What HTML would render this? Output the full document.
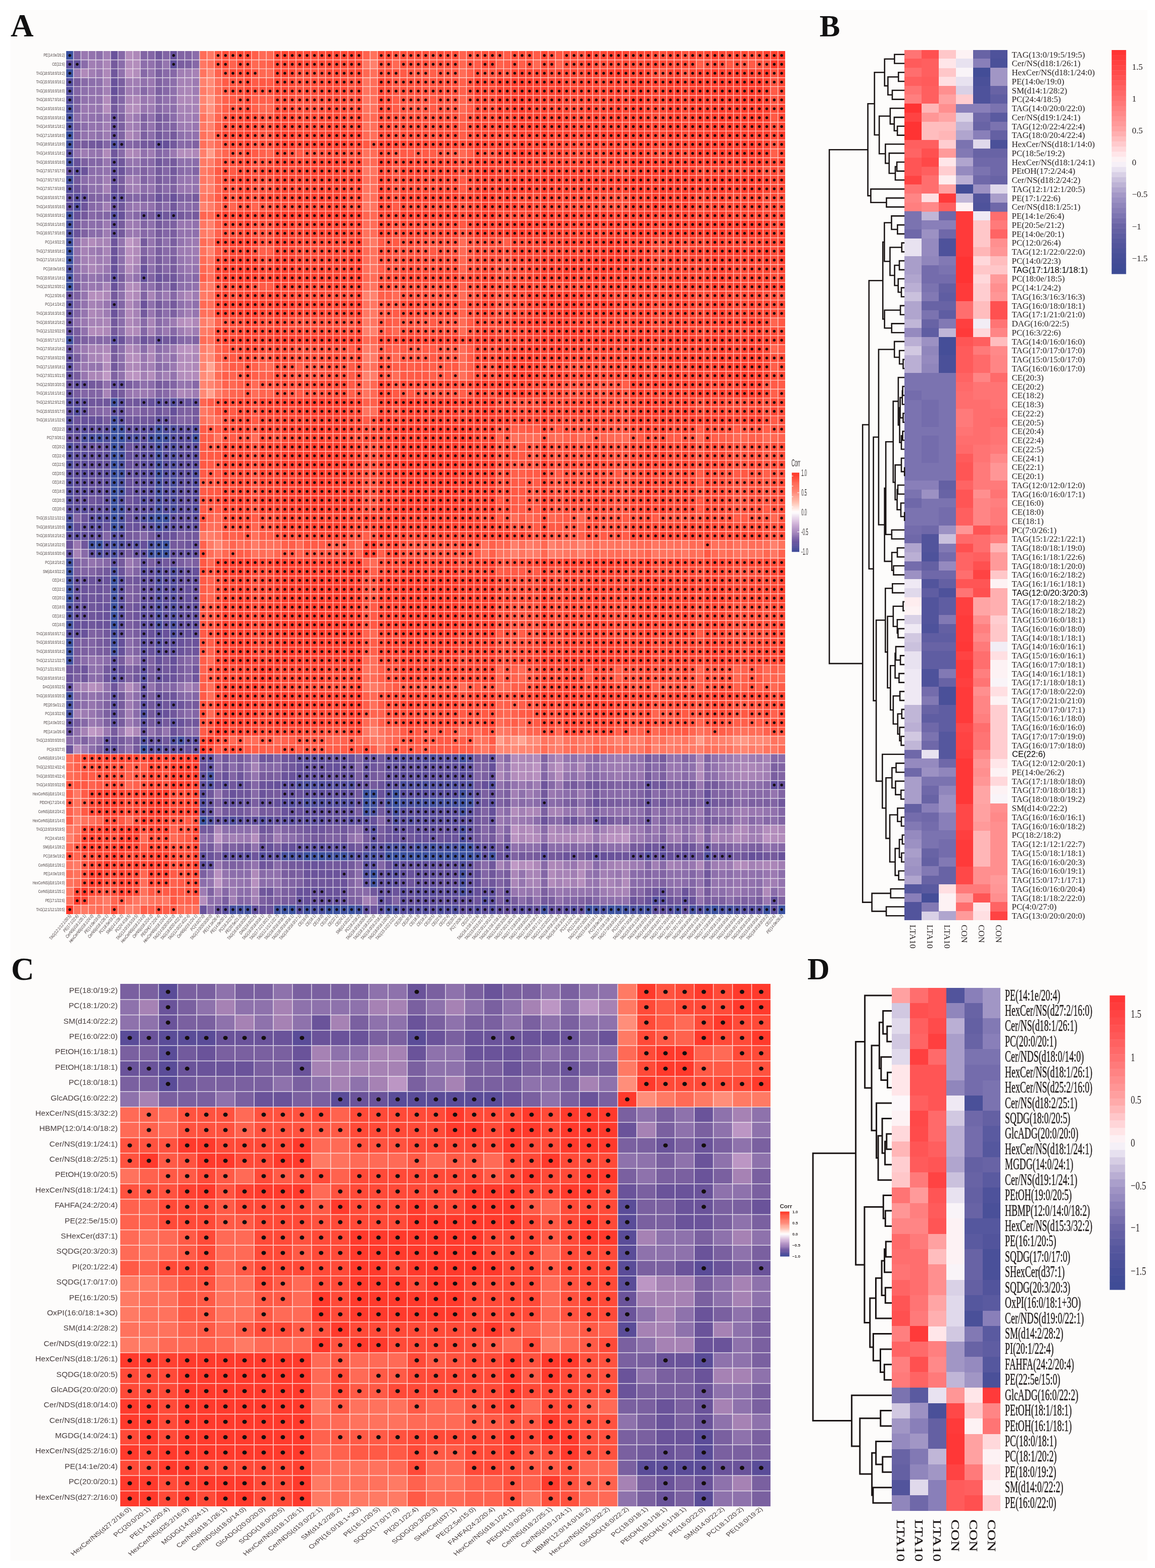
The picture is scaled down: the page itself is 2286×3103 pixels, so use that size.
<!DOCTYPE html><html><head><meta charset="utf-8"><title>Lipid correlation heatmaps</title><style>html,body{margin:0;padding:0;background:#fff}svg{display:block}</style></head><body><svg width="2286" height="3103" viewBox="0 0 2286 3103"><rect width="2286" height="3103" fill="#ffffff"/><rect x="20.7" y="19.7" width="2250.3" height="3068.8" fill="#fdfcfb"/><g font-family="Liberation Serif, serif" font-weight="bold" fill="#111"><text x="21" y="72" font-size="63">A</text><text x="1622" y="72" font-size="61">B</text><text x="22" y="1938.5" font-size="63">C</text><text x="1598" y="1937.5" font-size="61">D</text></g><g fill="none" shape-rendering="crispEdges"><path stroke="#3b52a1" stroke-width="17.91" d="M130.8 109.7h14.68M218.86 849.24h14.68M218.86 884.46h14.68M218.86 902.06h14.68M218.86 919.67h14.68M218.86 937.28h14.68M218.86 954.89h14.68M218.86 972.5h14.68M218.86 1007.71h14.68M306.91 1025.32h14.68M776.54 1588.78h14.68M791.22 1694.42h14.68M820.57 1694.42h88.06M923.3 1694.42h14.68M1539.7 1800.07h14.68"/><path stroke="#7f62a2" stroke-width="17.91" d="M145.48 109.7h14.68M306.91 162.53h14.68M233.53 232.96h14.68M277.56 232.96h14.68M321.59 232.96h14.68M145.48 268.18h14.68M380.29 285.78h14.68M277.56 338.61h14.68M336.26 373.82h14.68M174.83 391.43h14.68M365.62 391.43h14.68M160.15 461.86h14.68M145.48 585.12h14.68M380.29 673.16h14.68M218.86 743.59h14.68M174.83 814.02h14.68M365.62 814.02h14.68M145.48 1113.36h14.68M248.21 1166.18h14.68M248.21 1183.79h14.68M174.83 1254.22h14.68M262.88 1271.83h14.68M145.48 1307.05h14.68M292.24 1307.05h14.68M350.94 1307.05h14.68M248.21 1342.26h14.68M204.18 1395.09h14.68M233.53 1412.7h14.68M204.18 1430.3h14.68M306.91 1447.91h14.68M160.15 1465.52h14.68M1070.06 1500.74h14.68M1392.94 1500.74h14.68M952.66 1518.34h14.68M1304.88 1518.34h14.68M541.73 1535.95h14.68M1319.56 1553.56h14.68M1436.96 1571.17h14.68M424.32 1588.78h14.68M1495.67 1588.78h14.68M541.73 1606.38h14.68M1348.91 1623.99h14.68M1436.96 1623.99h14.68M571.08 1641.6h14.68M512.38 1659.21h14.68M644.46 1659.21h29.35M453.67 1676.82h14.68M1436.96 1676.82h14.68M1011.36 1694.42h14.68M439 1712.03h14.68M468.35 1712.03h14.68M585.76 1747.25h14.68M952.66 1747.25h14.68M1304.88 1747.25h14.68M409.64 1764.86h14.68M1246.18 1764.86h14.68M541.73 1782.46h14.68M703.16 1782.46h14.68M1143.44 1782.46h14.68M1407.61 1782.46h14.68M1539.7 1782.46h14.68"/><path stroke="#9a78b1" stroke-width="17.91" d="M160.15 109.7h14.68M145.48 144.92h14.68M292.24 162.53h14.68M160.15 215.35h14.68M336.26 303.39h14.68M365.62 373.82h14.68M262.88 409.04h14.68M248.21 461.86h29.35M380.29 514.69h14.68M204.18 532.3h14.68M365.62 532.3h14.68M174.83 567.51h14.68M160.15 637.94h14.68M321.59 655.55h14.68M160.15 725.98h14.68M277.56 725.98h14.68M336.26 725.98h14.68M292.24 778.81h14.68M145.48 1078.14h14.68M174.83 1430.3h14.68M204.18 1447.91h14.68M233.53 1447.91h14.68M1202.15 1500.74h14.68M1187.47 1518.34h14.68M1319.56 1518.34h14.68M1026.04 1553.56h14.68M1378.26 1553.56h14.68M1084.74 1571.17h14.68M982.01 1606.38h14.68M1495.67 1606.38h14.68M1026.04 1623.99h14.68M1246.18 1641.6h14.68M1290.2 1641.6h14.68M1246.18 1659.21h14.68M424.32 1676.82h14.68M424.32 1712.03h14.68M1187.47 1712.03h14.68M439 1747.25h14.68M1158.12 1747.25h14.68M1026.04 1764.86h14.68M1099.42 1764.86h14.68M1451.64 1764.86h14.68M1539.7 1764.86h14.68M732.52 1782.46h14.68M1510.34 1782.46h14.68"/><path stroke="#9373ae" stroke-width="17.91" d="M174.83 109.7h14.68M174.83 197.74h29.35M174.83 250.57h14.68M292.24 250.57h14.68M160.15 268.18h14.68M365.62 268.18h14.68M145.48 303.39h14.68M189.5 303.39h14.68M204.18 338.61h14.68M380.29 356.22h14.68M380.29 373.82h14.68M248.21 409.04h14.68M350.94 461.86h29.35M233.53 479.47h14.68M350.94 479.47h14.68M292.24 497.08h14.68M380.29 532.3h14.68M160.15 602.73h14.68M321.59 637.94h14.68M189.5 725.98h14.68M336.26 743.59h14.68M365.62 761.2h14.68M336.26 778.81h14.68M174.83 1113.36h14.68M262.88 1307.05h14.68M204.18 1359.87h14.68M292.24 1359.87h14.68M174.83 1377.48h14.68M189.5 1430.3h14.68M145.48 1447.91h14.68M292.24 1447.91h14.68M174.83 1465.52h14.68M248.21 1483.13h14.68M1187.47 1500.74h14.68M1319.56 1500.74h29.35M996.68 1518.34h14.68M1246.18 1518.34h14.68M1407.61 1518.34h14.68M1231.5 1535.95h29.35M982.01 1553.56h14.68M1011.36 1553.56h14.68M1099.42 1571.17h14.68M424.32 1606.38h14.68M497.7 1606.38h14.68M1216.82 1606.38h14.68M1422.29 1606.38h14.68M541.73 1641.6h14.68M394.97 1659.21h14.68M1290.2 1659.21h14.68M1231.5 1676.82h14.68M497.7 1712.03h14.68M1348.91 1712.03h14.68M439 1729.64h14.68M1026.04 1729.64h14.68M1378.26 1729.64h14.68M1466.32 1729.64h14.68M409.64 1747.25h14.68M483.02 1747.25h14.68M703.16 1747.25h14.68M1422.29 1747.25h14.68M1466.32 1747.25h14.68M1539.7 1747.25h14.68M1128.77 1764.86h14.68M1407.61 1764.86h14.68M424.32 1782.46h14.68M1378.26 1782.46h14.68"/><path stroke="#8c6eab" stroke-width="17.91" d="M189.5 109.7h14.68M277.56 127.31h14.68M174.83 162.53h14.68M336.26 162.53h14.68M336.26 215.35h14.68M145.48 232.96h14.68M189.5 232.96h14.68M160.15 250.57h14.68M292.24 268.18h14.68M189.5 338.61h14.68M262.88 338.61h14.68M292.24 338.61h14.68M365.62 338.61h14.68M277.56 373.82h14.68M350.94 409.04h14.68M174.83 444.26h14.68M233.53 497.08h14.68M233.53 514.69h14.68M160.15 549.9h14.68M350.94 567.51h14.68M306.91 585.12h14.68M321.59 620.34h14.68M233.53 655.55h14.68M233.53 690.77h14.68M233.53 708.38h14.68M189.5 1113.36h14.68M248.21 1271.83h14.68M248.21 1289.44h14.68M160.15 1377.48h14.68M189.5 1377.48h14.68M262.88 1377.48h14.68M160.15 1395.09h14.68M189.5 1395.09h14.68M262.88 1395.09h14.68M189.5 1412.7h14.68M262.88 1430.3h14.68M145.48 1465.52h14.68M189.5 1465.52h14.68M174.83 1483.13h14.68M1348.91 1518.34h14.68M1158.12 1535.95h14.68M1290.2 1535.95h14.68M1451.64 1553.56h14.68M1495.67 1553.56h14.68M1114.09 1571.17h14.68M1143.44 1588.78h14.68M1348.91 1606.38h14.68M1407.61 1606.38h14.68M1319.56 1623.99h14.68M1525.02 1623.99h14.68M439 1641.6h14.68M468.35 1641.6h29.35M1348.91 1641.6h14.68M556.4 1659.21h29.35M1040.71 1676.82h29.35M1084.74 1676.82h14.68M1202.15 1676.82h29.35M409.64 1729.64h14.68M453.67 1729.64h44.03M703.16 1729.64h14.68M1348.91 1729.64h14.68M1436.96 1729.64h14.68M1539.7 1729.64h14.68M394.97 1747.25h14.68M1260.85 1747.25h14.68M1495.67 1747.25h14.68M468.35 1764.86h29.35M1172.8 1764.86h14.68M1422.29 1764.86h14.68M409.64 1782.46h14.68M1436.96 1782.46h14.68"/><path stroke="#a17eb4" stroke-width="17.91" d="M204.18 109.7h14.68M174.83 127.31h14.68M174.83 144.92h14.68M350.94 144.92h14.68M248.21 162.53h29.35M248.21 180.14h14.68M292.24 197.74h14.68M350.94 232.96h14.68M204.18 250.57h14.68M204.18 356.22h14.68M262.88 373.82h14.68M204.18 409.04h14.68M350.94 585.12h14.68M189.5 602.73h14.68M365.62 620.34h14.68M248.21 1307.05h14.68M1114.09 1518.34h14.68M1143.44 1535.95h14.68M1436.96 1535.95h14.68M1510.34 1535.95h14.68M1466.32 1606.38h14.68M1319.56 1641.6h14.68M1495.67 1641.6h14.68M541.73 1659.21h14.68M1480.99 1659.21h29.35M1290.2 1712.03h14.68M1334.23 1712.03h14.68M1422.29 1712.03h14.68M1539.7 1712.03h14.68M1128.77 1729.64h14.68M1510.34 1747.25h29.35"/><path stroke="#69529b" stroke-width="17.91" d="M218.86 109.7h14.68M218.86 162.53h14.68M145.48 321h14.68M336.26 391.43h14.68M145.48 426.65h14.68M233.53 426.65h14.68M218.86 514.69h14.68M277.56 532.3h14.68M306.91 549.9h14.68M218.86 567.51h14.68M248.21 954.89h14.68M189.5 990.1h14.68M248.21 1025.32h14.68M204.18 1042.93h14.68M262.88 1042.93h14.68M321.59 1060.54h14.68M204.18 1201.4h14.68M204.18 1219.01h14.68M160.15 1236.62h14.68M160.15 1254.22h14.68M292.24 1254.22h14.68M321.59 1254.22h14.68M350.94 1271.83h14.68M292.24 1289.44h14.68M336.26 1324.66h14.68M130.8 1342.26h14.68M321.59 1412.7h14.68M350.94 1430.3h14.68M218.86 1465.52h14.68M130.8 1483.13h14.68M365.62 1483.13h14.68M394.97 1518.34h14.68M439 1535.95h14.68M571.08 1535.95h14.68M527.05 1553.56h14.68M1304.88 1553.56h14.68M453.67 1571.17h14.68M585.76 1571.17h14.68M747.19 1571.17h14.68M1172.8 1588.78h14.68M556.4 1606.38h14.68M585.76 1606.38h14.68M1187.47 1623.99h14.68M761.87 1641.6h14.68M776.54 1659.21h14.68M835.25 1659.21h14.68M1275.53 1676.82h14.68M409.64 1694.42h14.68M1158.12 1694.42h14.68M1202.15 1694.42h14.68M1495.67 1694.42h14.68M1539.7 1694.42h14.68M615.11 1712.03h29.35M761.87 1712.03h14.68M805.9 1729.64h14.68M585.76 1764.86h29.35M1275.53 1782.46h14.68M1363.58 1782.46h14.68M394.97 1800.07h14.68M512.38 1800.07h14.68"/><path stroke="#8668a7" stroke-width="17.91" d="M233.53 109.7h14.68M380.29 127.31h14.68M277.56 144.92h14.68M336.26 144.92h14.68M277.56 180.14h14.68M321.59 180.14h14.68M306.91 197.74h14.68M306.91 215.35h14.68M248.21 285.78h14.68M365.62 285.78h14.68M174.83 409.04h14.68M380.29 409.04h14.68M174.83 426.65h14.68M262.88 426.65h14.68M277.56 461.86h14.68M321.59 532.3h14.68M350.94 549.9h14.68M380.29 549.9h14.68M233.53 567.51h14.68M336.26 585.12h14.68M321.59 602.73h14.68M336.26 655.55h14.68M174.83 673.16h14.68M380.29 761.2h14.68M262.88 814.02h14.68M277.56 1060.54h14.68M204.18 1113.36h14.68M204.18 1377.48h14.68M160.15 1430.3h14.68M996.68 1500.74h14.68M1172.8 1500.74h14.68M1290.2 1500.74h14.68M1525.02 1500.74h14.68M1392.94 1518.34h14.68M1172.8 1535.95h14.68M1084.74 1553.56h14.68M1143.44 1553.56h14.68M1510.34 1553.56h14.68M1128.77 1571.17h14.68M1187.47 1571.17h14.68M1480.99 1571.17h14.68M1451.64 1588.78h29.35M747.19 1623.99h14.68M1246.18 1623.99h14.68M1480.99 1623.99h14.68M1510.34 1623.99h14.68M952.66 1641.6h14.68M1275.53 1641.6h14.68M1392.94 1659.21h14.68M1158.12 1676.82h14.68M1539.7 1676.82h14.68M483.02 1712.03h14.68M703.16 1712.03h14.68M1070.06 1747.25h14.68M1275.53 1747.25h29.35M439 1764.86h14.68"/><path stroke="#b38dbc" stroke-width="17.91" d="M248.21 109.7h14.68M248.21 127.31h29.35M262.88 144.92h14.68M248.21 215.35h29.35M350.94 303.39h29.35M262.88 479.47h14.68M248.21 532.3h14.68M248.21 567.51h14.68M248.21 655.55h14.68M365.62 708.38h14.68M204.18 725.98h14.68M365.62 725.98h14.68M292.24 743.59h14.68M350.94 743.59h14.68M1026.04 1518.34h29.35M1378.26 1518.34h14.68M1011.36 1535.95h14.68M1378.26 1535.95h14.68M1011.36 1606.38h14.68M1231.5 1641.6h14.68M1451.64 1641.6h14.68M1510.34 1641.6h29.35M1084.74 1659.21h14.68M1158.12 1659.21h14.68M1187.47 1659.21h14.68M1451.64 1659.21h14.68M1525.02 1659.21h29.35M1026.04 1712.03h14.68"/><path stroke="#ae88b9" stroke-width="17.91" d="M262.88 109.7h14.68M204.18 144.92h14.68M262.88 197.74h14.68M350.94 197.74h29.35M248.21 268.18h14.68M380.29 303.39h14.68M262.88 514.69h14.68M204.18 585.12h14.68M365.62 585.12h14.68M248.21 602.73h14.68M174.83 620.34h14.68M380.29 637.94h14.68M204.18 655.55h14.68M204.18 690.77h14.68M292.24 708.38h14.68M248.21 725.98h29.35M380.29 725.98h14.68M350.94 778.81h14.68M262.88 1447.91h14.68M1026.04 1500.74h14.68M1099.42 1500.74h14.68M1378.26 1500.74h14.68M1143.44 1518.34h14.68M1466.32 1518.34h14.68M982.01 1535.95h14.68M1466.32 1535.95h14.68M1040.71 1606.38h14.68M424.32 1641.6h14.68M1026.04 1641.6h14.68M1202.15 1641.6h14.68M1466.32 1641.6h14.68M1539.7 1641.6h14.68M1026.04 1659.21h14.68M1128.77 1659.21h14.68M1407.61 1659.21h14.68M1055.39 1712.03h14.68M1084.74 1712.03h14.68M1143.44 1712.03h14.68M1510.34 1712.03h14.68M1114.09 1747.25h14.68"/><path stroke="#8164a4" stroke-width="17.91" d="M277.56 109.7h14.68M321.59 109.7h14.68M350.94 109.7h29.35M306.91 127.31h14.68M145.48 215.35h14.68M277.56 250.57h14.68M336.26 250.57h14.68M233.53 268.18h14.68M321.59 268.18h14.68M262.88 285.78h14.68M380.29 338.61h14.68M277.56 356.22h14.68M160.15 373.82h14.68M189.5 391.43h14.68M248.21 391.43h14.68M292.24 391.43h14.68M189.5 426.65h14.68M277.56 444.26h14.68M321.59 444.26h14.68M277.56 497.08h14.68M336.26 497.08h14.68M292.24 549.9h14.68M277.56 585.12h14.68M336.26 761.2h14.68M174.83 778.81h14.68M306.91 778.81h14.68M292.24 814.02h14.68M365.62 831.63h14.68M145.48 1025.32h14.68M160.15 1130.97h29.35M262.88 1130.97h14.68M174.83 1271.83h14.68M174.83 1289.44h14.68M262.88 1289.44h14.68M380.29 1307.05h14.68M248.21 1324.66h14.68M350.94 1412.7h14.68M541.73 1500.74h14.68M1348.91 1500.74h14.68M937.98 1518.34h14.68M1539.7 1518.34h14.68M453.67 1535.95h14.68M1539.7 1535.95h14.68M996.68 1553.56h14.68M1216.82 1553.56h14.68M1422.29 1553.56h14.68M1260.85 1571.17h14.68M1407.61 1571.17h14.68M1539.7 1571.17h14.68M982.01 1588.78h14.68M1525.02 1588.78h14.68M952.66 1606.38h14.68M1172.8 1606.38h14.68M1304.88 1606.38h14.68M1143.44 1623.99h14.68M1216.82 1623.99h14.68M1260.85 1623.99h14.68M1334.23 1623.99h14.68M1422.29 1623.99h14.68M1539.7 1623.99h14.68M556.4 1641.6h14.68M688.49 1641.6h14.68M1392.94 1641.6h14.68M527.05 1659.21h14.68M1304.88 1659.21h14.68M1407.61 1676.82h14.68M1275.53 1729.64h14.68M1304.88 1729.64h14.68M556.4 1747.25h29.35M688.49 1747.25h14.68M982.01 1747.25h14.68M688.49 1764.86h14.68M1319.56 1764.86h14.68M776.54 1782.46h14.68M1451.64 1782.46h14.68"/><path stroke="#8366a6" stroke-width="17.91" d="M292.24 109.7h14.68M145.48 180.14h14.68M233.53 197.74h14.68M321.59 250.57h14.68M204.18 285.78h14.68M306.91 303.39h14.68M174.83 321h29.35M277.56 321h14.68M321.59 338.61h14.68M321.59 356.22h14.68M262.88 391.43h14.68M204.18 426.65h14.68M321.59 461.86h14.68M145.48 549.9h14.68M277.56 567.51h14.68M145.48 602.73h14.68M233.53 602.73h14.68M145.48 620.34h14.68M277.56 655.55h14.68M189.5 673.16h14.68M350.94 673.16h14.68M262.88 761.2h14.68M160.15 778.81h14.68M189.5 778.81h14.68M189.5 814.02h14.68M248.21 814.02h14.68M350.94 831.63h14.68M204.18 1060.54h14.68M365.62 1113.36h14.68M248.21 1254.22h14.68M365.62 1324.66h14.68M365.62 1342.26h14.68M336.26 1359.87h14.68M350.94 1377.48h14.68M380.29 1377.48h14.68M145.48 1395.09h14.68M380.29 1412.7h14.68M453.67 1500.74h14.68M483.02 1500.74h14.68M512.38 1518.34h29.35M703.16 1518.34h14.68M483.02 1535.95h14.68M937.98 1535.95h14.68M1070.06 1535.95h14.68M497.7 1553.56h14.68M1246.18 1571.17h14.68M1334.23 1571.17h29.35M1422.29 1571.17h14.68M1378.26 1588.78h14.68M1539.7 1606.38h14.68M1084.74 1623.99h14.68M1158.12 1623.99h14.68M1363.58 1623.99h14.68M996.68 1641.6h14.68M1304.88 1641.6h14.68M585.76 1659.21h14.68M952.66 1659.21h14.68M1128.77 1676.82h14.68M1466.32 1676.82h14.68M747.19 1712.03h14.68M1275.53 1712.03h14.68M1392.94 1712.03h14.68M952.66 1729.64h14.68M982.01 1729.64h14.68M1070.06 1729.64h14.68M1363.58 1729.64h14.68M1363.58 1747.25h14.68M982.01 1764.86h14.68M468.35 1782.46h14.68M1114.09 1782.46h29.35M1172.8 1782.46h14.68M1480.99 1782.46h14.68"/><path stroke="#70579c" stroke-width="17.91" d="M306.91 109.7h14.68M218.86 144.92h14.68M218.86 197.74h14.68M189.5 285.78h14.68M218.86 303.39h14.68M233.53 321h14.68M306.91 321h14.68M233.53 409.04h14.68M321.59 426.65h14.68M336.26 549.9h14.68M336.26 567.51h14.68M174.83 796.42h44.03M262.88 796.42h14.68M262.88 831.63h44.03M248.21 990.1h14.68M160.15 1078.14h14.68M262.88 1148.58h14.68M174.83 1166.18h14.68M174.83 1183.79h14.68M174.83 1201.4h14.68M174.83 1219.01h14.68M174.83 1236.62h14.68M365.62 1271.83h14.68M380.29 1324.66h14.68M160.15 1342.26h14.68M262.88 1342.26h14.68M321.59 1377.48h14.68M321.59 1395.09h14.68M336.26 1412.7h14.68M380.29 1430.3h14.68M321.59 1465.52h14.68M439 1500.74h14.68M527.05 1500.74h14.68M571.08 1518.34h14.68M453.67 1553.56h14.68M1158.12 1553.56h29.35M409.64 1571.17h14.68M468.35 1571.17h29.35M1275.53 1571.17h14.68M1363.58 1588.78h14.68M1539.7 1588.78h14.68M937.98 1606.38h14.68M937.98 1623.99h14.68M512.38 1641.6h14.68M673.81 1641.6h14.68M937.98 1641.6h14.68M967.33 1641.6h14.68M805.9 1659.21h14.68M1290.2 1676.82h14.68M1363.58 1676.82h14.68M1378.26 1694.42h14.68M1466.32 1694.42h14.68M1510.34 1694.42h14.68M967.33 1712.03h14.68M967.33 1729.64h14.68M1392.94 1729.64h14.68M600.43 1747.25h73.38M967.33 1747.25h14.68M512.38 1764.86h14.68M732.52 1764.86h14.68"/><path stroke="#66509a" stroke-width="17.91" d="M336.26 109.7h14.68M218.86 180.14h14.68M321.59 285.78h14.68M218.86 373.82h14.68M218.86 409.04h14.68M277.56 426.65h14.68M218.86 532.3h14.68M292.24 796.42h14.68M365.62 796.42h14.68M336.26 814.02h14.68M160.15 831.63h44.03M174.83 884.46h14.68M248.21 902.06h14.68M262.88 919.67h14.68M248.21 972.5h14.68M145.48 990.1h14.68M262.88 990.1h14.68M248.21 1007.71h14.68M145.48 1042.93h14.68M277.56 1042.93h14.68M277.56 1078.14h14.68M365.62 1130.97h29.35M189.5 1148.58h14.68M350.94 1166.18h29.35M350.94 1183.79h29.35M145.48 1236.62h14.68M365.62 1254.22h14.68M233.53 1271.83h14.68M292.24 1271.83h14.68M233.53 1289.44h14.68M306.91 1307.05h14.68M336.26 1307.05h14.68M233.53 1324.66h14.68M306.91 1324.66h14.68M130.8 1447.91h14.68M688.49 1500.74h14.68M585.76 1518.34h14.68M644.46 1518.34h29.35M688.49 1518.34h14.68M967.33 1518.34h14.68M644.46 1535.95h29.35M541.73 1553.56h14.68M952.66 1553.56h14.68M1539.7 1553.56h14.68M1392.94 1571.17h14.68M527.05 1588.78h29.35M571.08 1606.38h14.68M967.33 1606.38h14.68M732.52 1623.99h14.68M761.87 1623.99h14.68M1275.53 1623.99h14.68M805.9 1641.6h14.68M864.6 1641.6h14.68M791.22 1659.21h14.68M820.57 1659.21h14.68M879.28 1659.21h14.68M527.05 1676.82h14.68M556.4 1676.82h29.35M1187.47 1694.42h14.68M1290.2 1694.42h14.68M1319.56 1694.42h14.68M1480.99 1694.42h14.68M673.81 1729.64h14.68M937.98 1729.64h14.68M893.95 1747.25h14.68M937.98 1747.25h14.68M937.98 1764.86h14.68M600.43 1782.46h14.68M761.87 1782.46h14.68M805.9 1782.46h14.68M424.32 1800.07h14.68"/><path stroke="#8a6caa" stroke-width="17.91" d="M380.29 109.7h14.68M160.15 127.31h14.68M233.53 127.31h14.68M233.53 215.35h14.68M336.26 232.96h14.68M321.59 303.39h14.68M380.29 321h14.68M174.83 338.61h14.68M248.21 338.61h14.68M160.15 356.22h14.68M321.59 373.82h14.68M189.5 409.04h14.68M321.59 409.04h14.68M365.62 409.04h14.68M189.5 444.26h14.68M174.83 461.86h29.35M233.53 532.3h14.68M204.18 549.9h14.68M321.59 567.51h14.68M233.53 637.94h14.68M306.91 655.55h14.68M277.56 690.77h14.68M306.91 690.77h14.68M145.48 725.98h14.68M292.24 761.2h14.68M204.18 814.02h14.68M160.15 1307.05h14.68M204.18 1307.05h14.68M174.83 1342.26h14.68M365.62 1377.48h14.68M262.88 1412.7h14.68M365.62 1412.7h14.68M380.29 1447.91h14.68M130.8 1465.52h14.68M424.32 1500.74h14.68M1363.58 1500.74h14.68M1539.7 1500.74h14.68M453.67 1518.34h14.68M483.02 1518.34h14.68M1290.2 1518.34h14.68M1436.96 1553.56h14.68M1158.12 1571.17h14.68M1290.2 1571.17h14.68M1319.56 1571.17h14.68M1378.26 1571.17h14.68M1055.39 1588.78h14.68M1084.74 1588.78h14.68M996.68 1606.38h14.68M1055.39 1623.99h14.68M453.67 1641.6h14.68M1348.91 1659.21h14.68M1099.42 1676.82h14.68M1187.47 1676.82h14.68M1451.64 1676.82h14.68M1525.02 1676.82h14.68M541.73 1712.03h14.68M952.66 1712.03h14.68M1172.8 1712.03h14.68M1246.18 1729.64h29.35M1290.2 1729.64h14.68M512.38 1747.25h14.68M1246.18 1747.25h14.68M1348.91 1747.25h14.68M541.73 1764.86h14.68M1334.23 1764.86h14.68M1525.02 1764.86h14.68M1026.04 1782.46h14.68M409.64 1800.07h14.68"/><path stroke="#ff6d58" stroke-width="17.91" d="M394.97 109.7h14.68M908.63 144.92h14.68M732.52 180.14h14.68M732.52 303.39h14.68M717.84 321h14.68M732.52 444.26h14.68M908.63 479.47h14.68M717.84 514.69h14.68M732.52 549.9h14.68M908.63 585.12h14.68M908.63 690.77h14.68M908.63 708.38h14.68M439 778.81h14.68M497.7 778.81h14.68M497.7 866.85h14.68M1040.71 866.85h29.35M1143.44 866.85h14.68M1231.5 866.85h14.68M1510.34 866.85h14.68M424.32 1042.93h14.68M512.38 1078.14h14.68M703.16 1078.14h14.68M1172.8 1078.14h14.68M1260.85 1078.14h14.68M1378.26 1078.14h14.68M1480.99 1078.14h14.68M409.64 1095.75h14.68M512.38 1095.75h14.68M1202.15 1095.75h14.68M1363.58 1095.75h14.68M732.52 1113.36h14.68M717.84 1342.26h29.35M409.64 1359.87h14.68M908.63 1359.87h14.68M982.01 1359.87h14.68M409.64 1377.48h14.68M982.01 1430.3h14.68M761.87 1447.91h14.68M483.02 1465.52h29.35M717.84 1465.52h14.68M1539.7 1483.13h14.68M130.8 1518.34h14.68M248.21 1623.99h14.68M277.56 1659.21h14.68M365.62 1800.07h14.68"/><path stroke="#ff7864" stroke-width="17.91" d="M409.64 109.7h14.68M394.97 250.57h14.68M717.84 338.61h14.68M717.84 409.04h14.68M409.64 514.69h14.68M409.64 585.12h14.68M394.97 814.02h14.68M424.32 1095.75h14.68M1290.2 1095.75h14.68M1348.91 1095.75h14.68M717.84 1447.91h14.68M1143.44 1465.52h14.68M1202.15 1465.52h14.68M1539.7 1465.52h14.68M952.66 1483.13h14.68M1422.29 1483.13h14.68M145.48 1571.17h14.68M321.59 1782.46h14.68"/><path stroke="#ff5944" stroke-width="17.91" d="M424.32 109.7h14.68M1099.42 109.7h14.68M1436.96 127.31h14.68M820.57 144.92h29.35M879.28 144.92h14.68M512.38 162.53h14.68M439 180.14h14.68M453.67 197.74h29.35M849.92 197.74h14.68M923.3 197.74h14.68M805.9 215.35h14.68M1525.02 232.96h14.68M717.84 285.78h14.68M468.35 303.39h14.68M776.54 303.39h14.68M820.57 303.39h14.68M879.28 303.39h29.35M424.32 338.61h14.68M453.67 338.61h14.68M776.54 338.61h14.68M453.67 391.43h14.68M908.63 444.26h14.68M776.54 479.47h14.68M849.92 479.47h14.68M849.92 497.08h14.68M923.3 497.08h14.68M747.19 620.34h14.68M688.49 637.94h14.68M761.87 637.94h14.68M791.22 637.94h14.68M835.25 637.94h14.68M923.3 637.94h14.68M1539.7 637.94h14.68M439 690.77h14.68M820.57 690.77h14.68M879.28 690.77h14.68M453.67 708.38h14.68M512.38 708.38h14.68M923.3 708.38h14.68M820.57 725.98h14.68M879.28 725.98h29.35M468.35 743.59h14.68M820.57 743.59h14.68M879.28 743.59h29.35M776.54 778.81h14.68M805.9 778.81h14.68M849.92 778.81h14.68M424.32 814.02h14.68M453.67 814.02h14.68M497.7 831.63h14.68M409.64 849.24h14.68M497.7 849.24h14.68M1040.71 849.24h14.68M1099.42 849.24h14.68M1216.82 849.24h14.68M1466.32 849.24h14.68M1260.85 866.85h14.68M394.97 884.46h29.35M1011.36 884.46h29.35M1378.26 884.46h14.68M409.64 902.06h29.35M1011.36 902.06h29.35M1055.39 902.06h14.68M1378.26 902.06h14.68M1510.34 902.06h14.68M394.97 919.67h14.68M497.7 937.28h14.68M982.01 937.28h14.68M1216.82 937.28h29.35M1466.32 937.28h14.68M394.97 954.89h14.68M1099.42 954.89h14.68M1510.34 954.89h14.68M409.64 972.5h29.35M1011.36 972.5h29.35M1055.39 972.5h14.68M1378.26 972.5h14.68M1510.34 972.5h14.68M732.52 990.1h14.68M982.01 990.1h14.68M1451.64 990.1h14.68M409.64 1007.71h14.68M497.7 1007.71h14.68M1099.42 1007.71h14.68M982.01 1025.32h14.68M1231.5 1025.32h14.68M1348.91 1025.32h14.68M1378.26 1025.32h14.68M1099.42 1042.93h14.68M1114.09 1060.54h14.68M600.43 1078.14h14.68M644.46 1078.14h29.35M805.9 1078.14h14.68M1392.94 1095.75h14.68M394.97 1113.36h14.68M1099.42 1130.97h14.68M732.52 1166.18h14.68M732.52 1183.79h14.68M732.52 1236.62h14.68M409.64 1342.26h14.68M1040.71 1342.26h14.68M1495.67 1342.26h14.68M791.22 1359.87h14.68M849.92 1359.87h14.68M923.3 1359.87h29.35M1011.36 1395.09h14.68M1378.26 1395.09h14.68M1466.32 1395.09h14.68M952.66 1412.7h14.68M1040.71 1412.7h14.68M1304.88 1412.7h14.68M1348.91 1412.7h14.68M1466.32 1412.7h14.68M1055.39 1430.3h14.68M1480.99 1430.3h14.68M820.57 1447.91h14.68M879.28 1447.91h14.68M952.66 1447.91h14.68M1348.91 1447.91h14.68M1539.7 1447.91h14.68M512.38 1465.52h14.68M791.22 1465.52h14.68M820.57 1465.52h14.68M879.28 1465.52h29.35M923.3 1465.52h14.68M703.16 1483.13h14.68M835.25 1483.13h14.68M864.6 1483.13h14.68M893.95 1483.13h14.68M248.21 1518.34h14.68M160.15 1535.95h14.68M145.48 1553.56h29.35M160.15 1588.78h14.68M160.15 1606.38h14.68M233.53 1623.99h14.68M365.62 1659.21h14.68M145.48 1676.82h14.68M277.56 1676.82h14.68M292.24 1764.86h29.35M336.26 1764.86h29.35M233.53 1782.46h14.68M336.26 1782.46h14.68"/><path stroke="#ff4c38" stroke-width="17.91" d="M439 109.7h14.68M747.19 109.7h14.68M864.6 109.7h14.68M967.33 109.7h14.68M1011.36 109.7h14.68M1040.71 109.7h14.68M1114.09 109.7h29.35M1378.26 109.7h14.68M468.35 127.31h14.68M1011.36 127.31h14.68M1084.74 127.31h14.68M1128.77 127.31h14.68M1216.82 127.31h14.68M1260.85 127.31h14.68M468.35 144.92h14.68M673.81 144.92h14.68M937.98 144.92h14.68M571.08 162.53h14.68M600.43 162.53h44.03M864.6 162.53h14.68M600.43 180.14h44.03M761.87 180.14h14.68M864.6 180.14h14.68M556.4 197.74h14.68M673.81 197.74h14.68M761.87 197.74h14.68M571.08 215.35h14.68M673.81 215.35h14.68M761.87 215.35h14.68M1143.44 215.35h14.68M468.35 232.96h14.68M497.7 232.96h14.68M688.49 232.96h14.68M864.6 232.96h14.68M967.33 232.96h14.68M497.7 250.57h14.68M791.22 250.57h14.68M835.25 250.57h14.68M497.7 268.18h14.68M791.22 268.18h14.68M1143.44 285.78h14.68M556.4 303.39h14.68M644.46 303.39h29.35M703.16 303.39h14.68M1084.74 303.39h14.68M1539.7 303.39h14.68M468.35 321h14.68M468.35 338.61h14.68M1231.5 338.61h14.68M453.67 356.22h14.68M923.3 356.22h14.68M805.9 373.82h14.68M923.3 373.82h14.68M1026.04 391.43h14.68M483.02 409.04h14.68M571.08 409.04h14.68M1055.39 409.04h14.68M1202.15 409.04h29.35M908.63 426.65h14.68M453.67 444.26h14.68M849.92 444.26h14.68M923.3 444.26h14.68M1525.02 444.26h14.68M468.35 461.86h14.68M849.92 461.86h14.68M805.9 479.47h14.68M967.33 479.47h14.68M1026.04 479.47h14.68M1348.91 479.47h14.68M615.11 497.08h29.35M761.87 497.08h14.68M1290.2 497.08h14.68M1525.02 497.08h14.68M805.9 514.69h14.68M864.6 514.69h14.68M893.95 514.69h14.68M937.98 514.69h14.68M1290.2 514.69h14.68M820.57 532.3h29.35M879.28 532.3h14.68M937.98 532.3h14.68M1026.04 532.3h14.68M453.67 567.51h14.68M805.9 567.51h44.03M879.28 567.51h14.68M1055.39 567.51h14.68M600.43 585.12h14.68M644.46 585.12h29.35M1392.94 585.12h14.68M1451.64 585.12h14.68M791.22 602.73h14.68M849.92 602.73h14.68M923.3 602.73h14.68M1525.02 602.73h29.35M820.57 620.34h29.35M879.28 620.34h14.68M937.98 620.34h14.68M1026.04 620.34h14.68M1539.7 620.34h14.68M424.32 655.55h14.68M673.81 655.55h14.68M805.9 655.55h14.68M996.68 655.55h14.68M1026.04 655.55h14.68M1378.26 655.55h14.68M1525.02 655.55h14.68M556.4 690.77h14.68M1158.12 690.77h14.68M1290.2 690.77h14.68M747.19 708.38h14.68M967.33 708.38h14.68M1539.7 708.38h14.68M1084.74 725.98h14.68M1114.09 725.98h14.68M1187.47 725.98h14.68M1231.5 725.98h14.68M1304.88 725.98h14.68M703.16 743.59h14.68M1525.02 743.59h29.35M600.43 761.2h14.68M805.9 761.2h14.68M1084.74 761.2h14.68M644.46 778.81h44.03M1040.71 796.42h14.68M1231.5 796.42h14.68M1436.96 796.42h14.68M1539.7 796.42h14.68M908.63 814.02h14.68M527.05 831.63h14.68M1114.09 831.63h14.68M1187.47 831.63h29.35M1510.34 831.63h14.68M1128.77 849.24h14.68M1260.85 849.24h14.68M1319.56 849.24h29.35M512.38 866.85h14.68M688.49 866.85h14.68M717.84 866.85h14.68M952.66 866.85h14.68M1275.53 866.85h14.68M1202.15 884.46h14.68M453.67 902.06h14.68M1114.09 902.06h14.68M1158.12 902.06h14.68M1187.47 902.06h14.68M1202.15 919.67h14.68M1436.96 919.67h14.68M1480.99 919.67h29.35M1539.7 919.67h14.68M1128.77 937.28h14.68M1246.18 937.28h29.35M453.67 954.89h14.68M1114.09 954.89h14.68M1158.12 954.89h14.68M1187.47 954.89h14.68M1422.29 954.89h14.68M453.67 972.5h14.68M1114.09 972.5h14.68M1158.12 972.5h14.68M1187.47 972.5h14.68M996.68 990.1h14.68M1084.74 990.1h14.68M1158.12 990.1h14.68M1202.15 990.1h14.68M1231.5 990.1h14.68M1319.56 990.1h14.68M1128.77 1007.71h14.68M1407.61 1007.71h29.35M541.73 1025.32h14.68M468.35 1042.93h14.68M1216.82 1042.93h14.68M1451.64 1042.93h44.03M571.08 1060.54h14.68M1040.71 1060.54h14.68M1539.7 1060.54h14.68M908.63 1095.75h14.68M1011.36 1113.36h14.68M1378.26 1113.36h14.68M394.97 1130.97h14.68M908.63 1130.97h14.68M1436.96 1130.97h14.68M982.01 1148.58h14.68M1084.74 1148.58h14.68M1451.64 1148.58h29.35M1510.34 1148.58h14.68M982.01 1166.18h14.68M1143.44 1166.18h14.68M1378.26 1166.18h14.68M982.01 1183.79h14.68M1143.44 1183.79h14.68M1378.26 1183.79h14.68M497.7 1201.4h14.68M1216.82 1201.4h14.68M1480.99 1201.4h29.35M497.7 1219.01h14.68M1216.82 1219.01h14.68M1480.99 1219.01h29.35M424.32 1236.62h14.68M497.7 1236.62h14.68M996.68 1236.62h14.68M1143.44 1236.62h14.68M1480.99 1236.62h29.35M497.7 1254.22h14.68M747.19 1271.83h14.68M1290.2 1271.83h14.68M1451.64 1271.83h14.68M1495.67 1271.83h14.68M1055.39 1289.44h14.68M1378.26 1289.44h14.68M1466.32 1289.44h14.68M776.54 1307.05h14.68M453.67 1324.66h14.68M937.98 1324.66h14.68M424.32 1342.26h14.68M908.63 1342.26h14.68M585.76 1359.87h58.7M1407.61 1359.87h44.03M1290.2 1377.48h14.68M761.87 1395.09h14.68M1246.18 1395.09h14.68M1348.91 1395.09h29.35M1436.96 1395.09h14.68M1510.34 1395.09h29.35M527.05 1412.7h14.68M820.57 1412.7h29.35M879.28 1412.7h14.68M1158.12 1412.7h14.68M1260.85 1412.7h14.68M1334.23 1412.7h14.68M1539.7 1430.3h14.68M512.38 1447.91h14.68M600.43 1447.91h14.68M1084.74 1447.91h14.68M688.49 1483.13h14.68M189.5 1518.34h29.35M321.59 1518.34h14.68M218.86 1535.95h14.68M365.62 1571.17h14.68M248.21 1606.38h14.68M292.24 1659.21h14.68M130.8 1694.42h14.68M350.94 1694.42h14.68M174.83 1712.03h14.68M365.62 1712.03h14.68M365.62 1729.64h14.68M204.18 1747.25h14.68M218.86 1800.07h14.68"/><path stroke="#ff4e3a" stroke-width="17.91" d="M453.67 109.7h14.68M805.9 109.7h14.68M835.25 109.7h14.68M893.95 109.7h14.68M1026.04 109.7h14.68M1480.99 109.7h14.68M835.25 127.31h14.68M864.6 127.31h14.68M893.95 127.31h14.68M1040.71 127.31h14.68M1114.09 127.31h14.68M1143.44 127.31h14.68M1172.8 127.31h29.35M1422.29 127.31h14.68M1451.64 127.31h14.68M600.43 144.92h14.68M761.87 144.92h14.68M1084.74 144.92h14.68M820.57 162.53h14.68M879.28 162.53h29.35M453.67 180.14h14.68M820.57 180.14h14.68M879.28 180.14h29.35M1539.7 180.14h14.68M571.08 197.74h14.68M967.33 197.74h14.68M1525.02 215.35h14.68M585.76 232.96h14.68M776.54 232.96h14.68M805.9 232.96h29.35M879.28 232.96h29.35M439 250.57h14.68M512.38 250.57h14.68M849.92 250.57h14.68M923.3 250.57h14.68M1525.02 250.57h14.68M923.3 268.18h14.68M512.38 285.78h14.68M673.81 303.39h14.68M761.87 303.39h14.68M1143.44 303.39h14.68M1304.88 303.39h14.68M1348.91 303.39h14.68M776.54 321h14.68M688.49 338.61h14.68M1378.26 338.61h14.68M439 356.22h14.68M497.7 356.22h14.68M849.92 356.22h14.68M468.35 373.82h14.68M688.49 373.82h14.68M849.92 373.82h14.68M1231.5 391.43h14.68M1378.26 391.43h14.68M1187.47 409.04h14.68M1231.5 409.04h14.68M439 444.26h14.68M864.6 479.47h14.68M952.66 479.47h14.68M1290.2 479.47h29.35M585.76 497.08h14.68M747.19 497.08h14.68M820.57 514.69h29.35M879.28 514.69h14.68M982.01 514.69h14.68M791.22 532.3h14.68M1290.2 532.3h14.68M1525.02 532.3h14.68M996.68 549.9h14.68M1525.02 549.9h14.68M791.22 567.51h14.68M673.81 585.12h14.68M805.9 585.12h14.68M1026.04 585.12h14.68M1378.26 585.12h14.68M1525.02 585.12h14.68M1026.04 602.73h14.68M791.22 620.34h14.68M1525.02 620.34h14.68M453.67 637.94h14.68M512.38 637.94h14.68M571.08 637.94h14.68M644.46 637.94h29.35M864.6 655.55h14.68M893.95 655.55h14.68M937.98 655.55h14.68M1510.34 655.55h14.68M908.63 673.16h14.68M512.38 690.77h14.68M571.08 690.77h14.68M571.08 708.38h14.68M673.81 708.38h14.68M1525.02 708.38h14.68M541.73 725.98h29.35M644.46 725.98h29.35M703.16 725.98h14.68M952.66 725.98h14.68M1128.77 725.98h29.35M1539.7 725.98h14.68M556.4 743.59h14.68M644.46 743.59h29.35M556.4 761.2h14.68M585.76 761.2h14.68M908.63 761.2h14.68M1172.8 761.2h14.68M1202.15 778.81h14.68M453.67 796.42h14.68M1466.32 796.42h14.68M1026.04 814.02h14.68M1231.5 814.02h14.68M468.35 831.63h14.68M1084.74 831.63h14.68M453.67 849.24h14.68M1407.61 849.24h29.35M527.05 866.85h14.68M996.68 866.85h14.68M1070.06 866.85h14.68M1084.74 884.46h14.68M1436.96 884.46h14.68M1480.99 884.46h29.35M1525.02 884.46h29.35M1202.15 902.06h14.68M1436.96 902.06h14.68M1480.99 902.06h29.35M1084.74 919.67h14.68M1231.5 919.67h14.68M1525.02 919.67h14.68M1319.56 937.28h29.35M1422.29 937.28h14.68M1202.15 954.89h14.68M1525.02 954.89h29.35M1202.15 972.5h14.68M1436.96 972.5h14.68M1480.99 972.5h29.35M424.32 990.1h14.68M497.7 990.1h14.68M1143.44 990.1h14.68M1436.96 990.1h14.68M1539.7 990.1h14.68M453.67 1007.71h14.68M1114.09 1007.71h14.68M1158.12 1007.71h14.68M1187.47 1007.71h14.68M394.97 1025.32h14.68M512.38 1025.32h14.68M1363.58 1025.32h14.68M1436.96 1025.32h14.68M1378.26 1042.93h14.68M1510.34 1042.93h14.68M1216.82 1060.54h14.68M688.49 1095.75h14.68M1026.04 1113.36h14.68M717.84 1130.97h14.68M1319.56 1130.97h14.68M1348.91 1130.97h14.68M1040.71 1148.58h14.68M1143.44 1148.58h14.68M1378.26 1148.58h14.68M1011.36 1166.18h29.35M1099.42 1166.18h14.68M1011.36 1183.79h29.35M1099.42 1183.79h14.68M424.32 1201.4h14.68M424.32 1219.01h14.68M1510.34 1236.62h14.68M996.68 1254.22h14.68M1216.82 1254.22h14.68M1436.96 1254.22h14.68M1040.71 1271.83h29.35M1099.42 1271.83h14.68M1466.32 1271.83h14.68M996.68 1289.44h44.03M1026.04 1307.05h14.68M908.63 1324.66h14.68M776.54 1342.26h14.68M1055.39 1342.26h14.68M1099.42 1342.26h14.68M1392.94 1342.26h14.68M1422.29 1342.26h14.68M805.9 1359.87h14.68M1334.23 1359.87h14.68M394.97 1395.09h14.68M937.98 1395.09h14.68M1319.56 1395.09h14.68M791.22 1412.7h14.68M923.3 1412.7h14.68M967.33 1412.7h14.68M1099.42 1412.7h14.68M1480.99 1412.7h14.68M1539.7 1412.7h14.68M409.64 1430.3h14.68M1260.85 1430.3h14.68M1334.23 1430.3h14.68M1422.29 1430.3h14.68M615.11 1447.91h29.35M805.9 1447.91h14.68M439 1465.52h14.68M468.35 1483.13h14.68M776.54 1483.13h14.68M218.86 1518.34h29.35M321.59 1535.95h14.68M350.94 1571.17h14.68M218.86 1659.21h14.68M365.62 1676.82h14.68M248.21 1694.42h14.68M365.62 1694.42h14.68"/><path stroke="#ff4835" stroke-width="17.91" d="M468.35 109.7h14.68M761.87 109.7h14.68M1172.8 109.7h29.35M1392.94 109.7h14.68M1436.96 109.7h14.68M541.73 127.31h29.35M600.43 127.31h14.68M688.49 127.31h14.68M952.66 127.31h29.35M1231.5 127.31h29.35M1304.88 127.31h29.35M1363.58 127.31h14.68M453.67 144.92h14.68M644.46 144.92h29.35M982.01 144.92h14.68M1055.39 144.92h14.68M1099.42 144.92h29.35M556.4 162.53h14.68M673.81 162.53h14.68M703.16 162.53h14.68M1187.47 162.53h14.68M1231.5 162.53h14.68M673.81 180.14h14.68M483.02 197.74h14.68M1114.09 197.74h14.68M1231.5 197.74h14.68M483.02 215.35h14.68M541.73 215.35h14.68M644.46 215.35h29.35M1084.74 215.35h14.68M1114.09 215.35h14.68M1187.47 215.35h14.68M747.19 232.96h14.68M1290.2 232.96h29.35M1348.91 232.96h14.68M1539.7 232.96h14.68M468.35 250.57h14.68M585.76 250.57h14.68M761.87 250.57h14.68M864.6 250.57h14.68M439 268.18h14.68M747.19 268.18h29.35M864.6 268.18h14.68M893.95 268.18h14.68M1114.09 285.78h14.68M1231.5 285.78h14.68M1539.7 285.78h14.68M1187.47 303.39h14.68M1275.53 303.39h14.68M688.49 321h14.68M805.9 321h14.68M923.3 321h14.68M1525.02 321h14.68M571.08 338.61h14.68M982.01 338.61h14.68M1187.47 338.61h14.68M1436.96 338.61h14.68M468.35 356.22h14.68M688.49 356.22h14.68M820.57 356.22h14.68M879.28 356.22h29.35M571.08 373.82h29.35M761.87 373.82h14.68M864.6 373.82h14.68M893.95 373.82h14.68M1525.02 373.82h14.68M439 391.43h14.68M982.01 391.43h14.68M1099.42 391.43h14.68M1436.96 391.43h14.68M1525.02 391.43h14.68M541.73 409.04h29.35M761.87 409.04h14.68M791.22 409.04h14.68M835.25 409.04h14.68M923.3 409.04h14.68M1114.09 409.04h14.68M1436.96 409.04h14.68M776.54 426.65h14.68M1378.26 426.65h14.68M585.76 444.26h14.68M688.49 444.26h14.68M820.57 444.26h14.68M879.28 444.26h29.35M791.22 461.86h58.7M879.28 461.86h14.68M1525.02 461.86h14.68M1392.94 479.47h14.68M1466.32 479.47h14.68M1495.67 479.47h14.68M1525.02 479.47h14.68M468.35 497.08h14.68M673.81 497.08h14.68M982.01 497.08h14.68M1084.74 497.08h14.68M615.11 514.69h29.35M527.05 532.3h14.68M805.9 532.3h14.68M967.33 532.3h14.68M1011.36 532.3h14.68M1348.91 532.3h14.68M1378.26 532.3h14.68M1451.64 532.3h14.68M1495.67 532.3h14.68M1539.7 532.3h14.68M849.92 549.9h14.68M923.3 549.9h14.68M1011.36 549.9h14.68M1539.7 549.9h14.68M439 567.51h14.68M424.32 585.12h14.68M571.08 585.12h14.68M967.33 585.12h14.68M864.6 602.73h14.68M893.95 602.73h14.68M673.81 620.34h14.68M805.9 620.34h14.68M1290.2 620.34h14.68M1392.94 620.34h14.68M1451.64 620.34h29.35M1510.34 620.34h14.68M497.7 637.94h14.68M996.68 637.94h14.68M1304.88 637.94h14.68M1510.34 637.94h14.68M512.38 655.55h14.68M571.08 655.55h14.68M967.33 655.55h14.68M1216.82 655.55h14.68M1451.64 655.55h14.68M776.54 673.16h14.68M497.7 690.77h14.68M996.68 690.77h14.68M1510.34 690.77h14.68M937.98 708.38h14.68M1172.8 743.59h29.35M791.22 761.2h14.68M849.92 761.2h14.68M893.95 761.2h14.68M923.3 761.2h14.68M1055.39 761.2h14.68M1099.42 761.2h14.68M952.66 778.81h14.68M1216.82 778.81h14.68M1304.88 778.81h14.68M1348.91 778.81h14.68M1510.34 778.81h14.68M1084.74 796.42h14.68M1143.44 796.42h14.68M1187.47 796.42h14.68M1525.02 796.42h14.68M439 814.02h14.68M982.01 814.02h14.68M1525.02 814.02h14.68M1040.71 831.63h14.68M996.68 849.24h14.68M1172.8 849.24h14.68M1290.2 849.24h14.68M1363.58 849.24h14.68M996.68 884.46h14.68M1128.77 884.46h14.68M1260.85 884.46h14.68M1319.56 884.46h29.35M1407.61 884.46h14.68M1246.18 902.06h29.35M1334.23 902.06h14.68M1128.77 919.67h14.68M1319.56 919.67h14.68M1407.61 919.67h29.35M483.02 937.28h14.68M996.68 937.28h14.68M1172.8 937.28h14.68M1246.18 954.89h14.68M1290.2 954.89h14.68M1246.18 972.5h29.35M1334.23 972.5h14.68M747.19 990.1h14.68M1114.09 990.1h14.68M1187.47 990.1h14.68M1246.18 990.1h14.68M1363.58 990.1h14.68M996.68 1007.71h14.68M1246.18 1007.71h14.68M1290.2 1007.71h14.68M483.02 1025.32h14.68M585.76 1025.32h14.68M747.19 1025.32h14.68M1070.06 1025.32h14.68M1275.53 1025.32h14.68M483.02 1042.93h14.68M703.16 1042.93h14.68M732.52 1042.93h14.68M1290.2 1042.93h14.68M1319.56 1042.93h14.68M1407.61 1042.93h29.35M1539.7 1042.93h14.68M556.4 1060.54h14.68M776.54 1060.54h14.68M805.9 1060.54h14.68M1407.61 1060.54h14.68M1436.96 1060.54h14.68M761.87 1078.14h14.68M394.97 1095.75h14.68M761.87 1113.36h14.68M1495.67 1113.36h14.68M424.32 1130.97h14.68M1260.85 1130.97h14.68M1334.23 1130.97h14.68M1363.58 1130.97h14.68M1525.02 1130.97h14.68M453.67 1148.58h14.68M1114.09 1148.58h14.68M1216.82 1148.58h14.68M1480.99 1148.58h29.35M512.38 1166.18h29.35M1451.64 1166.18h14.68M1510.34 1166.18h14.68M512.38 1183.79h29.35M1451.64 1183.79h14.68M1510.34 1183.79h14.68M1202.15 1201.4h14.68M1202.15 1219.01h14.68M1525.02 1236.62h14.68M453.67 1254.22h14.68M776.54 1254.22h14.68M1260.85 1254.22h14.68M1319.56 1254.22h14.68M1422.29 1254.22h14.68M424.32 1271.83h14.68M1084.74 1271.83h14.68M1143.44 1271.83h14.68M1319.56 1271.83h14.68M1348.91 1271.83h14.68M747.19 1289.44h14.68M1290.2 1289.44h14.68M1495.67 1289.44h14.68M1525.02 1289.44h14.68M1290.2 1307.05h14.68M1451.64 1307.05h14.68M1525.02 1307.05h14.68M644.46 1324.66h29.35M1187.47 1324.66h14.68M453.67 1342.26h14.68M644.46 1342.26h29.35M1084.74 1342.26h14.68M1055.39 1359.87h14.68M1099.42 1359.87h14.68M424.32 1377.48h14.68M761.87 1377.48h29.35M849.92 1377.48h14.68M1451.64 1377.48h29.35M1216.82 1395.09h14.68M1334.23 1395.09h14.68M1422.29 1395.09h14.68M1539.7 1395.09h14.68M512.38 1412.7h14.68M585.76 1412.7h14.68M673.81 1412.7h14.68M1510.34 1412.7h14.68M952.66 1430.3h14.68M1158.12 1430.3h14.68M1304.88 1430.3h14.68M1407.61 1430.3h14.68M483.02 1447.91h14.68M571.08 1447.91h14.68M688.49 1447.91h14.68M1143.44 1447.91h14.68M717.84 1483.13h14.68M160.15 1500.74h14.68M189.5 1500.74h14.68M248.21 1500.74h14.68M218.86 1553.56h14.68M174.83 1588.78h14.68M277.56 1606.38h14.68M292.24 1623.99h14.68M380.29 1659.21h14.68M336.26 1694.42h14.68M189.5 1712.03h14.68M204.18 1729.64h14.68M380.29 1729.64h14.68M306.91 1747.25h14.68M380.29 1764.86h14.68"/><path stroke="#ff4734" stroke-width="17.91" d="M483.02 109.7h14.68M600.43 109.7h14.68M673.81 109.7h14.68M1070.06 109.7h14.68M1319.56 109.7h14.68M1422.29 109.7h14.68M644.46 127.31h29.35M1407.61 127.31h14.68M571.08 144.92h14.68M1128.77 144.92h14.68M1275.53 144.92h14.68M483.02 162.53h14.68M541.73 162.53h14.68M644.46 162.53h29.35M1114.09 162.53h44.03M556.4 180.14h14.68M644.46 180.14h29.35M747.19 180.14h14.68M952.66 180.14h14.68M1231.5 180.14h14.68M952.66 197.74h14.68M1084.74 197.74h14.68M1172.8 197.74h14.68M1304.88 197.74h14.68M747.19 215.35h14.68M937.98 215.35h14.68M996.68 215.35h14.68M1172.8 215.35h14.68M1231.5 215.35h14.68M1275.53 215.35h14.68M453.67 232.96h14.68M673.81 232.96h14.68M996.68 232.96h14.68M1143.44 232.96h14.68M600.43 250.57h44.03M747.19 250.57h14.68M967.33 250.57h14.68M1539.7 250.57h14.68M453.67 268.18h14.68M585.76 268.18h14.68M952.66 268.18h29.35M1304.88 268.18h14.68M1348.91 268.18h14.68M1525.02 268.18h14.68M585.76 285.78h14.68M688.49 285.78h14.68M1011.36 285.78h14.68M1128.77 285.78h14.68M1187.47 285.78h14.68M483.02 303.39h14.68M996.68 303.39h14.68M1172.8 303.39h14.68M585.76 321h14.68M791.22 321h14.68M820.57 321h29.35M879.28 321h14.68M1143.44 321h14.68M483.02 338.61h14.68M512.38 338.61h14.68M747.19 338.61h14.68M1055.39 338.61h14.68M1158.12 338.61h14.68M1407.61 338.61h14.68M585.76 356.22h14.68M761.87 356.22h14.68M864.6 356.22h14.68M600.43 373.82h44.03M1539.7 373.82h14.68M483.02 391.43h14.68M512.38 391.43h14.68M761.87 391.43h14.68M1158.12 391.43h14.68M1407.61 391.43h14.68M1466.32 391.43h14.68M585.76 409.04h58.7M820.57 409.04h14.68M864.6 409.04h44.03M1026.04 409.04h14.68M1143.44 409.04h14.68M497.7 426.65h14.68M747.19 426.65h14.68M996.68 426.65h29.35M1055.39 426.65h14.68M1451.64 426.65h14.68M1510.34 426.65h14.68M761.87 444.26h14.68M864.6 444.26h14.68M585.76 461.86h14.68M761.87 461.86h14.68M864.6 461.86h14.68M893.95 461.86h14.68M424.32 479.47h14.68M585.76 479.47h29.35M644.46 479.47h29.35M1011.36 479.47h14.68M1055.39 479.47h14.68M1099.42 479.47h14.68M1451.64 479.47h14.68M1480.99 479.47h14.68M453.67 497.08h14.68M644.46 497.08h29.35M688.49 497.08h14.68M1055.39 497.08h14.68M585.76 514.69h29.35M673.81 514.69h14.68M1026.04 514.69h14.68M512.38 532.3h14.68M673.81 532.3h14.68M1392.94 532.3h14.68M424.32 549.9h14.68M791.22 549.9h14.68M1378.26 549.9h14.68M1451.64 549.9h29.35M585.76 567.51h14.68M615.11 567.51h29.35M952.66 567.51h29.35M1143.44 567.51h14.68M1304.88 567.51h14.68M1348.91 567.51h14.68M439 585.12h14.68M468.35 585.12h14.68M512.38 585.12h14.68M556.4 585.12h14.68M585.76 585.12h14.68M1158.12 585.12h14.68M1290.2 585.12h14.68M1363.58 585.12h14.68M1436.96 585.12h14.68M1495.67 585.12h14.68M1011.36 602.73h14.68M1392.94 602.73h14.68M1495.67 602.73h29.35M600.43 620.34h73.38M688.49 620.34h14.68M967.33 620.34h14.68M1495.67 620.34h14.68M703.16 637.94h14.68M937.98 637.94h14.68M1231.5 637.94h14.68M439 655.55h14.68M468.35 655.55h14.68M527.05 655.55h14.68M556.4 655.55h14.68M585.76 655.55h14.68M1466.32 655.55h14.68M497.7 673.16h14.68M1539.7 673.16h14.68M541.73 690.77h14.68M703.16 690.77h14.68M937.98 690.77h14.68M1216.82 690.77h29.35M1275.53 690.77h14.68M1348.91 690.77h14.68M483.02 708.38h14.68M703.16 708.38h14.68M747.19 725.98h14.68M1202.15 725.98h14.68M1290.2 725.98h14.68M1128.77 743.59h14.68M1231.5 743.59h14.68M1275.53 743.59h14.68M1392.94 743.59h14.68M644.46 761.2h44.03M761.87 761.2h14.68M820.57 761.2h14.68M864.6 761.2h29.35M1275.53 761.2h14.68M1378.26 761.2h14.68M1436.96 761.2h29.35M1114.09 796.42h14.68M1158.12 796.42h14.68M1407.61 796.42h29.35M483.02 814.02h14.68M512.38 814.02h14.68M571.08 814.02h14.68M761.87 814.02h14.68M1158.12 814.02h14.68M1407.61 814.02h14.68M1466.32 814.02h29.35M541.73 831.63h14.68M585.76 831.63h14.68M703.16 831.63h14.68M1055.39 831.63h14.68M1099.42 831.63h14.68M1451.64 831.63h14.68M439 849.24h14.68M468.35 849.24h29.35M541.73 849.24h14.68M585.76 866.85h14.68M732.52 866.85h29.35M1246.18 884.46h14.68M1290.2 884.46h14.68M996.68 902.06h14.68M1290.2 902.06h14.68M1363.58 902.06h14.68M996.68 919.67h14.68M1246.18 919.67h29.35M1290.2 919.67h14.68M1334.23 919.67h14.68M439 937.28h14.68M468.35 937.28h14.68M541.73 937.28h14.68M703.16 937.28h14.68M1363.58 954.89h14.68M996.68 972.5h14.68M1290.2 972.5h14.68M1363.58 972.5h14.68M453.67 990.1h14.68M483.02 1007.71h14.68M1172.8 1007.71h14.68M1363.58 1007.71h14.68M453.67 1025.32h14.68M952.66 1042.93h14.68M996.68 1042.93h14.68M1246.18 1042.93h29.35M1304.88 1042.93h14.68M1334.23 1042.93h14.68M600.43 1060.54h14.68M908.63 1060.54h14.68M1026.04 1060.54h14.68M1275.53 1060.54h14.68M1348.91 1060.54h14.68M1422.29 1060.54h14.68M1451.64 1060.54h14.68M1480.99 1060.54h14.68M908.63 1078.14h14.68M849.92 1113.36h14.68M937.98 1113.36h14.68M1040.71 1113.36h29.35M1099.42 1113.36h14.68M1114.09 1130.97h14.68M1216.82 1130.97h14.68M1392.94 1130.97h14.68M512.38 1148.58h29.35M996.68 1148.58h14.68M1187.47 1148.58h29.35M1436.96 1148.58h14.68M1539.7 1148.58h14.68M453.67 1166.18h14.68M996.68 1166.18h14.68M1114.09 1166.18h14.68M1216.82 1166.18h29.35M1480.99 1166.18h29.35M1525.02 1166.18h14.68M453.67 1183.79h14.68M996.68 1183.79h14.68M1114.09 1183.79h14.68M1216.82 1183.79h29.35M1480.99 1183.79h29.35M1525.02 1183.79h14.68M453.67 1201.4h14.68M1114.09 1201.4h14.68M1158.12 1201.4h14.68M1290.2 1201.4h14.68M1319.56 1201.4h14.68M1422.29 1201.4h14.68M453.67 1219.01h14.68M1114.09 1219.01h14.68M1158.12 1219.01h14.68M1290.2 1219.01h14.68M1319.56 1219.01h14.68M1422.29 1219.01h14.68M747.19 1236.62h14.68M1114.09 1236.62h14.68M1202.15 1236.62h14.68M1231.5 1236.62h14.68M1290.2 1236.62h14.68M1319.56 1236.62h14.68M1422.29 1236.62h14.68M1539.7 1236.62h14.68M424.32 1254.22h14.68M908.63 1254.22h14.68M937.98 1254.22h14.68M1084.74 1254.22h14.68M1143.44 1254.22h29.35M1202.15 1254.22h14.68M1231.5 1254.22h29.35M1290.2 1254.22h14.68M1334.23 1254.22h14.68M1363.58 1254.22h14.68M1392.94 1254.22h29.35M952.66 1271.83h14.68M1510.34 1271.83h14.68M497.7 1289.44h14.68M1084.74 1289.44h14.68M1143.44 1289.44h14.68M1480.99 1289.44h14.68M849.92 1307.05h14.68M923.3 1307.05h29.35M1055.39 1307.05h14.68M1495.67 1307.05h14.68M673.81 1324.66h14.68M1084.74 1324.66h14.68M673.81 1342.26h14.68M952.66 1342.26h14.68M1143.44 1342.26h14.68M1187.47 1342.26h14.68M1304.88 1342.26h14.68M1348.91 1342.26h14.68M556.4 1359.87h14.68M1070.06 1359.87h14.68M1275.53 1359.87h14.68M791.22 1377.48h14.68M923.3 1377.48h14.68M952.66 1377.48h14.68M1040.71 1377.48h14.68M1304.88 1377.48h14.68M1348.91 1377.48h14.68M1378.26 1377.48h14.68M1495.67 1377.48h14.68M1539.7 1377.48h14.68M849.92 1395.09h14.68M923.3 1395.09h14.68M1084.74 1395.09h14.68M1143.44 1395.09h14.68M615.11 1412.7h58.7M776.54 1412.7h14.68M805.9 1412.7h14.68M1216.82 1412.7h14.68M1407.61 1412.7h14.68M1436.96 1412.7h14.68M849.92 1430.3h14.68M923.3 1430.3h14.68M1084.74 1430.3h14.68M1143.44 1430.3h14.68M585.76 1447.91h14.68M1172.8 1447.91h14.68M1231.5 1447.91h14.68M306.91 1518.34h14.68M306.91 1535.95h14.68M292.24 1553.56h29.35M277.56 1571.17h14.68M336.26 1588.78h44.03M174.83 1606.38h14.68M336.26 1606.38h14.68M204.18 1623.99h29.35M321.59 1623.99h14.68M218.86 1641.6h14.68M204.18 1659.21h14.68M189.5 1694.42h14.68M262.88 1694.42h29.35M248.21 1712.03h14.68M277.56 1712.03h14.68M218.86 1729.64h14.68M292.24 1747.25h14.68M145.48 1764.86h14.68M160.15 1782.46h14.68"/><path stroke="#ff5e49" stroke-width="17.91" d="M497.7 109.7h14.68M1026.04 127.31h14.68M923.3 144.92h14.68M497.7 197.74h14.68M439 215.35h14.68M424.32 250.57h14.68M908.63 250.57h14.68M908.63 268.18h14.68M849.92 303.39h14.68M923.3 303.39h14.68M424.32 356.22h14.68M996.68 479.47h14.68M747.19 585.12h14.68M468.35 725.98h14.68M585.76 725.98h14.68M776.54 725.98h14.68M805.9 725.98h14.68M923.3 725.98h14.68M1525.02 725.98h14.68M439 743.59h14.68M497.7 743.59h14.68M923.3 743.59h14.68M1231.5 761.2h14.68M1011.36 849.24h29.35M1378.26 849.24h14.68M1510.34 849.24h14.68M394.97 866.85h29.35M1407.61 866.85h29.35M1378.26 937.28h14.68M1026.04 990.1h14.68M1026.04 1025.32h14.68M439 1060.54h14.68M512.38 1060.54h29.35M1143.44 1060.54h14.68M571.08 1078.14h14.68M468.35 1095.75h14.68M394.97 1166.18h14.68M394.97 1183.79h14.68M1026.04 1254.22h14.68M409.64 1271.83h14.68M732.52 1271.83h14.68M394.97 1307.05h14.68M747.19 1324.66h14.68M394.97 1342.26h14.68M747.19 1342.26h14.68M394.97 1359.87h14.68M1011.36 1359.87h14.68M1466.32 1359.87h14.68M1539.7 1359.87h14.68M717.84 1395.09h14.68M1026.04 1395.09h14.68M747.19 1430.3h14.68M1011.36 1430.3h14.68M1451.64 1430.3h14.68M1334.23 1447.91h14.68M1422.29 1447.91h14.68M571.08 1465.52h14.68M908.63 1465.52h14.68M497.7 1483.13h29.35M541.73 1483.13h14.68M644.46 1483.13h29.35M908.63 1483.13h14.68M130.8 1571.17h14.68M130.8 1623.99h14.68M277.56 1800.07h14.68M321.59 1800.07h14.68"/><path stroke="#ff6a55" stroke-width="17.91" d="M512.38 109.7h14.68M527.05 144.92h14.68M908.63 215.35h14.68M732.52 232.96h14.68M717.84 268.18h14.68M424.32 285.78h14.68M908.63 303.39h14.68M732.52 321h14.68M409.64 426.65h14.68M732.52 426.65h14.68M717.84 497.08h14.68M908.63 497.08h14.68M776.54 585.12h14.68M394.97 602.73h14.68M439 725.98h14.68M527.05 725.98h14.68M497.7 761.2h14.68M732.52 778.81h14.68M1216.82 866.85h14.68M1378.26 866.85h14.68M1451.64 866.85h14.68M424.32 1025.32h14.68M1143.44 1025.32h14.68M483.02 1078.14h14.68M982.01 1078.14h14.68M1275.53 1078.14h14.68M1363.58 1078.14h14.68M1436.96 1078.14h14.68M1216.82 1095.75h14.68M1407.61 1095.75h14.68M409.64 1307.05h14.68M1026.04 1324.66h14.68M1510.34 1324.66h14.68M1539.7 1342.26h14.68M996.68 1359.87h14.68M732.52 1377.48h14.68M409.64 1412.7h14.68M1026.04 1430.3h14.68M776.54 1447.91h14.68M1392.94 1447.91h14.68M453.67 1465.52h14.68M541.73 1465.52h14.68M1275.53 1465.52h14.68M1128.77 1483.13h14.68M248.21 1553.56h14.68M336.26 1659.21h14.68M130.8 1676.82h14.68M233.53 1800.07h14.68"/><path stroke="#ff6852" stroke-width="17.91" d="M527.05 109.7h14.68M497.7 127.31h14.68M776.54 127.31h14.68M908.63 127.31h14.68M1055.39 127.31h14.68M512.38 144.92h14.68M717.84 144.92h14.68M908.63 197.74h14.68M512.38 215.35h29.35M527.05 303.39h14.68M424.32 409.04h14.68M908.63 514.69h14.68M394.97 532.3h14.68M717.84 549.9h14.68M776.54 655.55h14.68M717.84 673.16h29.35M1525.02 690.77h14.68M776.54 708.38h14.68M512.38 725.98h14.68M453.67 761.2h14.68M732.52 761.2h14.68M527.05 778.81h14.68M1202.15 866.85h14.68M1466.32 866.85h14.68M1525.02 866.85h14.68M1040.71 1025.32h14.68M1084.74 1025.32h14.68M1525.02 1025.32h14.68M996.68 1078.14h14.68M1070.06 1078.14h14.68M439 1095.75h14.68M541.73 1095.75h14.68M1070.06 1095.75h14.68M1172.8 1095.75h14.68M1510.34 1095.75h14.68M409.64 1113.36h14.68M717.84 1307.05h14.68M982.01 1324.66h14.68M1378.26 1324.66h14.68M1451.64 1324.66h14.68M1539.7 1324.66h14.68M1026.04 1342.26h14.68M1451.64 1342.26h14.68M1510.34 1342.26h14.68M1525.02 1359.87h14.68M996.68 1412.7h14.68M717.84 1430.3h14.68M1290.2 1447.91h14.68M703.16 1465.52h14.68M1187.47 1483.13h14.68M145.48 1535.95h14.68M189.5 1623.99h14.68M277.56 1729.64h14.68M350.94 1782.46h14.68"/><path stroke="#ff4532" stroke-width="17.91" d="M541.73 109.7h14.68M571.08 109.7h14.68M703.16 109.7h14.68M1246.18 109.7h44.03M1363.58 109.7h14.68M585.76 127.31h14.68M1275.53 127.31h29.35M541.73 144.92h29.35M703.16 144.92h14.68M1011.36 144.92h14.68M1040.71 144.92h14.68M1084.74 162.53h14.68M1172.8 162.53h14.68M1202.15 162.53h14.68M541.73 180.14h14.68M703.16 180.14h14.68M1143.44 180.14h29.35M1187.47 180.14h14.68M1290.2 180.14h29.35M747.19 197.74h14.68M1202.15 197.74h14.68M1275.53 197.74h14.68M1348.91 197.74h14.68M1055.39 215.35h14.68M571.08 232.96h14.68M644.46 232.96h29.35M1084.74 232.96h14.68M571.08 250.57h14.68M673.81 250.57h14.68M468.35 268.18h14.68M615.11 268.18h29.35M937.98 268.18h14.68M982.01 268.18h14.68M1055.39 268.18h14.68M1143.44 268.18h14.68M805.9 285.78h14.68M849.92 285.78h14.68M923.3 285.78h14.68M1055.39 285.78h14.68M1290.2 285.78h14.68M1348.91 285.78h14.68M1158.12 303.39h14.68M571.08 321h14.68M600.43 321h14.68M864.6 321h14.68M893.95 321h14.68M1114.09 321h29.35M1187.47 321h14.68M1231.5 321h14.68M1539.7 321h14.68M527.05 338.61h14.68M556.4 338.61h14.68M600.43 338.61h14.68M703.16 338.61h14.68M791.22 338.61h73.38M879.28 338.61h14.68M923.3 338.61h14.68M1099.42 338.61h14.68M1392.94 338.61h14.68M1466.32 338.61h14.68M600.43 356.22h44.03M747.19 356.22h14.68M967.33 356.22h14.68M483.02 373.82h14.68M556.4 373.82h14.68M673.81 373.82h14.68M703.16 373.82h14.68M967.33 373.82h14.68M1187.47 373.82h14.68M1231.5 373.82h14.68M527.05 391.43h14.68M571.08 391.43h14.68M703.16 391.43h14.68M1011.36 391.43h14.68M1114.09 391.43h29.35M1172.8 391.43h14.68M1480.99 391.43h14.68M1084.74 409.04h14.68M1392.94 409.04h14.68M1480.99 409.04h14.68M1525.02 409.04h14.68M453.67 426.65h14.68M1099.42 426.65h14.68M1466.32 426.65h14.68M1525.02 426.65h29.35M600.43 444.26h44.03M967.33 444.26h14.68M1539.7 444.26h14.68M571.08 461.86h14.68M600.43 461.86h44.03M1187.47 461.86h14.68M1231.5 461.86h14.68M1539.7 461.86h14.68M1040.71 479.47h14.68M1246.18 479.47h14.68M1319.56 479.47h14.68M1363.58 479.47h14.68M571.08 497.08h14.68M1099.42 497.08h14.68M439 514.69h14.68M644.46 514.69h29.35M1011.36 514.69h14.68M1466.32 514.69h14.68M1495.67 514.69h14.68M424.32 532.3h14.68M585.76 532.3h88.06M1040.71 532.3h14.68M1246.18 532.3h14.68M1319.56 532.3h14.68M1363.58 532.3h14.68M1480.99 532.3h14.68M820.57 549.9h29.35M879.28 549.9h14.68M937.98 549.9h29.35M1040.71 549.9h14.68M1304.88 549.9h14.68M1495.67 549.9h14.68M468.35 567.51h14.68M600.43 567.51h14.68M673.81 567.51h14.68M1026.04 567.51h14.68M1084.74 567.51h14.68M1378.26 567.51h14.68M1480.99 567.51h14.68M527.05 585.12h14.68M1407.61 585.12h14.68M1480.99 585.12h14.68M424.32 602.73h14.68M644.46 602.73h58.7M805.9 602.73h14.68M952.66 602.73h29.35M1304.88 602.73h14.68M1363.58 602.73h14.68M424.32 620.34h14.68M453.67 620.34h14.68M512.38 620.34h29.35M952.66 620.34h14.68M1011.36 620.34h14.68M1304.88 620.34h14.68M1363.58 620.34h14.68M541.73 637.94h14.68M982.01 637.94h14.68M1216.82 637.94h14.68M1275.53 637.94h14.68M1348.91 637.94h14.68M497.7 655.55h14.68M1158.12 655.55h14.68M1290.2 655.55h14.68M1436.96 655.55h14.68M1495.67 655.55h14.68M453.67 673.16h14.68M512.38 673.16h29.35M747.19 673.16h14.68M982.01 673.16h14.68M982.01 690.77h14.68M1392.94 690.77h29.35M1451.64 690.77h14.68M541.73 708.38h14.68M996.68 708.38h14.68M1172.8 708.38h29.35M1231.5 708.38h14.68M1510.34 708.38h14.68M996.68 725.98h14.68M1158.12 725.98h14.68M952.66 743.59h14.68M996.68 743.59h14.68M1114.09 743.59h14.68M1202.15 743.59h14.68M1304.88 743.59h14.68M1510.34 743.59h14.68M967.33 761.2h14.68M1011.36 761.2h44.03M1055.39 778.81h29.35M1099.42 778.81h14.68M1407.61 778.81h14.68M776.54 796.42h14.68M996.68 796.42h14.68M1128.77 796.42h14.68M1260.85 796.42h14.68M1319.56 796.42h29.35M527.05 814.02h44.03M703.16 814.02h14.68M1011.36 814.02h14.68M1114.09 814.02h29.35M1172.8 814.02h14.68M483.02 831.63h14.68M571.08 831.63h14.68M908.63 831.63h14.68M1172.8 831.63h14.68M1407.61 831.63h14.68M703.16 849.24h14.68M1348.91 849.24h14.68M1392.94 849.24h14.68M937.98 866.85h14.68M1363.58 884.46h14.68M439 902.06h14.68M468.35 902.06h29.35M527.05 902.06h29.35M1172.8 902.06h14.68M1348.91 902.06h14.68M1363.58 919.67h14.68M747.19 937.28h14.68M1348.91 937.28h14.68M1392.94 937.28h14.68M483.02 954.89h14.68M541.73 954.89h14.68M1172.8 954.89h14.68M1348.91 954.89h14.68M439 972.5h14.68M468.35 972.5h29.35M527.05 972.5h29.35M1172.8 972.5h14.68M1348.91 972.5h14.68M1128.77 990.1h14.68M1348.91 990.1h14.68M1392.94 990.1h14.68M439 1007.71h14.68M468.35 1007.71h14.68M527.05 1007.71h29.35M703.16 1007.71h14.68M1348.91 1007.71h14.68M967.33 1025.32h14.68M585.76 1042.93h14.68M615.11 1060.54h29.35M849.92 1060.54h14.68M1070.06 1060.54h14.68M1334.23 1060.54h14.68M1466.32 1060.54h14.68M424.32 1113.36h14.68M791.22 1113.36h14.68M923.3 1113.36h14.68M952.66 1113.36h14.68M1304.88 1113.36h29.35M1348.91 1113.36h14.68M1480.99 1113.36h14.68M1510.34 1113.36h14.68M1539.7 1113.36h14.68M1128.77 1130.97h14.68M1128.77 1148.58h14.68M1158.12 1148.58h14.68M1319.56 1148.58h14.68M1422.29 1148.58h14.68M1128.77 1166.18h14.68M1187.47 1166.18h29.35M1436.96 1166.18h14.68M1128.77 1183.79h14.68M1187.47 1183.79h29.35M1436.96 1183.79h14.68M747.19 1201.4h14.68M1187.47 1201.4h14.68M1246.18 1201.4h29.35M1334.23 1201.4h14.68M1407.61 1201.4h14.68M747.19 1219.01h14.68M1187.47 1219.01h14.68M1246.18 1219.01h29.35M1334.23 1219.01h14.68M1407.61 1219.01h14.68M453.67 1236.62h14.68M527.05 1236.62h14.68M1158.12 1236.62h14.68M1187.47 1236.62h14.68M1246.18 1236.62h29.35M1334.23 1236.62h44.03M761.87 1254.22h14.68M1187.47 1254.22h14.68M1525.02 1254.22h14.68M497.7 1271.83h44.03M937.98 1271.83h14.68M1216.82 1271.83h14.68M1246.18 1271.83h14.68M1304.88 1271.83h14.68M1363.58 1271.83h14.68M1422.29 1271.83h29.35M1539.7 1271.83h14.68M512.38 1289.44h29.35M952.66 1289.44h14.68M1319.56 1289.44h14.68M1348.91 1289.44h14.68M1510.34 1289.44h14.68M424.32 1307.05h14.68M791.22 1307.05h14.68M820.57 1307.05h29.35M879.28 1307.05h14.68M952.66 1307.05h14.68M1040.71 1307.05h14.68M1099.42 1307.05h14.68M1480.99 1307.05h14.68M1510.34 1307.05h14.68M1539.7 1307.05h14.68M483.02 1324.66h29.35M556.4 1324.66h29.35M600.43 1324.66h14.68M791.22 1324.66h14.68M820.57 1324.66h14.68M879.28 1324.66h14.68M952.66 1324.66h14.68M1070.06 1324.66h14.68M1114.09 1324.66h14.68M1143.44 1324.66h14.68M1304.88 1324.66h14.68M1348.91 1324.66h14.68M556.4 1342.26h29.35M1070.06 1342.26h14.68M1114.09 1342.26h14.68M527.05 1359.87h14.68M571.08 1359.87h14.68M1084.74 1359.87h14.68M527.05 1377.48h14.68M820.57 1377.48h29.35M879.28 1377.48h14.68M937.98 1377.48h14.68M1319.56 1377.48h14.68M791.22 1395.09h14.68M820.57 1395.09h14.68M879.28 1395.09h14.68M1158.12 1395.09h14.68M1407.61 1395.09h14.68M600.43 1412.7h14.68M1070.06 1412.7h14.68M1114.09 1412.7h14.68M1275.53 1412.7h14.68M791.22 1430.3h14.68M820.57 1430.3h14.68M879.28 1430.3h14.68M1202.15 1430.3h14.68M541.73 1447.91h14.68M703.16 1447.91h14.68M1114.09 1447.91h29.35M1187.47 1447.91h14.68M218.86 1500.74h14.68M262.88 1500.74h14.68M321.59 1500.74h14.68M174.83 1571.17h14.68M380.29 1571.17h14.68M262.88 1588.78h14.68M233.53 1606.38h14.68M262.88 1606.38h14.68M174.83 1641.6h29.35M292.24 1641.6h29.35M380.29 1641.6h14.68M189.5 1659.21h14.68M204.18 1676.82h14.68M292.24 1676.82h14.68M204.18 1694.42h14.68M380.29 1694.42h14.68M218.86 1712.03h29.35M248.21 1729.64h29.35M262.88 1747.25h14.68M321.59 1747.25h14.68"/><path stroke="#ff4431" stroke-width="17.91" d="M556.4 109.7h14.68M644.46 109.7h29.35M1231.5 109.7h14.68M1334.23 109.7h14.68M1451.64 109.7h14.68M483.02 144.92h14.68M1070.06 144.92h14.68M1172.8 144.92h29.35M1246.18 144.92h14.68M1319.56 144.92h14.68M1363.58 144.92h14.68M1392.94 144.92h14.68M1495.67 144.92h14.68M747.19 162.53h14.68M952.66 162.53h14.68M1275.53 162.53h14.68M1304.88 162.53h14.68M1348.91 162.53h14.68M1510.34 162.53h14.68M483.02 180.14h14.68M1084.74 180.14h14.68M1114.09 180.14h29.35M1275.53 180.14h14.68M1348.91 180.14h14.68M937.98 197.74h14.68M1099.42 215.35h14.68M1290.2 215.35h14.68M1539.7 215.35h14.68M556.4 232.96h14.68M703.16 232.96h14.68M1114.09 232.96h29.35M1231.5 232.96h14.68M644.46 250.57h29.35M952.66 250.57h14.68M996.68 250.57h14.68M600.43 268.18h14.68M673.81 268.18h29.35M1084.74 268.18h29.35M1290.2 268.18h14.68M541.73 285.78h14.68M703.16 285.78h14.68M776.54 285.78h29.35M820.57 285.78h29.35M879.28 285.78h29.35M952.66 285.78h29.35M1040.71 285.78h14.68M1099.42 285.78h14.68M1158.12 285.78h14.68M1202.15 285.78h14.68M1304.88 285.78h14.68M1510.34 285.78h14.68M937.98 303.39h14.68M1070.06 303.39h14.68M1202.15 303.39h14.68M483.02 321h14.68M541.73 321h14.68M615.11 321h29.35M703.16 321h14.68M761.87 321h14.68M967.33 321h14.68M1055.39 321h14.68M1084.74 321h29.35M1510.34 321h14.68M541.73 338.61h14.68M644.46 338.61h44.03M864.6 338.61h14.68M893.95 338.61h14.68M937.98 338.61h14.68M1011.36 338.61h14.68M1128.77 338.61h14.68M1172.8 338.61h14.68M1480.99 338.61h29.35M571.08 356.22h14.68M673.81 356.22h14.68M996.68 356.22h14.68M1539.7 356.22h14.68M541.73 373.82h14.68M644.46 373.82h29.35M1114.09 373.82h44.03M1172.8 373.82h14.68M1510.34 373.82h14.68M541.73 391.43h29.35M1040.71 391.43h14.68M1143.44 391.43h14.68M1392.94 391.43h14.68M1495.67 391.43h14.68M644.46 409.04h44.03M937.98 409.04h14.68M982.01 409.04h14.68M1158.12 409.04h14.68M1407.61 409.04h14.68M1451.64 409.04h14.68M512.38 426.65h29.35M761.87 426.65h14.68M1040.71 426.65h14.68M1216.82 426.65h14.68M1480.99 426.65h29.35M571.08 444.26h14.68M673.81 444.26h14.68M747.19 444.26h14.68M1143.44 444.26h14.68M483.02 461.86h14.68M556.4 461.86h14.68M673.81 461.86h14.68M703.16 461.86h14.68M967.33 461.86h14.68M1114.09 461.86h44.03M1510.34 461.86h14.68M439 479.47h14.68M497.7 479.47h14.68M688.49 479.47h14.68M1436.96 479.47h14.68M1539.7 479.47h14.68M556.4 497.08h14.68M1011.36 497.08h14.68M1040.71 497.08h14.68M1114.09 497.08h29.35M1275.53 497.08h14.68M497.7 514.69h14.68M688.49 514.69h14.68M1055.39 514.69h14.68M1099.42 514.69h14.68M1378.26 514.69h29.35M688.49 532.3h14.68M1055.39 532.3h14.68M1510.34 532.3h14.68M512.38 549.9h29.35M864.6 549.9h14.68M893.95 549.9h14.68M1319.56 549.9h14.68M1348.91 549.9h14.68M1510.34 549.9h14.68M571.08 567.51h14.68M688.49 567.51h14.68M1114.09 567.51h29.35M1290.2 567.51h14.68M1392.94 567.51h14.68M497.7 585.12h14.68M952.66 585.12h14.68M1011.36 585.12h14.68M1246.18 585.12h29.35M1304.88 585.12h29.35M512.38 602.73h29.35M600.43 602.73h44.03M1040.71 602.73h14.68M1158.12 602.73h14.68M1216.82 602.73h14.68M1246.18 602.73h14.68M1319.56 602.73h14.68M1348.91 602.73h14.68M1436.96 602.73h14.68M1480.99 602.73h14.68M585.76 620.34h14.68M1158.12 620.34h14.68M1216.82 620.34h14.68M1246.18 620.34h14.68M1319.56 620.34h14.68M1436.96 620.34h14.68M1480.99 620.34h14.68M483.02 637.94h14.68M1202.15 637.94h14.68M1363.58 637.94h14.68M1392.94 637.94h29.35M1451.64 637.94h14.68M1363.58 655.55h14.68M1407.61 655.55h14.68M1480.99 655.55h14.68M439 673.16h14.68M761.87 673.16h14.68M849.92 673.16h14.68M923.3 673.16h14.68M996.68 673.16h44.03M1378.26 673.16h14.68M1510.34 673.16h14.68M483.02 690.77h14.68M1187.47 690.77h29.35M1363.58 690.77h14.68M952.66 708.38h14.68M1128.77 708.38h14.68M1216.82 708.38h14.68M1275.53 708.38h14.68M1304.88 708.38h14.68M1392.94 708.38h14.68M937.98 725.98h14.68M1070.06 725.98h14.68M1070.06 743.59h14.68M1143.44 743.59h14.68M1216.82 743.59h14.68M1348.91 743.59h14.68M1070.06 761.2h14.68M1334.23 761.2h14.68M1422.29 761.2h14.68M1290.2 778.81h14.68M468.35 796.42h29.35M747.19 796.42h14.68M1246.18 796.42h14.68M1363.58 796.42h14.68M1392.94 796.42h14.68M747.19 814.02h14.68M1040.71 814.02h14.68M1143.44 814.02h14.68M1392.94 814.02h14.68M1422.29 814.02h14.68M1495.67 814.02h14.68M556.4 831.63h14.68M600.43 831.63h14.68M776.54 831.63h14.68M805.9 831.63h14.68M1026.04 831.63h14.68M1290.2 831.63h14.68M1348.91 831.63h14.68M1378.26 831.63h14.68M1466.32 831.63h14.68M512.38 849.24h29.35M688.49 849.24h14.68M747.19 849.24h14.68M1070.06 849.24h14.68M600.43 866.85h14.68M644.46 866.85h29.35M439 884.46h14.68M468.35 884.46h29.35M512.38 884.46h44.03M747.19 884.46h14.68M1172.8 884.46h14.68M1348.91 884.46h14.68M1392.94 884.46h14.68M512.38 902.06h14.68M703.16 902.06h14.68M747.19 902.06h14.68M1392.94 902.06h14.68M439 919.67h14.68M468.35 919.67h29.35M512.38 919.67h44.03M747.19 919.67h14.68M1172.8 919.67h14.68M1348.91 919.67h14.68M512.38 937.28h29.35M688.49 937.28h14.68M1070.06 937.28h14.68M439 954.89h14.68M468.35 954.89h14.68M512.38 954.89h29.35M703.16 954.89h14.68M747.19 954.89h14.68M1392.94 954.89h14.68M512.38 972.5h14.68M703.16 972.5h14.68M747.19 972.5h14.68M1392.94 972.5h14.68M937.98 990.1h14.68M512.38 1007.71h14.68M747.19 1007.71h14.68M1392.94 1007.71h14.68M688.49 1025.32h14.68M937.98 1025.32h14.68M1392.94 1025.32h14.68M688.49 1042.93h14.68M1070.06 1042.93h14.68M1275.53 1042.93h14.68M1363.58 1042.93h14.68M791.22 1060.54h14.68M820.57 1060.54h29.35M864.6 1060.54h44.03M923.3 1060.54h14.68M952.66 1060.54h29.35M1260.85 1060.54h14.68M1495.67 1060.54h14.68M512.38 1113.36h29.35M820.57 1113.36h29.35M879.28 1113.36h14.68M1246.18 1113.36h14.68M1363.58 1113.36h14.68M1392.94 1113.36h14.68M1436.96 1113.36h14.68M761.87 1130.97h29.35M849.92 1130.97h14.68M923.3 1130.97h14.68M1158.12 1130.97h14.68M1187.47 1130.97h29.35M1231.5 1130.97h14.68M1407.61 1130.97h14.68M439 1148.58h14.68M1246.18 1148.58h29.35M1290.2 1148.58h14.68M1334.23 1148.58h29.35M1407.61 1148.58h14.68M439 1166.18h14.68M908.63 1166.18h14.68M1290.2 1166.18h14.68M1319.56 1166.18h14.68M1348.91 1166.18h14.68M1422.29 1166.18h14.68M1539.7 1166.18h14.68M439 1183.79h14.68M908.63 1183.79h14.68M1290.2 1183.79h14.68M1319.56 1183.79h14.68M1348.91 1183.79h14.68M1422.29 1183.79h14.68M1539.7 1183.79h14.68M1128.77 1201.4h14.68M1363.58 1201.4h14.68M1128.77 1219.01h14.68M1363.58 1219.01h14.68M512.38 1236.62h14.68M908.63 1236.62h14.68M937.98 1236.62h14.68M1128.77 1236.62h14.68M1407.61 1236.62h14.68M1114.09 1254.22h14.68M1158.12 1271.83h14.68M1260.85 1271.83h14.68M1334.23 1271.83h14.68M937.98 1289.44h14.68M1216.82 1289.44h14.68M1246.18 1289.44h14.68M1304.88 1289.44h14.68M1436.96 1289.44h14.68M1539.7 1289.44h14.68M512.38 1307.05h29.35M864.6 1307.05h14.68M893.95 1307.05h14.68M1304.88 1307.05h29.35M1348.91 1307.05h29.35M1392.94 1307.05h14.68M468.35 1324.66h14.68M541.73 1324.66h14.68M703.16 1324.66h14.68M835.25 1324.66h44.03M893.95 1324.66h14.68M923.3 1324.66h14.68M1128.77 1324.66h14.68M1172.8 1324.66h14.68M1275.53 1324.66h14.68M439 1342.26h14.68M468.35 1342.26h44.03M541.73 1342.26h14.68M600.43 1342.26h14.68M703.16 1342.26h14.68M791.22 1342.26h14.68M820.57 1342.26h88.06M923.3 1342.26h14.68M1128.77 1342.26h14.68M1172.8 1342.26h14.68M1275.53 1342.26h14.68M424.32 1359.87h29.35M512.38 1359.87h14.68M1143.44 1359.87h14.68M1202.15 1359.87h14.68M1231.5 1359.87h14.68M512.38 1377.48h14.68M864.6 1377.48h14.68M893.95 1377.48h14.68M967.33 1377.48h14.68M1055.39 1377.48h14.68M1099.42 1377.48h14.68M1246.18 1377.48h14.68M1363.58 1377.48h14.68M1480.99 1377.48h14.68M1510.34 1377.48h14.68M512.38 1395.09h29.35M835.25 1395.09h14.68M864.6 1395.09h14.68M893.95 1395.09h14.68M967.33 1395.09h14.68M439 1412.7h14.68M453.67 1430.3h14.68M497.7 1430.3h29.35M644.46 1430.3h44.03M835.25 1430.3h14.68M864.6 1430.3h14.68M893.95 1430.3h14.68M1070.06 1430.3h14.68M1231.5 1430.3h14.68M497.7 1447.91h14.68M233.53 1500.74h14.68M233.53 1571.17h14.68M189.5 1588.78h14.68M233.53 1588.78h14.68M277.56 1588.78h14.68M306.91 1623.99h14.68M306.91 1676.82h29.35M380.29 1676.82h14.68M306.91 1729.64h14.68"/><path stroke="#ff4a36" stroke-width="17.91" d="M585.76 109.7h14.68M615.11 109.7h29.35M1290.2 109.7h14.68M1466.32 109.7h14.68M1495.67 109.7h14.68M439 127.31h14.68M571.08 127.31h14.68M615.11 127.31h29.35M673.81 127.31h14.68M703.16 127.31h14.68M1070.06 127.31h14.68M1202.15 127.31h14.68M1334.23 127.31h29.35M688.49 144.92h14.68M761.87 162.53h14.68M967.33 162.53h14.68M1539.7 162.53h14.68M571.08 180.14h14.68M967.33 180.14h14.68M541.73 197.74h14.68M644.46 197.74h29.35M703.16 197.74h14.68M1128.77 197.74h29.35M1187.47 197.74h14.68M1539.7 197.74h14.68M556.4 215.35h14.68M703.16 215.35h14.68M952.66 215.35h14.68M1128.77 215.35h14.68M1304.88 215.35h14.68M1348.91 215.35h14.68M600.43 232.96h44.03M761.87 232.96h14.68M952.66 232.96h14.68M453.67 250.57h14.68M688.49 250.57h14.68M805.9 250.57h29.35M879.28 250.57h29.35M805.9 268.18h44.03M879.28 268.18h14.68M996.68 268.18h14.68M453.67 285.78h29.35M908.63 285.78h14.68M1084.74 285.78h14.68M541.73 303.39h14.68M747.19 303.39h14.68M1114.09 303.39h29.35M1231.5 303.39h14.68M1290.2 303.39h14.68M849.92 321h14.68M439 338.61h14.68M761.87 338.61h14.68M1026.04 338.61h14.68M1202.15 338.61h14.68M1451.64 338.61h14.68M1525.02 338.61h14.68M791.22 356.22h29.35M835.25 356.22h14.68M1525.02 356.22h14.68M791.22 373.82h14.68M820.57 373.82h29.35M879.28 373.82h14.68M468.35 391.43h14.68M688.49 391.43h14.68M908.63 391.43h14.68M1055.39 391.43h14.68M1187.47 391.43h29.35M1451.64 391.43h14.68M703.16 409.04h14.68M805.9 409.04h14.68M849.92 409.04h14.68M1099.42 409.04h14.68M1128.77 409.04h14.68M1172.8 409.04h14.68M1378.26 409.04h14.68M1539.7 409.04h14.68M424.32 426.65h14.68M982.01 426.65h14.68M1026.04 426.65h14.68M468.35 444.26h14.68M791.22 444.26h29.35M835.25 444.26h14.68M688.49 461.86h14.68M923.3 461.86h14.68M615.11 479.47h29.35M673.81 479.47h14.68M1378.26 479.47h14.68M600.43 497.08h14.68M937.98 497.08h14.68M1143.44 497.08h14.68M424.32 514.69h14.68M952.66 514.69h29.35M1304.88 514.69h14.68M1348.91 514.69h14.68M1525.02 514.69h14.68M864.6 532.3h14.68M893.95 532.3h14.68M952.66 532.3h14.68M1304.88 532.3h14.68M1466.32 532.3h14.68M761.87 549.9h29.35M1026.04 549.9h14.68M1290.2 549.9h14.68M747.19 567.51h29.35M864.6 567.51h14.68M893.95 567.51h14.68M937.98 567.51h14.68M982.01 567.51h14.68M1099.42 567.51h14.68M615.11 585.12h29.35M1216.82 585.12h14.68M1466.32 585.12h14.68M820.57 602.73h29.35M879.28 602.73h14.68M937.98 602.73h14.68M1290.2 602.73h14.68M1378.26 602.73h14.68M1451.64 602.73h29.35M864.6 620.34h14.68M893.95 620.34h14.68M1378.26 620.34h14.68M556.4 637.94h14.68M952.66 637.94h14.68M1158.12 637.94h14.68M1290.2 637.94h14.68M600.43 655.55h73.38M1392.94 655.55h14.68M1525.02 673.16h14.68M952.66 690.77h14.68M1304.88 690.77h14.68M556.4 708.38h14.68M644.46 708.38h29.35M483.02 725.98h14.68M1172.8 725.98h14.68M1275.53 725.98h14.68M1348.91 725.98h14.68M483.02 743.59h14.68M541.73 743.59h14.68M747.19 743.59h14.68M937.98 743.59h14.68M615.11 761.2h29.35M835.25 761.2h14.68M1407.61 761.2h14.68M761.87 778.81h14.68M1158.12 778.81h14.68M1275.53 778.81h14.68M1202.15 796.42h14.68M1480.99 796.42h29.35M468.35 814.02h14.68M688.49 814.02h14.68M1055.39 814.02h14.68M1099.42 814.02h14.68M1187.47 814.02h29.35M1436.96 814.02h29.35M512.38 831.63h14.68M688.49 831.63h14.68M1011.36 831.63h14.68M1128.77 831.63h14.68M1158.12 831.63h14.68M1216.82 831.63h14.68M1246.18 849.24h14.68M556.4 866.85h29.35M1304.88 866.85h14.68M1392.94 866.85h14.68M453.67 884.46h14.68M1114.09 884.46h14.68M1158.12 884.46h14.68M1187.47 884.46h14.68M1422.29 884.46h14.68M1128.77 902.06h14.68M1319.56 902.06h14.68M1407.61 902.06h29.35M453.67 919.67h14.68M1114.09 919.67h14.68M1158.12 919.67h14.68M1187.47 919.67h14.68M1290.2 937.28h14.68M1363.58 937.28h14.68M996.68 954.89h14.68M1128.77 954.89h14.68M1260.85 954.89h14.68M1319.56 954.89h29.35M1407.61 954.89h14.68M1128.77 972.5h14.68M1319.56 972.5h14.68M1407.61 972.5h29.35M1260.85 990.1h14.68M1290.2 990.1h14.68M1334.23 990.1h14.68M1407.61 990.1h29.35M1260.85 1007.71h14.68M1319.56 1007.71h29.35M468.35 1025.32h14.68M703.16 1025.32h14.68M1172.8 1025.32h14.68M541.73 1042.93h14.68M717.84 1042.93h14.68M982.01 1042.93h14.68M1158.12 1042.93h29.35M1348.91 1042.93h14.68M1436.96 1042.93h14.68M1495.67 1042.93h14.68M585.76 1060.54h14.68M1011.36 1060.54h14.68M1158.12 1060.54h14.68M1378.26 1060.54h14.68M761.87 1095.75h14.68M776.54 1113.36h14.68M1290.2 1113.36h14.68M1451.64 1113.36h29.35M1525.02 1113.36h14.68M497.7 1130.97h44.03M937.98 1130.97h29.35M1246.18 1130.97h14.68M1304.88 1130.97h14.68M1422.29 1130.97h14.68M1510.34 1130.97h14.68M1231.5 1148.58h14.68M1525.02 1148.58h14.68M1040.71 1166.18h14.68M1084.74 1166.18h14.68M1466.32 1166.18h14.68M1040.71 1183.79h14.68M1084.74 1183.79h14.68M1466.32 1183.79h14.68M996.68 1201.4h14.68M1084.74 1201.4h14.68M1143.44 1201.4h14.68M1231.5 1201.4h14.68M1436.96 1201.4h14.68M1525.02 1201.4h29.35M996.68 1219.01h14.68M1084.74 1219.01h14.68M1143.44 1219.01h14.68M1231.5 1219.01h14.68M1436.96 1219.01h14.68M1525.02 1219.01h29.35M1084.74 1236.62h14.68M1216.82 1236.62h14.68M1436.96 1236.62h14.68M747.19 1254.22h14.68M1539.7 1254.22h14.68M908.63 1271.83h14.68M1480.99 1271.83h14.68M1525.02 1271.83h14.68M424.32 1289.44h14.68M908.63 1289.44h14.68M1040.71 1289.44h14.68M1099.42 1289.44h14.68M1451.64 1289.44h14.68M761.87 1307.05h14.68M1011.36 1307.05h14.68M1378.26 1307.05h14.68M1466.32 1307.05h14.68M424.32 1324.66h14.68M688.49 1324.66h14.68M688.49 1342.26h14.68M937.98 1342.26h14.68M688.49 1359.87h14.68M1011.36 1377.48h29.35M776.54 1395.09h14.68M952.66 1395.09h14.68M1260.85 1395.09h14.68M1304.88 1395.09h14.68M1392.94 1395.09h14.68M394.97 1412.7h14.68M424.32 1412.7h14.68M864.6 1412.7h14.68M893.95 1412.7h14.68M1392.94 1412.7h14.68M1422.29 1412.7h14.68M1348.91 1430.3h14.68M1525.02 1430.3h14.68M453.67 1447.91h14.68M527.05 1447.91h14.68M556.4 1447.91h14.68M1202.15 1447.91h14.68M1275.53 1447.91h14.68M394.97 1465.52h14.68M409.64 1483.13h14.68M453.67 1483.13h14.68M174.83 1500.74h14.68M204.18 1535.95h14.68M248.21 1571.17h14.68M160.15 1641.6h14.68M321.59 1659.21h14.68M174.83 1694.42h14.68M350.94 1712.03h14.68M160.15 1747.25h14.68M218.86 1747.25h14.68M380.29 1747.25h14.68M174.83 1764.86h14.68M262.88 1764.86h14.68"/><path stroke="#ff4230" stroke-width="17.91" d="M688.49 109.7h14.68M1202.15 109.7h14.68M1525.02 109.7h14.68M1539.7 127.31h14.68M1026.04 144.92h14.68M1466.32 144.92h29.35M1158.12 162.53h14.68M1216.82 162.53h14.68M996.68 180.14h14.68M1172.8 180.14h14.68M1202.15 180.14h14.68M1510.34 180.14h14.68M996.68 197.74h14.68M1070.06 197.74h14.68M1158.12 197.74h14.68M1290.2 197.74h14.68M1510.34 197.74h14.68M1070.06 215.35h14.68M1202.15 215.35h14.68M541.73 232.96h14.68M937.98 232.96h14.68M1011.36 232.96h14.68M1158.12 232.96h14.68M1187.47 232.96h14.68M1275.53 232.96h14.68M556.4 250.57h14.68M703.16 250.57h14.68M1143.44 250.57h14.68M1231.5 250.57h14.68M1290.2 250.57h29.35M1348.91 250.57h14.68M571.08 268.18h14.68M1026.04 268.18h14.68M483.02 285.78h14.68M571.08 285.78h14.68M600.43 285.78h44.03M864.6 285.78h14.68M996.68 285.78h14.68M1172.8 285.78h14.68M1216.82 285.78h14.68M556.4 321h14.68M673.81 321h14.68M1172.8 321h14.68M1202.15 321h14.68M585.76 338.61h14.68M615.11 338.61h29.35M1040.71 338.61h14.68M1114.09 338.61h14.68M1260.85 338.61h14.68M1422.29 338.61h14.68M556.4 356.22h14.68M644.46 356.22h29.35M937.98 356.22h29.35M1143.44 356.22h14.68M1187.47 356.22h14.68M1231.5 356.22h14.68M1304.88 356.22h14.68M747.19 373.82h14.68M937.98 373.82h14.68M1055.39 373.82h14.68M1084.74 373.82h29.35M1202.15 373.82h29.35M600.43 391.43h14.68M747.19 391.43h14.68M805.9 391.43h14.68M835.25 391.43h29.35M923.3 391.43h29.35M1084.74 391.43h14.68M1260.85 391.43h14.68M1334.23 391.43h14.68M1422.29 391.43h14.68M967.33 409.04h14.68M1070.06 409.04h14.68M1275.53 409.04h14.68M1422.29 409.04h14.68M1466.32 409.04h14.68M849.92 426.65h14.68M937.98 426.65h14.68M1143.44 426.65h14.68M1290.2 426.65h14.68M1436.96 426.65h14.68M556.4 444.26h14.68M644.46 444.26h29.35M703.16 444.26h14.68M952.66 444.26h14.68M996.68 444.26h14.68M1084.74 444.26h14.68M1114.09 444.26h29.35M1187.47 444.26h14.68M1231.5 444.26h14.68M1304.88 444.26h14.68M1348.91 444.26h14.68M541.73 461.86h14.68M644.46 461.86h29.35M747.19 461.86h14.68M1055.39 461.86h14.68M1084.74 461.86h29.35M1172.8 461.86h14.68M1202.15 461.86h14.68M453.67 479.47h14.68M571.08 479.47h14.68M1084.74 479.47h14.68M1143.44 479.47h14.68M1260.85 479.47h14.68M1334.23 479.47h14.68M1422.29 479.47h14.68M541.73 497.08h14.68M703.16 497.08h14.68M1026.04 497.08h14.68M1070.06 497.08h14.68M1172.8 497.08h14.68M1319.56 497.08h14.68M1392.94 497.08h14.68M1495.67 497.08h14.68M453.67 514.69h14.68M1040.71 514.69h14.68M1084.74 514.69h14.68M1143.44 514.69h14.68M1246.18 514.69h14.68M1319.56 514.69h14.68M1363.58 514.69h14.68M1451.64 514.69h14.68M1480.99 514.69h14.68M1539.7 514.69h14.68M439 532.3h14.68M1099.42 532.3h14.68M1158.12 532.3h14.68M1260.85 532.3h14.68M1334.23 532.3h14.68M1436.96 532.3h14.68M585.76 549.9h14.68M673.81 549.9h14.68M805.9 549.9h14.68M967.33 549.9h14.68M1055.39 549.9h14.68M1099.42 549.9h14.68M1158.12 549.9h14.68M1216.82 549.9h14.68M1246.18 549.9h14.68M1363.58 549.9h14.68M1392.94 549.9h14.68M1480.99 549.9h14.68M483.02 567.51h14.68M556.4 567.51h14.68M644.46 567.51h29.35M1011.36 567.51h14.68M1040.71 567.51h14.68M1172.8 567.51h29.35M1436.96 567.51h14.68M1466.32 567.51h14.68M1495.67 567.51h14.68M483.02 585.12h14.68M703.16 585.12h14.68M1055.39 585.12h14.68M1099.42 585.12h14.68M1202.15 585.12h14.68M1231.5 585.12h14.68M1275.53 585.12h14.68M1334.23 585.12h14.68M1422.29 585.12h14.68M453.67 602.73h14.68M585.76 602.73h14.68M1055.39 602.73h14.68M1099.42 602.73h14.68M1260.85 602.73h14.68M439 620.34h14.68M556.4 620.34h29.35M1040.71 620.34h29.35M1260.85 620.34h14.68M1348.91 620.34h14.68M1011.36 637.94h14.68M1128.77 637.94h29.35M1172.8 637.94h29.35M1246.18 637.94h14.68M1319.56 637.94h14.68M483.02 655.55h14.68M703.16 655.55h14.68M952.66 655.55h14.68M1011.36 655.55h14.68M1202.15 655.55h14.68M1231.5 655.55h44.03M1304.88 655.55h29.35M468.35 673.16h14.68M688.49 673.16h14.68M791.22 673.16h14.68M820.57 673.16h29.35M879.28 673.16h14.68M1055.39 673.16h14.68M1216.82 673.16h14.68M1290.2 673.16h14.68M1451.64 673.16h29.35M1011.36 690.77h14.68M1070.06 690.77h14.68M1114.09 690.77h44.03M1172.8 690.77h14.68M1246.18 690.77h14.68M1319.56 690.77h14.68M982.01 708.38h14.68M1114.09 708.38h14.68M1158.12 708.38h14.68M1202.15 708.38h14.68M1348.91 708.38h14.68M1216.82 725.98h14.68M1407.61 725.98h14.68M1510.34 725.98h14.68M982.01 743.59h14.68M1055.39 743.59h14.68M1084.74 743.59h29.35M1158.12 743.59h14.68M1436.96 743.59h14.68M1260.85 761.2h14.68M1392.94 761.2h14.68M1466.32 761.2h29.35M747.19 778.81h14.68M1011.36 778.81h14.68M1040.71 778.81h14.68M439 796.42h14.68M512.38 796.42h44.03M688.49 796.42h14.68M908.63 796.42h14.68M937.98 796.42h14.68M1172.8 796.42h14.68M1290.2 796.42h14.68M600.43 814.02h14.68M791.22 814.02h73.38M879.28 814.02h14.68M923.3 814.02h29.35M1084.74 814.02h14.68M1260.85 814.02h14.68M1334.23 814.02h14.68M615.11 831.63h29.35M791.22 831.63h14.68M835.25 831.63h29.35M893.95 831.63h14.68M923.3 831.63h14.68M952.66 831.63h29.35M1275.53 831.63h14.68M1304.88 831.63h44.03M1436.96 831.63h14.68M937.98 849.24h29.35M1304.88 849.24h14.68M615.11 866.85h29.35M673.81 866.85h14.68M967.33 866.85h14.68M703.16 884.46h14.68M937.98 884.46h14.68M688.49 902.06h14.68M952.66 902.06h14.68M1070.06 902.06h14.68M703.16 919.67h14.68M1392.94 919.67h14.68M556.4 937.28h29.35M937.98 937.28h29.35M1275.53 937.28h14.68M1304.88 937.28h14.68M937.98 954.89h29.35M1070.06 954.89h14.68M1304.88 954.89h14.68M688.49 972.5h14.68M952.66 972.5h14.68M1070.06 972.5h14.68M483.02 990.1h14.68M541.73 990.1h14.68M776.54 990.1h14.68M952.66 990.1h14.68M1172.8 990.1h14.68M1304.88 990.1h14.68M688.49 1007.71h14.68M937.98 1007.71h29.35M1070.06 1007.71h14.68M556.4 1025.32h29.35M615.11 1025.32h58.7M732.52 1025.32h14.68M805.9 1025.32h14.68M556.4 1042.93h29.35M644.46 1060.54h44.03M982.01 1060.54h14.68M1246.18 1060.54h14.68M1304.88 1060.54h29.35M717.84 1078.14h14.68M776.54 1078.14h14.68M732.52 1095.75h14.68M864.6 1113.36h14.68M893.95 1113.36h14.68M1084.74 1113.36h14.68M1143.44 1113.36h14.68M1216.82 1113.36h14.68M1260.85 1113.36h14.68M1422.29 1113.36h14.68M791.22 1130.97h14.68M820.57 1130.97h14.68M879.28 1130.97h14.68M967.33 1130.97h14.68M1070.06 1130.97h14.68M1539.7 1130.97h14.68M468.35 1148.58h29.35M747.19 1148.58h14.68M908.63 1148.58h14.68M1172.8 1148.58h14.68M1363.58 1148.58h14.68M468.35 1166.18h14.68M747.19 1166.18h14.68M776.54 1166.18h14.68M1158.12 1166.18h14.68M1246.18 1166.18h29.35M1334.23 1166.18h14.68M468.35 1183.79h14.68M747.19 1183.79h14.68M776.54 1183.79h14.68M1158.12 1183.79h14.68M1246.18 1183.79h29.35M1334.23 1183.79h14.68M512.38 1201.4h29.35M776.54 1201.4h14.68M908.63 1201.4h14.68M937.98 1201.4h14.68M1348.91 1201.4h14.68M1392.94 1201.4h14.68M512.38 1219.01h29.35M776.54 1219.01h14.68M908.63 1219.01h14.68M937.98 1219.01h14.68M1348.91 1219.01h14.68M1392.94 1219.01h14.68M952.66 1236.62h14.68M1304.88 1236.62h14.68M1392.94 1236.62h14.68M483.02 1254.22h14.68M512.38 1254.22h29.35M1128.77 1254.22h14.68M1172.8 1254.22h14.68M1348.91 1254.22h14.68M761.87 1271.83h29.35M849.92 1271.83h14.68M1114.09 1271.83h14.68M1231.5 1271.83h14.68M1392.94 1271.83h29.35M761.87 1289.44h29.35M849.92 1289.44h14.68M1114.09 1289.44h14.68M1158.12 1289.44h14.68M1260.85 1289.44h14.68M1334.23 1289.44h14.68M1363.58 1289.44h14.68M1422.29 1289.44h14.68M805.9 1307.05h14.68M967.33 1307.05h14.68M1216.82 1307.05h14.68M1246.18 1307.05h14.68M1436.96 1307.05h14.68M439 1324.66h14.68M585.76 1324.66h14.68M615.11 1324.66h29.35M967.33 1324.66h14.68M585.76 1342.26h14.68M615.11 1342.26h29.35M967.33 1342.26h14.68M585.76 1377.48h14.68M673.81 1377.48h14.68M805.9 1377.48h14.68M1084.74 1377.48h14.68M1143.44 1377.48h29.35M1392.94 1377.48h14.68M644.46 1395.09h44.03M1070.06 1395.09h14.68M1128.77 1412.7h14.68M1202.15 1412.7h14.68M1231.5 1412.7h14.68M527.05 1430.3h14.68M967.33 1430.3h14.68M1114.09 1430.3h14.68M1187.47 1430.3h14.68M204.18 1500.74h14.68M306.91 1500.74h14.68M336.26 1500.74h14.68M292.24 1518.34h14.68M292.24 1535.95h14.68M380.29 1553.56h14.68M262.88 1571.17h14.68M380.29 1588.78h14.68M189.5 1606.38h14.68M218.86 1606.38h14.68M350.94 1606.38h29.35M321.59 1641.6h14.68M160.15 1659.21h14.68M189.5 1676.82h14.68M292.24 1694.42h14.68M380.29 1712.03h14.68M233.53 1729.64h14.68M292.24 1729.64h14.68M248.21 1764.86h14.68"/><path stroke="#ff624e" stroke-width="17.91" d="M717.84 109.7h14.68M908.63 109.7h14.68M453.67 127.31h14.68M424.32 144.92h14.68M527.05 197.74h14.68M512.38 303.39h14.68M424.32 373.82h14.68M424.32 461.86h14.68M908.63 567.51h14.68M776.54 690.77h14.68M453.67 743.59h14.68M512.38 743.59h14.68M439 761.2h14.68M1158.12 866.85h14.68M1539.7 866.85h14.68M1055.39 1025.32h14.68M394.97 1042.93h14.68M453.67 1060.54h14.68M394.97 1078.14h14.68M585.76 1095.75h14.68M703.16 1095.75h14.68M1539.7 1095.75h14.68M717.84 1113.36h14.68M409.64 1148.58h14.68M717.84 1254.22h14.68M409.64 1289.44h14.68M394.97 1324.66h14.68M1466.32 1324.66h14.68M1011.36 1342.26h14.68M1378.26 1342.26h14.68M747.19 1412.7h14.68M1011.36 1412.7h14.68M1525.02 1412.7h14.68M996.68 1430.3h14.68M1246.18 1447.91h14.68M1319.56 1447.91h14.68M1510.34 1447.91h14.68M556.4 1465.52h14.68M673.81 1465.52h14.68M527.05 1483.13h14.68M732.52 1483.13h14.68M761.87 1483.13h14.68M145.48 1518.34h14.68M174.83 1553.56h14.68M262.88 1553.56h14.68M130.8 1606.38h14.68M336.26 1641.6h14.68M336.26 1747.25h14.68M365.62 1782.46h14.68M292.24 1800.07h14.68"/><path stroke="#ff725c" stroke-width="17.91" d="M732.52 109.7h14.68M424.32 197.74h14.68M717.84 250.57h14.68M394.97 268.18h14.68M717.84 303.39h14.68M409.64 391.43h14.68M717.84 461.86h14.68M717.84 479.47h14.68M732.52 497.08h14.68M409.64 814.02h14.68M394.97 831.63h14.68M424.32 866.85h14.68M527.05 1078.14h14.68M1216.82 1078.14h14.68M1539.7 1078.14h14.68M1231.5 1095.75h29.35M1378.26 1095.75h14.68M1422.29 1095.75h14.68M732.52 1324.66h14.68M908.63 1447.91h14.68M1466.32 1447.91h14.68M952.66 1465.52h14.68M1304.88 1465.52h14.68M937.98 1483.13h14.68M1407.61 1483.13h14.68M145.48 1588.78h14.68M160.15 1623.99h14.68M145.48 1729.64h14.68M277.56 1764.86h14.68M189.5 1782.46h14.68M306.91 1782.46h14.68"/><path stroke="#ff523e" stroke-width="17.91" d="M776.54 109.7h14.68M937.98 109.7h14.68M982.01 109.7h14.68M1084.74 109.7h14.68M424.32 127.31h14.68M747.19 127.31h29.35M1510.34 127.31h14.68M615.11 144.92h29.35M1525.02 144.92h14.68M849.92 162.53h14.68M923.3 162.53h14.68M512.38 180.14h14.68M688.49 180.14h14.68M849.92 180.14h14.68M923.3 180.14h14.68M864.6 197.74h14.68M615.11 215.35h29.35M688.49 215.35h14.68M864.6 215.35h14.68M512.38 232.96h14.68M849.92 232.96h14.68M923.3 232.96h14.68M776.54 250.57h14.68M453.67 303.39h14.68M453.67 321h14.68M512.38 321h29.35M497.7 338.61h14.68M908.63 338.61h14.68M527.05 356.22h14.68M776.54 356.22h14.68M439 373.82h14.68M776.54 391.43h14.68M439 409.04h14.68M468.35 409.04h14.68M527.05 444.26h14.68M453.67 461.86h14.68M512.38 461.86h29.35M776.54 461.86h14.68M820.57 479.47h29.35M879.28 479.47h14.68M937.98 479.47h14.68M805.9 497.08h29.35M879.28 497.08h29.35M996.68 497.08h14.68M497.7 567.51h14.68M849.92 567.51h14.68M820.57 585.12h29.35M879.28 585.12h14.68M761.87 602.73h14.68M996.68 602.73h14.68M982.01 620.34h14.68M600.43 637.94h14.68M791.22 655.55h14.68M1539.7 655.55h14.68M468.35 690.77h14.68M615.11 690.77h29.35M673.81 690.77h14.68M967.33 690.77h14.68M468.35 708.38h14.68M864.6 708.38h14.68M571.08 725.98h14.68M571.08 743.59h14.68M571.08 761.2h14.68M703.16 761.2h14.68M1128.77 761.2h14.68M1216.82 761.2h14.68M541.73 778.81h29.35M820.57 778.81h14.68M864.6 778.81h29.35M1114.09 778.81h14.68M1539.7 778.81h14.68M424.32 796.42h14.68M1055.39 796.42h14.68M776.54 814.02h14.68M1231.5 831.63h14.68M1539.7 831.63h14.68M717.84 849.24h14.68M1436.96 849.24h14.68M1480.99 849.24h29.35M1348.91 866.85h14.68M717.84 884.46h14.68M1216.82 884.46h14.68M717.84 902.06h29.35M982.01 902.06h14.68M1143.44 902.06h14.68M1216.82 902.06h29.35M497.7 919.67h14.68M717.84 919.67h29.35M982.01 919.67h14.68M1040.71 919.67h14.68M1451.64 919.67h29.35M717.84 937.28h14.68M1158.12 937.28h14.68M1436.96 937.28h14.68M1480.99 937.28h29.35M717.84 954.89h14.68M1143.44 954.89h14.68M1231.5 954.89h14.68M717.84 972.5h29.35M982.01 972.5h14.68M1143.44 972.5h14.68M1216.82 972.5h29.35M409.64 990.1h14.68M1216.82 990.1h14.68M717.84 1007.71h29.35M1084.74 1007.71h14.68M527.05 1025.32h14.68M952.66 1025.32h14.68M1246.18 1025.32h14.68M1304.88 1025.32h14.68M1334.23 1025.32h14.68M1422.29 1025.32h14.68M1539.7 1025.32h14.68M512.38 1042.93h14.68M1128.77 1042.93h14.68M1525.02 1042.93h14.68M1525.02 1060.54h14.68M791.22 1078.14h14.68M820.57 1078.14h14.68M864.6 1078.14h29.35M571.08 1095.75h14.68M600.43 1095.75h14.68M673.81 1095.75h14.68M791.22 1095.75h14.68M820.57 1095.75h88.06M923.3 1095.75h14.68M996.68 1113.36h14.68M1451.64 1130.97h14.68M1480.99 1130.97h14.68M497.7 1148.58h14.68M717.84 1148.58h14.68M1055.39 1148.58h14.68M424.32 1166.18h14.68M424.32 1183.79h14.68M1055.39 1201.4h14.68M1451.64 1201.4h14.68M1510.34 1201.4h14.68M1055.39 1219.01h14.68M1451.64 1219.01h14.68M1510.34 1219.01h14.68M717.84 1236.62h14.68M1099.42 1236.62h14.68M409.64 1254.22h14.68M717.84 1271.83h14.68M996.68 1271.83h44.03M982.01 1289.44h14.68M982.01 1307.05h14.68M776.54 1324.66h14.68M1246.18 1324.66h29.35M1334.23 1324.66h14.68M1363.58 1324.66h14.68M761.87 1342.26h14.68M1246.18 1342.26h14.68M1363.58 1342.26h14.68M1436.96 1342.26h14.68M1480.99 1342.26h14.68M673.81 1359.87h14.68M864.6 1359.87h14.68M1158.12 1359.87h14.68M1348.91 1359.87h14.68M1040.71 1395.09h29.35M1290.2 1395.09h14.68M1246.18 1412.7h14.68M1363.58 1412.7h29.35M1290.2 1430.3h14.68M1319.56 1430.3h14.68M644.46 1447.91h29.35M967.33 1447.91h14.68M1525.02 1447.91h14.68M585.76 1465.52h14.68M805.9 1465.52h14.68M174.83 1518.34h14.68M233.53 1553.56h14.68M277.56 1553.56h14.68M130.8 1588.78h14.68M336.26 1623.99h14.68M336.26 1676.82h14.68M365.62 1747.25h14.68M306.91 1800.07h14.68"/><path stroke="#ff503c" stroke-width="17.91" d="M791.22 109.7h14.68M820.57 109.7h14.68M879.28 109.7h14.68M952.66 109.7h14.68M1304.88 109.7h14.68M483.02 127.31h14.68M791.22 127.31h44.03M879.28 127.31h14.68M747.19 144.92h14.68M1143.44 144.92h14.68M1290.2 144.92h14.68M585.76 162.53h14.68M791.22 162.53h29.35M835.25 162.53h14.68M468.35 180.14h14.68M497.7 180.14h14.68M585.76 180.14h14.68M791.22 180.14h29.35M835.25 180.14h14.68M600.43 197.74h44.03M600.43 215.35h14.68M967.33 215.35h14.68M791.22 232.96h14.68M835.25 232.96h14.68M527.05 250.57h14.68M776.54 268.18h14.68M849.92 268.18h14.68M439 285.78h14.68M527.05 285.78h14.68M571.08 303.39h14.68M952.66 303.39h14.68M439 321h14.68M1216.82 338.61h14.68M512.38 356.22h14.68M1216.82 391.43h14.68M1539.7 391.43h14.68M688.49 409.04h14.68M1510.34 409.04h14.68M497.7 444.26h29.35M776.54 444.26h14.68M439 461.86h14.68M512.38 479.47h29.35M893.95 479.47h14.68M439 497.08h14.68M497.7 497.08h14.68M864.6 497.08h14.68M952.66 497.08h29.35M1304.88 497.08h14.68M1348.91 497.08h14.68M512.38 514.69h29.35M761.87 514.69h14.68M791.22 514.69h14.68M849.92 532.3h14.68M923.3 532.3h14.68M747.19 549.9h14.68M982.01 549.9h14.68M923.3 567.51h14.68M996.68 567.51h14.68M453.67 585.12h14.68M688.49 585.12h14.68M864.6 585.12h14.68M893.95 585.12h14.68M937.98 585.12h14.68M996.68 585.12h14.68M1510.34 585.12h14.68M849.92 620.34h14.68M923.3 620.34h14.68M996.68 620.34h14.68M468.35 637.94h14.68M527.05 637.94h14.68M615.11 637.94h29.35M673.81 637.94h14.68M967.33 637.94h14.68M453.67 655.55h14.68M688.49 655.55h14.68M820.57 655.55h29.35M879.28 655.55h14.68M982.01 655.55h14.68M424.32 673.16h14.68M453.67 690.77h14.68M527.05 690.77h14.68M644.46 690.77h29.35M585.76 708.38h58.7M673.81 725.98h14.68M761.87 725.98h14.68M673.81 743.59h14.68M967.33 743.59h14.68M483.02 761.2h14.68M541.73 761.2h14.68M1114.09 761.2h14.68M1143.44 761.2h29.35M483.02 778.81h14.68M967.33 778.81h14.68M1084.74 778.81h14.68M1172.8 778.81h14.68M497.7 796.42h14.68M982.01 796.42h14.68M1011.36 796.42h14.68M1099.42 796.42h14.68M1216.82 796.42h14.68M1451.64 796.42h14.68M1216.82 814.02h14.68M1378.26 814.02h14.68M1539.7 814.02h14.68M453.67 831.63h14.68M732.52 831.63h14.68M1143.44 831.63h14.68M732.52 849.24h14.68M1114.09 849.24h14.68M1158.12 849.24h14.68M1187.47 849.24h14.68M1143.44 884.46h14.68M1231.5 884.46h14.68M1084.74 902.06h14.68M1525.02 902.06h29.35M1143.44 919.67h14.68M1216.82 919.67h14.68M453.67 937.28h14.68M732.52 937.28h14.68M1114.09 937.28h14.68M1187.47 937.28h14.68M1407.61 937.28h14.68M1084.74 954.89h14.68M1436.96 954.89h14.68M1480.99 954.89h29.35M1084.74 972.5h14.68M1525.02 972.5h29.35M1480.99 990.1h29.35M1525.02 990.1h14.68M1202.15 1007.71h14.68M1436.96 1007.71h14.68M1480.99 1007.71h29.35M1525.02 1007.71h29.35M439 1025.32h14.68M1260.85 1025.32h14.68M1407.61 1025.32h14.68M439 1042.93h29.35M1026.04 1042.93h14.68M1202.15 1042.93h14.68M483.02 1060.54h14.68M541.73 1060.54h14.68M688.49 1060.54h29.35M1172.8 1060.54h14.68M1510.34 1060.54h14.68M849.92 1078.14h14.68M923.3 1078.14h29.35M747.19 1113.36h14.68M747.19 1130.97h14.68M1084.74 1130.97h14.68M1143.44 1130.97h14.68M1290.2 1130.97h14.68M1011.36 1148.58h29.35M1099.42 1148.58h14.68M497.7 1166.18h14.68M1055.39 1166.18h14.68M497.7 1183.79h14.68M1055.39 1183.79h14.68M1040.71 1201.4h14.68M1099.42 1201.4h14.68M1466.32 1201.4h14.68M1040.71 1219.01h14.68M1099.42 1219.01h14.68M1466.32 1219.01h14.68M1040.71 1236.62h14.68M1451.64 1236.62h29.35M1040.71 1254.22h14.68M1480.99 1254.22h29.35M394.97 1271.83h14.68M1378.26 1271.83h14.68M747.19 1307.05h14.68M996.68 1307.05h14.68M1055.39 1324.66h14.68M1099.42 1324.66h14.68M1202.15 1324.66h14.68M1231.5 1324.66h14.68M1392.94 1324.66h14.68M1422.29 1324.66h14.68M1202.15 1342.26h14.68M1231.5 1342.26h14.68M1260.85 1342.26h14.68M1334.23 1342.26h14.68M644.46 1359.87h29.35M967.33 1359.87h14.68M1216.82 1359.87h14.68M1260.85 1359.87h14.68M1480.99 1359.87h14.68M747.19 1377.48h14.68M982.01 1377.48h29.35M1525.02 1377.48h14.68M1099.42 1395.09h14.68M1480.99 1395.09h14.68M761.87 1412.7h14.68M849.92 1412.7h14.68M937.98 1412.7h14.68M1055.39 1412.7h14.68M1084.74 1412.7h14.68M1143.44 1412.7h14.68M394.97 1430.3h14.68M761.87 1430.3h29.35M1216.82 1430.3h14.68M1246.18 1430.3h14.68M1363.58 1430.3h14.68M1392.94 1430.3h14.68M1070.06 1447.91h14.68M439 1483.13h14.68M571.08 1483.13h14.68M277.56 1500.74h14.68M233.53 1535.95h14.68M277.56 1535.95h14.68M321.59 1553.56h14.68M336.26 1571.17h14.68M248.21 1588.78h14.68M350.94 1623.99h14.68M380.29 1623.99h14.68M306.91 1659.21h14.68M350.94 1676.82h14.68M160.15 1694.42h14.68M160.15 1729.64h14.68M189.5 1764.86h14.68M218.86 1764.86h14.68"/><path stroke="#ff5440" stroke-width="17.91" d="M849.92 109.7h14.68M923.3 109.7h14.68M1143.44 109.7h14.68M1348.91 109.7h14.68M849.92 127.31h14.68M923.3 127.31h14.68M1392.94 127.31h14.68M1466.32 127.31h14.68M1495.67 127.31h14.68M497.7 144.92h14.68M585.76 144.92h14.68M776.54 144.92h14.68M864.6 144.92h14.68M967.33 144.92h14.68M1304.88 144.92h14.68M468.35 162.53h14.68M688.49 162.53h14.68M1525.02 162.53h14.68M527.05 180.14h14.68M776.54 180.14h14.68M585.76 197.74h14.68M820.57 197.74h14.68M879.28 197.74h29.35M1525.02 197.74h14.68M468.35 215.35h14.68M585.76 215.35h14.68M893.95 215.35h14.68M439 232.96h14.68M424.32 268.18h14.68M512.38 268.18h29.35M497.7 285.78h14.68M732.52 285.78h14.68M1525.02 285.78h14.68M600.43 303.39h44.03M864.6 303.39h14.68M967.33 303.39h14.68M908.63 321h14.68M1539.7 338.61h14.68M512.38 373.82h29.35M1510.34 391.43h14.68M527.05 409.04h14.68M908.63 409.04h14.68M497.7 461.86h14.68M791.22 479.47h14.68M776.54 497.08h29.35M835.25 497.08h14.68M747.19 514.69h14.68M776.54 514.69h14.68M849.92 514.69h14.68M923.3 514.69h14.68M996.68 514.69h14.68M761.87 532.3h29.35M424.32 567.51h14.68M791.22 585.12h14.68M982.01 585.12h14.68M1539.7 585.12h14.68M982.01 602.73h14.68M585.76 637.94h14.68M747.19 637.94h14.68M805.9 637.94h14.68M864.6 637.94h14.68M893.95 637.94h14.68M849.92 655.55h14.68M923.3 655.55h14.68M600.43 690.77h14.68M497.7 708.38h14.68M805.9 708.38h14.68M893.95 708.38h14.68M967.33 725.98h14.68M585.76 743.59h58.7M512.38 761.2h29.35M776.54 761.2h14.68M1202.15 761.2h14.68M600.43 778.81h44.03M703.16 778.81h14.68M791.22 778.81h14.68M893.95 778.81h14.68M1128.77 778.81h29.35M1026.04 796.42h14.68M1378.26 796.42h14.68M1510.34 796.42h14.68M439 831.63h14.68M1084.74 849.24h14.68M1202.15 849.24h14.68M1525.02 849.24h29.35M439 866.85h14.68M468.35 866.85h29.35M703.16 866.85h14.68M1290.2 866.85h14.68M1363.58 866.85h14.68M424.32 884.46h14.68M497.7 884.46h14.68M732.52 884.46h14.68M982.01 884.46h14.68M1040.71 884.46h14.68M1099.42 884.46h14.68M1451.64 884.46h29.35M1466.32 902.06h14.68M1099.42 919.67h14.68M1378.26 919.67h14.68M1510.34 919.67h14.68M1084.74 937.28h14.68M1202.15 937.28h14.68M1525.02 937.28h29.35M497.7 954.89h14.68M732.52 954.89h14.68M1216.82 954.89h14.68M1466.32 972.5h14.68M394.97 990.1h14.68M717.84 990.1h14.68M1040.71 990.1h14.68M1099.42 990.1h14.68M982.01 1007.71h14.68M1143.44 1007.71h14.68M1216.82 1007.71h29.35M996.68 1025.32h14.68M1187.47 1025.32h44.03M1480.99 1025.32h14.68M1510.34 1025.32h14.68M527.05 1042.93h14.68M1187.47 1042.93h14.68M732.52 1060.54h14.68M1099.42 1060.54h14.68M1202.15 1060.54h14.68M673.81 1078.14h14.68M747.19 1078.14h14.68M835.25 1078.14h14.68M893.95 1078.14h14.68M1392.94 1078.14h14.68M453.67 1095.75h14.68M556.4 1095.75h14.68M644.46 1095.75h29.35M805.9 1095.75h14.68M908.63 1113.36h14.68M982.01 1113.36h14.68M1495.67 1130.97h14.68M424.32 1148.58h14.68M732.52 1148.58h14.68M717.84 1166.18h14.68M717.84 1183.79h14.68M982.01 1201.4h14.68M1011.36 1201.4h14.68M1378.26 1201.4h14.68M982.01 1219.01h14.68M1011.36 1219.01h14.68M1378.26 1219.01h14.68M394.97 1236.62h14.68M982.01 1236.62h14.68M1011.36 1236.62h14.68M1055.39 1236.62h14.68M1378.26 1236.62h14.68M1011.36 1254.22h14.68M1099.42 1254.22h14.68M1451.64 1254.22h29.35M1510.34 1254.22h14.68M394.97 1289.44h14.68M717.84 1289.44h14.68M761.87 1324.66h14.68M996.68 1324.66h14.68M1290.2 1324.66h14.68M1319.56 1324.66h14.68M1407.61 1324.66h14.68M1480.99 1324.66h14.68M996.68 1342.26h14.68M1319.56 1342.26h14.68M1407.61 1342.26h14.68M835.25 1359.87h14.68M893.95 1359.87h14.68M1040.71 1359.87h14.68M1246.18 1359.87h14.68M1392.94 1359.87h14.68M1510.34 1359.87h14.68M908.63 1377.48h14.68M908.63 1395.09h14.68M1451.64 1395.09h14.68M1495.67 1395.09h14.68M717.84 1412.7h14.68M908.63 1430.3h14.68M937.98 1430.3h14.68M1436.96 1430.3h14.68M409.64 1447.91h14.68M673.81 1447.91h14.68M893.95 1447.91h14.68M1158.12 1447.91h14.68M1407.61 1447.91h14.68M424.32 1465.52h14.68M556.4 1483.13h14.68M600.43 1483.13h14.68M805.9 1483.13h14.68M160.15 1518.34h14.68M204.18 1553.56h14.68M262.88 1623.99h14.68M277.56 1641.6h14.68M336.26 1712.03h14.68M365.62 1764.86h14.68"/><path stroke="#ff5b47" stroke-width="17.91" d="M996.68 109.7h14.68M1055.39 109.7h14.68M937.98 127.31h14.68M996.68 127.31h14.68M1480.99 127.31h14.68M791.22 144.92h14.68M439 162.53h14.68M497.7 162.53h14.68M527.05 162.53h14.68M1525.02 180.14h14.68M776.54 197.74h14.68M776.54 215.35h14.68M849.92 215.35h14.68M923.3 215.35h14.68M497.7 303.39h14.68M585.76 303.39h14.68M791.22 303.39h29.35M835.25 303.39h14.68M908.63 356.22h14.68M908.63 373.82h14.68M424.32 391.43h14.68M776.54 409.04h14.68M747.19 479.47h14.68M424.32 497.08h14.68M747.19 532.3h14.68M512.38 567.51h29.35M776.54 620.34h14.68M849.92 637.94h14.68M761.87 655.55h14.68M688.49 690.77h14.68M761.87 690.77h14.68M791.22 690.77h14.68M835.25 690.77h29.35M923.3 690.77h14.68M1539.7 690.77h14.68M849.92 708.38h14.68M453.67 725.98h14.68M688.49 725.98h14.68M791.22 725.98h14.68M835.25 725.98h14.68M688.49 743.59h14.68M791.22 743.59h29.35M835.25 743.59h14.68M688.49 761.2h14.68M1525.02 761.2h29.35M585.76 778.81h14.68M409.64 796.42h14.68M717.84 831.63h14.68M1525.02 831.63h14.68M394.97 849.24h14.68M424.32 849.24h14.68M1055.39 849.24h14.68M1451.64 849.24h14.68M453.67 866.85h14.68M1319.56 866.85h29.35M394.97 902.06h14.68M409.64 919.67h14.68M394.97 937.28h14.68M424.32 937.28h14.68M1040.71 937.28h29.35M1099.42 937.28h14.68M1451.64 937.28h14.68M1011.36 954.89h29.35M1055.39 954.89h14.68M1378.26 954.89h14.68M394.97 972.5h14.68M1011.36 990.1h14.68M1378.26 990.1h14.68M394.97 1007.71h14.68M424.32 1007.71h14.68M1011.36 1007.71h29.35M1055.39 1007.71h14.68M1378.26 1007.71h14.68M1510.34 1007.71h14.68M497.7 1025.32h14.68M1114.09 1025.32h14.68M1290.2 1025.32h14.68M1451.64 1025.32h29.35M1055.39 1042.93h14.68M1084.74 1042.93h14.68M468.35 1060.54h14.68M1187.47 1060.54h14.68M1231.5 1060.54h14.68M615.11 1078.14h29.35M937.98 1095.75h14.68M996.68 1130.97h44.03M1055.39 1130.97h14.68M394.97 1148.58h14.68M732.52 1201.4h14.68M732.52 1219.01h14.68M394.97 1254.22h14.68M982.01 1254.22h14.68M1378.26 1254.22h14.68M1158.12 1324.66h14.68M1495.67 1324.66h14.68M1158.12 1342.26h14.68M776.54 1359.87h14.68M1378.26 1359.87h14.68M1495.67 1359.87h14.68M394.97 1377.48h14.68M747.19 1395.09h14.68M908.63 1412.7h14.68M1026.04 1412.7h14.68M1495.67 1430.3h14.68M394.97 1447.91h14.68M791.22 1447.91h14.68M849.92 1447.91h14.68M923.3 1447.91h14.68M1216.82 1447.91h14.68M1304.88 1447.91h14.68M864.6 1465.52h14.68M967.33 1465.52h14.68M424.32 1483.13h14.68M483.02 1483.13h14.68M585.76 1483.13h14.68M673.81 1483.13h14.68M791.22 1483.13h14.68M820.57 1483.13h14.68M849.92 1483.13h14.68M879.28 1483.13h14.68M923.3 1483.13h14.68M277.56 1518.34h14.68M174.83 1535.95h14.68M189.5 1553.56h14.68M160.15 1571.17h14.68M365.62 1623.99h14.68M336.26 1729.64h14.68M350.94 1747.25h14.68M321.59 1764.86h14.68"/><path stroke="#ff3d2c" stroke-width="17.91" d="M1158.12 109.7h14.68M1407.61 144.92h14.68M1011.36 162.53h14.68M1040.71 162.53h14.68M1436.96 162.53h14.68M1040.71 180.14h29.35M1246.18 180.14h14.68M1319.56 180.14h14.68M1363.58 180.14h14.68M1392.94 180.14h14.68M1040.71 197.74h14.68M1436.96 197.74h14.68M1011.36 215.35h14.68M1216.82 215.35h14.68M1246.18 215.35h14.68M1319.56 215.35h14.68M1363.58 215.35h29.35M1407.61 215.35h29.35M1026.04 232.96h14.68M1099.42 232.96h14.68M1216.82 232.96h14.68M1392.94 232.96h29.35M1466.32 232.96h14.68M1495.67 232.96h14.68M1011.36 250.57h29.35M1055.39 250.57h14.68M1099.42 250.57h14.68M1378.26 250.57h29.35M1451.64 250.57h14.68M1070.06 268.18h14.68M1231.5 268.18h29.35M1319.56 268.18h14.68M1363.58 268.18h14.68M1436.96 268.18h29.35M1510.34 268.18h14.68M1070.06 285.78h14.68M1246.18 285.78h29.35M1334.23 285.78h14.68M1363.58 285.78h14.68M1422.29 285.78h29.35M1480.99 285.78h14.68M982.01 303.39h14.68M1260.85 303.39h14.68M1422.29 303.39h14.68M1451.64 303.39h14.68M1040.71 321h14.68M1070.06 321h14.68M1290.2 321h14.68M1392.94 321h29.35M1451.64 321h14.68M1480.99 321h14.68M1290.2 338.61h14.68M1011.36 356.22h14.68M1158.12 356.22h14.68M1216.82 356.22h14.68M1392.94 356.22h14.68M1070.06 373.82h14.68M1290.2 373.82h14.68M1407.61 373.82h14.68M1451.64 373.82h14.68M1480.99 373.82h14.68M967.33 391.43h14.68M1290.2 391.43h14.68M952.66 409.04h14.68M1246.18 409.04h14.68M1304.88 409.04h29.35M1348.91 409.04h29.35M483.02 426.65h14.68M571.08 426.65h73.38M673.81 426.65h14.68M967.33 426.65h14.68M1128.77 426.65h14.68M1011.36 444.26h44.03M1378.26 444.26h29.35M1011.36 461.86h14.68M1040.71 461.86h14.68M1070.06 461.86h14.68M1290.2 461.86h14.68M1392.94 461.86h29.35M1451.64 461.86h14.68M1480.99 461.86h14.68M483.02 479.47h14.68M541.73 479.47h14.68M703.16 479.47h14.68M1114.09 479.47h29.35M1172.8 479.47h14.68M1407.61 479.47h14.68M1158.12 497.08h14.68M1334.23 497.08h14.68M1436.96 497.08h29.35M483.02 514.69h14.68M541.73 514.69h14.68M703.16 514.69h14.68M1114.09 514.69h29.35M1158.12 514.69h29.35M468.35 549.9h14.68M556.4 549.9h29.35M1202.15 549.9h14.68M1231.5 549.9h14.68M1202.15 567.51h29.35M1334.23 567.51h14.68M1539.7 567.51h14.68M1128.77 585.12h14.68M1070.06 602.73h29.35M1143.44 602.73h14.68M1202.15 602.73h14.68M1231.5 602.73h14.68M1275.53 602.73h14.68M483.02 620.34h14.68M703.16 620.34h14.68M1202.15 620.34h14.68M1231.5 620.34h14.68M1422.29 637.94h29.35M1128.77 655.55h14.68M541.73 673.16h29.35M644.46 673.16h29.35M703.16 673.16h14.68M1128.77 673.16h14.68M1246.18 673.16h14.68M1319.56 673.16h14.68M1363.58 673.16h14.68M1392.94 673.16h29.35M1422.29 690.77h14.68M1480.99 690.77h14.68M1246.18 708.38h29.35M1363.58 708.38h14.68M1466.32 708.38h44.03M1260.85 725.98h14.68M1422.29 725.98h29.35M1246.18 743.59h29.35M1334.23 743.59h14.68M1422.29 743.59h14.68M1451.64 743.59h14.68M1495.67 743.59h14.68M1378.26 778.81h14.68M952.66 796.42h14.68M1275.53 796.42h14.68M1304.88 796.42h14.68M967.33 814.02h14.68M1290.2 814.02h14.68M600.43 849.24h14.68M644.46 849.24h29.35M908.63 849.24h14.68M791.22 866.85h14.68M820.57 866.85h44.03M879.28 866.85h14.68M923.3 866.85h14.68M585.76 884.46h14.68M585.76 902.06h14.68M761.87 902.06h14.68M908.63 902.06h14.68M585.76 919.67h14.68M761.87 919.67h14.68M600.43 937.28h14.68M644.46 937.28h44.03M908.63 937.28h14.68M585.76 954.89h14.68M908.63 954.89h14.68M585.76 972.5h14.68M761.87 972.5h14.68M908.63 972.5h14.68M556.4 990.1h29.35M644.46 990.1h29.35M585.76 1007.71h14.68M644.46 1007.71h29.35M761.87 1007.71h14.68M908.63 1007.71h14.68M644.46 1042.93h44.03M747.19 1042.93h14.68M791.22 1042.93h14.68M820.57 1042.93h14.68M864.6 1042.93h29.35M761.87 1060.54h14.68M439 1113.36h14.68M688.49 1113.36h14.68M1070.06 1113.36h14.68M1114.09 1113.36h14.68M1202.15 1113.36h14.68M1231.5 1113.36h14.68M468.35 1130.97h14.68M600.43 1130.97h14.68M644.46 1130.97h29.35M703.16 1130.97h14.68M571.08 1148.58h29.35M761.87 1148.58h14.68M849.92 1148.58h14.68M1275.53 1148.58h14.68M585.76 1166.18h14.68M688.49 1166.18h14.68M761.87 1166.18h14.68M791.22 1166.18h29.35M849.92 1166.18h14.68M923.3 1166.18h14.68M1070.06 1166.18h14.68M585.76 1183.79h14.68M688.49 1183.79h14.68M761.87 1183.79h14.68M791.22 1183.79h29.35M849.92 1183.79h14.68M923.3 1183.79h14.68M1070.06 1183.79h14.68M571.08 1201.4h14.68M1275.53 1201.4h14.68M571.08 1219.01h14.68M1275.53 1219.01h14.68M688.49 1236.62h14.68M849.92 1236.62h14.68M923.3 1236.62h14.68M1275.53 1236.62h14.68M439 1254.22h14.68M556.4 1254.22h29.35M644.46 1254.22h44.03M791.22 1254.22h14.68M820.57 1254.22h29.35M864.6 1254.22h44.03M1275.53 1254.22h14.68M483.02 1271.83h14.68M585.76 1271.83h14.68M615.11 1271.83h29.35M673.81 1271.83h14.68M805.9 1271.83h14.68M1172.8 1271.83h14.68M1275.53 1271.83h14.68M585.76 1289.44h14.68M805.9 1289.44h14.68M1070.06 1289.44h14.68M1172.8 1289.44h14.68M1070.06 1307.05h14.68M1202.15 1307.05h14.68M1231.5 1307.05h14.68M453.67 1377.48h29.35M571.08 1377.48h14.68M1114.09 1377.48h14.68M1202.15 1377.48h14.68M1231.5 1377.48h14.68M1275.53 1377.48h14.68M483.02 1395.09h14.68M688.49 1395.09h14.68M1172.8 1395.09h14.68M483.02 1412.7h14.68M424.32 1430.3h14.68M585.76 1430.3h14.68M703.16 1430.3h14.68M439 1447.91h14.68M350.94 1500.74h29.35M380.29 1518.34h14.68M336.26 1535.95h14.68M380.29 1535.95h14.68M350.94 1553.56h14.68M292.24 1571.17h14.68M292.24 1588.78h14.68M306.91 1606.38h29.35M204.18 1641.6h14.68M248.21 1641.6h14.68M262.88 1659.21h14.68M262.88 1712.03h14.68"/><path stroke="#ff3f2e" stroke-width="17.91" d="M1216.82 109.7h14.68M1407.61 109.7h14.68M1158.12 144.92h14.68M1202.15 144.92h14.68M1436.96 144.92h29.35M1099.42 162.53h14.68M1392.94 162.53h29.35M982.01 180.14h14.68M1011.36 180.14h14.68M1070.06 180.14h14.68M1407.61 180.14h14.68M1451.64 180.14h14.68M1407.61 197.74h14.68M982.01 215.35h14.68M1040.71 215.35h14.68M1158.12 215.35h14.68M1436.96 215.35h14.68M1480.99 215.35h14.68M1510.34 215.35h14.68M1055.39 232.96h29.35M1202.15 232.96h14.68M1246.18 232.96h14.68M1319.56 232.96h14.68M1363.58 232.96h14.68M1451.64 232.96h14.68M1510.34 232.96h14.68M1158.12 250.57h29.35M1202.15 250.57h29.35M1275.53 250.57h14.68M483.02 268.18h14.68M541.73 268.18h14.68M703.16 268.18h14.68M1172.8 268.18h29.35M1275.53 268.18h14.68M1392.94 268.18h14.68M1466.32 268.18h44.03M1539.7 268.18h14.68M644.46 285.78h44.03M761.87 285.78h14.68M982.01 285.78h14.68M1319.56 285.78h14.68M1378.26 285.78h14.68M1407.61 285.78h14.68M1495.67 285.78h14.68M1334.23 303.39h14.68M1392.94 303.39h14.68M747.19 321h14.68M937.98 321h14.68M982.01 321h14.68M1011.36 321h29.35M1158.12 321h14.68M1275.53 321h14.68M1304.88 321h14.68M1436.96 321h14.68M967.33 338.61h14.68M1070.06 338.61h29.35M1246.18 338.61h14.68M1275.53 338.61h14.68M1319.56 338.61h14.68M1026.04 356.22h14.68M1172.8 356.22h14.68M1202.15 356.22h14.68M1275.53 356.22h14.68M1378.26 356.22h14.68M982.01 373.82h14.68M1026.04 373.82h14.68M1158.12 373.82h14.68M1304.88 373.82h14.68M1348.91 373.82h14.68M1392.94 373.82h14.68M1436.96 373.82h14.68M996.68 391.43h14.68M1070.06 391.43h14.68M1246.18 391.43h14.68M1275.53 391.43h14.68M1319.56 391.43h14.68M1363.58 391.43h14.68M996.68 409.04h14.68M468.35 426.65h14.68M688.49 426.65h14.68M805.9 426.65h44.03M864.6 426.65h44.03M952.66 426.65h14.68M1114.09 426.65h14.68M1187.47 426.65h14.68M1246.18 426.65h29.35M1304.88 426.65h14.68M1334.23 426.65h44.03M1407.61 426.65h29.35M982.01 444.26h14.68M1099.42 444.26h14.68M1158.12 444.26h14.68M1202.15 444.26h29.35M1275.53 444.26h14.68M982.01 461.86h14.68M1026.04 461.86h14.68M1158.12 461.86h14.68M1275.53 461.86h14.68M1304.88 461.86h14.68M1348.91 461.86h14.68M1436.96 461.86h14.68M1158.12 479.47h14.68M1216.82 479.47h14.68M1231.5 497.08h14.68M1260.85 497.08h14.68M1422.29 497.08h14.68M1539.7 497.08h14.68M1070.06 514.69h14.68M1260.85 514.69h14.68M1334.23 514.69h14.68M1422.29 514.69h29.35M1510.34 514.69h14.68M468.35 532.3h14.68M497.7 532.3h14.68M556.4 532.3h14.68M1070.06 532.3h29.35M1143.44 532.3h14.68M1275.53 532.3h14.68M1407.61 532.3h14.68M453.67 549.9h14.68M497.7 549.9h14.68M1334.23 549.9h14.68M1407.61 549.9h29.35M1231.5 567.51h44.03M1319.56 567.51h14.68M1363.58 567.51h14.68M1422.29 567.51h14.68M1451.64 567.51h14.68M1510.34 567.51h14.68M1187.47 585.12h14.68M468.35 602.73h14.68M497.7 602.73h14.68M497.7 620.34h14.68M1070.06 620.34h14.68M1275.53 620.34h14.68M1040.71 637.94h14.68M1260.85 637.94h14.68M1495.67 637.94h14.68M1040.71 655.55h14.68M1187.47 655.55h14.68M1348.91 655.55h14.68M571.08 673.16h14.68M600.43 673.16h44.03M673.81 673.16h14.68M937.98 673.16h44.03M1114.09 673.16h14.68M1187.47 673.16h29.35M1304.88 673.16h14.68M1348.91 673.16h14.68M1436.96 673.16h14.68M1480.99 673.16h14.68M1040.71 690.77h14.68M1436.96 690.77h14.68M1026.04 708.38h14.68M1055.39 708.38h14.68M1084.74 708.38h29.35M1451.64 708.38h14.68M1011.36 725.98h14.68M1040.71 725.98h14.68M1246.18 725.98h14.68M1319.56 725.98h29.35M1363.58 725.98h14.68M1026.04 743.59h14.68M1363.58 743.59h14.68M1480.99 743.59h14.68M747.19 761.2h14.68M937.98 761.2h14.68M982.01 761.2h14.68M1290.2 761.2h29.35M996.68 778.81h14.68M1246.18 778.81h29.35M1319.56 778.81h14.68M1363.58 778.81h14.68M1392.94 778.81h14.68M1451.64 778.81h14.68M1480.99 778.81h14.68M556.4 796.42h29.35M1070.06 796.42h14.68M1348.91 796.42h14.68M1070.06 814.02h14.68M1275.53 814.02h14.68M673.81 831.63h14.68M747.19 831.63h29.35M996.68 831.63h14.68M1070.06 831.63h14.68M1363.58 831.63h14.68M585.76 849.24h14.68M761.87 849.24h14.68M761.87 866.85h14.68M864.6 866.85h14.68M893.95 866.85h14.68M556.4 884.46h29.35M761.87 884.46h14.68M908.63 884.46h14.68M1275.53 884.46h14.68M556.4 902.06h29.35M1275.53 902.06h14.68M556.4 919.67h29.35M908.63 919.67h14.68M1275.53 919.67h14.68M585.76 937.28h14.68M761.87 937.28h14.68M556.4 954.89h29.35M761.87 954.89h14.68M1275.53 954.89h14.68M556.4 972.5h29.35M1275.53 972.5h14.68M688.49 990.1h14.68M1275.53 990.1h14.68M761.87 1025.32h14.68M600.43 1042.93h44.03M776.54 1042.93h14.68M835.25 1042.93h29.35M893.95 1042.93h58.7M1392.94 1042.93h14.68M937.98 1060.54h14.68M996.68 1060.54h14.68M1363.58 1060.54h14.68M453.67 1113.36h14.68M585.76 1113.36h88.06M1407.61 1113.36h14.68M439 1130.97h14.68M541.73 1130.97h14.68M585.76 1130.97h14.68M615.11 1130.97h29.35M673.81 1130.97h14.68M805.9 1130.97h14.68M1275.53 1130.97h14.68M688.49 1148.58h14.68M937.98 1148.58h14.68M1070.06 1148.58h14.68M1392.94 1148.58h14.68M703.16 1166.18h14.68M1392.94 1166.18h14.68M703.16 1183.79h14.68M1392.94 1183.79h14.68M688.49 1201.4h29.35M761.87 1201.4h14.68M1070.06 1201.4h14.68M688.49 1219.01h29.35M761.87 1219.01h14.68M1070.06 1219.01h14.68M468.35 1236.62h14.68M541.73 1236.62h14.68M703.16 1236.62h14.68M761.87 1236.62h14.68M1070.06 1236.62h14.68M468.35 1254.22h14.68M541.73 1254.22h14.68M688.49 1254.22h29.35M849.92 1254.22h14.68M923.3 1254.22h14.68M439 1271.83h29.35M820.57 1271.83h29.35M864.6 1271.83h44.03M967.33 1271.83h14.68M1070.06 1271.83h14.68M439 1289.44h14.68M820.57 1289.44h29.35M864.6 1289.44h44.03M967.33 1289.44h14.68M1187.47 1289.44h14.68M439 1307.05h14.68M585.76 1307.05h29.35M688.49 1307.05h14.68M1407.61 1307.05h14.68M1114.09 1359.87h29.35M1172.8 1359.87h29.35M1407.61 1377.48h14.68M453.67 1395.09h14.68M585.76 1395.09h29.35M1128.77 1395.09h14.68M1187.47 1395.09h14.68M1275.53 1395.09h14.68M468.35 1412.7h14.68M571.08 1412.7h14.68M703.16 1412.7h14.68M1172.8 1412.7h14.68M541.73 1430.3h44.03M688.49 1430.3h14.68M292.24 1500.74h14.68M336.26 1518.34h14.68M365.62 1553.56h14.68M204.18 1571.17h29.35M204.18 1606.38h14.68M380.29 1606.38h14.68M233.53 1659.21h14.68M248.21 1676.82h14.68M321.59 1694.42h14.68M292.24 1712.03h14.68M321.59 1712.03h14.68"/><path stroke="#ff402f" stroke-width="17.91" d="M1510.34 109.7h14.68M1158.12 127.31h14.68M1231.5 144.92h14.68M1260.85 144.92h14.68M1334.23 144.92h14.68M1378.26 144.92h14.68M1422.29 144.92h14.68M1539.7 144.92h14.68M937.98 162.53h14.68M996.68 162.53h14.68M1055.39 162.53h29.35M1290.2 162.53h14.68M937.98 180.14h14.68M1216.82 180.14h14.68M1055.39 197.74h14.68M1099.42 197.74h14.68M1216.82 197.74h14.68M1392.94 197.74h14.68M1392.94 215.35h14.68M483.02 232.96h14.68M982.01 232.96h14.68M1040.71 232.96h14.68M1172.8 232.96h14.68M483.02 250.57h14.68M541.73 250.57h14.68M937.98 250.57h14.68M982.01 250.57h14.68M1084.74 250.57h14.68M1114.09 250.57h29.35M1187.47 250.57h14.68M1510.34 250.57h14.68M556.4 268.18h14.68M644.46 268.18h29.35M1011.36 268.18h14.68M1040.71 268.18h14.68M1114.09 268.18h29.35M1378.26 268.18h14.68M556.4 285.78h14.68M747.19 285.78h14.68M1026.04 285.78h14.68M1275.53 285.78h14.68M1451.64 285.78h29.35M1011.36 303.39h14.68M1040.71 303.39h29.35M1099.42 303.39h14.68M1216.82 303.39h14.68M1246.18 303.39h14.68M1319.56 303.39h14.68M1363.58 303.39h14.68M1407.61 303.39h14.68M1510.34 303.39h14.68M644.46 321h29.35M952.66 321h14.68M996.68 321h14.68M1216.82 321h14.68M1348.91 321h14.68M1378.26 321h14.68M996.68 338.61h14.68M1143.44 338.61h14.68M1334.23 338.61h14.68M1363.58 338.61h14.68M483.02 356.22h14.68M541.73 356.22h14.68M703.16 356.22h14.68M982.01 356.22h14.68M1055.39 356.22h14.68M1084.74 356.22h58.7M1290.2 356.22h14.68M1348.91 356.22h14.68M1510.34 356.22h14.68M952.66 373.82h14.68M996.68 373.82h14.68M1275.53 373.82h14.68M1378.26 373.82h14.68M585.76 391.43h14.68M615.11 391.43h73.38M791.22 391.43h14.68M820.57 391.43h14.68M864.6 391.43h44.03M747.19 409.04h14.68M1011.36 409.04h14.68M1040.71 409.04h14.68M1260.85 409.04h14.68M1334.23 409.04h14.68M1495.67 409.04h14.68M439 426.65h14.68M791.22 426.65h14.68M923.3 426.65h14.68M1084.74 426.65h14.68M1158.12 426.65h14.68M1202.15 426.65h14.68M1231.5 426.65h14.68M1319.56 426.65h14.68M1392.94 426.65h14.68M483.02 444.26h14.68M541.73 444.26h14.68M937.98 444.26h14.68M1055.39 444.26h14.68M1172.8 444.26h14.68M1290.2 444.26h14.68M1510.34 444.26h14.68M937.98 461.86h29.35M996.68 461.86h14.68M1216.82 461.86h14.68M1378.26 461.86h14.68M468.35 479.47h14.68M556.4 479.47h14.68M1070.06 479.47h14.68M1275.53 479.47h14.68M1510.34 479.47h14.68M483.02 497.08h14.68M1187.47 497.08h14.68M1246.18 497.08h14.68M1363.58 497.08h29.35M1466.32 497.08h29.35M468.35 514.69h14.68M556.4 514.69h29.35M1275.53 514.69h14.68M453.67 532.3h14.68M571.08 532.3h14.68M1216.82 532.3h14.68M1422.29 532.3h14.68M439 549.9h14.68M600.43 549.9h73.38M688.49 549.9h14.68M1084.74 549.9h14.68M1143.44 549.9h14.68M1260.85 549.9h14.68M1436.96 549.9h14.68M541.73 567.51h14.68M703.16 567.51h14.68M1070.06 567.51h14.68M1275.53 567.51h14.68M1525.02 567.51h14.68M541.73 585.12h14.68M1040.71 585.12h14.68M1070.06 585.12h14.68M1172.8 585.12h14.68M1348.91 585.12h14.68M439 602.73h14.68M556.4 602.73h29.35M1334.23 602.73h14.68M1407.61 602.73h29.35M468.35 620.34h14.68M1099.42 620.34h14.68M1334.23 620.34h14.68M1407.61 620.34h29.35M1026.04 637.94h14.68M1070.06 637.94h29.35M1114.09 637.94h14.68M1334.23 637.94h14.68M1378.26 637.94h14.68M1466.32 637.94h14.68M541.73 655.55h14.68M1055.39 655.55h29.35M1099.42 655.55h14.68M1172.8 655.55h14.68M1275.53 655.55h14.68M1334.23 655.55h14.68M1422.29 655.55h14.68M585.76 673.16h14.68M805.9 673.16h14.68M864.6 673.16h14.68M893.95 673.16h14.68M1040.71 673.16h14.68M1084.74 673.16h29.35M1143.44 673.16h29.35M1231.5 673.16h14.68M1495.67 673.16h14.68M1026.04 690.77h14.68M1084.74 690.77h14.68M1260.85 690.77h14.68M1334.23 690.77h14.68M1378.26 690.77h14.68M1466.32 690.77h14.68M1495.67 690.77h14.68M1070.06 708.38h14.68M1143.44 708.38h14.68M1290.2 708.38h14.68M1378.26 708.38h14.68M1407.61 708.38h14.68M1436.96 708.38h14.68M1055.39 725.98h14.68M1099.42 725.98h14.68M1392.94 725.98h14.68M1290.2 743.59h14.68M1378.26 743.59h14.68M1407.61 743.59h14.68M952.66 761.2h14.68M1246.18 761.2h14.68M1319.56 761.2h14.68M1348.91 761.2h29.35M1495.67 761.2h14.68M937.98 778.81h14.68M1334.23 778.81h14.68M1422.29 778.81h29.35M703.16 796.42h14.68M761.87 796.42h14.68M585.76 814.02h14.68M615.11 814.02h73.38M864.6 814.02h14.68M893.95 814.02h14.68M996.68 814.02h14.68M1246.18 814.02h14.68M1319.56 814.02h14.68M1363.58 814.02h14.68M644.46 831.63h29.35M820.57 831.63h14.68M864.6 831.63h29.35M982.01 831.63h14.68M1246.18 831.63h29.35M1422.29 831.63h14.68M1480.99 831.63h29.35M556.4 849.24h29.35M776.54 849.24h14.68M1275.53 849.24h14.68M776.54 866.85h14.68M805.9 866.85h14.68M688.49 884.46h14.68M776.54 884.46h14.68M952.66 884.46h14.68M1070.06 884.46h14.68M1304.88 884.46h14.68M776.54 902.06h14.68M937.98 902.06h14.68M1304.88 902.06h14.68M688.49 919.67h14.68M776.54 919.67h14.68M937.98 919.67h29.35M1070.06 919.67h14.68M1304.88 919.67h14.68M776.54 937.28h14.68M688.49 954.89h14.68M776.54 954.89h14.68M776.54 972.5h14.68M937.98 972.5h14.68M1304.88 972.5h14.68M439 990.1h14.68M468.35 990.1h14.68M512.38 990.1h29.35M703.16 990.1h14.68M761.87 990.1h14.68M908.63 990.1h14.68M1070.06 990.1h14.68M556.4 1007.71h29.35M776.54 1007.71h14.68M1275.53 1007.71h14.68M1304.88 1007.71h14.68M600.43 1025.32h14.68M673.81 1025.32h14.68M717.84 1025.32h14.68M791.22 1025.32h14.68M820.57 1025.32h117.41M805.9 1042.93h14.68M967.33 1042.93h14.68M1290.2 1060.54h14.68M1392.94 1060.54h14.68M776.54 1095.75h14.68M497.7 1113.36h14.68M673.81 1113.36h14.68M805.9 1113.36h14.68M967.33 1113.36h14.68M1158.12 1113.36h14.68M1334.23 1113.36h14.68M453.67 1130.97h14.68M483.02 1130.97h14.68M835.25 1130.97h14.68M864.6 1130.97h14.68M893.95 1130.97h14.68M1172.8 1130.97h14.68M541.73 1148.58h14.68M703.16 1148.58h14.68M776.54 1148.58h14.68M952.66 1148.58h14.68M1304.88 1148.58h14.68M483.02 1166.18h14.68M541.73 1166.18h14.68M937.98 1166.18h29.35M1172.8 1166.18h14.68M1304.88 1166.18h14.68M1363.58 1166.18h14.68M1407.61 1166.18h14.68M483.02 1183.79h14.68M541.73 1183.79h14.68M937.98 1183.79h29.35M1172.8 1183.79h14.68M1304.88 1183.79h14.68M1363.58 1183.79h14.68M1407.61 1183.79h14.68M439 1201.4h14.68M468.35 1201.4h29.35M541.73 1201.4h14.68M952.66 1201.4h14.68M1172.8 1201.4h14.68M1304.88 1201.4h14.68M439 1219.01h14.68M468.35 1219.01h29.35M541.73 1219.01h14.68M952.66 1219.01h14.68M1172.8 1219.01h14.68M1304.88 1219.01h14.68M439 1236.62h14.68M483.02 1236.62h14.68M776.54 1236.62h14.68M1172.8 1236.62h14.68M952.66 1254.22h14.68M1070.06 1254.22h14.68M1304.88 1254.22h14.68M791.22 1271.83h14.68M923.3 1271.83h14.68M1128.77 1271.83h14.68M1187.47 1271.83h29.35M453.67 1289.44h14.68M791.22 1289.44h14.68M923.3 1289.44h14.68M1128.77 1289.44h14.68M1202.15 1289.44h14.68M1231.5 1289.44h14.68M1392.94 1289.44h29.35M453.67 1307.05h14.68M497.7 1307.05h14.68M615.11 1307.05h73.38M1084.74 1307.05h14.68M1143.44 1307.05h29.35M1260.85 1307.05h14.68M1334.23 1307.05h14.68M1422.29 1307.05h14.68M805.9 1324.66h14.68M805.9 1342.26h14.68M453.67 1359.87h44.03M541.73 1359.87h14.68M703.16 1359.87h14.68M439 1377.48h14.68M497.7 1377.48h14.68M600.43 1377.48h73.38M688.49 1377.48h14.68M1216.82 1377.48h14.68M1260.85 1377.48h14.68M1334.23 1377.48h14.68M1422.29 1377.48h29.35M424.32 1395.09h14.68M497.7 1395.09h14.68M615.11 1395.09h29.35M805.9 1395.09h14.68M1114.09 1395.09h14.68M1202.15 1395.09h14.68M1231.5 1395.09h14.68M497.7 1412.7h14.68M541.73 1412.7h29.35M688.49 1412.7h14.68M1187.47 1412.7h14.68M483.02 1430.3h14.68M600.43 1430.3h44.03M805.9 1430.3h14.68M1128.77 1430.3h14.68M1172.8 1430.3h14.68M1275.53 1430.3h14.68M468.35 1447.91h14.68M189.5 1571.17h14.68M204.18 1588.78h14.68M233.53 1641.6h14.68M174.83 1659.21h14.68M160.15 1676.82h29.35M218.86 1676.82h14.68M262.88 1676.82h14.68M233.53 1694.42h14.68M306.91 1712.03h14.68M321.59 1729.64h14.68M233.53 1747.25h29.35M233.53 1764.86h14.68"/><path stroke="#ff3a2a" stroke-width="17.91" d="M1539.7 109.7h14.68M1525.02 127.31h14.68M1216.82 144.92h14.68M1510.34 144.92h14.68M1466.32 162.53h14.68M1495.67 162.53h14.68M1480.99 180.14h14.68M1026.04 197.74h14.68M1466.32 197.74h14.68M1495.67 197.74h14.68M1451.64 215.35h14.68M1436.96 232.96h14.68M1260.85 250.57h14.68M1334.23 250.57h14.68M1422.29 250.57h14.68M1407.61 268.18h14.68M1392.94 285.78h14.68M1026.04 303.39h14.68M1378.26 303.39h14.68M1246.18 321h29.35M1319.56 321h14.68M1363.58 321h14.68M952.66 338.61h14.68M1304.88 338.61h14.68M1348.91 338.61h14.68M1246.18 356.22h29.35M1334.23 356.22h14.68M1422.29 356.22h14.68M1246.18 373.82h14.68M1319.56 373.82h14.68M1363.58 373.82h14.68M952.66 391.43h14.68M1304.88 391.43h14.68M1348.91 391.43h14.68M1290.2 409.04h14.68M1275.53 426.65h14.68M1246.18 444.26h29.35M1334.23 444.26h14.68M1363.58 444.26h14.68M1422.29 444.26h14.68M1246.18 461.86h29.35M1319.56 461.86h29.35M1363.58 461.86h14.68M1202.15 479.47h14.68M1231.5 479.47h14.68M1216.82 497.08h14.68M1510.34 497.08h14.68M1202.15 514.69h14.68M1231.5 514.69h14.68M1128.77 532.3h14.68M1187.47 532.3h14.68M483.02 549.9h14.68M541.73 549.9h14.68M703.16 549.9h14.68M1172.8 549.9h14.68M1158.12 567.51h14.68M1084.74 585.12h14.68M1143.44 585.12h14.68M1114.09 602.73h29.35M1187.47 602.73h14.68M1114.09 620.34h29.35M1055.39 637.94h14.68M1099.42 637.94h14.68M1084.74 655.55h14.68M1143.44 655.55h14.68M1070.06 673.16h14.68M1055.39 690.77h14.68M1099.42 690.77h14.68M1011.36 708.38h14.68M1040.71 708.38h14.68M1026.04 725.98h14.68M1378.26 725.98h14.68M1466.32 725.98h14.68M1011.36 743.59h14.68M1040.71 743.59h14.68M996.68 761.2h14.68M982.01 778.81h14.68M615.11 796.42h29.35M967.33 796.42h14.68M952.66 814.02h14.68M1304.88 814.02h14.68M1348.91 814.02h14.68M937.98 831.63h14.68M791.22 849.24h14.68M820.57 849.24h88.06M923.3 849.24h14.68M908.63 866.85h14.68M615.11 884.46h29.35M791.22 884.46h117.41M923.3 884.46h14.68M791.22 902.06h14.68M820.57 902.06h88.06M923.3 902.06h14.68M615.11 919.67h29.35M673.81 919.67h14.68M791.22 919.67h117.41M923.3 919.67h14.68M791.22 937.28h14.68M820.57 937.28h88.06M923.3 937.28h14.68M615.11 954.89h29.35M791.22 954.89h117.41M923.3 954.89h14.68M791.22 972.5h14.68M820.57 972.5h88.06M923.3 972.5h14.68M615.11 990.1h29.35M805.9 990.1h14.68M835.25 990.1h14.68M864.6 990.1h14.68M893.95 990.1h14.68M791.22 1007.71h14.68M820.57 1007.71h88.06M923.3 1007.71h14.68M776.54 1025.32h14.68M761.87 1042.93h14.68M747.19 1060.54h14.68M732.52 1078.14h14.68M717.84 1095.75h14.68M483.02 1113.36h14.68M541.73 1113.36h14.68M703.16 1113.36h14.68M1172.8 1113.36h14.68M688.49 1130.97h14.68M600.43 1148.58h88.06M864.6 1148.58h14.68M600.43 1166.18h14.68M644.46 1166.18h44.03M600.43 1183.79h14.68M644.46 1183.79h44.03M600.43 1201.4h44.03M673.81 1201.4h14.68M805.9 1201.4h14.68M835.25 1201.4h14.68M864.6 1201.4h14.68M893.95 1201.4h14.68M967.33 1201.4h14.68M600.43 1219.01h44.03M673.81 1219.01h14.68M805.9 1219.01h14.68M835.25 1219.01h14.68M864.6 1219.01h14.68M893.95 1219.01h14.68M967.33 1219.01h14.68M600.43 1236.62h88.06M585.76 1254.22h14.68M556.4 1271.83h29.35M556.4 1289.44h29.35M483.02 1307.05h14.68M541.73 1307.05h14.68M703.16 1307.05h14.68M1172.8 1307.05h14.68M512.38 1324.66h29.35M512.38 1342.26h29.35M497.7 1359.87h14.68M483.02 1377.48h14.68M541.73 1377.48h14.68M703.16 1377.48h14.68M1172.8 1377.48h14.68M468.35 1395.09h14.68M453.67 1412.7h14.68M439 1430.3h14.68M424.32 1447.91h14.68M409.64 1465.52h14.68M394.97 1483.13h14.68M380.29 1500.74h14.68M365.62 1518.34h14.68M350.94 1535.95h14.68M336.26 1553.56h14.68M321.59 1571.17h14.68M306.91 1588.78h14.68M292.24 1606.38h14.68M277.56 1623.99h14.68M262.88 1641.6h14.68M248.21 1659.21h14.68M233.53 1676.82h14.68M218.86 1694.42h14.68M204.18 1712.03h14.68M189.5 1729.64h14.68M174.83 1747.25h14.68M160.15 1764.86h14.68M145.48 1782.46h14.68M130.8 1800.07h14.68"/><path stroke="#5a4d9c" stroke-width="17.91" d="M130.8 127.31h14.68M218.86 391.43h14.68M130.8 849.24h14.68M277.56 849.24h14.68M277.56 884.46h14.68M160.15 902.06h14.68M277.56 902.06h29.35M277.56 919.67h14.68M380.29 919.67h14.68M130.8 937.28h14.68M277.56 937.28h14.68M277.56 954.89h29.35M160.15 972.5h14.68M277.56 972.5h29.35M321.59 990.1h14.68M380.29 990.1h14.68M160.15 1007.71h14.68M292.24 1007.71h14.68M380.29 1025.32h14.68M174.83 1042.93h14.68M292.24 1042.93h14.68M336.26 1042.93h14.68M233.53 1060.54h14.68M204.18 1095.75h14.68M277.56 1095.75h14.68M218.86 1113.36h14.68M277.56 1201.4h14.68M277.56 1219.01h14.68M277.56 1236.62h14.68M306.91 1254.22h14.68M336.26 1271.83h14.68M277.56 1289.44h14.68M218.86 1324.66h14.68M277.56 1324.66h14.68M218.86 1377.48h14.68M218.86 1395.09h14.68M336.26 1430.3h14.68M776.54 1500.74h14.68M805.9 1500.74h14.68M864.6 1500.74h14.68M439 1553.56h14.68M571.08 1553.56h14.68M761.87 1553.56h14.68M805.9 1571.17h14.68M585.76 1588.78h14.68M761.87 1606.38h14.68M791.22 1606.38h14.68M820.57 1606.38h29.35M879.28 1606.38h14.68M527.05 1623.99h14.68M556.4 1623.99h14.68M600.43 1623.99h44.03M717.84 1623.99h14.68M820.57 1623.99h88.06M923.3 1623.99h14.68M747.19 1676.82h14.68M468.35 1694.42h29.35M527.05 1694.42h14.68M703.16 1694.42h14.68M1304.88 1694.42h14.68M717.84 1712.03h14.68M761.87 1747.25h14.68M791.22 1764.86h14.68M820.57 1764.86h14.68M879.28 1764.86h14.68M849.92 1800.07h14.68M923.3 1800.07h14.68M1525.02 1800.07h14.68"/><path stroke="#624f9b" stroke-width="17.91" d="M145.48 127.31h14.68M233.53 285.78h14.68M130.8 338.61h14.68M160.15 391.43h14.68M233.53 391.43h14.68M306.91 426.65h14.68M218.86 444.26h14.68M218.86 461.86h14.68M277.56 549.9h14.68M130.8 585.12h14.68M130.8 690.77h14.68M277.56 796.42h14.68M160.15 814.02h14.68M233.53 814.02h14.68M321.59 831.63h14.68M248.21 849.24h14.68M130.8 866.85h14.68M204.18 884.46h14.68M174.83 902.06h14.68M262.88 902.06h14.68M145.48 919.67h14.68M189.5 919.67h14.68M248.21 937.28h14.68M189.5 954.89h14.68M174.83 972.5h14.68M262.88 972.5h14.68M160.15 990.1h14.68M204.18 990.1h14.68M365.62 990.1h14.68M174.83 1007.71h14.68M262.88 1007.71h14.68M365.62 1025.32h14.68M160.15 1042.93h14.68M365.62 1042.93h14.68M160.15 1060.54h14.68M189.5 1060.54h14.68M306.91 1060.54h14.68M233.53 1095.75h14.68M336.26 1095.75h29.35M292.24 1130.97h14.68M321.59 1130.97h14.68M350.94 1148.58h14.68M277.56 1166.18h14.68M277.56 1183.79h14.68M365.62 1236.62h14.68M145.48 1254.22h14.68M233.53 1254.22h14.68M380.29 1254.22h14.68M321.59 1271.83h14.68M277.56 1307.05h14.68M306.91 1342.26h14.68M306.91 1430.3h14.68M292.24 1465.52h29.35M585.76 1500.74h14.68M600.43 1518.34h14.68M761.87 1518.34h29.35M805.9 1518.34h14.68M673.81 1535.95h14.68M717.84 1535.95h14.68M717.84 1553.56h14.68M571.08 1571.17h14.68M688.49 1571.17h14.68M937.98 1571.17h14.68M409.64 1588.78h14.68M439 1588.78h14.68M512.38 1588.78h14.68M747.19 1588.78h14.68M1275.53 1588.78h14.68M409.64 1606.38h14.68M688.49 1606.38h14.68M541.73 1623.99h14.68M644.46 1623.99h29.35M967.33 1623.99h14.68M1172.8 1623.99h14.68M791.22 1641.6h14.68M820.57 1641.6h14.68M879.28 1641.6h14.68M849.92 1659.21h14.68M923.3 1659.21h14.68M585.76 1676.82h14.68M717.84 1676.82h14.68M952.66 1676.82h14.68M1304.88 1676.82h14.68M1392.94 1676.82h14.68M1246.18 1694.42h29.35M805.9 1712.03h14.68M893.95 1712.03h14.68M747.19 1729.64h14.68M835.25 1729.64h14.68M864.6 1729.64h14.68M791.22 1747.25h14.68M820.57 1747.25h14.68M879.28 1747.25h14.68M747.19 1764.86h29.35M805.9 1764.86h14.68M952.66 1764.86h14.68M1304.88 1764.86h14.68M585.76 1782.46h14.68M864.6 1782.46h14.68M1525.02 1782.46h14.68M908.63 1800.07h14.68M1055.39 1800.07h14.68M1143.44 1800.07h14.68M1348.91 1800.07h14.68"/><path stroke="#9c7ab2" stroke-width="17.91" d="M189.5 127.31h14.68M380.29 162.53h14.68M262.88 180.14h14.68M204.18 232.96h14.68M262.88 232.96h14.68M380.29 232.96h14.68M350.94 250.57h14.68M204.18 444.26h14.68M262.88 444.26h14.68M365.62 479.47h29.35M350.94 497.08h14.68M365.62 514.69h14.68M321.59 585.12h14.68M336.26 637.94h14.68M160.15 690.77h14.68M262.88 778.81h29.35M248.21 1113.36h14.68M248.21 1377.48h14.68M248.21 1430.3h14.68M1231.5 1500.74h14.68M1436.96 1500.74h14.68M1495.67 1500.74h14.68M1202.15 1518.34h14.68M1231.5 1518.34h14.68M1216.82 1535.95h14.68M1422.29 1535.95h14.68M1099.42 1553.56h14.68M1143.44 1571.17h14.68M982.01 1623.99h14.68M982.01 1641.6h14.68M1260.85 1641.6h14.68M1436.96 1641.6h14.68M1480.99 1641.6h14.68M439 1659.21h14.68M483.02 1659.21h14.68M703.16 1659.21h14.68M1260.85 1712.03h14.68M1436.96 1712.03h14.68M1525.02 1729.64h14.68M1055.39 1764.86h14.68"/><path stroke="#ab86b8" stroke-width="17.91" d="M204.18 127.31h14.68M365.62 180.14h14.68M248.21 197.74h14.68M262.88 303.39h14.68M174.83 532.3h14.68M204.18 637.94h14.68M365.62 655.55h14.68M292.24 690.77h14.68M380.29 708.38h14.68M174.83 743.59h29.35M1040.71 1500.74h14.68M1084.74 1518.34h14.68M1480.99 1518.34h14.68M1055.39 1606.38h14.68M1378.26 1641.6h14.68M1466.32 1659.21h14.68M1099.42 1712.03h14.68M1525.02 1712.03h14.68M1011.36 1729.64h14.68M1011.36 1747.25h14.68M1187.47 1747.25h14.68"/><path stroke="#755a9d" stroke-width="17.91" d="M218.86 127.31h14.68M306.91 232.96h14.68M336.26 268.18h14.68M292.24 285.78h14.68M336.26 321h14.68M306.91 338.61h14.68M145.48 356.22h14.68M380.29 391.43h14.68M160.15 426.65h14.68M350.94 426.65h14.68M380.29 426.65h14.68M306.91 444.26h14.68M233.53 461.86h14.68M277.56 479.47h14.68M277.56 514.69h14.68M306.91 532.3h14.68M321.59 549.9h14.68M218.86 585.12h14.68M306.91 602.73h14.68M336.26 602.73h14.68M218.86 655.55h14.68M218.86 690.77h14.68M306.91 761.2h14.68M248.21 796.42h14.68M380.29 814.02h14.68M380.29 831.63h14.68M248.21 1060.54h14.68M365.62 1060.54h14.68M336.26 1078.14h29.35M233.53 1113.36h14.68M248.21 1148.58h14.68M248.21 1201.4h14.68M248.21 1219.01h14.68M145.48 1324.66h14.68M262.88 1324.66h14.68M292.24 1342.26h14.68M233.53 1377.48h14.68M380.29 1395.09h14.68M292.24 1412.7h14.68M292.24 1430.3h14.68M321.59 1430.3h14.68M365.62 1430.3h14.68M233.53 1465.52h14.68M262.88 1465.52h14.68M262.88 1483.13h14.68M468.35 1500.74h14.68M937.98 1500.74h29.35M1275.53 1500.74h14.68M1304.88 1500.74h14.68M439 1518.34h14.68M747.19 1518.34h14.68M732.52 1535.95h14.68M1275.53 1535.95h14.68M732.52 1553.56h14.68M1128.77 1553.56h14.68M1363.58 1553.56h14.68M1407.61 1553.56h14.68M439 1571.17h14.68M1172.8 1571.17h14.68M996.68 1588.78h14.68M1128.77 1588.78h14.68M1187.47 1588.78h14.68M1260.85 1588.78h14.68M1348.91 1588.78h14.68M1436.96 1588.78h14.68M439 1606.38h29.35M512.38 1606.38h14.68M1392.94 1606.38h14.68M1202.15 1623.99h14.68M1231.5 1623.99h14.68M394.97 1641.6h29.35M527.05 1641.6h14.68M615.11 1659.21h29.35M673.81 1659.21h14.68M747.19 1659.21h14.68M967.33 1659.21h14.68M409.64 1676.82h14.68M483.02 1676.82h14.68M703.16 1676.82h14.68M1246.18 1676.82h14.68M1055.39 1694.42h14.68M1084.74 1694.42h14.68M1143.44 1694.42h14.68M1525.02 1694.42h14.68M1275.53 1764.86h14.68M527.05 1782.46h14.68M1334.23 1782.46h14.68"/><path stroke="#9171ad" stroke-width="17.91" d="M292.24 127.31h14.68M233.53 144.92h14.68M277.56 162.53h14.68M174.83 180.14h29.35M160.15 197.74h14.68M321.59 197.74h29.35M321.59 215.35h14.68M174.83 232.96h14.68M292.24 232.96h14.68M189.5 250.57h14.68M380.29 268.18h14.68M277.56 303.39h14.68M174.83 356.22h14.68M292.24 356.22h14.68M277.56 409.04h29.35M380.29 444.26h14.68M145.48 479.47h14.68M145.48 497.08h14.68M292.24 514.69h14.68M350.94 532.3h14.68M262.88 549.9h14.68M380.29 567.51h14.68M145.48 637.94h14.68M160.15 655.55h14.68M248.21 673.16h14.68M145.48 690.77h14.68M336.26 708.38h14.68M233.53 743.59h14.68M204.18 761.2h14.68M248.21 1130.97h14.68M189.5 1307.05h14.68M233.53 1359.87h14.68M1158.12 1500.74h14.68M1260.85 1500.74h14.68M1407.61 1500.74h14.68M1187.47 1535.95h14.68M1040.71 1553.56h14.68M1466.32 1553.56h14.68M1451.64 1571.17h29.35M1202.15 1606.38h14.68M1290.2 1606.38h14.68M1334.23 1606.38h14.68M1436.96 1606.38h14.68M1525.02 1606.38h14.68M1290.2 1623.99h14.68M1378.26 1623.99h14.68M1495.67 1623.99h14.68M1172.8 1641.6h14.68M688.49 1659.21h14.68M1070.06 1659.21h14.68M497.7 1676.82h14.68M1011.36 1676.82h14.68M1510.34 1676.82h14.68M996.68 1712.03h14.68M541.73 1729.64h14.68M1422.29 1729.64h14.68M1480.99 1729.64h14.68M1334.23 1747.25h14.68M1436.96 1747.25h14.68M1480.99 1747.25h14.68M1084.74 1764.86h14.68M1466.32 1764.86h14.68M1055.39 1782.46h14.68M1099.42 1782.46h14.68M1216.82 1782.46h29.35"/><path stroke="#9575af" stroke-width="17.91" d="M321.59 127.31h14.68M292.24 144.92h14.68M189.5 215.35h14.68M160.15 232.96h14.68M174.83 268.18h14.68M174.83 303.39h14.68M248.21 321h29.35M350.94 356.22h14.68M292.24 373.82h14.68M292.24 479.47h14.68M350.94 514.69h14.68M174.83 549.9h14.68M160.15 567.51h14.68M189.5 567.51h14.68M160.15 585.12h14.68M160.15 620.34h14.68M350.94 620.34h14.68M380.29 620.34h14.68M321.59 690.77h14.68M160.15 708.38h14.68M174.83 725.98h14.68M306.91 743.59h14.68M350.94 761.2h14.68M174.83 1307.05h14.68M350.94 1359.87h14.68M174.83 1395.09h14.68M321.59 1447.91h14.68M1114.09 1500.74h14.68M497.7 1535.95h14.68M996.68 1535.95h14.68M1114.09 1535.95h14.68M1202.15 1535.95h14.68M1334.23 1535.95h14.68M424.32 1571.17h14.68M1055.39 1571.17h14.68M1525.02 1571.17h14.68M1011.36 1588.78h14.68M1231.5 1606.38h14.68M1319.56 1606.38h14.68M1510.34 1606.38h14.68M1363.58 1641.6h14.68M1363.58 1659.21h14.68M1158.12 1729.64h14.68M1451.64 1729.64h14.68M468.35 1747.25h14.68M541.73 1747.25h14.68M1026.04 1747.25h14.68M1172.8 1747.25h14.68M1378.26 1747.25h14.68M1407.61 1747.25h14.68M1040.71 1764.86h14.68M1114.09 1764.86h14.68M1143.44 1764.86h29.35M1436.96 1764.86h14.68"/><path stroke="#604e9b" stroke-width="17.91" d="M336.26 127.31h14.68M306.91 285.78h14.68M218.86 321h14.68M218.86 338.61h14.68M336.26 426.65h14.68M130.8 637.94h14.68M130.8 655.55h14.68M145.48 761.2h14.68M218.86 761.2h29.35M380.29 796.42h14.68M145.48 849.24h14.68M174.83 849.24h14.68M145.48 884.46h14.68M365.62 884.46h14.68M145.48 902.06h14.68M189.5 902.06h29.35M365.62 902.06h14.68M365.62 919.67h14.68M145.48 937.28h14.68M174.83 937.28h14.68M145.48 954.89h14.68M204.18 954.89h14.68M145.48 972.5h14.68M189.5 972.5h29.35M365.62 972.5h14.68M189.5 1007.71h29.35M350.94 1025.32h14.68M174.83 1060.54h14.68M365.62 1095.75h29.35M277.56 1113.36h14.68M350.94 1130.97h14.68M292.24 1148.58h14.68M380.29 1148.58h14.68M321.59 1166.18h14.68M321.59 1183.79h14.68M292.24 1201.4h14.68M350.94 1201.4h14.68M292.24 1219.01h14.68M350.94 1219.01h14.68M292.24 1236.62h14.68M350.94 1236.62h14.68M350.94 1254.22h14.68M130.8 1359.87h14.68M277.56 1359.87h14.68M277.56 1377.48h14.68M306.91 1395.09h14.68M306.91 1412.7h14.68M204.18 1465.52h14.68M673.81 1500.74h14.68M717.84 1500.74h14.68M967.33 1500.74h14.68M717.84 1518.34h14.68M820.57 1518.34h14.68M864.6 1518.34h44.03M585.76 1535.95h58.7M688.49 1535.95h14.68M776.54 1535.95h14.68M1275.53 1553.56h14.68M1525.02 1553.56h14.68M644.46 1571.17h29.35M453.67 1588.78h29.35M1392.94 1588.78h14.68M600.43 1606.38h44.03M673.81 1606.38h14.68M483.02 1623.99h29.35M703.16 1623.99h14.68M996.68 1676.82h14.68M996.68 1694.42h14.68M1348.91 1694.42h29.35M409.64 1712.03h14.68M791.22 1712.03h14.68M820.57 1712.03h29.35M879.28 1712.03h14.68M791.22 1729.64h14.68M820.57 1729.64h14.68M879.28 1729.64h14.68M747.19 1747.25h14.68M849.92 1747.25h14.68M923.3 1747.25h14.68M820.57 1782.46h44.03M879.28 1782.46h29.35M923.3 1782.46h14.68M996.68 1782.46h14.68M497.7 1800.07h14.68M1084.74 1800.07h29.35"/><path stroke="#7a5ea0" stroke-width="17.91" d="M350.94 127.31h14.68M233.53 162.53h14.68M233.53 356.22h14.68M277.56 391.43h14.68M321.59 391.43h14.68M336.26 461.86h14.68M336.26 479.47h14.68M306.91 497.08h14.68M336.26 514.69h14.68M145.48 655.55h14.68M145.48 708.38h14.68M248.21 761.2h14.68M145.48 778.81h14.68M277.56 814.02h14.68M262.88 1060.54h14.68M292.24 1113.36h14.68M350.94 1113.36h14.68M262.88 1254.22h14.68M145.48 1271.83h14.68M189.5 1289.44h14.68M292.24 1324.66h14.68M306.91 1359.87h14.68M365.62 1395.09h14.68M145.48 1430.3h14.68M468.35 1518.34h14.68M703.16 1535.95h14.68M1525.02 1535.95h14.68M1202.15 1553.56h14.68M1231.5 1553.56h29.35M1304.88 1571.17h14.68M497.7 1588.78h14.68M1216.82 1588.78h14.68M527.05 1606.38h14.68M703.16 1606.38h14.68M952.66 1623.99h14.68M1304.88 1623.99h14.68M585.76 1641.6h14.68M747.19 1641.6h14.68M996.68 1659.21h14.68M1334.23 1676.82h14.68M1495.67 1676.82h14.68M556.4 1729.64h14.68M439 1782.46h14.68M571.08 1782.46h14.68M982.01 1782.46h14.68M1040.71 1782.46h14.68M1084.74 1782.46h14.68"/><path stroke="#7c60a1" stroke-width="17.91" d="M365.62 127.31h14.68M306.91 144.92h14.68M233.53 180.14h14.68M306.91 180.14h14.68M145.48 197.74h14.68M145.48 250.57h14.68M233.53 250.57h14.68M277.56 268.18h14.68M160.15 321h14.68M321.59 321h14.68M336.26 356.22h14.68M306.91 373.82h14.68M350.94 391.43h14.68M306.91 409.04h14.68M365.62 426.65h14.68M336.26 444.26h14.68M306.91 479.47h14.68M306.91 620.34h14.68M336.26 620.34h14.68M160.15 673.16h14.68M292.24 673.16h14.68M321.59 761.2h14.68M321.59 814.02h14.68M350.94 814.02h14.68M350.94 1060.54h14.68M380.29 1113.36h14.68M145.48 1130.97h14.68M248.21 1236.62h14.68M189.5 1254.22h14.68M160.15 1271.83h14.68M160.15 1289.44h14.68M145.48 1342.26h14.68M292.24 1377.48h14.68M204.18 1412.7h14.68M350.94 1447.91h14.68M189.5 1483.13h14.68M233.53 1483.13h14.68M703.16 1500.74h14.68M1275.53 1518.34h14.68M1525.02 1518.34h14.68M424.32 1535.95h14.68M747.19 1535.95h14.68M952.66 1535.95h14.68M1304.88 1535.95h14.68M1114.09 1553.56h14.68M1260.85 1553.56h14.68M1334.23 1553.56h14.68M952.66 1571.17h14.68M996.68 1571.17h14.68M1363.58 1571.17h14.68M1114.09 1588.78h14.68M1231.5 1588.78h14.68M1290.2 1588.78h14.68M1319.56 1588.78h14.68M1480.99 1588.78h14.68M1510.34 1588.78h14.68M483.02 1606.38h14.68M1070.06 1606.38h14.68M1407.61 1623.99h14.68M600.43 1659.21h14.68M394.97 1676.82h14.68M1422.29 1676.82h14.68M1480.99 1676.82h14.68M453.67 1712.03h14.68M394.97 1729.64h14.68M585.76 1729.64h14.68M556.4 1764.86h29.35M1070.06 1764.86h14.68M1363.58 1764.86h14.68M512.38 1782.46h14.68M688.49 1782.46h14.68M1422.29 1782.46h14.68M1466.32 1782.46h14.68"/><path stroke="#ff7763" stroke-width="17.91" d="M394.97 127.31h14.68M717.84 127.31h14.68M394.97 356.22h14.68M394.97 391.43h14.68M394.97 444.26h14.68M732.52 602.73h14.68M717.84 620.34h14.68M732.52 690.77h14.68M1055.39 1078.14h14.68M1128.77 1078.14h14.68M1114.09 1095.75h14.68M1525.02 1095.75h14.68M1260.85 1483.13h14.68M1304.88 1483.13h14.68M1334.23 1483.13h14.68M1525.02 1483.13h14.68"/><path stroke="#ff735e" stroke-width="17.91" d="M409.64 127.31h14.68M717.84 180.14h14.68M732.52 197.74h14.68M732.52 215.35h14.68M424.32 303.39h14.68M732.52 373.82h14.68M394.97 497.08h14.68M409.64 532.3h14.68M717.84 602.73h14.68M409.64 673.16h14.68M1319.56 1078.14h14.68M1451.64 1078.14h29.35M527.05 1095.75h14.68M1128.77 1095.75h14.68M1480.99 1095.75h14.68M717.84 1324.66h14.68M1378.26 1447.91h14.68M1070.06 1465.52h14.68M1187.47 1465.52h14.68M1525.02 1465.52h14.68M1216.82 1483.13h14.68M130.8 1747.25h14.68M174.83 1800.07h14.68"/><path stroke="#ff6550" stroke-width="17.91" d="M512.38 127.31h14.68M1099.42 127.31h14.68M424.32 232.96h14.68M439 303.39h14.68M424.32 321h14.68M453.67 409.04h14.68M497.7 409.04h14.68M394.97 426.65h14.68M717.84 426.65h14.68M908.63 532.3h14.68M908.63 620.34h14.68M424.32 637.94h14.68M1525.02 637.94h14.68M424.32 690.77h14.68M424.32 708.38h14.68M453.67 778.81h29.35M512.38 778.81h14.68M394.97 796.42h14.68M1114.09 866.85h14.68M1187.47 866.85h14.68M409.64 1025.32h14.68M497.7 1042.93h14.68M453.67 1078.14h14.68M1275.53 1095.75h14.68M409.64 1166.18h14.68M409.64 1183.79h14.68M982.01 1342.26h14.68M1525.02 1342.26h14.68M761.87 1359.87h14.68M1290.2 1359.87h14.68M982.01 1395.09h14.68M732.52 1412.7h14.68M982.01 1412.7h14.68M1290.2 1412.7h14.68M1378.26 1430.3h14.68M1040.71 1447.91h29.35M1099.42 1447.91h14.68M1363.58 1447.91h14.68M1436.96 1447.91h14.68M644.46 1465.52h29.35M776.54 1465.52h14.68M967.33 1483.13h14.68M1275.53 1483.13h14.68M145.48 1694.42h14.68M218.86 1782.46h14.68"/><path stroke="#ff604b" stroke-width="17.91" d="M527.05 127.31h14.68M982.01 127.31h14.68M1378.26 127.31h14.68M849.92 144.92h14.68M908.63 162.53h14.68M908.63 180.14h14.68M439 197.74h14.68M512.38 197.74h14.68M497.7 215.35h14.68M908.63 232.96h14.68M1525.02 303.39h14.68M424.32 444.26h14.68M512.38 497.08h29.35M394.97 549.9h14.68M761.87 585.12h14.68M908.63 602.73h14.68M776.54 637.94h14.68M497.7 725.98h14.68M849.92 725.98h14.68M527.05 743.59h14.68M849.92 743.59h14.68M468.35 761.2h14.68M688.49 778.81h14.68M908.63 778.81h14.68M1525.02 778.81h14.68M717.84 796.42h29.35M982.01 866.85h14.68M1128.77 866.85h14.68M1436.96 866.85h14.68M1480.99 866.85h29.35M1011.36 937.28h29.35M1510.34 937.28h14.68M1099.42 1025.32h14.68M1143.44 1042.93h14.68M717.84 1060.54h14.68M556.4 1078.14h14.68M688.49 1078.14h14.68M967.33 1078.14h14.68M483.02 1095.75h14.68M747.19 1095.75h14.68M967.33 1095.75h14.68M732.52 1130.97h14.68M982.01 1130.97h14.68M732.52 1289.44h14.68M1011.36 1324.66h14.68M1216.82 1324.66h14.68M1525.02 1324.66h14.68M1216.82 1342.26h14.68M1466.32 1342.26h14.68M1026.04 1359.87h14.68M1451.64 1359.87h14.68M717.84 1377.48h14.68M996.68 1395.09h14.68M1466.32 1430.3h14.68M1260.85 1447.91h14.68M1172.8 1483.13h14.68M145.48 1500.74h14.68M248.21 1535.95h14.68M350.94 1659.21h14.68M380.29 1782.46h14.68"/><path stroke="#ff816d" stroke-width="17.91" d="M732.52 127.31h14.68M394.97 215.35h14.68M409.64 250.57h14.68M409.64 444.26h14.68M409.64 461.86h14.68M717.84 585.12h14.68M732.52 655.55h14.68M717.84 743.59h14.68M1084.74 1078.14h14.68M1525.02 1078.14h14.68M1011.36 1095.75h14.68M1143.44 1095.75h14.68M1246.18 1465.52h29.35M1422.29 1465.52h14.68M1451.64 1483.13h14.68M145.48 1623.99h14.68M130.8 1659.21h14.68M277.56 1782.46h14.68M248.21 1800.07h14.68"/><path stroke="#3c52a0" stroke-width="17.91" d="M130.8 144.92h14.68M130.8 268.18h14.68M130.8 497.08h14.68M130.8 514.69h14.68M130.8 567.51h14.68M306.91 866.85h14.68M218.86 990.1h14.68M321.59 1025.32h14.68M218.86 1042.93h14.68M189.5 1078.14h14.68M321.59 1078.14h14.68M306.91 1095.75h29.35M130.8 1130.97h14.68M218.86 1148.58h14.68M130.8 1166.18h14.68M130.8 1183.79h14.68M218.86 1201.4h14.68M218.86 1219.01h14.68M218.86 1236.62h14.68M130.8 1271.83h14.68M130.8 1289.44h14.68M277.56 1483.13h14.68M717.84 1571.17h29.35M776.54 1571.17h14.68M717.84 1588.78h14.68M908.63 1588.78h14.68M394.97 1623.99h14.68M600.43 1694.42h44.03M673.81 1694.42h14.68M761.87 1694.42h14.68M805.9 1694.42h14.68M732.52 1729.64h14.68M556.4 1800.07h29.35M644.46 1800.07h29.35M688.49 1800.07h14.68M1158.12 1800.07h14.68M1202.15 1800.07h29.35M1407.61 1800.07h14.68M1510.34 1800.07h14.68"/><path stroke="#b08aba" stroke-width="17.91" d="M160.15 144.92h14.68M204.18 303.39h14.68M248.21 303.39h14.68M262.88 497.08h14.68M262.88 567.51h14.68M262.88 585.12h14.68M248.21 637.94h14.68M262.88 655.55h14.68M380.29 690.77h14.68M189.5 1359.87h14.68M1055.39 1500.74h14.68M1084.74 1641.6h14.68M1143.44 1641.6h29.35M1216.82 1641.6h14.68M1099.42 1659.21h14.68M1378.26 1659.21h14.68M1378.26 1712.03h14.68M497.7 1729.64h14.68M1510.34 1764.86h14.68"/><path stroke="#9876b0" stroke-width="17.91" d="M189.5 144.92h14.68M292.24 180.14h14.68M277.56 197.74h14.68M174.83 215.35h14.68M277.56 215.35h14.68M380.29 250.57h14.68M204.18 321h14.68M365.62 356.22h14.68M350.94 373.82h14.68M350.94 444.26h29.35M189.5 497.08h14.68M204.18 602.73h14.68M365.62 602.73h14.68M292.24 620.34h14.68M277.56 708.38h14.68M160.15 743.59h14.68M248.21 778.81h14.68M380.29 1359.87h14.68M174.83 1412.7h14.68M497.7 1500.74h14.68M1422.29 1500.74h14.68M1128.77 1518.34h14.68M1260.85 1518.34h14.68M1334.23 1518.34h14.68M1260.85 1535.95h14.68M1319.56 1535.95h14.68M1114.09 1606.38h14.68M1480.99 1606.38h14.68M1040.71 1623.99h14.68M1451.64 1623.99h29.35M982.01 1659.21h14.68M1128.77 1712.03h14.68M1363.58 1712.03h14.68M1216.82 1729.64h14.68M1510.34 1729.64h14.68M453.67 1747.25h14.68M1451.64 1747.25h14.68M1011.36 1764.86h14.68"/><path stroke="#bc94c2" stroke-width="17.91" d="M248.21 144.92h14.68M365.62 690.77h14.68M262.88 743.59h14.68M1055.39 1518.34h14.68M1011.36 1641.6h14.68M1510.34 1659.21h14.68"/><path stroke="#886aa8" stroke-width="17.91" d="M321.59 144.92h14.68M160.15 162.53h14.68M321.59 162.53h14.68M350.94 285.78h14.68M233.53 303.39h14.68M292.24 321h14.68M350.94 338.61h14.68M204.18 391.43h14.68M160.15 444.26h14.68M321.59 497.08h14.68M321.59 514.69h14.68M233.53 620.34h14.68M277.56 637.94h14.68M306.91 637.94h14.68M204.18 673.16h14.68M262.88 673.16h14.68M365.62 673.16h14.68M233.53 725.98h14.68M306.91 725.98h14.68M321.59 778.81h14.68M160.15 1095.75h14.68M160.15 1113.36h14.68M365.62 1307.05h14.68M189.5 1342.26h14.68M321.59 1359.87h14.68M145.48 1377.48h14.68M248.21 1465.52h14.68M541.73 1518.34h14.68M1070.06 1518.34h14.68M1348.91 1535.95h14.68M1392.94 1535.95h14.68M497.7 1571.17h14.68M982.01 1571.17h14.68M1202.15 1571.17h29.35M1495.67 1571.17h29.35M1026.04 1588.78h14.68M1099.42 1588.78h14.68M1363.58 1606.38h14.68M1099.42 1623.99h14.68M1070.06 1641.6h14.68M409.64 1659.21h14.68M1026.04 1676.82h14.68M1114.09 1676.82h14.68M1378.26 1676.82h14.68M1070.06 1712.03h14.68M1304.88 1712.03h14.68M512.38 1729.64h14.68M703.16 1764.86h29.35M1260.85 1764.86h14.68M1495.67 1764.86h14.68M483.02 1782.46h14.68"/><path stroke="#a380b5" stroke-width="17.91" d="M365.62 144.92h14.68M204.18 180.14h14.68M365.62 232.96h14.68M248.21 250.57h14.68M262.88 268.18h14.68M248.21 356.22h14.68M160.15 514.69h14.68M204.18 514.69h14.68M189.5 532.3h14.68M262.88 532.3h14.68M292.24 725.98h14.68M277.56 743.59h14.68M321.59 743.59h14.68M145.48 1359.87h14.68M145.48 1412.7h14.68M248.21 1412.7h14.68M1436.96 1518.34h14.68M1510.34 1518.34h14.68M1011.36 1571.17h14.68M1026.04 1606.38h14.68M1011.36 1623.99h14.68M1187.47 1641.6h14.68M1407.61 1641.6h14.68M453.67 1659.21h14.68M1334.23 1659.21h14.68M1422.29 1659.21h14.68M1202.15 1712.03h14.68M1480.99 1712.03h14.68M1187.47 1729.64h14.68M1202.15 1764.86h14.68M453.67 1782.46h14.68M497.7 1782.46h14.68"/><path stroke="#a682b6" stroke-width="17.91" d="M380.29 144.92h14.68M350.94 162.53h29.35M380.29 197.74h14.68M365.62 215.35h29.35M248.21 232.96h14.68M204.18 373.82h14.68M160.15 497.08h14.68M174.83 602.73h14.68M262.88 620.34h14.68M174.83 637.94h29.35M262.88 637.94h14.68M292.24 655.55h14.68M145.48 1095.75h14.68M365.62 1359.87h14.68M160.15 1447.91h14.68M1451.64 1500.74h29.35M1510.34 1500.74h14.68M497.7 1518.34h14.68M1451.64 1518.34h14.68M1495.67 1518.34h14.68M1495.67 1535.95h14.68M1084.74 1606.38h14.68M1099.42 1641.6h29.35M1436.96 1659.21h14.68M1319.56 1712.03h14.68M1099.42 1729.64h14.68M1099.42 1747.25h14.68M1128.77 1747.25h14.68M424.32 1764.86h14.68M1216.82 1764.86h14.68M717.84 1782.46h14.68"/><path stroke="#ff745f" stroke-width="17.91" d="M394.97 144.92h14.68M717.84 162.53h14.68M717.84 215.35h14.68M717.84 391.43h14.68M394.97 567.51h14.68M409.64 620.34h14.68M717.84 778.81h14.68M717.84 814.02h14.68M497.7 1095.75h14.68M952.66 1095.75h14.68M982.01 1095.75h14.68M1304.88 1095.75h14.68M1451.64 1095.75h14.68M1495.67 1095.75h14.68M717.84 1359.87h14.68M1114.09 1465.52h14.68M1158.12 1483.13h14.68M1510.34 1483.13h14.68M130.8 1782.46h14.68M145.48 1800.07h14.68"/><path stroke="#ff8874" stroke-width="17.91" d="M409.64 144.92h14.68M1510.34 1465.52h14.68"/><path stroke="#ff5642" stroke-width="17.91" d="M439 144.92h14.68M805.9 144.92h14.68M893.95 144.92h14.68M952.66 144.92h14.68M996.68 144.92h14.68M1348.91 144.92h14.68M453.67 162.53h14.68M776.54 162.53h14.68M688.49 197.74h14.68M791.22 197.74h29.35M835.25 197.74h14.68M453.67 215.35h14.68M791.22 215.35h14.68M820.57 215.35h29.35M879.28 215.35h14.68M527.05 232.96h14.68M688.49 303.39h14.68M497.7 321h14.68M1510.34 338.61h14.68M453.67 373.82h14.68M497.7 373.82h14.68M776.54 373.82h14.68M497.7 391.43h14.68M512.38 409.04h14.68M908.63 461.86h14.68M761.87 479.47h14.68M923.3 479.47h14.68M982.01 479.47h14.68M982.01 532.3h29.35M908.63 549.9h14.68M776.54 567.51h14.68M849.92 585.12h14.68M923.3 585.12h14.68M747.19 602.73h14.68M776.54 602.73h14.68M761.87 620.34h14.68M439 637.94h14.68M820.57 637.94h14.68M879.28 637.94h14.68M747.19 655.55h14.68M585.76 690.77h14.68M747.19 690.77h14.68M805.9 690.77h14.68M864.6 690.77h14.68M893.95 690.77h14.68M439 708.38h14.68M527.05 708.38h14.68M688.49 708.38h14.68M761.87 708.38h14.68M791.22 708.38h14.68M820.57 708.38h29.35M879.28 708.38h14.68M600.43 725.98h44.03M864.6 725.98h14.68M761.87 743.59h14.68M864.6 743.59h14.68M1187.47 761.2h14.68M1510.34 761.2h14.68M571.08 778.81h14.68M835.25 778.81h14.68M923.3 778.81h14.68M1187.47 778.81h14.68M1231.5 778.81h14.68M497.7 814.02h14.68M1510.34 814.02h14.68M982.01 849.24h14.68M1143.44 849.24h14.68M1231.5 849.24h14.68M541.73 866.85h14.68M1172.8 866.85h14.68M1246.18 866.85h14.68M1055.39 884.46h14.68M1510.34 884.46h14.68M497.7 902.06h14.68M1040.71 902.06h14.68M1099.42 902.06h14.68M1451.64 902.06h14.68M424.32 919.67h14.68M1011.36 919.67h29.35M1055.39 919.67h14.68M409.64 937.28h14.68M1143.44 937.28h14.68M409.64 954.89h29.35M982.01 954.89h14.68M1040.71 954.89h14.68M1451.64 954.89h29.35M497.7 972.5h14.68M1040.71 972.5h14.68M1099.42 972.5h14.68M1451.64 972.5h14.68M1055.39 990.1h14.68M1466.32 990.1h14.68M1510.34 990.1h14.68M1040.71 1007.71h14.68M1451.64 1007.71h29.35M1128.77 1025.32h14.68M1158.12 1025.32h14.68M1319.56 1025.32h14.68M1495.67 1025.32h14.68M1011.36 1042.93h14.68M1040.71 1042.93h14.68M1114.09 1042.93h14.68M1231.5 1042.93h14.68M1055.39 1060.54h14.68M1084.74 1060.54h14.68M1128.77 1060.54h14.68M615.11 1095.75h29.35M409.64 1130.97h14.68M1040.71 1130.97h14.68M1378.26 1130.97h14.68M1466.32 1130.97h14.68M394.97 1201.4h29.35M717.84 1201.4h14.68M1026.04 1201.4h14.68M394.97 1219.01h29.35M717.84 1219.01h14.68M1026.04 1219.01h14.68M409.64 1236.62h14.68M1026.04 1236.62h14.68M1055.39 1254.22h14.68M982.01 1271.83h14.68M908.63 1307.05h14.68M409.64 1324.66h14.68M1040.71 1324.66h14.68M1436.96 1324.66h14.68M1290.2 1342.26h14.68M820.57 1359.87h14.68M879.28 1359.87h14.68M952.66 1359.87h14.68M1304.88 1359.87h29.35M1363.58 1359.87h14.68M409.64 1395.09h14.68M1319.56 1412.7h14.68M1451.64 1412.7h14.68M1495.67 1412.7h14.68M1040.71 1430.3h14.68M1099.42 1430.3h14.68M1510.34 1430.3h14.68M835.25 1447.91h14.68M864.6 1447.91h14.68M468.35 1465.52h14.68M527.05 1465.52h14.68M600.43 1465.52h44.03M688.49 1465.52h14.68M835.25 1465.52h29.35M615.11 1483.13h29.35M262.88 1518.34h14.68M189.5 1535.95h14.68M262.88 1535.95h14.68M130.8 1553.56h14.68M350.94 1641.6h29.35M160.15 1712.03h14.68M350.94 1729.64h14.68M204.18 1764.86h14.68M336.26 1800.07h14.68"/><path stroke="#ff705b" stroke-width="17.91" d="M732.52 144.92h14.68M732.52 250.57h14.68M732.52 268.18h14.68M394.97 285.78h14.68M717.84 356.22h29.35M732.52 391.43h14.68M717.84 532.3h14.68M409.64 602.73h14.68M394.97 620.34h14.68M732.52 725.98h14.68M908.63 743.59h14.68M732.52 814.02h14.68M1011.36 866.85h14.68M497.7 1060.54h14.68M468.35 1078.14h14.68M541.73 1078.14h14.68M952.66 1078.14h14.68M1026.04 1078.14h14.68M1304.88 1078.14h14.68M1334.23 1078.14h14.68M1407.61 1078.14h29.35M1510.34 1078.14h14.68M1187.47 1095.75h14.68M1334.23 1095.75h14.68M732.52 1307.05h14.68M747.19 1359.87h14.68M732.52 1395.09h14.68M1128.77 1465.52h14.68M1114.09 1483.13h14.68M1392.94 1483.13h14.68"/><path stroke="#534d9d" stroke-width="17.91" d="M130.8 162.53h14.68M130.8 180.14h14.68M130.8 197.74h14.68M130.8 303.39h14.68M130.8 373.82h14.68M145.48 409.04h14.68M218.86 426.65h14.68M130.8 602.73h14.68M130.8 796.42h14.68M336.26 796.42h14.68M145.48 814.02h14.68M130.8 831.63h14.68M321.59 849.24h14.68M380.29 849.24h14.68M336.26 866.85h14.68M130.8 902.06h14.68M321.59 937.28h14.68M130.8 954.89h14.68M380.29 954.89h14.68M130.8 972.5h14.68M130.8 990.1h14.68M233.53 990.1h14.68M277.56 990.1h14.68M380.29 1007.71h14.68M189.5 1025.32h14.68M321.59 1042.93h14.68M218.86 1060.54h14.68M262.88 1078.14h14.68M306.91 1130.97h14.68M336.26 1148.58h14.68M306.91 1166.18h14.68M336.26 1166.18h14.68M306.91 1183.79h14.68M336.26 1183.79h14.68M130.8 1254.22h14.68M306.91 1271.83h14.68M218.86 1342.26h14.68M277.56 1342.26h14.68M306.91 1483.13h14.68M791.22 1500.74h14.68M835.25 1500.74h14.68M923.3 1500.74h14.68M644.46 1553.56h44.03M908.63 1553.56h14.68M967.33 1553.56h14.68M761.87 1571.17h14.68M849.92 1571.17h14.68M923.3 1571.17h14.68M394.97 1588.78h14.68M571.08 1588.78h14.68M644.46 1588.78h29.35M688.49 1588.78h14.68M512.38 1623.99h14.68M805.9 1623.99h14.68M732.52 1641.6h14.68M805.9 1676.82h14.68M512.38 1694.42h14.68M747.19 1694.42h14.68M1275.53 1694.42h14.68M776.54 1729.64h14.68M952.66 1782.46h14.68M1290.2 1782.46h14.68M585.76 1800.07h14.68M805.9 1800.07h44.03M879.28 1800.07h14.68M937.98 1800.07h14.68M967.33 1800.07h14.68M1128.77 1800.07h14.68M1319.56 1800.07h14.68M1378.26 1800.07h14.68M1466.32 1800.07h44.03"/><path stroke="#785c9e" stroke-width="17.91" d="M145.48 162.53h14.68M306.91 250.57h14.68M145.48 285.78h29.35M306.91 356.22h14.68M233.53 373.82h14.68M292.24 426.65h14.68M145.48 444.26h14.68M233.53 444.26h14.68M306.91 461.86h14.68M306.91 514.69h14.68M336.26 532.3h14.68M233.53 549.9h14.68M145.48 567.51h14.68M306.91 567.51h14.68M218.86 708.38h14.68M145.48 743.59h14.68M189.5 761.2h14.68M233.53 778.81h14.68M204.18 831.63h14.68M248.21 1095.75h14.68M189.5 1130.97h14.68M262.88 1166.18h14.68M262.88 1183.79h14.68M189.5 1271.83h14.68M145.48 1289.44h14.68M204.18 1289.44h14.68M233.53 1307.05h14.68M321.59 1307.05h14.68M350.94 1324.66h14.68M350.94 1342.26h14.68M233.53 1395.09h14.68M233.53 1430.3h14.68M218.86 1447.91h14.68M512.38 1535.95h29.35M1187.47 1553.56h14.68M541.73 1571.17h14.68M1158.12 1588.78h14.68M1202.15 1588.78h14.68M1246.18 1588.78h14.68M1334.23 1588.78h14.68M1422.29 1588.78h14.68M1275.53 1606.38h14.68M644.46 1641.6h29.35M717.84 1659.21h14.68M439 1676.82h14.68M468.35 1676.82h14.68M541.73 1676.82h14.68M982.01 1676.82h14.68M1172.8 1676.82h14.68M1260.85 1676.82h14.68M1319.56 1676.82h14.68M424.32 1694.42h14.68M1040.71 1694.42h14.68M556.4 1712.03h14.68M937.98 1712.03h14.68M571.08 1729.64h14.68M688.49 1729.64h14.68M996.68 1729.64h14.68M1392.94 1764.86h14.68M556.4 1782.46h14.68M1011.36 1782.46h14.68M1158.12 1782.46h14.68M1260.85 1782.46h14.68M1392.94 1782.46h14.68M1495.67 1782.46h14.68"/><path stroke="#8e70ac" stroke-width="17.91" d="M189.5 162.53h14.68M160.15 180.14h14.68M336.26 180.14h14.68M189.5 268.18h14.68M350.94 268.18h14.68M350.94 321h29.35M189.5 356.22h14.68M174.83 373.82h29.35M248.21 426.65h14.68M292.24 444.26h14.68M292.24 461.86h14.68M380.29 461.86h14.68M321.59 479.47h14.68M145.48 514.69h14.68M145.48 532.3h14.68M292.24 532.3h14.68M189.5 549.9h14.68M365.62 549.9h14.68M292.24 567.51h14.68M365.62 567.51h14.68M233.53 585.12h14.68M292.24 602.73h14.68M350.94 602.73h14.68M380.29 602.73h14.68M306.91 708.38h14.68M321.59 725.98h14.68M277.56 761.2h14.68M262.88 1113.36h14.68M174.83 1324.66h29.35M365.62 1447.91h14.68M1128.77 1500.74h14.68M1246.18 1500.74h14.68M424.32 1518.34h14.68M1158.12 1518.34h29.35M1363.58 1518.34h14.68M1128.77 1535.95h14.68M1363.58 1535.95h14.68M1407.61 1535.95h14.68M1480.99 1553.56h14.68M1026.04 1571.17h14.68M1231.5 1571.17h14.68M1040.71 1588.78h14.68M1128.77 1606.38h14.68M1158.12 1606.38h14.68M1187.47 1606.38h14.68M1246.18 1606.38h29.35M996.68 1623.99h14.68M703.16 1641.6h14.68M1275.53 1659.21h14.68M1143.44 1676.82h14.68M527.05 1729.64h14.68M1172.8 1729.64h14.68M1319.56 1729.64h29.35M1407.61 1729.64h14.68M1495.67 1729.64h14.68M527.05 1747.25h14.68M1319.56 1747.25h14.68M1480.99 1764.86h14.68M1187.47 1782.46h29.35"/><path stroke="#a884b7" stroke-width="17.91" d="M204.18 162.53h14.68M350.94 180.14h14.68M350.94 215.35h14.68M160.15 479.47h14.68M189.5 479.47h29.35M204.18 497.08h14.68M174.83 514.69h14.68M204.18 567.51h14.68M292.24 585.12h14.68M189.5 620.34h14.68M292.24 637.94h14.68M174.83 690.77h29.35M262.88 690.77h14.68M174.83 708.38h29.35M204.18 778.81h14.68M365.62 778.81h14.68M160.15 1359.87h14.68M982.01 1518.34h14.68M1451.64 1535.95h14.68M1480.99 1535.95h14.68M1099.42 1606.38h14.68M1143.44 1606.38h14.68M1055.39 1641.6h14.68M982.01 1712.03h14.68M1158.12 1712.03h14.68M1216.82 1712.03h29.35M1495.67 1712.03h14.68M1040.71 1729.64h29.35M1114.09 1729.64h14.68M1231.5 1729.64h14.68M1040.71 1747.25h29.35M1202.15 1747.25h14.68M497.7 1764.86h14.68M1231.5 1764.86h14.68"/><path stroke="#ff826e" stroke-width="17.91" d="M394.97 162.53h14.68M409.64 373.82h14.68M394.97 409.04h14.68M1319.56 1465.52h14.68M1290.2 1483.13h14.68M1495.67 1483.13h14.68"/><path stroke="#ff8c78" stroke-width="17.91" d="M409.64 162.53h14.68M409.64 690.77h14.68M409.64 708.38h14.68M394.97 743.59h14.68M1040.71 1465.52h29.35M1495.67 1465.52h14.68M1011.36 1483.13h14.68"/><path stroke="#ff6e5a" stroke-width="17.91" d="M424.32 162.53h14.68M732.52 162.53h14.68M424.32 215.35h14.68M717.84 444.26h14.68M732.52 461.86h14.68M409.64 549.9h14.68M717.84 567.51h14.68M424.32 831.63h14.68M409.64 1042.93h14.68M1246.18 1078.14h14.68M1495.67 1078.14h14.68M1158.12 1095.75h14.68M1260.85 1095.75h14.68M937.98 1447.91h14.68M1451.64 1447.91h14.68M1495.67 1447.91h14.68M761.87 1465.52h14.68M1172.8 1465.52h14.68M130.8 1500.74h14.68M174.83 1623.99h14.68M277.56 1747.25h14.68M380.29 1800.07h14.68"/><path stroke="#ff3c2b" stroke-width="17.91" d="M982.01 162.53h14.68M1026.04 162.53h14.68M1246.18 162.53h29.35M1319.56 162.53h29.35M1363.58 162.53h29.35M1422.29 162.53h14.68M1451.64 162.53h14.68M1480.99 162.53h14.68M1026.04 180.14h14.68M1099.42 180.14h14.68M1260.85 180.14h14.68M1334.23 180.14h14.68M1378.26 180.14h14.68M1422.29 180.14h29.35M1466.32 180.14h14.68M1495.67 180.14h14.68M982.01 197.74h14.68M1011.36 197.74h14.68M1246.18 197.74h29.35M1319.56 197.74h29.35M1363.58 197.74h29.35M1422.29 197.74h14.68M1451.64 197.74h14.68M1480.99 197.74h14.68M1026.04 215.35h14.68M1260.85 215.35h14.68M1334.23 215.35h14.68M1466.32 215.35h14.68M1495.67 215.35h14.68M1260.85 232.96h14.68M1334.23 232.96h14.68M1378.26 232.96h14.68M1422.29 232.96h14.68M1480.99 232.96h14.68M1040.71 250.57h14.68M1070.06 250.57h14.68M1246.18 250.57h14.68M1319.56 250.57h14.68M1363.58 250.57h14.68M1407.61 250.57h14.68M1436.96 250.57h14.68M1466.32 250.57h44.03M1158.12 268.18h14.68M1202.15 268.18h29.35M1260.85 268.18h14.68M1334.23 268.18h14.68M1422.29 268.18h14.68M937.98 285.78h14.68M1436.96 303.39h14.68M1466.32 303.39h44.03M1334.23 321h14.68M1422.29 321h14.68M1466.32 321h14.68M1495.67 321h14.68M1040.71 356.22h14.68M1070.06 356.22h14.68M1319.56 356.22h14.68M1363.58 356.22h14.68M1407.61 356.22h14.68M1436.96 356.22h73.38M1011.36 373.82h14.68M1040.71 373.82h14.68M1260.85 373.82h14.68M1334.23 373.82h14.68M1422.29 373.82h14.68M1466.32 373.82h14.68M1495.67 373.82h14.68M541.73 426.65h29.35M644.46 426.65h29.35M703.16 426.65h14.68M1070.06 426.65h14.68M1172.8 426.65h14.68M1070.06 444.26h14.68M1319.56 444.26h14.68M1407.61 444.26h14.68M1436.96 444.26h73.38M1422.29 461.86h14.68M1466.32 461.86h14.68M1495.67 461.86h14.68M1187.47 479.47h14.68M1202.15 497.08h14.68M1407.61 497.08h14.68M1187.47 514.69h14.68M1216.82 514.69h14.68M1407.61 514.69h14.68M483.02 532.3h14.68M541.73 532.3h14.68M703.16 532.3h14.68M1114.09 532.3h14.68M1172.8 532.3h14.68M1202.15 532.3h14.68M1231.5 532.3h14.68M1070.06 549.9h14.68M1114.09 549.9h29.35M1187.47 549.9h14.68M1275.53 549.9h14.68M1407.61 567.51h14.68M1114.09 585.12h14.68M483.02 602.73h14.68M541.73 602.73h14.68M703.16 602.73h14.68M1172.8 602.73h14.68M541.73 620.34h14.68M1084.74 620.34h14.68M1143.44 620.34h14.68M1172.8 620.34h29.35M1480.99 637.94h14.68M1114.09 655.55h14.68M483.02 673.16h14.68M1172.8 673.16h14.68M1260.85 673.16h29.35M1334.23 673.16h14.68M1422.29 673.16h14.68M1319.56 708.38h29.35M1422.29 708.38h14.68M982.01 725.98h14.68M1451.64 725.98h14.68M1480.99 725.98h29.35M1319.56 743.59h14.68M1466.32 743.59h14.68M1026.04 778.81h14.68M1466.32 778.81h14.68M1495.67 778.81h14.68M585.76 796.42h29.35M644.46 796.42h44.03M791.22 796.42h117.41M923.3 796.42h14.68M1392.94 831.63h14.68M615.11 849.24h29.35M673.81 849.24h14.68M805.9 849.24h14.68M967.33 849.24h14.68M600.43 884.46h14.68M644.46 884.46h44.03M967.33 884.46h14.68M600.43 902.06h88.06M805.9 902.06h14.68M967.33 902.06h14.68M600.43 919.67h14.68M644.46 919.67h29.35M967.33 919.67h14.68M615.11 937.28h29.35M805.9 937.28h14.68M967.33 937.28h14.68M600.43 954.89h14.68M644.46 954.89h44.03M967.33 954.89h14.68M600.43 972.5h88.06M805.9 972.5h14.68M967.33 972.5h14.68M585.76 990.1h29.35M673.81 990.1h14.68M791.22 990.1h14.68M820.57 990.1h14.68M849.92 990.1h14.68M879.28 990.1h14.68M923.3 990.1h14.68M967.33 990.1h14.68M600.43 1007.71h44.03M673.81 1007.71h14.68M805.9 1007.71h14.68M967.33 1007.71h14.68M468.35 1113.36h14.68M556.4 1113.36h29.35M1128.77 1113.36h14.68M1187.47 1113.36h14.68M1275.53 1113.36h14.68M556.4 1130.97h29.35M556.4 1148.58h14.68M791.22 1148.58h58.7M879.28 1148.58h29.35M923.3 1148.58h14.68M967.33 1148.58h14.68M556.4 1166.18h29.35M615.11 1166.18h29.35M820.57 1166.18h29.35M864.6 1166.18h44.03M967.33 1166.18h14.68M1275.53 1166.18h14.68M556.4 1183.79h29.35M615.11 1183.79h29.35M820.57 1183.79h29.35M864.6 1183.79h44.03M967.33 1183.79h14.68M1275.53 1183.79h14.68M556.4 1201.4h14.68M585.76 1201.4h14.68M644.46 1201.4h29.35M791.22 1201.4h14.68M820.57 1201.4h14.68M849.92 1201.4h14.68M879.28 1201.4h14.68M923.3 1201.4h14.68M556.4 1219.01h14.68M585.76 1219.01h14.68M644.46 1219.01h29.35M791.22 1219.01h14.68M820.57 1219.01h14.68M849.92 1219.01h14.68M879.28 1219.01h14.68M923.3 1219.01h14.68M556.4 1236.62h44.03M791.22 1236.62h58.7M864.6 1236.62h44.03M967.33 1236.62h14.68M600.43 1254.22h44.03M805.9 1254.22h14.68M967.33 1254.22h14.68M468.35 1271.83h14.68M541.73 1271.83h14.68M600.43 1271.83h14.68M644.46 1271.83h29.35M688.49 1271.83h29.35M468.35 1289.44h29.35M541.73 1289.44h14.68M600.43 1289.44h117.41M1275.53 1289.44h14.68M468.35 1307.05h14.68M556.4 1307.05h29.35M1114.09 1307.05h29.35M1187.47 1307.05h14.68M1275.53 1307.05h14.68M556.4 1377.48h14.68M1070.06 1377.48h14.68M1128.77 1377.48h14.68M1187.47 1377.48h14.68M439 1395.09h14.68M541.73 1395.09h44.03M703.16 1395.09h14.68M468.35 1430.3h14.68M350.94 1518.34h14.68M365.62 1535.95h14.68M306.91 1571.17h14.68M218.86 1588.78h14.68M321.59 1588.78h14.68M306.91 1694.42h14.68M174.83 1729.64h14.68M189.5 1747.25h14.68"/><path stroke="#9e7cb3" stroke-width="17.91" d="M380.29 180.14h14.68M292.24 215.35h14.68M262.88 250.57h14.68M365.62 250.57h14.68M204.18 268.18h14.68M160.15 303.39h14.68M292.24 303.39h14.68M262.88 356.22h14.68M248.21 373.82h14.68M248.21 444.26h14.68M204.18 461.86h14.68M174.83 497.08h14.68M365.62 497.08h29.35M189.5 514.69h14.68M160.15 532.3h14.68M248.21 549.9h14.68M380.29 585.12h14.68M262.88 602.73h14.68M204.18 620.34h14.68M350.94 655.55h14.68M380.29 655.55h14.68M336.26 690.77h14.68M321.59 708.38h14.68M380.29 778.81h14.68M262.88 1359.87h14.68M248.21 1395.09h14.68M160.15 1412.7h14.68M160.15 1483.13h14.68M982.01 1500.74h14.68M1084.74 1500.74h14.68M1143.44 1500.74h14.68M1216.82 1500.74h14.68M1480.99 1500.74h14.68M1216.82 1518.34h14.68M1422.29 1518.34h14.68M1084.74 1535.95h14.68M1055.39 1553.56h14.68M1040.71 1571.17h14.68M1378.26 1606.38h14.68M1451.64 1606.38h14.68M497.7 1641.6h14.68M1128.77 1641.6h14.68M1334.23 1641.6h14.68M1422.29 1641.6h14.68M468.35 1659.21h14.68M1172.8 1659.21h14.68M1260.85 1659.21h14.68M1319.56 1659.21h14.68M1114.09 1712.03h14.68M1246.18 1712.03h14.68M1407.61 1712.03h14.68M1202.15 1729.64h14.68M1216.82 1747.25h14.68M394.97 1764.86h14.68M453.67 1764.86h14.68M1187.47 1764.86h14.68M1378.26 1764.86h14.68"/><path stroke="#ff7c68" stroke-width="17.91" d="M394.97 180.14h14.68M409.64 268.18h14.68M409.64 285.78h14.68M717.84 690.77h14.68M732.52 708.38h14.68M1040.71 1078.14h14.68M1055.39 1095.75h14.68M1392.94 1465.52h29.35M1480.99 1483.13h14.68"/><path stroke="#ff8975" stroke-width="17.91" d="M409.64 180.14h14.68M409.64 637.94h14.68M394.97 778.81h14.68M424.32 1078.14h14.68M732.52 1447.91h14.68M1099.42 1465.52h14.68M1480.99 1465.52h14.68M982.01 1483.13h14.68"/><path stroke="#ff6c56" stroke-width="17.91" d="M424.32 180.14h14.68M717.84 232.96h14.68M394.97 479.47h14.68M394.97 514.69h14.68M908.63 637.94h14.68M908.63 655.55h14.68M394.97 673.16h14.68M908.63 725.98h14.68M424.32 743.59h14.68M776.54 743.59h14.68M1026.04 866.85h14.68M1084.74 866.85h29.35M1011.36 1025.32h14.68M585.76 1078.14h14.68M1436.96 1095.75h14.68M732.52 1254.22h14.68M1011.36 1447.91h14.68M1480.99 1447.91h14.68M1070.06 1483.13h14.68M1202.15 1483.13h14.68M1231.5 1483.13h14.68M130.8 1535.95h14.68M145.48 1659.21h14.68M130.8 1729.64h14.68M145.48 1747.25h14.68M174.83 1782.46h14.68M248.21 1782.46h14.68M189.5 1800.07h14.68M350.94 1800.07h14.68"/><path stroke="#b28bbb" stroke-width="17.91" d="M204.18 197.74h14.68M174.83 479.47h14.68M248.21 620.34h14.68M174.83 655.55h29.35M248.21 690.77h14.68M350.94 708.38h14.68M380.29 743.59h14.68M1011.36 1500.74h14.68M1040.71 1535.95h14.68M1055.39 1659.21h14.68M1114.09 1659.21h14.68M1466.32 1712.03h14.68M1084.74 1729.64h14.68M1084.74 1747.25h14.68M1231.5 1747.25h14.68"/><path stroke="#ff8571" stroke-width="17.91" d="M394.97 197.74h14.68M394.97 761.2h29.35M996.68 1465.52h14.68M996.68 1483.13h14.68M1466.32 1483.13h14.68"/><path stroke="#ff9784" stroke-width="17.91" d="M409.64 197.74h14.68M409.64 743.59h14.68M1011.36 1465.52h14.68M1466.32 1465.52h14.68"/><path stroke="#ff7662" stroke-width="17.91" d="M717.84 197.74h14.68M409.64 479.47h14.68M732.52 532.3h14.68M732.52 637.94h14.68M424.32 725.98h14.68M424.32 761.2h14.68M424.32 1060.54h14.68M1099.42 1078.14h14.68M1187.47 1078.14h14.68M1466.32 1095.75h14.68M747.19 1447.91h14.68M996.68 1447.91h14.68M1026.04 1447.91h14.68M1231.5 1465.52h14.68M145.48 1641.6h14.68M262.88 1782.46h14.68"/><path stroke="#4a4f9e" stroke-width="17.91" d="M130.8 215.35h14.68M130.8 250.57h14.68M130.8 461.86h14.68M130.8 532.3h14.68M160.15 866.85h29.35M262.88 866.85h14.68M233.53 884.46h14.68M233.53 919.67h14.68M233.53 954.89h14.68M336.26 954.89h14.68M306.91 990.1h14.68M336.26 1007.71h14.68M130.8 1025.32h14.68M233.53 1025.32h14.68M233.53 1042.93h14.68M292.24 1078.14h14.68M218.86 1095.75h14.68M218.86 1130.97h14.68M130.8 1201.4h14.68M130.8 1219.01h14.68M306.91 1236.62h14.68M336.26 1236.62h14.68M218.86 1254.22h14.68M600.43 1553.56h14.68M791.22 1553.56h14.68M835.25 1553.56h14.68M600.43 1588.78h14.68M805.9 1588.78h14.68M732.52 1606.38h14.68M908.63 1641.6h14.68M761.87 1676.82h29.35M835.25 1676.82h14.68M864.6 1676.82h14.68M893.95 1676.82h14.68M585.76 1694.42h14.68M688.49 1694.42h14.68M717.84 1694.42h14.68M908.63 1747.25h14.68M908.63 1764.86h14.68M615.11 1800.07h29.35M776.54 1800.07h14.68M1187.47 1800.07h14.68M1246.18 1800.07h14.68M1422.29 1800.07h14.68M1451.64 1800.07h14.68"/><path stroke="#b58ebd" stroke-width="17.91" d="M204.18 215.35h14.68M174.83 585.12h29.35M350.94 637.94h14.68M248.21 708.38h29.35M350.94 725.98h14.68M365.62 743.59h14.68M248.21 1359.87h14.68M145.48 1483.13h14.68M1011.36 1518.34h14.68M1026.04 1535.95h14.68M1099.42 1535.95h14.68M1040.71 1641.6h14.68M497.7 1659.21h14.68M1040.71 1659.21h14.68M1451.64 1712.03h14.68M1143.44 1729.64h14.68M1143.44 1747.25h14.68M394.97 1782.46h14.68"/><path stroke="#73599d" stroke-width="17.91" d="M218.86 215.35h14.68M306.91 268.18h14.68M174.83 285.78h14.68M277.56 285.78h14.68M336.26 285.78h14.68M336.26 338.61h14.68M336.26 409.04h14.68M277.56 620.34h14.68M218.86 637.94h14.68M145.48 673.16h14.68M321.59 673.16h14.68M218.86 725.98h14.68M174.83 761.2h14.68M248.21 831.63h14.68M336.26 831.63h14.68M292.24 1060.54h14.68M380.29 1060.54h14.68M321.59 1113.36h14.68M204.18 1130.97h14.68M204.18 1166.18h14.68M204.18 1183.79h14.68M262.88 1236.62h14.68M204.18 1254.22h14.68M204.18 1271.83h14.68M365.62 1289.44h14.68M204.18 1324.66h14.68M321.59 1324.66h14.68M292.24 1395.09h14.68M747.19 1500.74h14.68M556.4 1518.34h14.68M937.98 1553.56h14.68M1290.2 1553.56h14.68M1348.91 1553.56h14.68M1392.94 1553.56h14.68M527.05 1571.17h14.68M703.16 1571.17h14.68M1070.06 1571.17h14.68M1407.61 1588.78h14.68M468.35 1606.38h14.68M747.19 1606.38h14.68M1114.09 1623.99h14.68M1392.94 1623.99h14.68M600.43 1641.6h14.68M937.98 1659.21h14.68M1026.04 1694.42h14.68M1099.42 1694.42h14.68M1451.64 1694.42h14.68M527.05 1712.03h14.68M571.08 1712.03h29.35M644.46 1712.03h29.35M688.49 1712.03h14.68M996.68 1747.25h14.68M1392.94 1747.25h14.68M1070.06 1782.46h14.68"/><path stroke="#ff9481" stroke-width="17.91" d="M409.64 215.35h14.68M1451.64 1465.52h14.68"/><path stroke="#45509f" stroke-width="17.91" d="M130.8 232.96h14.68M130.8 321h14.68M130.8 356.22h14.68M130.8 444.26h14.68M218.86 831.63h14.68M189.5 866.85h14.68M292.24 866.85h14.68M306.91 884.46h14.68M233.53 902.06h14.68M306.91 902.06h14.68M306.91 919.67h14.68M306.91 954.89h14.68M233.53 972.5h14.68M306.91 972.5h14.68M233.53 1007.71h14.68M306.91 1007.71h14.68M292.24 1025.32h14.68M130.8 1042.93h14.68M306.91 1042.93h14.68M218.86 1078.14h14.68M218.86 1271.83h14.68M218.86 1289.44h14.68M130.8 1395.09h14.68M130.8 1412.7h14.68M350.94 1465.52h14.68M409.64 1535.95h14.68M761.87 1588.78h14.68M791.22 1588.78h14.68M820.57 1588.78h29.35M864.6 1588.78h44.03M776.54 1606.38h14.68M908.63 1606.38h14.68M791.22 1676.82h14.68M820.57 1676.82h14.68M879.28 1676.82h14.68M556.4 1694.42h29.35M732.52 1694.42h14.68M937.98 1694.42h14.68M908.63 1729.64h14.68M453.67 1800.07h29.35M761.87 1800.07h14.68M1260.85 1800.07h14.68M1334.23 1800.07h14.68M1363.58 1800.07h14.68M1436.96 1800.07h14.68"/><path stroke="#644f9a" stroke-width="17.91" d="M218.86 232.96h14.68M218.86 250.57h14.68M218.86 268.18h14.68M218.86 356.22h14.68M218.86 602.73h14.68M306.91 673.16h14.68M130.8 761.2h14.68M160.15 761.2h14.68M321.59 796.42h14.68M350.94 796.42h14.68M145.48 866.85h14.68M189.5 884.46h14.68M262.88 884.46h14.68M174.83 919.67h14.68M204.18 919.67h14.68M174.83 954.89h14.68M262.88 954.89h14.68M350.94 1042.93h14.68M380.29 1078.14h14.68M262.88 1095.75h14.68M306.91 1113.36h14.68M336.26 1113.36h14.68M145.48 1148.58h29.35M365.62 1148.58h14.68M145.48 1166.18h14.68M292.24 1166.18h14.68M380.29 1166.18h14.68M145.48 1183.79h14.68M292.24 1183.79h14.68M380.29 1183.79h14.68M145.48 1201.4h29.35M365.62 1201.4h14.68M145.48 1219.01h29.35M365.62 1219.01h14.68M321.59 1289.44h14.68M233.53 1342.26h14.68M306.91 1377.48h14.68M277.56 1447.91h14.68M380.29 1483.13h14.68M394.97 1500.74h14.68M644.46 1500.74h29.35M732.52 1500.74h14.68M615.11 1518.34h29.35M673.81 1518.34h14.68M761.87 1535.95h14.68M967.33 1535.95h14.68M703.16 1553.56h14.68M556.4 1571.17h14.68M967.33 1571.17h14.68M483.02 1588.78h14.68M703.16 1588.78h14.68M1070.06 1588.78h14.68M644.46 1606.38h29.35M424.32 1623.99h14.68M717.84 1641.6h14.68M835.25 1641.6h14.68M893.95 1641.6h14.68M512.38 1676.82h14.68M1128.77 1694.42h14.68M1334.23 1694.42h14.68M1407.61 1694.42h44.03M864.6 1712.03h14.68M893.95 1729.64h14.68M835.25 1747.25h14.68M864.6 1747.25h14.68M615.11 1764.86h29.35M673.81 1764.86h14.68M996.68 1764.86h14.68M615.11 1782.46h73.38M908.63 1782.46h14.68M996.68 1800.07h14.68"/><path stroke="#ff7560" stroke-width="17.91" d="M394.97 232.96h14.68M409.64 338.61h14.68M732.52 338.61h14.68M717.84 373.82h14.68M732.52 409.04h14.68M732.52 514.69h14.68M732.52 567.51h14.68M717.84 725.98h14.68M717.84 761.2h14.68M439 1078.14h14.68M1158.12 1078.14h14.68M1202.15 1078.14h14.68M1290.2 1078.14h14.68M1348.91 1078.14h14.68M996.68 1095.75h14.68M1026.04 1095.75h14.68M1319.56 1095.75h14.68M732.52 1430.3h14.68M1348.91 1465.52h14.68M1436.96 1483.13h14.68M145.48 1606.38h14.68M130.8 1712.03h14.68M292.24 1782.46h14.68M204.18 1800.07h14.68"/><path stroke="#ff8672" stroke-width="17.91" d="M409.64 232.96h14.68M394.97 708.38h14.68M394.97 725.98h14.68M1436.96 1465.52h14.68M1026.04 1483.13h29.35"/><path stroke="#41519f" stroke-width="17.91" d="M130.8 285.78h14.68M130.8 426.65h14.68M130.8 479.47h14.68M130.8 549.9h14.68M130.8 673.16h14.68M218.86 796.42h14.68M233.53 849.24h14.68M306.91 849.24h14.68M321.59 866.85h14.68M380.29 866.85h14.68M233.53 937.28h14.68M306.91 937.28h14.68M174.83 1078.14h14.68M306.91 1078.14h14.68M292.24 1095.75h14.68M130.8 1113.36h14.68M130.8 1148.58h14.68M218.86 1166.18h14.68M218.86 1183.79h14.68M130.8 1236.62h14.68M130.8 1307.05h14.68M130.8 1377.48h14.68M908.63 1500.74h14.68M908.63 1571.17h14.68M732.52 1588.78h14.68M849.92 1588.78h14.68M923.3 1588.78h14.68M717.84 1606.38h14.68M849.92 1676.82h14.68M923.3 1676.82h14.68M644.46 1694.42h29.35M967.33 1694.42h14.68M732.52 1747.25h14.68M483.02 1800.07h14.68M541.73 1800.07h14.68M600.43 1800.07h14.68M673.81 1800.07h14.68M703.16 1800.07h14.68M1070.06 1800.07h14.68M1172.8 1800.07h14.68M1231.5 1800.07h14.68M1275.53 1800.07h14.68M1392.94 1800.07h14.68"/><path stroke="#4f4e9d" stroke-width="17.91" d="M218.86 285.78h14.68M336.26 849.24h14.68M204.18 866.85h14.68M248.21 866.85h14.68M130.8 884.46h14.68M336.26 884.46h14.68M336.26 902.06h14.68M130.8 919.67h14.68M336.26 919.67h14.68M336.26 937.28h14.68M380.29 937.28h14.68M336.26 972.5h14.68M336.26 990.1h14.68M277.56 1025.32h14.68M233.53 1078.14h14.68M189.5 1095.75h14.68M336.26 1130.97h14.68M306.91 1148.58h14.68M306.91 1201.4h14.68M336.26 1201.4h14.68M306.91 1219.01h14.68M336.26 1219.01h14.68M336.26 1254.22h14.68M277.56 1412.7h14.68M277.56 1465.52h14.68M336.26 1465.52h14.68M849.92 1500.74h14.68M409.64 1553.56h14.68M585.76 1553.56h14.68M615.11 1553.56h29.35M688.49 1553.56h14.68M805.9 1553.56h29.35M849.92 1553.56h58.7M923.3 1553.56h14.68M615.11 1588.78h29.35M673.81 1588.78h14.68M409.64 1623.99h14.68M453.67 1623.99h14.68M776.54 1623.99h14.68M908.63 1659.21h14.68M732.52 1676.82h14.68M1392.94 1694.42h14.68M908.63 1712.03h14.68M717.84 1729.64h14.68M864.6 1800.07h14.68M893.95 1800.07h14.68"/><path stroke="#ff7f6b" stroke-width="17.91" d="M394.97 303.39h14.68M409.64 321h14.68M409.64 356.22h14.68M717.84 655.55h14.68M394.97 690.77h14.68M1084.74 1095.75h14.68M1334.23 1465.52h14.68M1363.58 1465.52h14.68M1055.39 1483.13h14.68M1378.26 1483.13h14.68"/><path stroke="#ff9d8a" stroke-width="17.91" d="M409.64 303.39h14.68M1378.26 1465.52h14.68"/><path stroke="#ff7a65" stroke-width="17.91" d="M394.97 321h14.68M394.97 585.12h14.68M409.64 655.55h14.68M409.64 831.63h14.68M394.97 1060.54h14.68M409.64 1078.14h14.68M732.52 1465.52h14.68M937.98 1465.52h14.68M1084.74 1465.52h14.68M747.19 1483.13h14.68M1143.44 1483.13h14.68M1363.58 1483.13h14.68M130.8 1641.6h14.68M130.8 1764.86h14.68M160.15 1800.07h14.68M262.88 1800.07h14.68"/><path stroke="#5c4d9b" stroke-width="17.91" d="M145.48 338.61h14.68M218.86 549.9h14.68M130.8 708.38h14.68M145.48 796.42h14.68M218.86 814.02h14.68M350.94 849.24h14.68M277.56 866.85h14.68M292.24 884.46h14.68M292.24 919.67h14.68M204.18 937.28h14.68M350.94 937.28h14.68M160.15 954.89h14.68M350.94 954.89h14.68M277.56 1007.71h14.68M350.94 1007.71h14.68M174.83 1025.32h14.68M336.26 1025.32h14.68M145.48 1060.54h14.68M248.21 1078.14h14.68M130.8 1095.75h14.68M321.59 1148.58h14.68M233.53 1166.18h14.68M233.53 1183.79h14.68M233.53 1236.62h14.68M336.26 1289.44h14.68M218.86 1307.05h14.68M218.86 1412.7h14.68M218.86 1430.3h14.68M365.62 1465.52h14.68M321.59 1483.13h14.68M409.64 1518.34h14.68M791.22 1535.95h14.68M835.25 1535.95h29.35M923.3 1535.95h14.68M556.4 1553.56h14.68M776.54 1553.56h14.68M394.97 1571.17h14.68M673.81 1571.17h14.68M864.6 1606.38h14.68M893.95 1606.38h14.68M791.22 1623.99h14.68M908.63 1623.99h14.68M732.52 1659.21h14.68M600.43 1676.82h14.68M644.46 1676.82h29.35M439 1694.42h29.35M541.73 1694.42h14.68M952.66 1694.42h14.68M1172.8 1694.42h14.68M849.92 1712.03h14.68M776.54 1747.25h14.68M835.25 1764.86h14.68M747.19 1782.46h14.68M967.33 1782.46h14.68M1348.91 1782.46h14.68M717.84 1800.07h14.68M1040.71 1800.07h14.68"/><path stroke="#6b539b" stroke-width="17.91" d="M160.15 338.61h14.68M233.53 338.61h14.68M145.48 373.82h14.68M306.91 391.43h14.68M145.48 461.86h14.68M218.86 497.08h14.68M277.56 602.73h14.68M218.86 620.34h14.68M233.53 673.16h14.68M277.56 673.16h14.68M218.86 778.81h14.68M248.21 884.46h14.68M248.21 919.67h14.68M160.15 1025.32h14.68M248.21 1042.93h14.68M336.26 1060.54h14.68M130.8 1078.14h14.68M233.53 1130.97h14.68M174.83 1148.58h14.68M204.18 1148.58h14.68M160.15 1166.18h14.68M189.5 1166.18h14.68M160.15 1183.79h14.68M189.5 1183.79h14.68M189.5 1201.4h14.68M189.5 1219.01h14.68M189.5 1236.62h29.35M380.29 1271.83h14.68M350.94 1289.44h14.68M130.8 1324.66h14.68M321.59 1342.26h29.35M336.26 1447.91h14.68M571.08 1500.74h14.68M556.4 1535.95h14.68M424.32 1553.56h14.68M512.38 1553.56h14.68M747.19 1553.56h14.68M512.38 1571.17h14.68M1304.88 1588.78h14.68M1070.06 1623.99h14.68M1128.77 1623.99h14.68M761.87 1659.21h14.68M864.6 1659.21h14.68M893.95 1659.21h14.68M688.49 1676.82h14.68M1070.06 1676.82h14.68M1348.91 1676.82h14.68M982.01 1694.42h14.68M1114.09 1694.42h14.68M1216.82 1694.42h14.68M600.43 1712.03h14.68M673.81 1712.03h14.68M600.43 1729.64h73.38M673.81 1747.25h14.68M644.46 1764.86h29.35M776.54 1764.86h14.68M1348.91 1764.86h14.68M1246.18 1782.46h14.68M1319.56 1782.46h14.68M527.05 1800.07h14.68M732.52 1800.07h14.68"/><path stroke="#ff7b66" stroke-width="17.91" d="M394.97 338.61h14.68M394.97 461.86h14.68M732.52 479.47h14.68M409.64 567.51h14.68M732.52 620.34h14.68M717.84 637.94h14.68M394.97 655.55h14.68M424.32 778.81h14.68M497.7 1078.14h14.68M1114.09 1078.14h14.68M1231.5 1078.14h14.68M1099.42 1095.75h14.68M732.52 1359.87h14.68M982.01 1447.91h14.68M1158.12 1465.52h14.68M1084.74 1483.13h14.68M1246.18 1483.13h14.68M1348.91 1483.13h14.68M145.48 1712.03h14.68M204.18 1782.46h14.68"/><path stroke="#ff7e6a" stroke-width="17.91" d="M394.97 373.82h14.68M394.97 637.94h14.68M717.84 708.38h14.68M732.52 743.59h14.68M1011.36 1078.14h14.68M1040.71 1095.75h14.68M1099.42 1483.13h14.68M1319.56 1483.13h14.68"/><path stroke="#5e4e9b" stroke-width="17.91" d="M130.8 391.43h14.68M130.8 409.04h14.68M130.8 743.59h14.68M130.8 778.81h14.68M160.15 796.42h14.68M130.8 814.02h14.68M306.91 831.63h14.68M189.5 849.24h29.35M262.88 849.24h14.68M365.62 849.24h14.68M160.15 884.46h14.68M350.94 884.46h14.68M350.94 902.06h14.68M160.15 919.67h14.68M350.94 919.67h14.68M189.5 937.28h14.68M262.88 937.28h14.68M365.62 937.28h14.68M365.62 954.89h14.68M350.94 972.5h14.68M292.24 990.1h14.68M350.94 990.1h14.68M145.48 1007.71h14.68M365.62 1007.71h14.68M262.88 1025.32h14.68M380.29 1042.93h14.68M174.83 1095.75h14.68M277.56 1148.58h14.68M321.59 1201.4h14.68M380.29 1201.4h14.68M321.59 1219.01h14.68M380.29 1219.01h14.68M321.59 1236.62h14.68M380.29 1236.62h14.68M277.56 1254.22h14.68M336.26 1395.09h14.68M204.18 1483.13h29.35M336.26 1483.13h29.35M600.43 1500.74h44.03M761.87 1500.74h14.68M791.22 1518.34h14.68M835.25 1518.34h29.35M923.3 1518.34h14.68M394.97 1535.95h14.68M805.9 1535.95h29.35M864.6 1535.95h44.03M394.97 1553.56h14.68M468.35 1553.56h14.68M600.43 1571.17h44.03M937.98 1588.78h14.68M805.9 1606.38h14.68M585.76 1623.99h14.68M673.81 1623.99h14.68M776.54 1641.6h14.68M849.92 1641.6h14.68M923.3 1641.6h14.68M394.97 1694.42h14.68M394.97 1712.03h14.68M923.3 1712.03h14.68M849.92 1729.64h14.68M923.3 1729.64h14.68M717.84 1747.25h14.68M864.6 1764.86h14.68M893.95 1764.86h14.68M967.33 1764.86h14.68M791.22 1782.46h14.68M952.66 1800.07h14.68M982.01 1800.07h14.68M1011.36 1800.07h14.68M1290.2 1800.07h29.35"/><path stroke="#584c9c" stroke-width="17.91" d="M145.48 391.43h14.68M130.8 620.34h14.68M218.86 673.16h14.68M130.8 725.98h14.68M233.53 796.42h14.68M306.91 796.42h14.68M233.53 831.63h14.68M160.15 849.24h14.68M292.24 849.24h14.68M350.94 866.85h29.35M321.59 884.46h14.68M380.29 884.46h14.68M321.59 902.06h14.68M380.29 902.06h14.68M321.59 919.67h14.68M160.15 937.28h14.68M292.24 937.28h14.68M321.59 954.89h14.68M321.59 972.5h14.68M380.29 972.5h14.68M130.8 1007.71h14.68M321.59 1007.71h14.68M204.18 1025.32h14.68M189.5 1042.93h14.68M130.8 1060.54h14.68M204.18 1078.14h14.68M277.56 1130.97h14.68M233.53 1148.58h14.68M233.53 1201.4h14.68M233.53 1219.01h14.68M277.56 1271.83h14.68M306.91 1289.44h14.68M277.56 1395.09h14.68M130.8 1430.3h14.68M277.56 1430.3h14.68M380.29 1465.52h14.68M292.24 1483.13h14.68M409.64 1500.74h14.68M820.57 1500.74h14.68M879.28 1500.74h29.35M908.63 1518.34h14.68M908.63 1535.95h14.68M791.22 1571.17h14.68M820.57 1571.17h29.35M864.6 1571.17h44.03M556.4 1588.78h14.68M967.33 1588.78h14.68M394.97 1606.38h14.68M849.92 1606.38h14.68M923.3 1606.38h14.68M439 1623.99h14.68M468.35 1623.99h14.68M571.08 1623.99h14.68M688.49 1623.99h14.68M615.11 1676.82h29.35M673.81 1676.82h14.68M937.98 1676.82h14.68M967.33 1676.82h14.68M1070.06 1694.42h14.68M732.52 1712.03h14.68M776.54 1712.03h14.68M761.87 1729.64h14.68M849.92 1764.86h14.68M923.3 1764.86h14.68M1304.88 1782.46h14.68M439 1800.07h14.68M747.19 1800.07h14.68M791.22 1800.07h14.68M1026.04 1800.07h14.68M1114.09 1800.07h14.68"/><path stroke="#6e559c" stroke-width="17.91" d="M160.15 409.04h14.68M218.86 479.47h14.68M336.26 673.16h14.68M306.91 814.02h14.68M145.48 831.63h14.68M174.83 990.1h14.68M365.62 1078.14h14.68M262.88 1201.4h14.68M262.88 1219.01h14.68M380.29 1289.44h14.68M160.15 1324.66h14.68M204.18 1342.26h14.68M380.29 1342.26h14.68M218.86 1359.87h14.68M336.26 1377.48h14.68M350.94 1395.09h14.68M512.38 1500.74h14.68M556.4 1500.74h14.68M732.52 1518.34h14.68M468.35 1535.95h14.68M483.02 1553.56h14.68M1070.06 1553.56h14.68M952.66 1588.78h14.68M615.11 1641.6h29.35M497.7 1694.42h14.68M1231.5 1694.42h14.68M512.38 1712.03h14.68M805.9 1747.25h14.68M527.05 1764.86h14.68M1290.2 1764.86h14.68M937.98 1782.46h14.68"/><path stroke="#ff7d69" stroke-width="17.91" d="M409.64 409.04h14.68M409.64 1060.54h14.68M747.19 1465.52h14.68M1290.2 1465.52h14.68"/><path stroke="#c099c5" stroke-width="17.91" d="M248.21 479.47h14.68M204.18 743.59h14.68M174.83 1447.91h14.68M248.21 1447.91h14.68M424.32 1659.21h14.68M1231.5 1659.21h14.68M1011.36 1712.03h14.68M424.32 1747.25h14.68"/><path stroke="#b991c0" stroke-width="17.91" d="M248.21 497.08h14.68M248.21 514.69h14.68M204.18 708.38h14.68M189.5 1447.91h14.68M1202.15 1659.21h29.35M1040.71 1712.03h14.68M424.32 1729.64h14.68"/><path stroke="#ff8470" stroke-width="17.91" d="M409.64 497.08h14.68M732.52 585.12h14.68M1143.44 1078.14h14.68M1216.82 1465.52h14.68"/><path stroke="#b790bf" stroke-width="17.91" d="M248.21 585.12h14.68M350.94 690.77h14.68M174.83 1359.87h14.68M1055.39 1535.95h14.68M1143.44 1659.21h14.68M497.7 1747.25h14.68"/><path stroke="#ba93c1" stroke-width="17.91" d="M365.62 637.94h14.68M248.21 743.59h14.68M1099.42 1518.34h14.68M1011.36 1659.21h14.68"/><path stroke="#ffa593" stroke-width="17.91" d="M409.64 725.98h14.68M1026.04 1465.52h14.68"/><path stroke="#ffa08d" stroke-width="17.91" d="M409.64 778.81h14.68M982.01 1465.52h14.68"/><path stroke="#3a52a2" stroke-width="17.91" d="M218.86 866.85h29.35M218.86 1025.32h14.68M908.63 1676.82h14.68M776.54 1694.42h14.68M908.63 1694.42h14.68"/></g><path stroke="#ffffff" stroke-opacity="0.7" stroke-width="1.4" fill="none" d="M145.48 100.9V1808.88M160.15 100.9V1808.88M174.83 100.9V1808.88M189.5 100.9V1808.88M204.18 100.9V1808.88M218.86 100.9V1808.88M233.53 100.9V1808.88M248.21 100.9V1808.88M262.88 100.9V1808.88M277.56 100.9V1808.88M292.24 100.9V1808.88M306.91 100.9V1808.88M321.59 100.9V1808.88M336.26 100.9V1808.88M350.94 100.9V1808.88M365.62 100.9V1808.88M380.29 100.9V1808.88M394.97 100.9V1808.88M409.64 100.9V1808.88M424.32 100.9V1808.88M439 100.9V1808.88M453.67 100.9V1808.88M468.35 100.9V1808.88M483.02 100.9V1808.88M497.7 100.9V1808.88M512.38 100.9V1808.88M527.05 100.9V1808.88M541.73 100.9V1808.88M556.4 100.9V1808.88M571.08 100.9V1808.88M585.76 100.9V1808.88M600.43 100.9V1808.88M615.11 100.9V1808.88M629.78 100.9V1808.88M644.46 100.9V1808.88M659.14 100.9V1808.88M673.81 100.9V1808.88M688.49 100.9V1808.88M703.16 100.9V1808.88M717.84 100.9V1808.88M732.52 100.9V1808.88M747.19 100.9V1808.88M761.87 100.9V1808.88M776.54 100.9V1808.88M791.22 100.9V1808.88M805.9 100.9V1808.88M820.57 100.9V1808.88M835.25 100.9V1808.88M849.92 100.9V1808.88M864.6 100.9V1808.88M879.28 100.9V1808.88M893.95 100.9V1808.88M908.63 100.9V1808.88M923.3 100.9V1808.88M937.98 100.9V1808.88M952.66 100.9V1808.88M967.33 100.9V1808.88M982.01 100.9V1808.88M996.68 100.9V1808.88M1011.36 100.9V1808.88M1026.04 100.9V1808.88M1040.71 100.9V1808.88M1055.39 100.9V1808.88M1070.06 100.9V1808.88M1084.74 100.9V1808.88M1099.42 100.9V1808.88M1114.09 100.9V1808.88M1128.77 100.9V1808.88M1143.44 100.9V1808.88M1158.12 100.9V1808.88M1172.8 100.9V1808.88M1187.47 100.9V1808.88M1202.15 100.9V1808.88M1216.82 100.9V1808.88M1231.5 100.9V1808.88M1246.18 100.9V1808.88M1260.85 100.9V1808.88M1275.53 100.9V1808.88M1290.2 100.9V1808.88M1304.88 100.9V1808.88M1319.56 100.9V1808.88M1334.23 100.9V1808.88M1348.91 100.9V1808.88M1363.58 100.9V1808.88M1378.26 100.9V1808.88M1392.94 100.9V1808.88M1407.61 100.9V1808.88M1422.29 100.9V1808.88M1436.96 100.9V1808.88M1451.64 100.9V1808.88M1466.32 100.9V1808.88M1480.99 100.9V1808.88M1495.67 100.9V1808.88M1510.34 100.9V1808.88M1525.02 100.9V1808.88M1539.7 100.9V1808.88M130.8 118.51H1554.37M130.8 136.12H1554.37M130.8 153.72H1554.37M130.8 171.33H1554.37M130.8 188.94H1554.37M130.8 206.55H1554.37M130.8 224.16H1554.37M130.8 241.76H1554.37M130.8 259.37H1554.37M130.8 276.98H1554.37M130.8 294.59H1554.37M130.8 312.2H1554.37M130.8 329.8H1554.37M130.8 347.41H1554.37M130.8 365.02H1554.37M130.8 382.63H1554.37M130.8 400.24H1554.37M130.8 417.84H1554.37M130.8 435.45H1554.37M130.8 453.06H1554.37M130.8 470.67H1554.37M130.8 488.28H1554.37M130.8 505.88H1554.37M130.8 523.49H1554.37M130.8 541.1H1554.37M130.8 558.71H1554.37M130.8 576.32H1554.37M130.8 593.92H1554.37M130.8 611.53H1554.37M130.8 629.14H1554.37M130.8 646.75H1554.37M130.8 664.36H1554.37M130.8 681.96H1554.37M130.8 699.57H1554.37M130.8 717.18H1554.37M130.8 734.79H1554.37M130.8 752.4H1554.37M130.8 770H1554.37M130.8 787.61H1554.37M130.8 805.22H1554.37M130.8 822.83H1554.37M130.8 840.44H1554.37M130.8 858.04H1554.37M130.8 875.65H1554.37M130.8 893.26H1554.37M130.8 910.87H1554.37M130.8 928.48H1554.37M130.8 946.08H1554.37M130.8 963.69H1554.37M130.8 981.3H1554.37M130.8 998.91H1554.37M130.8 1016.52H1554.37M130.8 1034.12H1554.37M130.8 1051.73H1554.37M130.8 1069.34H1554.37M130.8 1086.95H1554.37M130.8 1104.56H1554.37M130.8 1122.16H1554.37M130.8 1139.77H1554.37M130.8 1157.38H1554.37M130.8 1174.99H1554.37M130.8 1192.6H1554.37M130.8 1210.2H1554.37M130.8 1227.81H1554.37M130.8 1245.42H1554.37M130.8 1263.03H1554.37M130.8 1280.64H1554.37M130.8 1298.24H1554.37M130.8 1315.85H1554.37M130.8 1333.46H1554.37M130.8 1351.07H1554.37M130.8 1368.68H1554.37M130.8 1386.28H1554.37M130.8 1403.89H1554.37M130.8 1421.5H1554.37M130.8 1439.11H1554.37M130.8 1456.72H1554.37M130.8 1474.32H1554.37M130.8 1491.93H1554.37M130.8 1509.54H1554.37M130.8 1527.15H1554.37M130.8 1544.76H1554.37M130.8 1562.36H1554.37M130.8 1579.97H1554.37M130.8 1597.58H1554.37M130.8 1615.19H1554.37M130.8 1632.8H1554.37M130.8 1650.4H1554.37M130.8 1668.01H1554.37M130.8 1685.62H1554.37M130.8 1703.23H1554.37M130.8 1720.84H1554.37M130.8 1738.44H1554.37M130.8 1756.05H1554.37M130.8 1773.66H1554.37M130.8 1791.27H1554.37"/><path stroke="#140e0e" stroke-width="5.5" stroke-linecap="round" fill="none" d="M138.14 109.7h0M343.6 109.7h0M431.66 109.7h0M446.33 109.7h0M461.01 109.7h0M475.69 109.7h0M490.36 109.7h0M549.07 109.7h0M563.74 109.7h0M578.42 109.7h0M593.09 109.7h0M607.77 109.7h0M622.45 109.7h0M637.12 109.7h0M651.8 109.7h0M666.47 109.7h0M681.15 109.7h0M695.83 109.7h0M710.5 109.7h0M754.53 109.7h0M769.21 109.7h0M783.88 109.7h0M798.56 109.7h0M813.23 109.7h0M827.91 109.7h0M842.59 109.7h0M857.26 109.7h0M871.94 109.7h0M886.61 109.7h0M901.29 109.7h0M930.64 109.7h0M945.32 109.7h0M959.99 109.7h0M974.67 109.7h0M989.35 109.7h0M1018.7 109.7h0M1033.37 109.7h0M1048.05 109.7h0M1077.4 109.7h0M1092.08 109.7h0M1121.43 109.7h0M1136.11 109.7h0M1150.78 109.7h0M1165.46 109.7h0M1180.13 109.7h0M1194.81 109.7h0M1209.49 109.7h0M1224.16 109.7h0M1238.84 109.7h0M1253.51 109.7h0M1268.19 109.7h0M1282.87 109.7h0M1297.54 109.7h0M1312.22 109.7h0M1326.89 109.7h0M1341.57 109.7h0M1356.25 109.7h0M1370.92 109.7h0M1385.6 109.7h0M1400.27 109.7h0M1414.95 109.7h0M1429.63 109.7h0M1444.3 109.7h0M1458.98 109.7h0M1473.65 109.7h0M1488.33 109.7h0M1503.01 109.7h0M1517.68 109.7h0M1532.36 109.7h0M1547.03 109.7h0M138.14 127.31h0M152.81 127.31h0M343.6 127.31h0M431.66 127.31h0M446.33 127.31h0M475.69 127.31h0M490.36 127.31h0M549.07 127.31h0M563.74 127.31h0M578.42 127.31h0M593.09 127.31h0M607.77 127.31h0M622.45 127.31h0M637.12 127.31h0M651.8 127.31h0M666.47 127.31h0M681.15 127.31h0M695.83 127.31h0M710.5 127.31h0M754.53 127.31h0M769.21 127.31h0M798.56 127.31h0M813.23 127.31h0M827.91 127.31h0M842.59 127.31h0M857.26 127.31h0M871.94 127.31h0M886.61 127.31h0M901.29 127.31h0M930.64 127.31h0M959.99 127.31h0M974.67 127.31h0M1018.7 127.31h0M1048.05 127.31h0M1077.4 127.31h0M1092.08 127.31h0M1121.43 127.31h0M1136.11 127.31h0M1150.78 127.31h0M1165.46 127.31h0M1180.13 127.31h0M1194.81 127.31h0M1209.49 127.31h0M1224.16 127.31h0M1238.84 127.31h0M1253.51 127.31h0M1268.19 127.31h0M1282.87 127.31h0M1297.54 127.31h0M1312.22 127.31h0M1326.89 127.31h0M1341.57 127.31h0M1356.25 127.31h0M1370.92 127.31h0M1400.27 127.31h0M1414.95 127.31h0M1429.63 127.31h0M1458.98 127.31h0M1473.65 127.31h0M1503.01 127.31h0M1517.68 127.31h0M1532.36 127.31h0M1547.03 127.31h0M138.14 144.92h0M446.33 144.92h0M461.01 144.92h0M475.69 144.92h0M490.36 144.92h0M505.04 144.92h0M549.07 144.92h0M563.74 144.92h0M578.42 144.92h0M593.09 144.92h0M607.77 144.92h0M622.45 144.92h0M637.12 144.92h0M651.8 144.92h0M666.47 144.92h0M681.15 144.92h0M695.83 144.92h0M710.5 144.92h0M754.53 144.92h0M769.21 144.92h0M783.88 144.92h0M813.23 144.92h0M827.91 144.92h0M842.59 144.92h0M871.94 144.92h0M886.61 144.92h0M901.29 144.92h0M945.32 144.92h0M959.99 144.92h0M974.67 144.92h0M989.35 144.92h0M1004.02 144.92h0M1018.7 144.92h0M1033.37 144.92h0M1048.05 144.92h0M1062.73 144.92h0M1077.4 144.92h0M1092.08 144.92h0M1106.75 144.92h0M1121.43 144.92h0M1136.11 144.92h0M1150.78 144.92h0M1165.46 144.92h0M1180.13 144.92h0M1194.81 144.92h0M1209.49 144.92h0M1224.16 144.92h0M1238.84 144.92h0M1253.51 144.92h0M1268.19 144.92h0M1282.87 144.92h0M1297.54 144.92h0M1312.22 144.92h0M1326.89 144.92h0M1341.57 144.92h0M1356.25 144.92h0M1370.92 144.92h0M1385.6 144.92h0M1400.27 144.92h0M1414.95 144.92h0M1429.63 144.92h0M1444.3 144.92h0M1458.98 144.92h0M1473.65 144.92h0M1488.33 144.92h0M1503.01 144.92h0M1517.68 144.92h0M1532.36 144.92h0M1547.03 144.92h0M138.14 162.53h0M461.01 162.53h0M475.69 162.53h0M490.36 162.53h0M549.07 162.53h0M563.74 162.53h0M578.42 162.53h0M593.09 162.53h0M607.77 162.53h0M622.45 162.53h0M637.12 162.53h0M651.8 162.53h0M666.47 162.53h0M681.15 162.53h0M695.83 162.53h0M710.5 162.53h0M754.53 162.53h0M769.21 162.53h0M783.88 162.53h0M798.56 162.53h0M813.23 162.53h0M827.91 162.53h0M842.59 162.53h0M857.26 162.53h0M871.94 162.53h0M886.61 162.53h0M901.29 162.53h0M930.64 162.53h0M945.32 162.53h0M959.99 162.53h0M974.67 162.53h0M989.35 162.53h0M1004.02 162.53h0M1018.7 162.53h0M1033.37 162.53h0M1048.05 162.53h0M1062.73 162.53h0M1077.4 162.53h0M1092.08 162.53h0M1106.75 162.53h0M1121.43 162.53h0M1136.11 162.53h0M1150.78 162.53h0M1165.46 162.53h0M1180.13 162.53h0M1194.81 162.53h0M1209.49 162.53h0M1224.16 162.53h0M1238.84 162.53h0M1253.51 162.53h0M1268.19 162.53h0M1282.87 162.53h0M1297.54 162.53h0M1312.22 162.53h0M1326.89 162.53h0M1341.57 162.53h0M1356.25 162.53h0M1370.92 162.53h0M1385.6 162.53h0M1400.27 162.53h0M1414.95 162.53h0M1429.63 162.53h0M1444.3 162.53h0M1458.98 162.53h0M1473.65 162.53h0M1488.33 162.53h0M1503.01 162.53h0M1517.68 162.53h0M1532.36 162.53h0M1547.03 162.53h0M138.14 180.14h0M446.33 180.14h0M461.01 180.14h0M475.69 180.14h0M490.36 180.14h0M505.04 180.14h0M519.71 180.14h0M534.39 180.14h0M549.07 180.14h0M563.74 180.14h0M578.42 180.14h0M593.09 180.14h0M607.77 180.14h0M622.45 180.14h0M637.12 180.14h0M651.8 180.14h0M666.47 180.14h0M681.15 180.14h0M695.83 180.14h0M710.5 180.14h0M754.53 180.14h0M769.21 180.14h0M783.88 180.14h0M798.56 180.14h0M813.23 180.14h0M827.91 180.14h0M842.59 180.14h0M857.26 180.14h0M871.94 180.14h0M886.61 180.14h0M901.29 180.14h0M930.64 180.14h0M945.32 180.14h0M959.99 180.14h0M974.67 180.14h0M989.35 180.14h0M1004.02 180.14h0M1018.7 180.14h0M1033.37 180.14h0M1048.05 180.14h0M1062.73 180.14h0M1077.4 180.14h0M1092.08 180.14h0M1106.75 180.14h0M1121.43 180.14h0M1136.11 180.14h0M1150.78 180.14h0M1165.46 180.14h0M1180.13 180.14h0M1194.81 180.14h0M1209.49 180.14h0M1224.16 180.14h0M1238.84 180.14h0M1253.51 180.14h0M1268.19 180.14h0M1282.87 180.14h0M1297.54 180.14h0M1312.22 180.14h0M1326.89 180.14h0M1341.57 180.14h0M1356.25 180.14h0M1370.92 180.14h0M1385.6 180.14h0M1400.27 180.14h0M1414.95 180.14h0M1429.63 180.14h0M1444.3 180.14h0M1458.98 180.14h0M1473.65 180.14h0M1488.33 180.14h0M1503.01 180.14h0M1517.68 180.14h0M1547.03 180.14h0M138.14 197.74h0M475.69 197.74h0M490.36 197.74h0M549.07 197.74h0M563.74 197.74h0M578.42 197.74h0M593.09 197.74h0M607.77 197.74h0M622.45 197.74h0M637.12 197.74h0M651.8 197.74h0M666.47 197.74h0M681.15 197.74h0M695.83 197.74h0M710.5 197.74h0M754.53 197.74h0M769.21 197.74h0M798.56 197.74h0M813.23 197.74h0M827.91 197.74h0M842.59 197.74h0M871.94 197.74h0M886.61 197.74h0M901.29 197.74h0M930.64 197.74h0M945.32 197.74h0M959.99 197.74h0M974.67 197.74h0M989.35 197.74h0M1004.02 197.74h0M1018.7 197.74h0M1033.37 197.74h0M1048.05 197.74h0M1062.73 197.74h0M1077.4 197.74h0M1092.08 197.74h0M1106.75 197.74h0M1121.43 197.74h0M1136.11 197.74h0M1150.78 197.74h0M1165.46 197.74h0M1180.13 197.74h0M1194.81 197.74h0M1209.49 197.74h0M1224.16 197.74h0M1238.84 197.74h0M1253.51 197.74h0M1268.19 197.74h0M1282.87 197.74h0M1297.54 197.74h0M1312.22 197.74h0M1326.89 197.74h0M1341.57 197.74h0M1356.25 197.74h0M1370.92 197.74h0M1385.6 197.74h0M1400.27 197.74h0M1414.95 197.74h0M1429.63 197.74h0M1444.3 197.74h0M1458.98 197.74h0M1473.65 197.74h0M1488.33 197.74h0M1503.01 197.74h0M1517.68 197.74h0M1532.36 197.74h0M1547.03 197.74h0M138.14 215.35h0M461.01 215.35h0M475.69 215.35h0M490.36 215.35h0M549.07 215.35h0M563.74 215.35h0M578.42 215.35h0M593.09 215.35h0M607.77 215.35h0M622.45 215.35h0M637.12 215.35h0M651.8 215.35h0M666.47 215.35h0M681.15 215.35h0M695.83 215.35h0M710.5 215.35h0M754.53 215.35h0M769.21 215.35h0M798.56 215.35h0M813.23 215.35h0M827.91 215.35h0M842.59 215.35h0M871.94 215.35h0M886.61 215.35h0M901.29 215.35h0M945.32 215.35h0M959.99 215.35h0M974.67 215.35h0M989.35 215.35h0M1004.02 215.35h0M1018.7 215.35h0M1033.37 215.35h0M1048.05 215.35h0M1062.73 215.35h0M1077.4 215.35h0M1092.08 215.35h0M1106.75 215.35h0M1121.43 215.35h0M1136.11 215.35h0M1150.78 215.35h0M1165.46 215.35h0M1180.13 215.35h0M1194.81 215.35h0M1209.49 215.35h0M1224.16 215.35h0M1238.84 215.35h0M1253.51 215.35h0M1268.19 215.35h0M1282.87 215.35h0M1297.54 215.35h0M1312.22 215.35h0M1326.89 215.35h0M1341.57 215.35h0M1356.25 215.35h0M1370.92 215.35h0M1385.6 215.35h0M1400.27 215.35h0M1414.95 215.35h0M1429.63 215.35h0M1444.3 215.35h0M1458.98 215.35h0M1473.65 215.35h0M1488.33 215.35h0M1503.01 215.35h0M1517.68 215.35h0M1532.36 215.35h0M1547.03 215.35h0M138.14 232.96h0M226.19 232.96h0M446.33 232.96h0M461.01 232.96h0M475.69 232.96h0M490.36 232.96h0M505.04 232.96h0M519.71 232.96h0M534.39 232.96h0M549.07 232.96h0M563.74 232.96h0M578.42 232.96h0M593.09 232.96h0M607.77 232.96h0M622.45 232.96h0M637.12 232.96h0M651.8 232.96h0M666.47 232.96h0M681.15 232.96h0M695.83 232.96h0M710.5 232.96h0M754.53 232.96h0M769.21 232.96h0M783.88 232.96h0M798.56 232.96h0M813.23 232.96h0M827.91 232.96h0M842.59 232.96h0M857.26 232.96h0M871.94 232.96h0M886.61 232.96h0M901.29 232.96h0M930.64 232.96h0M945.32 232.96h0M959.99 232.96h0M974.67 232.96h0M989.35 232.96h0M1004.02 232.96h0M1018.7 232.96h0M1033.37 232.96h0M1048.05 232.96h0M1062.73 232.96h0M1077.4 232.96h0M1092.08 232.96h0M1106.75 232.96h0M1121.43 232.96h0M1136.11 232.96h0M1150.78 232.96h0M1165.46 232.96h0M1180.13 232.96h0M1194.81 232.96h0M1209.49 232.96h0M1224.16 232.96h0M1238.84 232.96h0M1253.51 232.96h0M1268.19 232.96h0M1282.87 232.96h0M1297.54 232.96h0M1312.22 232.96h0M1326.89 232.96h0M1341.57 232.96h0M1356.25 232.96h0M1370.92 232.96h0M1385.6 232.96h0M1400.27 232.96h0M1414.95 232.96h0M1429.63 232.96h0M1444.3 232.96h0M1458.98 232.96h0M1473.65 232.96h0M1488.33 232.96h0M1503.01 232.96h0M1517.68 232.96h0M1547.03 232.96h0M138.14 250.57h0M226.19 250.57h0M446.33 250.57h0M461.01 250.57h0M475.69 250.57h0M490.36 250.57h0M505.04 250.57h0M519.71 250.57h0M534.39 250.57h0M549.07 250.57h0M563.74 250.57h0M578.42 250.57h0M593.09 250.57h0M607.77 250.57h0M622.45 250.57h0M637.12 250.57h0M651.8 250.57h0M666.47 250.57h0M681.15 250.57h0M695.83 250.57h0M710.5 250.57h0M754.53 250.57h0M769.21 250.57h0M783.88 250.57h0M798.56 250.57h0M813.23 250.57h0M827.91 250.57h0M842.59 250.57h0M857.26 250.57h0M871.94 250.57h0M886.61 250.57h0M901.29 250.57h0M930.64 250.57h0M945.32 250.57h0M959.99 250.57h0M974.67 250.57h0M989.35 250.57h0M1004.02 250.57h0M1018.7 250.57h0M1033.37 250.57h0M1048.05 250.57h0M1062.73 250.57h0M1077.4 250.57h0M1092.08 250.57h0M1106.75 250.57h0M1121.43 250.57h0M1136.11 250.57h0M1150.78 250.57h0M1165.46 250.57h0M1180.13 250.57h0M1194.81 250.57h0M1209.49 250.57h0M1224.16 250.57h0M1238.84 250.57h0M1253.51 250.57h0M1268.19 250.57h0M1282.87 250.57h0M1297.54 250.57h0M1312.22 250.57h0M1326.89 250.57h0M1341.57 250.57h0M1356.25 250.57h0M1370.92 250.57h0M1385.6 250.57h0M1400.27 250.57h0M1414.95 250.57h0M1429.63 250.57h0M1444.3 250.57h0M1458.98 250.57h0M1473.65 250.57h0M1488.33 250.57h0M1503.01 250.57h0M1517.68 250.57h0M1532.36 250.57h0M1547.03 250.57h0M138.14 268.18h0M226.19 268.18h0M431.66 268.18h0M446.33 268.18h0M461.01 268.18h0M475.69 268.18h0M490.36 268.18h0M505.04 268.18h0M519.71 268.18h0M534.39 268.18h0M549.07 268.18h0M563.74 268.18h0M578.42 268.18h0M593.09 268.18h0M607.77 268.18h0M622.45 268.18h0M637.12 268.18h0M651.8 268.18h0M666.47 268.18h0M681.15 268.18h0M695.83 268.18h0M710.5 268.18h0M754.53 268.18h0M769.21 268.18h0M783.88 268.18h0M798.56 268.18h0M813.23 268.18h0M827.91 268.18h0M842.59 268.18h0M857.26 268.18h0M871.94 268.18h0M886.61 268.18h0M901.29 268.18h0M930.64 268.18h0M945.32 268.18h0M959.99 268.18h0M974.67 268.18h0M989.35 268.18h0M1004.02 268.18h0M1018.7 268.18h0M1033.37 268.18h0M1048.05 268.18h0M1062.73 268.18h0M1077.4 268.18h0M1092.08 268.18h0M1106.75 268.18h0M1121.43 268.18h0M1136.11 268.18h0M1150.78 268.18h0M1165.46 268.18h0M1180.13 268.18h0M1194.81 268.18h0M1209.49 268.18h0M1224.16 268.18h0M1238.84 268.18h0M1253.51 268.18h0M1268.19 268.18h0M1282.87 268.18h0M1297.54 268.18h0M1312.22 268.18h0M1326.89 268.18h0M1341.57 268.18h0M1356.25 268.18h0M1370.92 268.18h0M1385.6 268.18h0M1400.27 268.18h0M1414.95 268.18h0M1429.63 268.18h0M1444.3 268.18h0M1458.98 268.18h0M1473.65 268.18h0M1488.33 268.18h0M1503.01 268.18h0M1517.68 268.18h0M1532.36 268.18h0M1547.03 268.18h0M138.14 285.78h0M226.19 285.78h0M240.87 285.78h0M314.25 285.78h0M446.33 285.78h0M461.01 285.78h0M475.69 285.78h0M490.36 285.78h0M505.04 285.78h0M519.71 285.78h0M534.39 285.78h0M549.07 285.78h0M563.74 285.78h0M578.42 285.78h0M593.09 285.78h0M607.77 285.78h0M622.45 285.78h0M637.12 285.78h0M651.8 285.78h0M666.47 285.78h0M681.15 285.78h0M695.83 285.78h0M710.5 285.78h0M739.85 285.78h0M754.53 285.78h0M769.21 285.78h0M783.88 285.78h0M798.56 285.78h0M813.23 285.78h0M827.91 285.78h0M842.59 285.78h0M857.26 285.78h0M871.94 285.78h0M886.61 285.78h0M901.29 285.78h0M915.97 285.78h0M930.64 285.78h0M945.32 285.78h0M959.99 285.78h0M974.67 285.78h0M989.35 285.78h0M1004.02 285.78h0M1018.7 285.78h0M1033.37 285.78h0M1048.05 285.78h0M1062.73 285.78h0M1077.4 285.78h0M1092.08 285.78h0M1106.75 285.78h0M1121.43 285.78h0M1136.11 285.78h0M1150.78 285.78h0M1165.46 285.78h0M1180.13 285.78h0M1194.81 285.78h0M1209.49 285.78h0M1224.16 285.78h0M1238.84 285.78h0M1253.51 285.78h0M1268.19 285.78h0M1282.87 285.78h0M1297.54 285.78h0M1312.22 285.78h0M1326.89 285.78h0M1341.57 285.78h0M1356.25 285.78h0M1370.92 285.78h0M1385.6 285.78h0M1400.27 285.78h0M1414.95 285.78h0M1429.63 285.78h0M1444.3 285.78h0M1458.98 285.78h0M1473.65 285.78h0M1488.33 285.78h0M1503.01 285.78h0M1517.68 285.78h0M1532.36 285.78h0M1547.03 285.78h0M138.14 303.39h0M461.01 303.39h0M475.69 303.39h0M490.36 303.39h0M549.07 303.39h0M563.74 303.39h0M578.42 303.39h0M607.77 303.39h0M622.45 303.39h0M637.12 303.39h0M651.8 303.39h0M666.47 303.39h0M681.15 303.39h0M695.83 303.39h0M710.5 303.39h0M754.53 303.39h0M769.21 303.39h0M783.88 303.39h0M827.91 303.39h0M871.94 303.39h0M886.61 303.39h0M901.29 303.39h0M945.32 303.39h0M959.99 303.39h0M974.67 303.39h0M989.35 303.39h0M1004.02 303.39h0M1018.7 303.39h0M1033.37 303.39h0M1048.05 303.39h0M1062.73 303.39h0M1077.4 303.39h0M1092.08 303.39h0M1106.75 303.39h0M1121.43 303.39h0M1136.11 303.39h0M1150.78 303.39h0M1165.46 303.39h0M1180.13 303.39h0M1194.81 303.39h0M1209.49 303.39h0M1224.16 303.39h0M1238.84 303.39h0M1253.51 303.39h0M1268.19 303.39h0M1282.87 303.39h0M1297.54 303.39h0M1312.22 303.39h0M1326.89 303.39h0M1341.57 303.39h0M1356.25 303.39h0M1370.92 303.39h0M1385.6 303.39h0M1400.27 303.39h0M1414.95 303.39h0M1429.63 303.39h0M1444.3 303.39h0M1458.98 303.39h0M1473.65 303.39h0M1488.33 303.39h0M1503.01 303.39h0M1517.68 303.39h0M1547.03 303.39h0M138.14 321h0M226.19 321h0M446.33 321h0M461.01 321h0M475.69 321h0M490.36 321h0M505.04 321h0M519.71 321h0M534.39 321h0M549.07 321h0M563.74 321h0M578.42 321h0M593.09 321h0M607.77 321h0M622.45 321h0M637.12 321h0M651.8 321h0M666.47 321h0M681.15 321h0M695.83 321h0M710.5 321h0M754.53 321h0M769.21 321h0M783.88 321h0M798.56 321h0M813.23 321h0M827.91 321h0M842.59 321h0M857.26 321h0M871.94 321h0M886.61 321h0M901.29 321h0M915.97 321h0M930.64 321h0M945.32 321h0M959.99 321h0M974.67 321h0M989.35 321h0M1004.02 321h0M1018.7 321h0M1033.37 321h0M1048.05 321h0M1062.73 321h0M1077.4 321h0M1092.08 321h0M1106.75 321h0M1121.43 321h0M1136.11 321h0M1150.78 321h0M1165.46 321h0M1180.13 321h0M1194.81 321h0M1209.49 321h0M1224.16 321h0M1238.84 321h0M1253.51 321h0M1268.19 321h0M1282.87 321h0M1297.54 321h0M1312.22 321h0M1326.89 321h0M1341.57 321h0M1356.25 321h0M1370.92 321h0M1385.6 321h0M1400.27 321h0M1414.95 321h0M1429.63 321h0M1444.3 321h0M1458.98 321h0M1473.65 321h0M1488.33 321h0M1503.01 321h0M1517.68 321h0M1532.36 321h0M1547.03 321h0M138.14 338.61h0M152.81 338.61h0M226.19 338.61h0M446.33 338.61h0M475.69 338.61h0M490.36 338.61h0M505.04 338.61h0M519.71 338.61h0M534.39 338.61h0M549.07 338.61h0M563.74 338.61h0M578.42 338.61h0M593.09 338.61h0M607.77 338.61h0M622.45 338.61h0M637.12 338.61h0M651.8 338.61h0M666.47 338.61h0M681.15 338.61h0M695.83 338.61h0M710.5 338.61h0M754.53 338.61h0M769.21 338.61h0M783.88 338.61h0M798.56 338.61h0M813.23 338.61h0M827.91 338.61h0M842.59 338.61h0M857.26 338.61h0M871.94 338.61h0M886.61 338.61h0M901.29 338.61h0M915.97 338.61h0M930.64 338.61h0M945.32 338.61h0M959.99 338.61h0M974.67 338.61h0M989.35 338.61h0M1004.02 338.61h0M1018.7 338.61h0M1033.37 338.61h0M1048.05 338.61h0M1062.73 338.61h0M1077.4 338.61h0M1092.08 338.61h0M1106.75 338.61h0M1121.43 338.61h0M1136.11 338.61h0M1150.78 338.61h0M1165.46 338.61h0M1180.13 338.61h0M1194.81 338.61h0M1209.49 338.61h0M1224.16 338.61h0M1238.84 338.61h0M1253.51 338.61h0M1268.19 338.61h0M1282.87 338.61h0M1297.54 338.61h0M1312.22 338.61h0M1326.89 338.61h0M1341.57 338.61h0M1356.25 338.61h0M1370.92 338.61h0M1385.6 338.61h0M1400.27 338.61h0M1414.95 338.61h0M1429.63 338.61h0M1444.3 338.61h0M1458.98 338.61h0M1473.65 338.61h0M1488.33 338.61h0M1503.01 338.61h0M1517.68 338.61h0M1532.36 338.61h0M1547.03 338.61h0M138.14 356.22h0M226.19 356.22h0M446.33 356.22h0M461.01 356.22h0M475.69 356.22h0M490.36 356.22h0M505.04 356.22h0M519.71 356.22h0M534.39 356.22h0M549.07 356.22h0M563.74 356.22h0M578.42 356.22h0M593.09 356.22h0M607.77 356.22h0M622.45 356.22h0M637.12 356.22h0M651.8 356.22h0M666.47 356.22h0M681.15 356.22h0M695.83 356.22h0M710.5 356.22h0M754.53 356.22h0M769.21 356.22h0M783.88 356.22h0M798.56 356.22h0M813.23 356.22h0M827.91 356.22h0M842.59 356.22h0M857.26 356.22h0M871.94 356.22h0M886.61 356.22h0M901.29 356.22h0M930.64 356.22h0M945.32 356.22h0M959.99 356.22h0M974.67 356.22h0M989.35 356.22h0M1004.02 356.22h0M1018.7 356.22h0M1033.37 356.22h0M1048.05 356.22h0M1062.73 356.22h0M1077.4 356.22h0M1092.08 356.22h0M1106.75 356.22h0M1121.43 356.22h0M1136.11 356.22h0M1150.78 356.22h0M1165.46 356.22h0M1180.13 356.22h0M1194.81 356.22h0M1209.49 356.22h0M1224.16 356.22h0M1238.84 356.22h0M1253.51 356.22h0M1268.19 356.22h0M1282.87 356.22h0M1297.54 356.22h0M1312.22 356.22h0M1326.89 356.22h0M1341.57 356.22h0M1356.25 356.22h0M1370.92 356.22h0M1385.6 356.22h0M1400.27 356.22h0M1414.95 356.22h0M1429.63 356.22h0M1444.3 356.22h0M1458.98 356.22h0M1473.65 356.22h0M1488.33 356.22h0M1503.01 356.22h0M1517.68 356.22h0M1532.36 356.22h0M1547.03 356.22h0M138.14 373.82h0M446.33 373.82h0M461.01 373.82h0M475.69 373.82h0M490.36 373.82h0M505.04 373.82h0M519.71 373.82h0M534.39 373.82h0M549.07 373.82h0M563.74 373.82h0M578.42 373.82h0M593.09 373.82h0M607.77 373.82h0M622.45 373.82h0M637.12 373.82h0M651.8 373.82h0M666.47 373.82h0M681.15 373.82h0M695.83 373.82h0M710.5 373.82h0M754.53 373.82h0M769.21 373.82h0M783.88 373.82h0M798.56 373.82h0M813.23 373.82h0M827.91 373.82h0M842.59 373.82h0M857.26 373.82h0M871.94 373.82h0M886.61 373.82h0M901.29 373.82h0M930.64 373.82h0M945.32 373.82h0M959.99 373.82h0M974.67 373.82h0M989.35 373.82h0M1004.02 373.82h0M1018.7 373.82h0M1033.37 373.82h0M1048.05 373.82h0M1062.73 373.82h0M1077.4 373.82h0M1092.08 373.82h0M1106.75 373.82h0M1121.43 373.82h0M1136.11 373.82h0M1150.78 373.82h0M1165.46 373.82h0M1180.13 373.82h0M1194.81 373.82h0M1209.49 373.82h0M1224.16 373.82h0M1238.84 373.82h0M1253.51 373.82h0M1268.19 373.82h0M1282.87 373.82h0M1297.54 373.82h0M1312.22 373.82h0M1326.89 373.82h0M1341.57 373.82h0M1356.25 373.82h0M1370.92 373.82h0M1385.6 373.82h0M1400.27 373.82h0M1414.95 373.82h0M1429.63 373.82h0M1444.3 373.82h0M1458.98 373.82h0M1473.65 373.82h0M1488.33 373.82h0M1503.01 373.82h0M1517.68 373.82h0M1532.36 373.82h0M1547.03 373.82h0M138.14 391.43h0M152.81 391.43h0M167.49 391.43h0M226.19 391.43h0M240.87 391.43h0M446.33 391.43h0M461.01 391.43h0M475.69 391.43h0M490.36 391.43h0M505.04 391.43h0M519.71 391.43h0M534.39 391.43h0M549.07 391.43h0M563.74 391.43h0M578.42 391.43h0M593.09 391.43h0M607.77 391.43h0M622.45 391.43h0M637.12 391.43h0M651.8 391.43h0M666.47 391.43h0M681.15 391.43h0M695.83 391.43h0M710.5 391.43h0M754.53 391.43h0M769.21 391.43h0M783.88 391.43h0M798.56 391.43h0M813.23 391.43h0M827.91 391.43h0M842.59 391.43h0M857.26 391.43h0M871.94 391.43h0M886.61 391.43h0M901.29 391.43h0M915.97 391.43h0M930.64 391.43h0M945.32 391.43h0M959.99 391.43h0M974.67 391.43h0M989.35 391.43h0M1004.02 391.43h0M1018.7 391.43h0M1033.37 391.43h0M1048.05 391.43h0M1062.73 391.43h0M1077.4 391.43h0M1092.08 391.43h0M1106.75 391.43h0M1121.43 391.43h0M1136.11 391.43h0M1150.78 391.43h0M1165.46 391.43h0M1180.13 391.43h0M1194.81 391.43h0M1209.49 391.43h0M1224.16 391.43h0M1238.84 391.43h0M1253.51 391.43h0M1268.19 391.43h0M1282.87 391.43h0M1297.54 391.43h0M1312.22 391.43h0M1326.89 391.43h0M1341.57 391.43h0M1356.25 391.43h0M1370.92 391.43h0M1385.6 391.43h0M1400.27 391.43h0M1414.95 391.43h0M1429.63 391.43h0M1444.3 391.43h0M1458.98 391.43h0M1473.65 391.43h0M1488.33 391.43h0M1503.01 391.43h0M1517.68 391.43h0M1532.36 391.43h0M1547.03 391.43h0M138.14 409.04h0M152.81 409.04h0M226.19 409.04h0M446.33 409.04h0M475.69 409.04h0M490.36 409.04h0M519.71 409.04h0M534.39 409.04h0M549.07 409.04h0M563.74 409.04h0M578.42 409.04h0M593.09 409.04h0M607.77 409.04h0M622.45 409.04h0M637.12 409.04h0M651.8 409.04h0M666.47 409.04h0M681.15 409.04h0M695.83 409.04h0M710.5 409.04h0M754.53 409.04h0M769.21 409.04h0M798.56 409.04h0M813.23 409.04h0M827.91 409.04h0M842.59 409.04h0M857.26 409.04h0M871.94 409.04h0M886.61 409.04h0M901.29 409.04h0M915.97 409.04h0M930.64 409.04h0M945.32 409.04h0M959.99 409.04h0M974.67 409.04h0M989.35 409.04h0M1004.02 409.04h0M1018.7 409.04h0M1033.37 409.04h0M1048.05 409.04h0M1062.73 409.04h0M1077.4 409.04h0M1092.08 409.04h0M1106.75 409.04h0M1121.43 409.04h0M1136.11 409.04h0M1150.78 409.04h0M1165.46 409.04h0M1180.13 409.04h0M1194.81 409.04h0M1209.49 409.04h0M1224.16 409.04h0M1238.84 409.04h0M1253.51 409.04h0M1268.19 409.04h0M1282.87 409.04h0M1297.54 409.04h0M1312.22 409.04h0M1326.89 409.04h0M1341.57 409.04h0M1356.25 409.04h0M1370.92 409.04h0M1385.6 409.04h0M1400.27 409.04h0M1414.95 409.04h0M1429.63 409.04h0M1444.3 409.04h0M1458.98 409.04h0M1473.65 409.04h0M1488.33 409.04h0M1503.01 409.04h0M1517.68 409.04h0M1532.36 409.04h0M1547.03 409.04h0M138.14 426.65h0M226.19 426.65h0M284.9 426.65h0M314.25 426.65h0M343.6 426.65h0M431.66 426.65h0M446.33 426.65h0M461.01 426.65h0M475.69 426.65h0M490.36 426.65h0M505.04 426.65h0M519.71 426.65h0M534.39 426.65h0M549.07 426.65h0M563.74 426.65h0M578.42 426.65h0M593.09 426.65h0M607.77 426.65h0M622.45 426.65h0M637.12 426.65h0M651.8 426.65h0M666.47 426.65h0M681.15 426.65h0M695.83 426.65h0M710.5 426.65h0M754.53 426.65h0M769.21 426.65h0M783.88 426.65h0M798.56 426.65h0M813.23 426.65h0M827.91 426.65h0M842.59 426.65h0M857.26 426.65h0M871.94 426.65h0M886.61 426.65h0M901.29 426.65h0M915.97 426.65h0M930.64 426.65h0M945.32 426.65h0M959.99 426.65h0M974.67 426.65h0M989.35 426.65h0M1004.02 426.65h0M1018.7 426.65h0M1033.37 426.65h0M1048.05 426.65h0M1062.73 426.65h0M1077.4 426.65h0M1092.08 426.65h0M1106.75 426.65h0M1121.43 426.65h0M1136.11 426.65h0M1150.78 426.65h0M1165.46 426.65h0M1180.13 426.65h0M1194.81 426.65h0M1209.49 426.65h0M1224.16 426.65h0M1238.84 426.65h0M1253.51 426.65h0M1268.19 426.65h0M1282.87 426.65h0M1297.54 426.65h0M1312.22 426.65h0M1326.89 426.65h0M1341.57 426.65h0M1356.25 426.65h0M1370.92 426.65h0M1385.6 426.65h0M1400.27 426.65h0M1414.95 426.65h0M1429.63 426.65h0M1444.3 426.65h0M1458.98 426.65h0M1473.65 426.65h0M1488.33 426.65h0M1503.01 426.65h0M1517.68 426.65h0M1532.36 426.65h0M1547.03 426.65h0M138.14 444.26h0M226.19 444.26h0M446.33 444.26h0M461.01 444.26h0M475.69 444.26h0M490.36 444.26h0M505.04 444.26h0M519.71 444.26h0M534.39 444.26h0M549.07 444.26h0M563.74 444.26h0M578.42 444.26h0M593.09 444.26h0M607.77 444.26h0M622.45 444.26h0M637.12 444.26h0M651.8 444.26h0M666.47 444.26h0M681.15 444.26h0M695.83 444.26h0M710.5 444.26h0M754.53 444.26h0M769.21 444.26h0M783.88 444.26h0M798.56 444.26h0M813.23 444.26h0M827.91 444.26h0M842.59 444.26h0M857.26 444.26h0M871.94 444.26h0M886.61 444.26h0M901.29 444.26h0M930.64 444.26h0M945.32 444.26h0M959.99 444.26h0M974.67 444.26h0M989.35 444.26h0M1004.02 444.26h0M1018.7 444.26h0M1033.37 444.26h0M1048.05 444.26h0M1062.73 444.26h0M1077.4 444.26h0M1092.08 444.26h0M1106.75 444.26h0M1121.43 444.26h0M1136.11 444.26h0M1150.78 444.26h0M1165.46 444.26h0M1180.13 444.26h0M1194.81 444.26h0M1209.49 444.26h0M1224.16 444.26h0M1238.84 444.26h0M1253.51 444.26h0M1268.19 444.26h0M1282.87 444.26h0M1297.54 444.26h0M1312.22 444.26h0M1326.89 444.26h0M1341.57 444.26h0M1356.25 444.26h0M1370.92 444.26h0M1385.6 444.26h0M1400.27 444.26h0M1414.95 444.26h0M1429.63 444.26h0M1444.3 444.26h0M1458.98 444.26h0M1473.65 444.26h0M1488.33 444.26h0M1503.01 444.26h0M1517.68 444.26h0M1532.36 444.26h0M1547.03 444.26h0M138.14 461.86h0M226.19 461.86h0M446.33 461.86h0M461.01 461.86h0M475.69 461.86h0M490.36 461.86h0M505.04 461.86h0M519.71 461.86h0M534.39 461.86h0M549.07 461.86h0M563.74 461.86h0M578.42 461.86h0M593.09 461.86h0M607.77 461.86h0M622.45 461.86h0M637.12 461.86h0M651.8 461.86h0M666.47 461.86h0M681.15 461.86h0M695.83 461.86h0M710.5 461.86h0M754.53 461.86h0M769.21 461.86h0M783.88 461.86h0M798.56 461.86h0M813.23 461.86h0M827.91 461.86h0M842.59 461.86h0M857.26 461.86h0M871.94 461.86h0M886.61 461.86h0M901.29 461.86h0M915.97 461.86h0M930.64 461.86h0M945.32 461.86h0M959.99 461.86h0M974.67 461.86h0M989.35 461.86h0M1004.02 461.86h0M1018.7 461.86h0M1033.37 461.86h0M1048.05 461.86h0M1062.73 461.86h0M1077.4 461.86h0M1092.08 461.86h0M1106.75 461.86h0M1121.43 461.86h0M1136.11 461.86h0M1150.78 461.86h0M1165.46 461.86h0M1180.13 461.86h0M1194.81 461.86h0M1209.49 461.86h0M1224.16 461.86h0M1238.84 461.86h0M1253.51 461.86h0M1268.19 461.86h0M1282.87 461.86h0M1297.54 461.86h0M1312.22 461.86h0M1326.89 461.86h0M1341.57 461.86h0M1356.25 461.86h0M1370.92 461.86h0M1385.6 461.86h0M1400.27 461.86h0M1414.95 461.86h0M1429.63 461.86h0M1444.3 461.86h0M1458.98 461.86h0M1473.65 461.86h0M1488.33 461.86h0M1503.01 461.86h0M1517.68 461.86h0M1532.36 461.86h0M1547.03 461.86h0M138.14 479.47h0M431.66 479.47h0M446.33 479.47h0M461.01 479.47h0M475.69 479.47h0M490.36 479.47h0M505.04 479.47h0M519.71 479.47h0M534.39 479.47h0M549.07 479.47h0M563.74 479.47h0M578.42 479.47h0M593.09 479.47h0M607.77 479.47h0M622.45 479.47h0M637.12 479.47h0M651.8 479.47h0M666.47 479.47h0M681.15 479.47h0M695.83 479.47h0M710.5 479.47h0M769.21 479.47h0M798.56 479.47h0M813.23 479.47h0M827.91 479.47h0M842.59 479.47h0M857.26 479.47h0M871.94 479.47h0M886.61 479.47h0M901.29 479.47h0M930.64 479.47h0M945.32 479.47h0M959.99 479.47h0M974.67 479.47h0M989.35 479.47h0M1018.7 479.47h0M1033.37 479.47h0M1048.05 479.47h0M1062.73 479.47h0M1077.4 479.47h0M1092.08 479.47h0M1106.75 479.47h0M1121.43 479.47h0M1136.11 479.47h0M1150.78 479.47h0M1165.46 479.47h0M1180.13 479.47h0M1194.81 479.47h0M1209.49 479.47h0M1224.16 479.47h0M1238.84 479.47h0M1253.51 479.47h0M1268.19 479.47h0M1282.87 479.47h0M1297.54 479.47h0M1312.22 479.47h0M1326.89 479.47h0M1341.57 479.47h0M1356.25 479.47h0M1370.92 479.47h0M1385.6 479.47h0M1400.27 479.47h0M1414.95 479.47h0M1429.63 479.47h0M1444.3 479.47h0M1458.98 479.47h0M1473.65 479.47h0M1488.33 479.47h0M1503.01 479.47h0M1517.68 479.47h0M1532.36 479.47h0M1547.03 479.47h0M138.14 497.08h0M446.33 497.08h0M461.01 497.08h0M475.69 497.08h0M490.36 497.08h0M505.04 497.08h0M549.07 497.08h0M563.74 497.08h0M578.42 497.08h0M593.09 497.08h0M607.77 497.08h0M622.45 497.08h0M637.12 497.08h0M651.8 497.08h0M666.47 497.08h0M681.15 497.08h0M695.83 497.08h0M710.5 497.08h0M754.53 497.08h0M769.21 497.08h0M783.88 497.08h0M798.56 497.08h0M813.23 497.08h0M827.91 497.08h0M842.59 497.08h0M871.94 497.08h0M886.61 497.08h0M901.29 497.08h0M930.64 497.08h0M945.32 497.08h0M959.99 497.08h0M974.67 497.08h0M989.35 497.08h0M1004.02 497.08h0M1018.7 497.08h0M1033.37 497.08h0M1048.05 497.08h0M1062.73 497.08h0M1077.4 497.08h0M1092.08 497.08h0M1106.75 497.08h0M1121.43 497.08h0M1136.11 497.08h0M1150.78 497.08h0M1165.46 497.08h0M1180.13 497.08h0M1194.81 497.08h0M1209.49 497.08h0M1224.16 497.08h0M1238.84 497.08h0M1253.51 497.08h0M1268.19 497.08h0M1282.87 497.08h0M1297.54 497.08h0M1312.22 497.08h0M1326.89 497.08h0M1341.57 497.08h0M1356.25 497.08h0M1370.92 497.08h0M1385.6 497.08h0M1400.27 497.08h0M1414.95 497.08h0M1429.63 497.08h0M1444.3 497.08h0M1458.98 497.08h0M1473.65 497.08h0M1488.33 497.08h0M1503.01 497.08h0M1517.68 497.08h0M1532.36 497.08h0M1547.03 497.08h0M138.14 514.69h0M431.66 514.69h0M446.33 514.69h0M461.01 514.69h0M475.69 514.69h0M490.36 514.69h0M505.04 514.69h0M519.71 514.69h0M534.39 514.69h0M549.07 514.69h0M563.74 514.69h0M578.42 514.69h0M593.09 514.69h0M607.77 514.69h0M622.45 514.69h0M637.12 514.69h0M651.8 514.69h0M666.47 514.69h0M681.15 514.69h0M695.83 514.69h0M710.5 514.69h0M754.53 514.69h0M769.21 514.69h0M783.88 514.69h0M798.56 514.69h0M813.23 514.69h0M827.91 514.69h0M842.59 514.69h0M857.26 514.69h0M871.94 514.69h0M886.61 514.69h0M901.29 514.69h0M930.64 514.69h0M945.32 514.69h0M959.99 514.69h0M974.67 514.69h0M989.35 514.69h0M1004.02 514.69h0M1018.7 514.69h0M1033.37 514.69h0M1048.05 514.69h0M1062.73 514.69h0M1077.4 514.69h0M1092.08 514.69h0M1106.75 514.69h0M1121.43 514.69h0M1136.11 514.69h0M1150.78 514.69h0M1165.46 514.69h0M1180.13 514.69h0M1194.81 514.69h0M1209.49 514.69h0M1224.16 514.69h0M1238.84 514.69h0M1253.51 514.69h0M1268.19 514.69h0M1282.87 514.69h0M1297.54 514.69h0M1312.22 514.69h0M1326.89 514.69h0M1341.57 514.69h0M1356.25 514.69h0M1370.92 514.69h0M1385.6 514.69h0M1400.27 514.69h0M1414.95 514.69h0M1429.63 514.69h0M1444.3 514.69h0M1458.98 514.69h0M1473.65 514.69h0M1488.33 514.69h0M1503.01 514.69h0M1517.68 514.69h0M1532.36 514.69h0M1547.03 514.69h0M138.14 532.3h0M431.66 532.3h0M446.33 532.3h0M461.01 532.3h0M475.69 532.3h0M490.36 532.3h0M505.04 532.3h0M519.71 532.3h0M534.39 532.3h0M549.07 532.3h0M563.74 532.3h0M578.42 532.3h0M593.09 532.3h0M607.77 532.3h0M622.45 532.3h0M637.12 532.3h0M651.8 532.3h0M666.47 532.3h0M681.15 532.3h0M695.83 532.3h0M710.5 532.3h0M769.21 532.3h0M783.88 532.3h0M798.56 532.3h0M813.23 532.3h0M827.91 532.3h0M842.59 532.3h0M857.26 532.3h0M871.94 532.3h0M886.61 532.3h0M901.29 532.3h0M930.64 532.3h0M945.32 532.3h0M959.99 532.3h0M974.67 532.3h0M989.35 532.3h0M1004.02 532.3h0M1018.7 532.3h0M1033.37 532.3h0M1048.05 532.3h0M1062.73 532.3h0M1077.4 532.3h0M1092.08 532.3h0M1106.75 532.3h0M1121.43 532.3h0M1136.11 532.3h0M1150.78 532.3h0M1165.46 532.3h0M1180.13 532.3h0M1194.81 532.3h0M1209.49 532.3h0M1224.16 532.3h0M1238.84 532.3h0M1253.51 532.3h0M1268.19 532.3h0M1282.87 532.3h0M1297.54 532.3h0M1312.22 532.3h0M1326.89 532.3h0M1341.57 532.3h0M1356.25 532.3h0M1370.92 532.3h0M1385.6 532.3h0M1400.27 532.3h0M1414.95 532.3h0M1429.63 532.3h0M1444.3 532.3h0M1458.98 532.3h0M1473.65 532.3h0M1488.33 532.3h0M1503.01 532.3h0M1517.68 532.3h0M1532.36 532.3h0M1547.03 532.3h0M138.14 549.9h0M226.19 549.9h0M284.9 549.9h0M431.66 549.9h0M446.33 549.9h0M461.01 549.9h0M475.69 549.9h0M490.36 549.9h0M505.04 549.9h0M519.71 549.9h0M534.39 549.9h0M549.07 549.9h0M563.74 549.9h0M578.42 549.9h0M593.09 549.9h0M607.77 549.9h0M622.45 549.9h0M637.12 549.9h0M651.8 549.9h0M666.47 549.9h0M681.15 549.9h0M695.83 549.9h0M710.5 549.9h0M754.53 549.9h0M769.21 549.9h0M783.88 549.9h0M798.56 549.9h0M813.23 549.9h0M827.91 549.9h0M842.59 549.9h0M857.26 549.9h0M871.94 549.9h0M886.61 549.9h0M901.29 549.9h0M915.97 549.9h0M930.64 549.9h0M945.32 549.9h0M959.99 549.9h0M974.67 549.9h0M989.35 549.9h0M1004.02 549.9h0M1018.7 549.9h0M1033.37 549.9h0M1048.05 549.9h0M1062.73 549.9h0M1077.4 549.9h0M1092.08 549.9h0M1106.75 549.9h0M1121.43 549.9h0M1136.11 549.9h0M1150.78 549.9h0M1165.46 549.9h0M1180.13 549.9h0M1194.81 549.9h0M1209.49 549.9h0M1224.16 549.9h0M1238.84 549.9h0M1253.51 549.9h0M1268.19 549.9h0M1282.87 549.9h0M1297.54 549.9h0M1312.22 549.9h0M1326.89 549.9h0M1341.57 549.9h0M1356.25 549.9h0M1370.92 549.9h0M1385.6 549.9h0M1400.27 549.9h0M1414.95 549.9h0M1429.63 549.9h0M1444.3 549.9h0M1458.98 549.9h0M1473.65 549.9h0M1488.33 549.9h0M1503.01 549.9h0M1517.68 549.9h0M1532.36 549.9h0M1547.03 549.9h0M138.14 567.51h0M431.66 567.51h0M446.33 567.51h0M461.01 567.51h0M475.69 567.51h0M490.36 567.51h0M505.04 567.51h0M549.07 567.51h0M563.74 567.51h0M578.42 567.51h0M593.09 567.51h0M607.77 567.51h0M622.45 567.51h0M637.12 567.51h0M651.8 567.51h0M666.47 567.51h0M681.15 567.51h0M695.83 567.51h0M710.5 567.51h0M754.53 567.51h0M769.21 567.51h0M783.88 567.51h0M798.56 567.51h0M813.23 567.51h0M827.91 567.51h0M842.59 567.51h0M857.26 567.51h0M871.94 567.51h0M886.61 567.51h0M901.29 567.51h0M930.64 567.51h0M945.32 567.51h0M959.99 567.51h0M974.67 567.51h0M989.35 567.51h0M1004.02 567.51h0M1018.7 567.51h0M1033.37 567.51h0M1048.05 567.51h0M1062.73 567.51h0M1077.4 567.51h0M1092.08 567.51h0M1106.75 567.51h0M1121.43 567.51h0M1136.11 567.51h0M1150.78 567.51h0M1165.46 567.51h0M1180.13 567.51h0M1194.81 567.51h0M1209.49 567.51h0M1224.16 567.51h0M1238.84 567.51h0M1253.51 567.51h0M1268.19 567.51h0M1282.87 567.51h0M1297.54 567.51h0M1312.22 567.51h0M1326.89 567.51h0M1341.57 567.51h0M1356.25 567.51h0M1370.92 567.51h0M1385.6 567.51h0M1400.27 567.51h0M1414.95 567.51h0M1429.63 567.51h0M1444.3 567.51h0M1458.98 567.51h0M1473.65 567.51h0M1488.33 567.51h0M1503.01 567.51h0M1517.68 567.51h0M1532.36 567.51h0M1547.03 567.51h0M138.14 585.12h0M431.66 585.12h0M446.33 585.12h0M461.01 585.12h0M475.69 585.12h0M490.36 585.12h0M505.04 585.12h0M519.71 585.12h0M534.39 585.12h0M549.07 585.12h0M563.74 585.12h0M578.42 585.12h0M593.09 585.12h0M607.77 585.12h0M622.45 585.12h0M637.12 585.12h0M651.8 585.12h0M666.47 585.12h0M681.15 585.12h0M695.83 585.12h0M710.5 585.12h0M798.56 585.12h0M813.23 585.12h0M827.91 585.12h0M842.59 585.12h0M857.26 585.12h0M871.94 585.12h0M886.61 585.12h0M901.29 585.12h0M930.64 585.12h0M945.32 585.12h0M959.99 585.12h0M974.67 585.12h0M989.35 585.12h0M1004.02 585.12h0M1018.7 585.12h0M1033.37 585.12h0M1048.05 585.12h0M1062.73 585.12h0M1077.4 585.12h0M1092.08 585.12h0M1106.75 585.12h0M1121.43 585.12h0M1136.11 585.12h0M1150.78 585.12h0M1165.46 585.12h0M1180.13 585.12h0M1194.81 585.12h0M1209.49 585.12h0M1224.16 585.12h0M1238.84 585.12h0M1253.51 585.12h0M1268.19 585.12h0M1282.87 585.12h0M1297.54 585.12h0M1312.22 585.12h0M1326.89 585.12h0M1341.57 585.12h0M1356.25 585.12h0M1370.92 585.12h0M1385.6 585.12h0M1400.27 585.12h0M1414.95 585.12h0M1429.63 585.12h0M1444.3 585.12h0M1458.98 585.12h0M1473.65 585.12h0M1488.33 585.12h0M1503.01 585.12h0M1517.68 585.12h0M1532.36 585.12h0M1547.03 585.12h0M138.14 602.73h0M226.19 602.73h0M431.66 602.73h0M446.33 602.73h0M461.01 602.73h0M475.69 602.73h0M490.36 602.73h0M505.04 602.73h0M519.71 602.73h0M534.39 602.73h0M549.07 602.73h0M563.74 602.73h0M578.42 602.73h0M593.09 602.73h0M607.77 602.73h0M622.45 602.73h0M637.12 602.73h0M651.8 602.73h0M666.47 602.73h0M681.15 602.73h0M695.83 602.73h0M710.5 602.73h0M754.53 602.73h0M769.21 602.73h0M783.88 602.73h0M798.56 602.73h0M813.23 602.73h0M827.91 602.73h0M842.59 602.73h0M857.26 602.73h0M871.94 602.73h0M886.61 602.73h0M901.29 602.73h0M930.64 602.73h0M945.32 602.73h0M959.99 602.73h0M974.67 602.73h0M989.35 602.73h0M1004.02 602.73h0M1018.7 602.73h0M1033.37 602.73h0M1048.05 602.73h0M1062.73 602.73h0M1077.4 602.73h0M1092.08 602.73h0M1106.75 602.73h0M1121.43 602.73h0M1136.11 602.73h0M1150.78 602.73h0M1165.46 602.73h0M1180.13 602.73h0M1194.81 602.73h0M1209.49 602.73h0M1224.16 602.73h0M1238.84 602.73h0M1253.51 602.73h0M1268.19 602.73h0M1282.87 602.73h0M1297.54 602.73h0M1312.22 602.73h0M1326.89 602.73h0M1341.57 602.73h0M1356.25 602.73h0M1370.92 602.73h0M1385.6 602.73h0M1400.27 602.73h0M1414.95 602.73h0M1429.63 602.73h0M1444.3 602.73h0M1458.98 602.73h0M1473.65 602.73h0M1488.33 602.73h0M1503.01 602.73h0M1517.68 602.73h0M1532.36 602.73h0M1547.03 602.73h0M138.14 620.34h0M431.66 620.34h0M446.33 620.34h0M461.01 620.34h0M475.69 620.34h0M490.36 620.34h0M505.04 620.34h0M519.71 620.34h0M534.39 620.34h0M549.07 620.34h0M563.74 620.34h0M578.42 620.34h0M593.09 620.34h0M607.77 620.34h0M622.45 620.34h0M637.12 620.34h0M651.8 620.34h0M666.47 620.34h0M681.15 620.34h0M695.83 620.34h0M710.5 620.34h0M754.53 620.34h0M769.21 620.34h0M798.56 620.34h0M813.23 620.34h0M827.91 620.34h0M842.59 620.34h0M857.26 620.34h0M871.94 620.34h0M886.61 620.34h0M901.29 620.34h0M930.64 620.34h0M945.32 620.34h0M959.99 620.34h0M974.67 620.34h0M989.35 620.34h0M1004.02 620.34h0M1018.7 620.34h0M1033.37 620.34h0M1048.05 620.34h0M1062.73 620.34h0M1077.4 620.34h0M1092.08 620.34h0M1106.75 620.34h0M1121.43 620.34h0M1136.11 620.34h0M1150.78 620.34h0M1165.46 620.34h0M1180.13 620.34h0M1194.81 620.34h0M1209.49 620.34h0M1224.16 620.34h0M1238.84 620.34h0M1253.51 620.34h0M1268.19 620.34h0M1282.87 620.34h0M1297.54 620.34h0M1312.22 620.34h0M1326.89 620.34h0M1341.57 620.34h0M1356.25 620.34h0M1370.92 620.34h0M1385.6 620.34h0M1400.27 620.34h0M1414.95 620.34h0M1429.63 620.34h0M1444.3 620.34h0M1458.98 620.34h0M1473.65 620.34h0M1488.33 620.34h0M1503.01 620.34h0M1517.68 620.34h0M1532.36 620.34h0M1547.03 620.34h0M138.14 637.94h0M446.33 637.94h0M461.01 637.94h0M475.69 637.94h0M490.36 637.94h0M505.04 637.94h0M519.71 637.94h0M534.39 637.94h0M549.07 637.94h0M563.74 637.94h0M578.42 637.94h0M593.09 637.94h0M607.77 637.94h0M622.45 637.94h0M637.12 637.94h0M651.8 637.94h0M666.47 637.94h0M681.15 637.94h0M695.83 637.94h0M710.5 637.94h0M754.53 637.94h0M798.56 637.94h0M813.23 637.94h0M827.91 637.94h0M842.59 637.94h0M871.94 637.94h0M886.61 637.94h0M901.29 637.94h0M945.32 637.94h0M959.99 637.94h0M974.67 637.94h0M989.35 637.94h0M1004.02 637.94h0M1018.7 637.94h0M1033.37 637.94h0M1048.05 637.94h0M1062.73 637.94h0M1077.4 637.94h0M1092.08 637.94h0M1106.75 637.94h0M1121.43 637.94h0M1136.11 637.94h0M1150.78 637.94h0M1165.46 637.94h0M1180.13 637.94h0M1194.81 637.94h0M1209.49 637.94h0M1224.16 637.94h0M1238.84 637.94h0M1253.51 637.94h0M1268.19 637.94h0M1282.87 637.94h0M1297.54 637.94h0M1312.22 637.94h0M1326.89 637.94h0M1341.57 637.94h0M1356.25 637.94h0M1370.92 637.94h0M1385.6 637.94h0M1400.27 637.94h0M1414.95 637.94h0M1429.63 637.94h0M1444.3 637.94h0M1458.98 637.94h0M1473.65 637.94h0M1488.33 637.94h0M1503.01 637.94h0M1517.68 637.94h0M138.14 655.55h0M431.66 655.55h0M446.33 655.55h0M461.01 655.55h0M475.69 655.55h0M490.36 655.55h0M505.04 655.55h0M519.71 655.55h0M534.39 655.55h0M549.07 655.55h0M563.74 655.55h0M578.42 655.55h0M593.09 655.55h0M607.77 655.55h0M622.45 655.55h0M637.12 655.55h0M651.8 655.55h0M666.47 655.55h0M681.15 655.55h0M695.83 655.55h0M710.5 655.55h0M754.53 655.55h0M798.56 655.55h0M813.23 655.55h0M827.91 655.55h0M842.59 655.55h0M857.26 655.55h0M871.94 655.55h0M886.61 655.55h0M901.29 655.55h0M930.64 655.55h0M945.32 655.55h0M959.99 655.55h0M974.67 655.55h0M989.35 655.55h0M1004.02 655.55h0M1018.7 655.55h0M1033.37 655.55h0M1048.05 655.55h0M1062.73 655.55h0M1077.4 655.55h0M1092.08 655.55h0M1106.75 655.55h0M1121.43 655.55h0M1136.11 655.55h0M1150.78 655.55h0M1165.46 655.55h0M1180.13 655.55h0M1194.81 655.55h0M1209.49 655.55h0M1224.16 655.55h0M1238.84 655.55h0M1253.51 655.55h0M1268.19 655.55h0M1282.87 655.55h0M1297.54 655.55h0M1312.22 655.55h0M1326.89 655.55h0M1341.57 655.55h0M1356.25 655.55h0M1370.92 655.55h0M1385.6 655.55h0M1400.27 655.55h0M1414.95 655.55h0M1429.63 655.55h0M1444.3 655.55h0M1458.98 655.55h0M1473.65 655.55h0M1488.33 655.55h0M1503.01 655.55h0M1517.68 655.55h0M1532.36 655.55h0M1547.03 655.55h0M138.14 673.16h0M226.19 673.16h0M314.25 673.16h0M431.66 673.16h0M446.33 673.16h0M461.01 673.16h0M475.69 673.16h0M490.36 673.16h0M505.04 673.16h0M519.71 673.16h0M534.39 673.16h0M549.07 673.16h0M563.74 673.16h0M578.42 673.16h0M593.09 673.16h0M607.77 673.16h0M622.45 673.16h0M637.12 673.16h0M651.8 673.16h0M666.47 673.16h0M681.15 673.16h0M695.83 673.16h0M710.5 673.16h0M754.53 673.16h0M769.21 673.16h0M783.88 673.16h0M798.56 673.16h0M813.23 673.16h0M827.91 673.16h0M842.59 673.16h0M857.26 673.16h0M871.94 673.16h0M886.61 673.16h0M901.29 673.16h0M915.97 673.16h0M930.64 673.16h0M945.32 673.16h0M959.99 673.16h0M974.67 673.16h0M989.35 673.16h0M1004.02 673.16h0M1018.7 673.16h0M1033.37 673.16h0M1048.05 673.16h0M1062.73 673.16h0M1077.4 673.16h0M1092.08 673.16h0M1106.75 673.16h0M1121.43 673.16h0M1136.11 673.16h0M1150.78 673.16h0M1165.46 673.16h0M1180.13 673.16h0M1194.81 673.16h0M1209.49 673.16h0M1224.16 673.16h0M1238.84 673.16h0M1253.51 673.16h0M1268.19 673.16h0M1282.87 673.16h0M1297.54 673.16h0M1312.22 673.16h0M1326.89 673.16h0M1341.57 673.16h0M1356.25 673.16h0M1370.92 673.16h0M1385.6 673.16h0M1400.27 673.16h0M1414.95 673.16h0M1429.63 673.16h0M1444.3 673.16h0M1458.98 673.16h0M1473.65 673.16h0M1488.33 673.16h0M1503.01 673.16h0M1517.68 673.16h0M1532.36 673.16h0M1547.03 673.16h0M138.14 690.77h0M461.01 690.77h0M475.69 690.77h0M490.36 690.77h0M505.04 690.77h0M519.71 690.77h0M534.39 690.77h0M549.07 690.77h0M563.74 690.77h0M578.42 690.77h0M593.09 690.77h0M607.77 690.77h0M622.45 690.77h0M637.12 690.77h0M651.8 690.77h0M666.47 690.77h0M681.15 690.77h0M710.5 690.77h0M754.53 690.77h0M813.23 690.77h0M827.91 690.77h0M871.94 690.77h0M886.61 690.77h0M901.29 690.77h0M945.32 690.77h0M959.99 690.77h0M974.67 690.77h0M989.35 690.77h0M1004.02 690.77h0M1018.7 690.77h0M1033.37 690.77h0M1048.05 690.77h0M1062.73 690.77h0M1077.4 690.77h0M1092.08 690.77h0M1106.75 690.77h0M1121.43 690.77h0M1136.11 690.77h0M1150.78 690.77h0M1165.46 690.77h0M1180.13 690.77h0M1194.81 690.77h0M1209.49 690.77h0M1224.16 690.77h0M1238.84 690.77h0M1253.51 690.77h0M1268.19 690.77h0M1282.87 690.77h0M1297.54 690.77h0M1312.22 690.77h0M1326.89 690.77h0M1341.57 690.77h0M1356.25 690.77h0M1370.92 690.77h0M1385.6 690.77h0M1400.27 690.77h0M1414.95 690.77h0M1429.63 690.77h0M1444.3 690.77h0M1458.98 690.77h0M1473.65 690.77h0M1488.33 690.77h0M1503.01 690.77h0M1517.68 690.77h0M138.14 708.38h0M446.33 708.38h0M475.69 708.38h0M490.36 708.38h0M505.04 708.38h0M519.71 708.38h0M534.39 708.38h0M549.07 708.38h0M563.74 708.38h0M578.42 708.38h0M593.09 708.38h0M607.77 708.38h0M622.45 708.38h0M637.12 708.38h0M651.8 708.38h0M666.47 708.38h0M681.15 708.38h0M695.83 708.38h0M710.5 708.38h0M754.53 708.38h0M769.21 708.38h0M798.56 708.38h0M813.23 708.38h0M827.91 708.38h0M842.59 708.38h0M871.94 708.38h0M886.61 708.38h0M901.29 708.38h0M945.32 708.38h0M959.99 708.38h0M974.67 708.38h0M989.35 708.38h0M1004.02 708.38h0M1018.7 708.38h0M1033.37 708.38h0M1048.05 708.38h0M1062.73 708.38h0M1077.4 708.38h0M1092.08 708.38h0M1106.75 708.38h0M1121.43 708.38h0M1136.11 708.38h0M1150.78 708.38h0M1165.46 708.38h0M1180.13 708.38h0M1194.81 708.38h0M1209.49 708.38h0M1224.16 708.38h0M1238.84 708.38h0M1253.51 708.38h0M1268.19 708.38h0M1282.87 708.38h0M1297.54 708.38h0M1312.22 708.38h0M1326.89 708.38h0M1341.57 708.38h0M1356.25 708.38h0M1370.92 708.38h0M1385.6 708.38h0M1400.27 708.38h0M1414.95 708.38h0M1429.63 708.38h0M1444.3 708.38h0M1458.98 708.38h0M1473.65 708.38h0M1488.33 708.38h0M1503.01 708.38h0M1517.68 708.38h0M1532.36 708.38h0M1547.03 708.38h0M138.14 725.98h0M490.36 725.98h0M549.07 725.98h0M563.74 725.98h0M578.42 725.98h0M607.77 725.98h0M622.45 725.98h0M637.12 725.98h0M651.8 725.98h0M666.47 725.98h0M681.15 725.98h0M710.5 725.98h0M754.53 725.98h0M769.21 725.98h0M871.94 725.98h0M945.32 725.98h0M959.99 725.98h0M974.67 725.98h0M989.35 725.98h0M1004.02 725.98h0M1018.7 725.98h0M1033.37 725.98h0M1048.05 725.98h0M1062.73 725.98h0M1077.4 725.98h0M1092.08 725.98h0M1106.75 725.98h0M1121.43 725.98h0M1136.11 725.98h0M1150.78 725.98h0M1165.46 725.98h0M1180.13 725.98h0M1194.81 725.98h0M1209.49 725.98h0M1224.16 725.98h0M1238.84 725.98h0M1253.51 725.98h0M1268.19 725.98h0M1282.87 725.98h0M1297.54 725.98h0M1312.22 725.98h0M1326.89 725.98h0M1341.57 725.98h0M1356.25 725.98h0M1370.92 725.98h0M1385.6 725.98h0M1400.27 725.98h0M1414.95 725.98h0M1429.63 725.98h0M1444.3 725.98h0M1458.98 725.98h0M1473.65 725.98h0M1488.33 725.98h0M1503.01 725.98h0M1517.68 725.98h0M1547.03 725.98h0M138.14 743.59h0M475.69 743.59h0M490.36 743.59h0M549.07 743.59h0M563.74 743.59h0M578.42 743.59h0M593.09 743.59h0M607.77 743.59h0M622.45 743.59h0M637.12 743.59h0M651.8 743.59h0M666.47 743.59h0M681.15 743.59h0M710.5 743.59h0M754.53 743.59h0M769.21 743.59h0M871.94 743.59h0M901.29 743.59h0M945.32 743.59h0M959.99 743.59h0M974.67 743.59h0M989.35 743.59h0M1004.02 743.59h0M1018.7 743.59h0M1033.37 743.59h0M1048.05 743.59h0M1062.73 743.59h0M1077.4 743.59h0M1092.08 743.59h0M1106.75 743.59h0M1121.43 743.59h0M1136.11 743.59h0M1150.78 743.59h0M1165.46 743.59h0M1180.13 743.59h0M1194.81 743.59h0M1209.49 743.59h0M1224.16 743.59h0M1238.84 743.59h0M1253.51 743.59h0M1268.19 743.59h0M1282.87 743.59h0M1297.54 743.59h0M1312.22 743.59h0M1326.89 743.59h0M1341.57 743.59h0M1356.25 743.59h0M1370.92 743.59h0M1385.6 743.59h0M1400.27 743.59h0M1414.95 743.59h0M1429.63 743.59h0M1444.3 743.59h0M1458.98 743.59h0M1473.65 743.59h0M1488.33 743.59h0M1503.01 743.59h0M1517.68 743.59h0M1532.36 743.59h0M1547.03 743.59h0M138.14 761.2h0M152.81 761.2h0M167.49 761.2h0M226.19 761.2h0M240.87 761.2h0M490.36 761.2h0M519.71 761.2h0M534.39 761.2h0M549.07 761.2h0M563.74 761.2h0M578.42 761.2h0M593.09 761.2h0M607.77 761.2h0M622.45 761.2h0M637.12 761.2h0M651.8 761.2h0M666.47 761.2h0M681.15 761.2h0M710.5 761.2h0M754.53 761.2h0M769.21 761.2h0M783.88 761.2h0M798.56 761.2h0M813.23 761.2h0M827.91 761.2h0M842.59 761.2h0M857.26 761.2h0M871.94 761.2h0M886.61 761.2h0M901.29 761.2h0M915.97 761.2h0M930.64 761.2h0M945.32 761.2h0M959.99 761.2h0M974.67 761.2h0M989.35 761.2h0M1004.02 761.2h0M1018.7 761.2h0M1033.37 761.2h0M1048.05 761.2h0M1062.73 761.2h0M1077.4 761.2h0M1092.08 761.2h0M1106.75 761.2h0M1121.43 761.2h0M1136.11 761.2h0M1150.78 761.2h0M1165.46 761.2h0M1180.13 761.2h0M1194.81 761.2h0M1209.49 761.2h0M1224.16 761.2h0M1253.51 761.2h0M1268.19 761.2h0M1282.87 761.2h0M1297.54 761.2h0M1312.22 761.2h0M1326.89 761.2h0M1341.57 761.2h0M1356.25 761.2h0M1370.92 761.2h0M1385.6 761.2h0M1400.27 761.2h0M1414.95 761.2h0M1429.63 761.2h0M1444.3 761.2h0M1458.98 761.2h0M1473.65 761.2h0M1488.33 761.2h0M1503.01 761.2h0M1517.68 761.2h0M138.14 778.81h0M490.36 778.81h0M549.07 778.81h0M563.74 778.81h0M578.42 778.81h0M607.77 778.81h0M622.45 778.81h0M637.12 778.81h0M651.8 778.81h0M666.47 778.81h0M681.15 778.81h0M710.5 778.81h0M754.53 778.81h0M769.21 778.81h0M798.56 778.81h0M827.91 778.81h0M842.59 778.81h0M857.26 778.81h0M871.94 778.81h0M886.61 778.81h0M901.29 778.81h0M930.64 778.81h0M945.32 778.81h0M959.99 778.81h0M974.67 778.81h0M989.35 778.81h0M1004.02 778.81h0M1018.7 778.81h0M1033.37 778.81h0M1048.05 778.81h0M1062.73 778.81h0M1077.4 778.81h0M1092.08 778.81h0M1106.75 778.81h0M1121.43 778.81h0M1136.11 778.81h0M1150.78 778.81h0M1165.46 778.81h0M1180.13 778.81h0M1194.81 778.81h0M1209.49 778.81h0M1224.16 778.81h0M1238.84 778.81h0M1253.51 778.81h0M1268.19 778.81h0M1282.87 778.81h0M1297.54 778.81h0M1312.22 778.81h0M1326.89 778.81h0M1341.57 778.81h0M1356.25 778.81h0M1370.92 778.81h0M1385.6 778.81h0M1400.27 778.81h0M1414.95 778.81h0M1429.63 778.81h0M1444.3 778.81h0M1458.98 778.81h0M1473.65 778.81h0M1488.33 778.81h0M1503.01 778.81h0M1517.68 778.81h0M1547.03 778.81h0M138.14 796.42h0M152.81 796.42h0M167.49 796.42h0M226.19 796.42h0M240.87 796.42h0M284.9 796.42h0M314.25 796.42h0M328.93 796.42h0M343.6 796.42h0M358.28 796.42h0M387.63 796.42h0M431.66 796.42h0M446.33 796.42h0M461.01 796.42h0M475.69 796.42h0M490.36 796.42h0M505.04 796.42h0M519.71 796.42h0M534.39 796.42h0M549.07 796.42h0M563.74 796.42h0M578.42 796.42h0M593.09 796.42h0M607.77 796.42h0M622.45 796.42h0M637.12 796.42h0M651.8 796.42h0M666.47 796.42h0M681.15 796.42h0M695.83 796.42h0M710.5 796.42h0M754.53 796.42h0M769.21 796.42h0M783.88 796.42h0M798.56 796.42h0M813.23 796.42h0M827.91 796.42h0M842.59 796.42h0M857.26 796.42h0M871.94 796.42h0M886.61 796.42h0M901.29 796.42h0M915.97 796.42h0M930.64 796.42h0M945.32 796.42h0M959.99 796.42h0M974.67 796.42h0M989.35 796.42h0M1004.02 796.42h0M1018.7 796.42h0M1033.37 796.42h0M1048.05 796.42h0M1062.73 796.42h0M1077.4 796.42h0M1092.08 796.42h0M1106.75 796.42h0M1121.43 796.42h0M1136.11 796.42h0M1150.78 796.42h0M1165.46 796.42h0M1180.13 796.42h0M1194.81 796.42h0M1209.49 796.42h0M1224.16 796.42h0M1238.84 796.42h0M1253.51 796.42h0M1268.19 796.42h0M1282.87 796.42h0M1297.54 796.42h0M1312.22 796.42h0M1326.89 796.42h0M1341.57 796.42h0M1356.25 796.42h0M1370.92 796.42h0M1385.6 796.42h0M1400.27 796.42h0M1414.95 796.42h0M1429.63 796.42h0M1444.3 796.42h0M1458.98 796.42h0M1473.65 796.42h0M1488.33 796.42h0M1503.01 796.42h0M1517.68 796.42h0M1532.36 796.42h0M1547.03 796.42h0M138.14 814.02h0M152.81 814.02h0M167.49 814.02h0M226.19 814.02h0M240.87 814.02h0M446.33 814.02h0M475.69 814.02h0M490.36 814.02h0M505.04 814.02h0M519.71 814.02h0M534.39 814.02h0M549.07 814.02h0M563.74 814.02h0M578.42 814.02h0M593.09 814.02h0M607.77 814.02h0M622.45 814.02h0M637.12 814.02h0M651.8 814.02h0M666.47 814.02h0M681.15 814.02h0M695.83 814.02h0M710.5 814.02h0M754.53 814.02h0M769.21 814.02h0M783.88 814.02h0M798.56 814.02h0M813.23 814.02h0M827.91 814.02h0M842.59 814.02h0M857.26 814.02h0M871.94 814.02h0M886.61 814.02h0M901.29 814.02h0M915.97 814.02h0M930.64 814.02h0M945.32 814.02h0M959.99 814.02h0M974.67 814.02h0M989.35 814.02h0M1004.02 814.02h0M1018.7 814.02h0M1033.37 814.02h0M1048.05 814.02h0M1062.73 814.02h0M1077.4 814.02h0M1092.08 814.02h0M1106.75 814.02h0M1121.43 814.02h0M1136.11 814.02h0M1150.78 814.02h0M1165.46 814.02h0M1180.13 814.02h0M1194.81 814.02h0M1209.49 814.02h0M1224.16 814.02h0M1238.84 814.02h0M1253.51 814.02h0M1268.19 814.02h0M1282.87 814.02h0M1297.54 814.02h0M1312.22 814.02h0M1326.89 814.02h0M1341.57 814.02h0M1356.25 814.02h0M1370.92 814.02h0M1385.6 814.02h0M1400.27 814.02h0M1414.95 814.02h0M1429.63 814.02h0M1444.3 814.02h0M1458.98 814.02h0M1473.65 814.02h0M1488.33 814.02h0M1503.01 814.02h0M1517.68 814.02h0M1532.36 814.02h0M1547.03 814.02h0M138.14 831.63h0M226.19 831.63h0M240.87 831.63h0M314.25 831.63h0M328.93 831.63h0M446.33 831.63h0M461.01 831.63h0M475.69 831.63h0M490.36 831.63h0M519.71 831.63h0M534.39 831.63h0M549.07 831.63h0M563.74 831.63h0M578.42 831.63h0M593.09 831.63h0M607.77 831.63h0M622.45 831.63h0M637.12 831.63h0M651.8 831.63h0M666.47 831.63h0M681.15 831.63h0M695.83 831.63h0M710.5 831.63h0M739.85 831.63h0M754.53 831.63h0M769.21 831.63h0M783.88 831.63h0M798.56 831.63h0M813.23 831.63h0M827.91 831.63h0M842.59 831.63h0M857.26 831.63h0M871.94 831.63h0M886.61 831.63h0M901.29 831.63h0M915.97 831.63h0M930.64 831.63h0M945.32 831.63h0M959.99 831.63h0M974.67 831.63h0M989.35 831.63h0M1004.02 831.63h0M1018.7 831.63h0M1033.37 831.63h0M1048.05 831.63h0M1062.73 831.63h0M1077.4 831.63h0M1092.08 831.63h0M1106.75 831.63h0M1121.43 831.63h0M1136.11 831.63h0M1150.78 831.63h0M1165.46 831.63h0M1180.13 831.63h0M1194.81 831.63h0M1209.49 831.63h0M1224.16 831.63h0M1238.84 831.63h0M1253.51 831.63h0M1268.19 831.63h0M1282.87 831.63h0M1297.54 831.63h0M1312.22 831.63h0M1326.89 831.63h0M1341.57 831.63h0M1356.25 831.63h0M1370.92 831.63h0M1385.6 831.63h0M1400.27 831.63h0M1414.95 831.63h0M1429.63 831.63h0M1444.3 831.63h0M1458.98 831.63h0M1473.65 831.63h0M1488.33 831.63h0M1503.01 831.63h0M1517.68 831.63h0M1547.03 831.63h0M138.14 849.24h0M152.81 849.24h0M167.49 849.24h0M182.17 849.24h0M196.84 849.24h0M211.52 849.24h0M226.19 849.24h0M240.87 849.24h0M255.55 849.24h0M270.22 849.24h0M284.9 849.24h0M299.57 849.24h0M314.25 849.24h0M328.93 849.24h0M343.6 849.24h0M358.28 849.24h0M372.95 849.24h0M387.63 849.24h0M416.98 849.24h0M446.33 849.24h0M461.01 849.24h0M475.69 849.24h0M490.36 849.24h0M505.04 849.24h0M519.71 849.24h0M534.39 849.24h0M549.07 849.24h0M563.74 849.24h0M578.42 849.24h0M593.09 849.24h0M607.77 849.24h0M622.45 849.24h0M637.12 849.24h0M651.8 849.24h0M666.47 849.24h0M681.15 849.24h0M695.83 849.24h0M710.5 849.24h0M725.18 849.24h0M739.85 849.24h0M754.53 849.24h0M769.21 849.24h0M783.88 849.24h0M798.56 849.24h0M813.23 849.24h0M827.91 849.24h0M842.59 849.24h0M857.26 849.24h0M871.94 849.24h0M886.61 849.24h0M901.29 849.24h0M915.97 849.24h0M930.64 849.24h0M945.32 849.24h0M959.99 849.24h0M974.67 849.24h0M989.35 849.24h0M1004.02 849.24h0M1077.4 849.24h0M1092.08 849.24h0M1121.43 849.24h0M1136.11 849.24h0M1150.78 849.24h0M1165.46 849.24h0M1180.13 849.24h0M1194.81 849.24h0M1209.49 849.24h0M1224.16 849.24h0M1238.84 849.24h0M1253.51 849.24h0M1268.19 849.24h0M1282.87 849.24h0M1297.54 849.24h0M1312.22 849.24h0M1326.89 849.24h0M1341.57 849.24h0M1356.25 849.24h0M1370.92 849.24h0M1400.27 849.24h0M1414.95 849.24h0M1429.63 849.24h0M1444.3 849.24h0M1473.65 849.24h0M1488.33 849.24h0M1503.01 849.24h0M1532.36 849.24h0M1547.03 849.24h0M138.14 866.85h0M152.81 866.85h0M167.49 866.85h0M182.17 866.85h0M196.84 866.85h0M211.52 866.85h0M226.19 866.85h0M240.87 866.85h0M255.55 866.85h0M270.22 866.85h0M284.9 866.85h0M299.57 866.85h0M314.25 866.85h0M328.93 866.85h0M343.6 866.85h0M358.28 866.85h0M372.95 866.85h0M387.63 866.85h0M446.33 866.85h0M475.69 866.85h0M490.36 866.85h0M519.71 866.85h0M534.39 866.85h0M549.07 866.85h0M563.74 866.85h0M578.42 866.85h0M593.09 866.85h0M607.77 866.85h0M622.45 866.85h0M637.12 866.85h0M651.8 866.85h0M666.47 866.85h0M681.15 866.85h0M695.83 866.85h0M710.5 866.85h0M725.18 866.85h0M739.85 866.85h0M754.53 866.85h0M769.21 866.85h0M783.88 866.85h0M798.56 866.85h0M813.23 866.85h0M827.91 866.85h0M842.59 866.85h0M857.26 866.85h0M871.94 866.85h0M886.61 866.85h0M901.29 866.85h0M915.97 866.85h0M930.64 866.85h0M945.32 866.85h0M959.99 866.85h0M974.67 866.85h0M1004.02 866.85h0M1077.4 866.85h0M1180.13 866.85h0M1253.51 866.85h0M1282.87 866.85h0M1297.54 866.85h0M1312.22 866.85h0M1356.25 866.85h0M1370.92 866.85h0M1400.27 866.85h0M138.14 884.46h0M152.81 884.46h0M167.49 884.46h0M182.17 884.46h0M196.84 884.46h0M211.52 884.46h0M226.19 884.46h0M240.87 884.46h0M270.22 884.46h0M284.9 884.46h0M299.57 884.46h0M314.25 884.46h0M328.93 884.46h0M343.6 884.46h0M358.28 884.46h0M372.95 884.46h0M387.63 884.46h0M416.98 884.46h0M431.66 884.46h0M446.33 884.46h0M461.01 884.46h0M475.69 884.46h0M490.36 884.46h0M505.04 884.46h0M519.71 884.46h0M534.39 884.46h0M549.07 884.46h0M563.74 884.46h0M578.42 884.46h0M593.09 884.46h0M607.77 884.46h0M622.45 884.46h0M637.12 884.46h0M651.8 884.46h0M666.47 884.46h0M681.15 884.46h0M695.83 884.46h0M710.5 884.46h0M725.18 884.46h0M739.85 884.46h0M754.53 884.46h0M769.21 884.46h0M783.88 884.46h0M798.56 884.46h0M813.23 884.46h0M827.91 884.46h0M842.59 884.46h0M857.26 884.46h0M871.94 884.46h0M886.61 884.46h0M901.29 884.46h0M915.97 884.46h0M930.64 884.46h0M945.32 884.46h0M959.99 884.46h0M974.67 884.46h0M989.35 884.46h0M1004.02 884.46h0M1018.7 884.46h0M1048.05 884.46h0M1062.73 884.46h0M1077.4 884.46h0M1092.08 884.46h0M1106.75 884.46h0M1121.43 884.46h0M1136.11 884.46h0M1150.78 884.46h0M1165.46 884.46h0M1180.13 884.46h0M1194.81 884.46h0M1209.49 884.46h0M1224.16 884.46h0M1238.84 884.46h0M1253.51 884.46h0M1268.19 884.46h0M1282.87 884.46h0M1297.54 884.46h0M1312.22 884.46h0M1326.89 884.46h0M1341.57 884.46h0M1356.25 884.46h0M1370.92 884.46h0M1385.6 884.46h0M1400.27 884.46h0M1414.95 884.46h0M1429.63 884.46h0M1444.3 884.46h0M1458.98 884.46h0M1473.65 884.46h0M1488.33 884.46h0M1503.01 884.46h0M1517.68 884.46h0M1532.36 884.46h0M1547.03 884.46h0M138.14 902.06h0M152.81 902.06h0M167.49 902.06h0M182.17 902.06h0M196.84 902.06h0M211.52 902.06h0M226.19 902.06h0M240.87 902.06h0M270.22 902.06h0M284.9 902.06h0M299.57 902.06h0M314.25 902.06h0M328.93 902.06h0M343.6 902.06h0M358.28 902.06h0M372.95 902.06h0M387.63 902.06h0M446.33 902.06h0M461.01 902.06h0M475.69 902.06h0M490.36 902.06h0M505.04 902.06h0M519.71 902.06h0M534.39 902.06h0M549.07 902.06h0M563.74 902.06h0M578.42 902.06h0M593.09 902.06h0M607.77 902.06h0M622.45 902.06h0M637.12 902.06h0M651.8 902.06h0M666.47 902.06h0M681.15 902.06h0M695.83 902.06h0M710.5 902.06h0M725.18 902.06h0M739.85 902.06h0M754.53 902.06h0M769.21 902.06h0M783.88 902.06h0M798.56 902.06h0M813.23 902.06h0M827.91 902.06h0M842.59 902.06h0M857.26 902.06h0M871.94 902.06h0M886.61 902.06h0M901.29 902.06h0M915.97 902.06h0M930.64 902.06h0M945.32 902.06h0M959.99 902.06h0M974.67 902.06h0M989.35 902.06h0M1004.02 902.06h0M1048.05 902.06h0M1062.73 902.06h0M1077.4 902.06h0M1092.08 902.06h0M1106.75 902.06h0M1121.43 902.06h0M1136.11 902.06h0M1150.78 902.06h0M1165.46 902.06h0M1180.13 902.06h0M1194.81 902.06h0M1209.49 902.06h0M1224.16 902.06h0M1238.84 902.06h0M1253.51 902.06h0M1268.19 902.06h0M1282.87 902.06h0M1297.54 902.06h0M1312.22 902.06h0M1326.89 902.06h0M1341.57 902.06h0M1356.25 902.06h0M1370.92 902.06h0M1385.6 902.06h0M1400.27 902.06h0M1414.95 902.06h0M1429.63 902.06h0M1444.3 902.06h0M1458.98 902.06h0M1473.65 902.06h0M1488.33 902.06h0M1503.01 902.06h0M1517.68 902.06h0M1532.36 902.06h0M1547.03 902.06h0M138.14 919.67h0M152.81 919.67h0M167.49 919.67h0M182.17 919.67h0M196.84 919.67h0M211.52 919.67h0M226.19 919.67h0M240.87 919.67h0M270.22 919.67h0M284.9 919.67h0M299.57 919.67h0M314.25 919.67h0M328.93 919.67h0M343.6 919.67h0M358.28 919.67h0M372.95 919.67h0M387.63 919.67h0M431.66 919.67h0M446.33 919.67h0M461.01 919.67h0M475.69 919.67h0M490.36 919.67h0M505.04 919.67h0M519.71 919.67h0M534.39 919.67h0M549.07 919.67h0M563.74 919.67h0M578.42 919.67h0M593.09 919.67h0M607.77 919.67h0M622.45 919.67h0M637.12 919.67h0M651.8 919.67h0M666.47 919.67h0M681.15 919.67h0M695.83 919.67h0M710.5 919.67h0M725.18 919.67h0M739.85 919.67h0M754.53 919.67h0M769.21 919.67h0M783.88 919.67h0M798.56 919.67h0M813.23 919.67h0M827.91 919.67h0M842.59 919.67h0M857.26 919.67h0M871.94 919.67h0M886.61 919.67h0M901.29 919.67h0M915.97 919.67h0M930.64 919.67h0M945.32 919.67h0M959.99 919.67h0M974.67 919.67h0M989.35 919.67h0M1004.02 919.67h0M1018.7 919.67h0M1033.37 919.67h0M1048.05 919.67h0M1062.73 919.67h0M1077.4 919.67h0M1092.08 919.67h0M1106.75 919.67h0M1121.43 919.67h0M1136.11 919.67h0M1150.78 919.67h0M1165.46 919.67h0M1180.13 919.67h0M1194.81 919.67h0M1209.49 919.67h0M1224.16 919.67h0M1238.84 919.67h0M1253.51 919.67h0M1268.19 919.67h0M1282.87 919.67h0M1297.54 919.67h0M1312.22 919.67h0M1326.89 919.67h0M1341.57 919.67h0M1356.25 919.67h0M1370.92 919.67h0M1385.6 919.67h0M1400.27 919.67h0M1414.95 919.67h0M1429.63 919.67h0M1444.3 919.67h0M1458.98 919.67h0M1473.65 919.67h0M1488.33 919.67h0M1503.01 919.67h0M1517.68 919.67h0M1532.36 919.67h0M1547.03 919.67h0M138.14 937.28h0M152.81 937.28h0M167.49 937.28h0M182.17 937.28h0M196.84 937.28h0M211.52 937.28h0M226.19 937.28h0M240.87 937.28h0M255.55 937.28h0M270.22 937.28h0M284.9 937.28h0M299.57 937.28h0M314.25 937.28h0M328.93 937.28h0M343.6 937.28h0M358.28 937.28h0M372.95 937.28h0M387.63 937.28h0M416.98 937.28h0M446.33 937.28h0M461.01 937.28h0M475.69 937.28h0M490.36 937.28h0M505.04 937.28h0M519.71 937.28h0M534.39 937.28h0M549.07 937.28h0M563.74 937.28h0M578.42 937.28h0M593.09 937.28h0M607.77 937.28h0M622.45 937.28h0M637.12 937.28h0M651.8 937.28h0M666.47 937.28h0M681.15 937.28h0M695.83 937.28h0M710.5 937.28h0M725.18 937.28h0M739.85 937.28h0M754.53 937.28h0M769.21 937.28h0M783.88 937.28h0M798.56 937.28h0M813.23 937.28h0M827.91 937.28h0M842.59 937.28h0M857.26 937.28h0M871.94 937.28h0M886.61 937.28h0M901.29 937.28h0M915.97 937.28h0M930.64 937.28h0M945.32 937.28h0M959.99 937.28h0M974.67 937.28h0M989.35 937.28h0M1004.02 937.28h0M1077.4 937.28h0M1092.08 937.28h0M1121.43 937.28h0M1136.11 937.28h0M1150.78 937.28h0M1165.46 937.28h0M1180.13 937.28h0M1194.81 937.28h0M1209.49 937.28h0M1238.84 937.28h0M1253.51 937.28h0M1268.19 937.28h0M1282.87 937.28h0M1297.54 937.28h0M1312.22 937.28h0M1326.89 937.28h0M1341.57 937.28h0M1356.25 937.28h0M1370.92 937.28h0M1400.27 937.28h0M1414.95 937.28h0M1429.63 937.28h0M1444.3 937.28h0M1488.33 937.28h0M1503.01 937.28h0M1532.36 937.28h0M1547.03 937.28h0M138.14 954.89h0M152.81 954.89h0M167.49 954.89h0M182.17 954.89h0M196.84 954.89h0M211.52 954.89h0M226.19 954.89h0M240.87 954.89h0M270.22 954.89h0M284.9 954.89h0M299.57 954.89h0M314.25 954.89h0M328.93 954.89h0M343.6 954.89h0M358.28 954.89h0M372.95 954.89h0M387.63 954.89h0M402.31 954.89h0M416.98 954.89h0M431.66 954.89h0M446.33 954.89h0M461.01 954.89h0M475.69 954.89h0M490.36 954.89h0M505.04 954.89h0M519.71 954.89h0M534.39 954.89h0M549.07 954.89h0M563.74 954.89h0M578.42 954.89h0M593.09 954.89h0M607.77 954.89h0M622.45 954.89h0M637.12 954.89h0M651.8 954.89h0M666.47 954.89h0M681.15 954.89h0M695.83 954.89h0M710.5 954.89h0M725.18 954.89h0M739.85 954.89h0M754.53 954.89h0M769.21 954.89h0M783.88 954.89h0M798.56 954.89h0M813.23 954.89h0M827.91 954.89h0M842.59 954.89h0M857.26 954.89h0M871.94 954.89h0M886.61 954.89h0M901.29 954.89h0M915.97 954.89h0M930.64 954.89h0M945.32 954.89h0M959.99 954.89h0M974.67 954.89h0M989.35 954.89h0M1004.02 954.89h0M1048.05 954.89h0M1077.4 954.89h0M1092.08 954.89h0M1106.75 954.89h0M1121.43 954.89h0M1136.11 954.89h0M1150.78 954.89h0M1165.46 954.89h0M1180.13 954.89h0M1194.81 954.89h0M1209.49 954.89h0M1224.16 954.89h0M1238.84 954.89h0M1253.51 954.89h0M1268.19 954.89h0M1282.87 954.89h0M1297.54 954.89h0M1312.22 954.89h0M1326.89 954.89h0M1341.57 954.89h0M1356.25 954.89h0M1370.92 954.89h0M1400.27 954.89h0M1414.95 954.89h0M1429.63 954.89h0M1444.3 954.89h0M1458.98 954.89h0M1473.65 954.89h0M1488.33 954.89h0M1503.01 954.89h0M1517.68 954.89h0M1532.36 954.89h0M1547.03 954.89h0M138.14 972.5h0M152.81 972.5h0M167.49 972.5h0M182.17 972.5h0M196.84 972.5h0M211.52 972.5h0M226.19 972.5h0M240.87 972.5h0M270.22 972.5h0M284.9 972.5h0M299.57 972.5h0M314.25 972.5h0M328.93 972.5h0M343.6 972.5h0M358.28 972.5h0M372.95 972.5h0M387.63 972.5h0M446.33 972.5h0M461.01 972.5h0M475.69 972.5h0M490.36 972.5h0M505.04 972.5h0M519.71 972.5h0M534.39 972.5h0M549.07 972.5h0M563.74 972.5h0M578.42 972.5h0M593.09 972.5h0M607.77 972.5h0M622.45 972.5h0M637.12 972.5h0M651.8 972.5h0M666.47 972.5h0M681.15 972.5h0M695.83 972.5h0M710.5 972.5h0M725.18 972.5h0M739.85 972.5h0M754.53 972.5h0M769.21 972.5h0M783.88 972.5h0M798.56 972.5h0M813.23 972.5h0M827.91 972.5h0M842.59 972.5h0M857.26 972.5h0M871.94 972.5h0M886.61 972.5h0M901.29 972.5h0M915.97 972.5h0M930.64 972.5h0M945.32 972.5h0M959.99 972.5h0M974.67 972.5h0M989.35 972.5h0M1004.02 972.5h0M1048.05 972.5h0M1062.73 972.5h0M1077.4 972.5h0M1092.08 972.5h0M1106.75 972.5h0M1121.43 972.5h0M1136.11 972.5h0M1150.78 972.5h0M1165.46 972.5h0M1180.13 972.5h0M1194.81 972.5h0M1209.49 972.5h0M1224.16 972.5h0M1238.84 972.5h0M1253.51 972.5h0M1268.19 972.5h0M1282.87 972.5h0M1297.54 972.5h0M1312.22 972.5h0M1326.89 972.5h0M1341.57 972.5h0M1356.25 972.5h0M1370.92 972.5h0M1385.6 972.5h0M1400.27 972.5h0M1414.95 972.5h0M1429.63 972.5h0M1444.3 972.5h0M1458.98 972.5h0M1473.65 972.5h0M1488.33 972.5h0M1503.01 972.5h0M1517.68 972.5h0M1532.36 972.5h0M1547.03 972.5h0M138.14 990.1h0M152.81 990.1h0M167.49 990.1h0M211.52 990.1h0M226.19 990.1h0M240.87 990.1h0M284.9 990.1h0M299.57 990.1h0M314.25 990.1h0M328.93 990.1h0M343.6 990.1h0M358.28 990.1h0M372.95 990.1h0M387.63 990.1h0M402.31 990.1h0M416.98 990.1h0M431.66 990.1h0M446.33 990.1h0M461.01 990.1h0M475.69 990.1h0M490.36 990.1h0M505.04 990.1h0M519.71 990.1h0M534.39 990.1h0M549.07 990.1h0M563.74 990.1h0M578.42 990.1h0M593.09 990.1h0M607.77 990.1h0M622.45 990.1h0M637.12 990.1h0M651.8 990.1h0M666.47 990.1h0M681.15 990.1h0M695.83 990.1h0M710.5 990.1h0M725.18 990.1h0M739.85 990.1h0M754.53 990.1h0M769.21 990.1h0M783.88 990.1h0M798.56 990.1h0M813.23 990.1h0M827.91 990.1h0M842.59 990.1h0M857.26 990.1h0M871.94 990.1h0M886.61 990.1h0M901.29 990.1h0M915.97 990.1h0M930.64 990.1h0M945.32 990.1h0M959.99 990.1h0M974.67 990.1h0M1004.02 990.1h0M1048.05 990.1h0M1062.73 990.1h0M1077.4 990.1h0M1092.08 990.1h0M1106.75 990.1h0M1121.43 990.1h0M1136.11 990.1h0M1150.78 990.1h0M1165.46 990.1h0M1180.13 990.1h0M1194.81 990.1h0M1209.49 990.1h0M1224.16 990.1h0M1238.84 990.1h0M1253.51 990.1h0M1268.19 990.1h0M1282.87 990.1h0M1297.54 990.1h0M1312.22 990.1h0M1326.89 990.1h0M1341.57 990.1h0M1356.25 990.1h0M1370.92 990.1h0M1400.27 990.1h0M1414.95 990.1h0M1429.63 990.1h0M1444.3 990.1h0M1458.98 990.1h0M1473.65 990.1h0M1488.33 990.1h0M1503.01 990.1h0M1517.68 990.1h0M1532.36 990.1h0M1547.03 990.1h0M138.14 1007.71h0M152.81 1007.71h0M167.49 1007.71h0M182.17 1007.71h0M196.84 1007.71h0M211.52 1007.71h0M226.19 1007.71h0M240.87 1007.71h0M255.55 1007.71h0M270.22 1007.71h0M284.9 1007.71h0M299.57 1007.71h0M314.25 1007.71h0M328.93 1007.71h0M343.6 1007.71h0M358.28 1007.71h0M372.95 1007.71h0M387.63 1007.71h0M416.98 1007.71h0M446.33 1007.71h0M461.01 1007.71h0M475.69 1007.71h0M490.36 1007.71h0M505.04 1007.71h0M519.71 1007.71h0M534.39 1007.71h0M549.07 1007.71h0M563.74 1007.71h0M578.42 1007.71h0M593.09 1007.71h0M607.77 1007.71h0M622.45 1007.71h0M637.12 1007.71h0M651.8 1007.71h0M666.47 1007.71h0M681.15 1007.71h0M695.83 1007.71h0M710.5 1007.71h0M725.18 1007.71h0M739.85 1007.71h0M754.53 1007.71h0M769.21 1007.71h0M783.88 1007.71h0M798.56 1007.71h0M813.23 1007.71h0M827.91 1007.71h0M842.59 1007.71h0M857.26 1007.71h0M871.94 1007.71h0M886.61 1007.71h0M901.29 1007.71h0M915.97 1007.71h0M930.64 1007.71h0M945.32 1007.71h0M959.99 1007.71h0M974.67 1007.71h0M989.35 1007.71h0M1004.02 1007.71h0M1048.05 1007.71h0M1077.4 1007.71h0M1092.08 1007.71h0M1106.75 1007.71h0M1121.43 1007.71h0M1136.11 1007.71h0M1150.78 1007.71h0M1165.46 1007.71h0M1180.13 1007.71h0M1194.81 1007.71h0M1209.49 1007.71h0M1224.16 1007.71h0M1238.84 1007.71h0M1253.51 1007.71h0M1268.19 1007.71h0M1282.87 1007.71h0M1297.54 1007.71h0M1312.22 1007.71h0M1326.89 1007.71h0M1341.57 1007.71h0M1356.25 1007.71h0M1370.92 1007.71h0M1400.27 1007.71h0M1414.95 1007.71h0M1429.63 1007.71h0M1444.3 1007.71h0M1458.98 1007.71h0M1473.65 1007.71h0M1488.33 1007.71h0M1503.01 1007.71h0M1532.36 1007.71h0M1547.03 1007.71h0M138.14 1025.32h0M182.17 1025.32h0M196.84 1025.32h0M211.52 1025.32h0M226.19 1025.32h0M240.87 1025.32h0M270.22 1025.32h0M284.9 1025.32h0M299.57 1025.32h0M314.25 1025.32h0M328.93 1025.32h0M343.6 1025.32h0M358.28 1025.32h0M372.95 1025.32h0M387.63 1025.32h0M402.31 1025.32h0M446.33 1025.32h0M461.01 1025.32h0M475.69 1025.32h0M490.36 1025.32h0M519.71 1025.32h0M534.39 1025.32h0M549.07 1025.32h0M563.74 1025.32h0M578.42 1025.32h0M593.09 1025.32h0M607.77 1025.32h0M622.45 1025.32h0M637.12 1025.32h0M651.8 1025.32h0M666.47 1025.32h0M681.15 1025.32h0M695.83 1025.32h0M710.5 1025.32h0M725.18 1025.32h0M739.85 1025.32h0M754.53 1025.32h0M769.21 1025.32h0M783.88 1025.32h0M798.56 1025.32h0M813.23 1025.32h0M827.91 1025.32h0M842.59 1025.32h0M857.26 1025.32h0M871.94 1025.32h0M886.61 1025.32h0M901.29 1025.32h0M915.97 1025.32h0M930.64 1025.32h0M945.32 1025.32h0M959.99 1025.32h0M974.67 1025.32h0M1004.02 1025.32h0M1077.4 1025.32h0M1136.11 1025.32h0M1165.46 1025.32h0M1180.13 1025.32h0M1194.81 1025.32h0M1209.49 1025.32h0M1224.16 1025.32h0M1253.51 1025.32h0M1268.19 1025.32h0M1282.87 1025.32h0M1312.22 1025.32h0M1326.89 1025.32h0M1341.57 1025.32h0M1356.25 1025.32h0M1370.92 1025.32h0M1385.6 1025.32h0M1400.27 1025.32h0M1414.95 1025.32h0M1429.63 1025.32h0M1444.3 1025.32h0M1488.33 1025.32h0M1503.01 1025.32h0M1517.68 1025.32h0M1547.03 1025.32h0M138.14 1042.93h0M167.49 1042.93h0M182.17 1042.93h0M196.84 1042.93h0M226.19 1042.93h0M240.87 1042.93h0M284.9 1042.93h0M299.57 1042.93h0M314.25 1042.93h0M328.93 1042.93h0M343.6 1042.93h0M358.28 1042.93h0M372.95 1042.93h0M387.63 1042.93h0M446.33 1042.93h0M461.01 1042.93h0M475.69 1042.93h0M490.36 1042.93h0M519.71 1042.93h0M534.39 1042.93h0M549.07 1042.93h0M563.74 1042.93h0M578.42 1042.93h0M593.09 1042.93h0M607.77 1042.93h0M622.45 1042.93h0M637.12 1042.93h0M651.8 1042.93h0M666.47 1042.93h0M681.15 1042.93h0M695.83 1042.93h0M710.5 1042.93h0M725.18 1042.93h0M739.85 1042.93h0M754.53 1042.93h0M769.21 1042.93h0M783.88 1042.93h0M798.56 1042.93h0M813.23 1042.93h0M827.91 1042.93h0M842.59 1042.93h0M857.26 1042.93h0M871.94 1042.93h0M886.61 1042.93h0M901.29 1042.93h0M915.97 1042.93h0M930.64 1042.93h0M945.32 1042.93h0M959.99 1042.93h0M974.67 1042.93h0M989.35 1042.93h0M1004.02 1042.93h0M1018.7 1042.93h0M1033.37 1042.93h0M1048.05 1042.93h0M1077.4 1042.93h0M1121.43 1042.93h0M1136.11 1042.93h0M1165.46 1042.93h0M1180.13 1042.93h0M1194.81 1042.93h0M1209.49 1042.93h0M1224.16 1042.93h0M1238.84 1042.93h0M1253.51 1042.93h0M1268.19 1042.93h0M1282.87 1042.93h0M1297.54 1042.93h0M1312.22 1042.93h0M1326.89 1042.93h0M1341.57 1042.93h0M1356.25 1042.93h0M1370.92 1042.93h0M1385.6 1042.93h0M1400.27 1042.93h0M1414.95 1042.93h0M1429.63 1042.93h0M1444.3 1042.93h0M1458.98 1042.93h0M1473.65 1042.93h0M1488.33 1042.93h0M1503.01 1042.93h0M1517.68 1042.93h0M1532.36 1042.93h0M1547.03 1042.93h0M138.14 1060.54h0M152.81 1060.54h0M167.49 1060.54h0M182.17 1060.54h0M196.84 1060.54h0M226.19 1060.54h0M240.87 1060.54h0M314.25 1060.54h0M490.36 1060.54h0M549.07 1060.54h0M563.74 1060.54h0M578.42 1060.54h0M593.09 1060.54h0M607.77 1060.54h0M622.45 1060.54h0M637.12 1060.54h0M651.8 1060.54h0M666.47 1060.54h0M681.15 1060.54h0M695.83 1060.54h0M710.5 1060.54h0M739.85 1060.54h0M754.53 1060.54h0M769.21 1060.54h0M783.88 1060.54h0M798.56 1060.54h0M813.23 1060.54h0M827.91 1060.54h0M842.59 1060.54h0M857.26 1060.54h0M871.94 1060.54h0M886.61 1060.54h0M901.29 1060.54h0M915.97 1060.54h0M930.64 1060.54h0M945.32 1060.54h0M959.99 1060.54h0M974.67 1060.54h0M989.35 1060.54h0M1004.02 1060.54h0M1018.7 1060.54h0M1033.37 1060.54h0M1048.05 1060.54h0M1062.73 1060.54h0M1077.4 1060.54h0M1092.08 1060.54h0M1106.75 1060.54h0M1121.43 1060.54h0M1136.11 1060.54h0M1165.46 1060.54h0M1180.13 1060.54h0M1209.49 1060.54h0M1224.16 1060.54h0M1253.51 1060.54h0M1268.19 1060.54h0M1282.87 1060.54h0M1297.54 1060.54h0M1312.22 1060.54h0M1326.89 1060.54h0M1341.57 1060.54h0M1356.25 1060.54h0M1370.92 1060.54h0M1385.6 1060.54h0M1400.27 1060.54h0M1414.95 1060.54h0M1429.63 1060.54h0M1444.3 1060.54h0M1458.98 1060.54h0M1473.65 1060.54h0M1488.33 1060.54h0M1503.01 1060.54h0M1517.68 1060.54h0M1532.36 1060.54h0M1547.03 1060.54h0M182.17 1078.14h0M196.84 1078.14h0M211.52 1078.14h0M226.19 1078.14h0M240.87 1078.14h0M255.55 1078.14h0M270.22 1078.14h0M299.57 1078.14h0M314.25 1078.14h0M328.93 1078.14h0M387.63 1078.14h0M651.8 1078.14h0M666.47 1078.14h0M681.15 1078.14h0M725.18 1078.14h0M739.85 1078.14h0M754.53 1078.14h0M769.21 1078.14h0M783.88 1078.14h0M798.56 1078.14h0M813.23 1078.14h0M827.91 1078.14h0M842.59 1078.14h0M857.26 1078.14h0M871.94 1078.14h0M886.61 1078.14h0M901.29 1078.14h0M915.97 1078.14h0M930.64 1078.14h0M945.32 1078.14h0M1400.27 1078.14h0M138.14 1095.75h0M182.17 1095.75h0M196.84 1095.75h0M211.52 1095.75h0M226.19 1095.75h0M240.87 1095.75h0M270.22 1095.75h0M284.9 1095.75h0M299.57 1095.75h0M314.25 1095.75h0M328.93 1095.75h0M343.6 1095.75h0M358.28 1095.75h0M372.95 1095.75h0M387.63 1095.75h0M402.31 1095.75h0M461.01 1095.75h0M563.74 1095.75h0M578.42 1095.75h0M607.77 1095.75h0M622.45 1095.75h0M637.12 1095.75h0M651.8 1095.75h0M666.47 1095.75h0M681.15 1095.75h0M695.83 1095.75h0M725.18 1095.75h0M739.85 1095.75h0M769.21 1095.75h0M783.88 1095.75h0M798.56 1095.75h0M813.23 1095.75h0M827.91 1095.75h0M842.59 1095.75h0M857.26 1095.75h0M871.94 1095.75h0M886.61 1095.75h0M901.29 1095.75h0M915.97 1095.75h0M930.64 1095.75h0M138.14 1113.36h0M226.19 1113.36h0M284.9 1113.36h0M314.25 1113.36h0M343.6 1113.36h0M431.66 1113.36h0M446.33 1113.36h0M461.01 1113.36h0M475.69 1113.36h0M490.36 1113.36h0M505.04 1113.36h0M519.71 1113.36h0M534.39 1113.36h0M549.07 1113.36h0M563.74 1113.36h0M578.42 1113.36h0M593.09 1113.36h0M607.77 1113.36h0M622.45 1113.36h0M637.12 1113.36h0M651.8 1113.36h0M666.47 1113.36h0M681.15 1113.36h0M695.83 1113.36h0M710.5 1113.36h0M754.53 1113.36h0M769.21 1113.36h0M783.88 1113.36h0M798.56 1113.36h0M813.23 1113.36h0M827.91 1113.36h0M842.59 1113.36h0M857.26 1113.36h0M871.94 1113.36h0M886.61 1113.36h0M901.29 1113.36h0M915.97 1113.36h0M930.64 1113.36h0M945.32 1113.36h0M959.99 1113.36h0M974.67 1113.36h0M989.35 1113.36h0M1004.02 1113.36h0M1018.7 1113.36h0M1033.37 1113.36h0M1048.05 1113.36h0M1062.73 1113.36h0M1077.4 1113.36h0M1092.08 1113.36h0M1106.75 1113.36h0M1121.43 1113.36h0M1136.11 1113.36h0M1150.78 1113.36h0M1165.46 1113.36h0M1180.13 1113.36h0M1194.81 1113.36h0M1209.49 1113.36h0M1224.16 1113.36h0M1238.84 1113.36h0M1253.51 1113.36h0M1268.19 1113.36h0M1282.87 1113.36h0M1297.54 1113.36h0M1312.22 1113.36h0M1326.89 1113.36h0M1341.57 1113.36h0M1356.25 1113.36h0M1370.92 1113.36h0M1385.6 1113.36h0M1400.27 1113.36h0M1414.95 1113.36h0M1429.63 1113.36h0M1444.3 1113.36h0M1458.98 1113.36h0M1473.65 1113.36h0M1488.33 1113.36h0M1503.01 1113.36h0M1517.68 1113.36h0M1532.36 1113.36h0M1547.03 1113.36h0M138.14 1130.97h0M226.19 1130.97h0M284.9 1130.97h0M299.57 1130.97h0M314.25 1130.97h0M328.93 1130.97h0M343.6 1130.97h0M358.28 1130.97h0M372.95 1130.97h0M402.31 1130.97h0M416.98 1130.97h0M431.66 1130.97h0M446.33 1130.97h0M461.01 1130.97h0M475.69 1130.97h0M490.36 1130.97h0M505.04 1130.97h0M519.71 1130.97h0M534.39 1130.97h0M549.07 1130.97h0M563.74 1130.97h0M578.42 1130.97h0M593.09 1130.97h0M607.77 1130.97h0M622.45 1130.97h0M637.12 1130.97h0M651.8 1130.97h0M666.47 1130.97h0M681.15 1130.97h0M695.83 1130.97h0M710.5 1130.97h0M725.18 1130.97h0M754.53 1130.97h0M769.21 1130.97h0M783.88 1130.97h0M798.56 1130.97h0M813.23 1130.97h0M827.91 1130.97h0M842.59 1130.97h0M857.26 1130.97h0M871.94 1130.97h0M886.61 1130.97h0M901.29 1130.97h0M915.97 1130.97h0M930.64 1130.97h0M945.32 1130.97h0M959.99 1130.97h0M974.67 1130.97h0M1048.05 1130.97h0M1077.4 1130.97h0M1092.08 1130.97h0M1106.75 1130.97h0M1121.43 1130.97h0M1136.11 1130.97h0M1150.78 1130.97h0M1165.46 1130.97h0M1180.13 1130.97h0M1194.81 1130.97h0M1209.49 1130.97h0M1224.16 1130.97h0M1238.84 1130.97h0M1253.51 1130.97h0M1268.19 1130.97h0M1282.87 1130.97h0M1297.54 1130.97h0M1312.22 1130.97h0M1326.89 1130.97h0M1341.57 1130.97h0M1356.25 1130.97h0M1370.92 1130.97h0M1385.6 1130.97h0M1400.27 1130.97h0M1414.95 1130.97h0M1429.63 1130.97h0M1444.3 1130.97h0M1458.98 1130.97h0M1473.65 1130.97h0M1488.33 1130.97h0M1503.01 1130.97h0M1517.68 1130.97h0M1532.36 1130.97h0M1547.03 1130.97h0M138.14 1148.58h0M152.81 1148.58h0M167.49 1148.58h0M196.84 1148.58h0M226.19 1148.58h0M240.87 1148.58h0M284.9 1148.58h0M299.57 1148.58h0M314.25 1148.58h0M328.93 1148.58h0M343.6 1148.58h0M358.28 1148.58h0M372.95 1148.58h0M387.63 1148.58h0M431.66 1148.58h0M446.33 1148.58h0M461.01 1148.58h0M475.69 1148.58h0M490.36 1148.58h0M505.04 1148.58h0M519.71 1148.58h0M534.39 1148.58h0M549.07 1148.58h0M563.74 1148.58h0M578.42 1148.58h0M593.09 1148.58h0M607.77 1148.58h0M622.45 1148.58h0M637.12 1148.58h0M651.8 1148.58h0M666.47 1148.58h0M681.15 1148.58h0M695.83 1148.58h0M710.5 1148.58h0M725.18 1148.58h0M739.85 1148.58h0M754.53 1148.58h0M769.21 1148.58h0M783.88 1148.58h0M798.56 1148.58h0M813.23 1148.58h0M827.91 1148.58h0M842.59 1148.58h0M857.26 1148.58h0M871.94 1148.58h0M886.61 1148.58h0M901.29 1148.58h0M915.97 1148.58h0M930.64 1148.58h0M945.32 1148.58h0M959.99 1148.58h0M974.67 1148.58h0M989.35 1148.58h0M1004.02 1148.58h0M1018.7 1148.58h0M1033.37 1148.58h0M1048.05 1148.58h0M1062.73 1148.58h0M1077.4 1148.58h0M1092.08 1148.58h0M1106.75 1148.58h0M1121.43 1148.58h0M1136.11 1148.58h0M1150.78 1148.58h0M1165.46 1148.58h0M1180.13 1148.58h0M1194.81 1148.58h0M1209.49 1148.58h0M1224.16 1148.58h0M1238.84 1148.58h0M1253.51 1148.58h0M1268.19 1148.58h0M1282.87 1148.58h0M1297.54 1148.58h0M1312.22 1148.58h0M1326.89 1148.58h0M1341.57 1148.58h0M1356.25 1148.58h0M1370.92 1148.58h0M1385.6 1148.58h0M1400.27 1148.58h0M1414.95 1148.58h0M1429.63 1148.58h0M1444.3 1148.58h0M1458.98 1148.58h0M1473.65 1148.58h0M1488.33 1148.58h0M1503.01 1148.58h0M1517.68 1148.58h0M1532.36 1148.58h0M1547.03 1148.58h0M138.14 1166.18h0M152.81 1166.18h0M226.19 1166.18h0M240.87 1166.18h0M284.9 1166.18h0M299.57 1166.18h0M314.25 1166.18h0M328.93 1166.18h0M343.6 1166.18h0M358.28 1166.18h0M387.63 1166.18h0M431.66 1166.18h0M446.33 1166.18h0M461.01 1166.18h0M475.69 1166.18h0M490.36 1166.18h0M505.04 1166.18h0M519.71 1166.18h0M534.39 1166.18h0M549.07 1166.18h0M563.74 1166.18h0M578.42 1166.18h0M593.09 1166.18h0M607.77 1166.18h0M622.45 1166.18h0M637.12 1166.18h0M651.8 1166.18h0M666.47 1166.18h0M681.15 1166.18h0M695.83 1166.18h0M710.5 1166.18h0M725.18 1166.18h0M739.85 1166.18h0M754.53 1166.18h0M769.21 1166.18h0M783.88 1166.18h0M798.56 1166.18h0M813.23 1166.18h0M827.91 1166.18h0M842.59 1166.18h0M857.26 1166.18h0M871.94 1166.18h0M886.61 1166.18h0M901.29 1166.18h0M915.97 1166.18h0M930.64 1166.18h0M945.32 1166.18h0M959.99 1166.18h0M974.67 1166.18h0M989.35 1166.18h0M1004.02 1166.18h0M1018.7 1166.18h0M1033.37 1166.18h0M1048.05 1166.18h0M1062.73 1166.18h0M1077.4 1166.18h0M1092.08 1166.18h0M1106.75 1166.18h0M1121.43 1166.18h0M1136.11 1166.18h0M1150.78 1166.18h0M1165.46 1166.18h0M1180.13 1166.18h0M1194.81 1166.18h0M1209.49 1166.18h0M1224.16 1166.18h0M1238.84 1166.18h0M1253.51 1166.18h0M1268.19 1166.18h0M1282.87 1166.18h0M1297.54 1166.18h0M1312.22 1166.18h0M1326.89 1166.18h0M1341.57 1166.18h0M1356.25 1166.18h0M1370.92 1166.18h0M1385.6 1166.18h0M1400.27 1166.18h0M1414.95 1166.18h0M1429.63 1166.18h0M1444.3 1166.18h0M1458.98 1166.18h0M1473.65 1166.18h0M1488.33 1166.18h0M1503.01 1166.18h0M1517.68 1166.18h0M1532.36 1166.18h0M1547.03 1166.18h0M138.14 1183.79h0M152.81 1183.79h0M226.19 1183.79h0M240.87 1183.79h0M284.9 1183.79h0M299.57 1183.79h0M314.25 1183.79h0M328.93 1183.79h0M343.6 1183.79h0M358.28 1183.79h0M387.63 1183.79h0M431.66 1183.79h0M446.33 1183.79h0M461.01 1183.79h0M475.69 1183.79h0M490.36 1183.79h0M505.04 1183.79h0M519.71 1183.79h0M534.39 1183.79h0M549.07 1183.79h0M563.74 1183.79h0M578.42 1183.79h0M593.09 1183.79h0M607.77 1183.79h0M622.45 1183.79h0M637.12 1183.79h0M651.8 1183.79h0M666.47 1183.79h0M681.15 1183.79h0M695.83 1183.79h0M710.5 1183.79h0M725.18 1183.79h0M739.85 1183.79h0M754.53 1183.79h0M769.21 1183.79h0M783.88 1183.79h0M798.56 1183.79h0M813.23 1183.79h0M827.91 1183.79h0M842.59 1183.79h0M857.26 1183.79h0M871.94 1183.79h0M886.61 1183.79h0M901.29 1183.79h0M915.97 1183.79h0M930.64 1183.79h0M945.32 1183.79h0M959.99 1183.79h0M974.67 1183.79h0M989.35 1183.79h0M1004.02 1183.79h0M1018.7 1183.79h0M1033.37 1183.79h0M1048.05 1183.79h0M1062.73 1183.79h0M1077.4 1183.79h0M1092.08 1183.79h0M1106.75 1183.79h0M1121.43 1183.79h0M1136.11 1183.79h0M1150.78 1183.79h0M1165.46 1183.79h0M1180.13 1183.79h0M1194.81 1183.79h0M1209.49 1183.79h0M1224.16 1183.79h0M1238.84 1183.79h0M1253.51 1183.79h0M1268.19 1183.79h0M1282.87 1183.79h0M1297.54 1183.79h0M1312.22 1183.79h0M1326.89 1183.79h0M1341.57 1183.79h0M1356.25 1183.79h0M1370.92 1183.79h0M1385.6 1183.79h0M1400.27 1183.79h0M1414.95 1183.79h0M1429.63 1183.79h0M1444.3 1183.79h0M1458.98 1183.79h0M1473.65 1183.79h0M1488.33 1183.79h0M1503.01 1183.79h0M1517.68 1183.79h0M1532.36 1183.79h0M1547.03 1183.79h0M138.14 1201.4h0M152.81 1201.4h0M167.49 1201.4h0M226.19 1201.4h0M240.87 1201.4h0M284.9 1201.4h0M299.57 1201.4h0M314.25 1201.4h0M328.93 1201.4h0M343.6 1201.4h0M358.28 1201.4h0M372.95 1201.4h0M387.63 1201.4h0M402.31 1201.4h0M416.98 1201.4h0M431.66 1201.4h0M446.33 1201.4h0M461.01 1201.4h0M475.69 1201.4h0M490.36 1201.4h0M505.04 1201.4h0M519.71 1201.4h0M534.39 1201.4h0M549.07 1201.4h0M563.74 1201.4h0M578.42 1201.4h0M593.09 1201.4h0M607.77 1201.4h0M622.45 1201.4h0M637.12 1201.4h0M651.8 1201.4h0M666.47 1201.4h0M681.15 1201.4h0M695.83 1201.4h0M710.5 1201.4h0M725.18 1201.4h0M754.53 1201.4h0M769.21 1201.4h0M783.88 1201.4h0M798.56 1201.4h0M813.23 1201.4h0M827.91 1201.4h0M842.59 1201.4h0M857.26 1201.4h0M871.94 1201.4h0M886.61 1201.4h0M901.29 1201.4h0M915.97 1201.4h0M930.64 1201.4h0M945.32 1201.4h0M959.99 1201.4h0M974.67 1201.4h0M989.35 1201.4h0M1004.02 1201.4h0M1018.7 1201.4h0M1033.37 1201.4h0M1048.05 1201.4h0M1062.73 1201.4h0M1077.4 1201.4h0M1092.08 1201.4h0M1106.75 1201.4h0M1121.43 1201.4h0M1136.11 1201.4h0M1150.78 1201.4h0M1165.46 1201.4h0M1180.13 1201.4h0M1194.81 1201.4h0M1209.49 1201.4h0M1224.16 1201.4h0M1238.84 1201.4h0M1253.51 1201.4h0M1268.19 1201.4h0M1282.87 1201.4h0M1297.54 1201.4h0M1312.22 1201.4h0M1326.89 1201.4h0M1341.57 1201.4h0M1356.25 1201.4h0M1370.92 1201.4h0M1385.6 1201.4h0M1400.27 1201.4h0M1414.95 1201.4h0M1429.63 1201.4h0M1444.3 1201.4h0M1458.98 1201.4h0M1473.65 1201.4h0M1488.33 1201.4h0M1503.01 1201.4h0M1517.68 1201.4h0M1532.36 1201.4h0M1547.03 1201.4h0M138.14 1219.01h0M152.81 1219.01h0M167.49 1219.01h0M226.19 1219.01h0M240.87 1219.01h0M284.9 1219.01h0M299.57 1219.01h0M314.25 1219.01h0M328.93 1219.01h0M343.6 1219.01h0M358.28 1219.01h0M372.95 1219.01h0M387.63 1219.01h0M402.31 1219.01h0M416.98 1219.01h0M431.66 1219.01h0M446.33 1219.01h0M461.01 1219.01h0M475.69 1219.01h0M490.36 1219.01h0M505.04 1219.01h0M519.71 1219.01h0M534.39 1219.01h0M549.07 1219.01h0M563.74 1219.01h0M578.42 1219.01h0M593.09 1219.01h0M607.77 1219.01h0M622.45 1219.01h0M637.12 1219.01h0M651.8 1219.01h0M666.47 1219.01h0M681.15 1219.01h0M695.83 1219.01h0M710.5 1219.01h0M725.18 1219.01h0M754.53 1219.01h0M769.21 1219.01h0M783.88 1219.01h0M798.56 1219.01h0M813.23 1219.01h0M827.91 1219.01h0M842.59 1219.01h0M857.26 1219.01h0M871.94 1219.01h0M886.61 1219.01h0M901.29 1219.01h0M915.97 1219.01h0M930.64 1219.01h0M945.32 1219.01h0M959.99 1219.01h0M974.67 1219.01h0M989.35 1219.01h0M1004.02 1219.01h0M1018.7 1219.01h0M1033.37 1219.01h0M1048.05 1219.01h0M1062.73 1219.01h0M1077.4 1219.01h0M1092.08 1219.01h0M1106.75 1219.01h0M1121.43 1219.01h0M1136.11 1219.01h0M1150.78 1219.01h0M1165.46 1219.01h0M1180.13 1219.01h0M1194.81 1219.01h0M1209.49 1219.01h0M1224.16 1219.01h0M1238.84 1219.01h0M1253.51 1219.01h0M1268.19 1219.01h0M1282.87 1219.01h0M1297.54 1219.01h0M1312.22 1219.01h0M1326.89 1219.01h0M1341.57 1219.01h0M1356.25 1219.01h0M1370.92 1219.01h0M1385.6 1219.01h0M1400.27 1219.01h0M1414.95 1219.01h0M1429.63 1219.01h0M1444.3 1219.01h0M1458.98 1219.01h0M1473.65 1219.01h0M1488.33 1219.01h0M1503.01 1219.01h0M1517.68 1219.01h0M1532.36 1219.01h0M1547.03 1219.01h0M138.14 1236.62h0M226.19 1236.62h0M240.87 1236.62h0M284.9 1236.62h0M299.57 1236.62h0M314.25 1236.62h0M328.93 1236.62h0M343.6 1236.62h0M358.28 1236.62h0M372.95 1236.62h0M387.63 1236.62h0M402.31 1236.62h0M416.98 1236.62h0M431.66 1236.62h0M446.33 1236.62h0M461.01 1236.62h0M475.69 1236.62h0M490.36 1236.62h0M505.04 1236.62h0M519.71 1236.62h0M534.39 1236.62h0M549.07 1236.62h0M563.74 1236.62h0M578.42 1236.62h0M593.09 1236.62h0M607.77 1236.62h0M622.45 1236.62h0M637.12 1236.62h0M651.8 1236.62h0M666.47 1236.62h0M681.15 1236.62h0M695.83 1236.62h0M710.5 1236.62h0M725.18 1236.62h0M754.53 1236.62h0M769.21 1236.62h0M783.88 1236.62h0M798.56 1236.62h0M813.23 1236.62h0M827.91 1236.62h0M842.59 1236.62h0M857.26 1236.62h0M871.94 1236.62h0M886.61 1236.62h0M901.29 1236.62h0M915.97 1236.62h0M930.64 1236.62h0M945.32 1236.62h0M959.99 1236.62h0M974.67 1236.62h0M989.35 1236.62h0M1004.02 1236.62h0M1018.7 1236.62h0M1033.37 1236.62h0M1048.05 1236.62h0M1062.73 1236.62h0M1077.4 1236.62h0M1092.08 1236.62h0M1106.75 1236.62h0M1121.43 1236.62h0M1136.11 1236.62h0M1150.78 1236.62h0M1165.46 1236.62h0M1180.13 1236.62h0M1194.81 1236.62h0M1209.49 1236.62h0M1224.16 1236.62h0M1238.84 1236.62h0M1253.51 1236.62h0M1268.19 1236.62h0M1282.87 1236.62h0M1297.54 1236.62h0M1312.22 1236.62h0M1326.89 1236.62h0M1341.57 1236.62h0M1356.25 1236.62h0M1370.92 1236.62h0M1385.6 1236.62h0M1400.27 1236.62h0M1414.95 1236.62h0M1429.63 1236.62h0M1444.3 1236.62h0M1458.98 1236.62h0M1473.65 1236.62h0M1488.33 1236.62h0M1503.01 1236.62h0M1517.68 1236.62h0M1532.36 1236.62h0M1547.03 1236.62h0M138.14 1254.22h0M152.81 1254.22h0M226.19 1254.22h0M240.87 1254.22h0M284.9 1254.22h0M314.25 1254.22h0M343.6 1254.22h0M358.28 1254.22h0M387.63 1254.22h0M416.98 1254.22h0M431.66 1254.22h0M446.33 1254.22h0M461.01 1254.22h0M475.69 1254.22h0M490.36 1254.22h0M505.04 1254.22h0M519.71 1254.22h0M534.39 1254.22h0M549.07 1254.22h0M563.74 1254.22h0M578.42 1254.22h0M593.09 1254.22h0M607.77 1254.22h0M622.45 1254.22h0M637.12 1254.22h0M651.8 1254.22h0M666.47 1254.22h0M681.15 1254.22h0M695.83 1254.22h0M710.5 1254.22h0M754.53 1254.22h0M769.21 1254.22h0M783.88 1254.22h0M798.56 1254.22h0M813.23 1254.22h0M827.91 1254.22h0M842.59 1254.22h0M857.26 1254.22h0M871.94 1254.22h0M886.61 1254.22h0M901.29 1254.22h0M915.97 1254.22h0M930.64 1254.22h0M945.32 1254.22h0M959.99 1254.22h0M974.67 1254.22h0M1004.02 1254.22h0M1018.7 1254.22h0M1048.05 1254.22h0M1062.73 1254.22h0M1077.4 1254.22h0M1092.08 1254.22h0M1106.75 1254.22h0M1121.43 1254.22h0M1136.11 1254.22h0M1150.78 1254.22h0M1165.46 1254.22h0M1180.13 1254.22h0M1194.81 1254.22h0M1209.49 1254.22h0M1224.16 1254.22h0M1238.84 1254.22h0M1253.51 1254.22h0M1268.19 1254.22h0M1282.87 1254.22h0M1297.54 1254.22h0M1312.22 1254.22h0M1326.89 1254.22h0M1341.57 1254.22h0M1356.25 1254.22h0M1370.92 1254.22h0M1400.27 1254.22h0M1414.95 1254.22h0M1429.63 1254.22h0M1444.3 1254.22h0M1458.98 1254.22h0M1473.65 1254.22h0M1488.33 1254.22h0M1503.01 1254.22h0M1517.68 1254.22h0M1532.36 1254.22h0M1547.03 1254.22h0M138.14 1271.83h0M226.19 1271.83h0M284.9 1271.83h0M299.57 1271.83h0M314.25 1271.83h0M328.93 1271.83h0M343.6 1271.83h0M402.31 1271.83h0M431.66 1271.83h0M446.33 1271.83h0M461.01 1271.83h0M475.69 1271.83h0M490.36 1271.83h0M505.04 1271.83h0M519.71 1271.83h0M534.39 1271.83h0M549.07 1271.83h0M563.74 1271.83h0M578.42 1271.83h0M593.09 1271.83h0M607.77 1271.83h0M622.45 1271.83h0M637.12 1271.83h0M651.8 1271.83h0M666.47 1271.83h0M681.15 1271.83h0M695.83 1271.83h0M710.5 1271.83h0M725.18 1271.83h0M754.53 1271.83h0M769.21 1271.83h0M783.88 1271.83h0M798.56 1271.83h0M813.23 1271.83h0M827.91 1271.83h0M842.59 1271.83h0M857.26 1271.83h0M871.94 1271.83h0M886.61 1271.83h0M901.29 1271.83h0M915.97 1271.83h0M930.64 1271.83h0M945.32 1271.83h0M959.99 1271.83h0M974.67 1271.83h0M989.35 1271.83h0M1004.02 1271.83h0M1018.7 1271.83h0M1033.37 1271.83h0M1048.05 1271.83h0M1062.73 1271.83h0M1077.4 1271.83h0M1092.08 1271.83h0M1106.75 1271.83h0M1121.43 1271.83h0M1136.11 1271.83h0M1150.78 1271.83h0M1165.46 1271.83h0M1180.13 1271.83h0M1194.81 1271.83h0M1209.49 1271.83h0M1224.16 1271.83h0M1238.84 1271.83h0M1253.51 1271.83h0M1268.19 1271.83h0M1282.87 1271.83h0M1297.54 1271.83h0M1312.22 1271.83h0M1326.89 1271.83h0M1341.57 1271.83h0M1356.25 1271.83h0M1370.92 1271.83h0M1385.6 1271.83h0M1400.27 1271.83h0M1414.95 1271.83h0M1429.63 1271.83h0M1444.3 1271.83h0M1458.98 1271.83h0M1473.65 1271.83h0M1488.33 1271.83h0M1503.01 1271.83h0M1517.68 1271.83h0M1532.36 1271.83h0M1547.03 1271.83h0M138.14 1289.44h0M226.19 1289.44h0M284.9 1289.44h0M314.25 1289.44h0M328.93 1289.44h0M343.6 1289.44h0M402.31 1289.44h0M431.66 1289.44h0M446.33 1289.44h0M461.01 1289.44h0M475.69 1289.44h0M490.36 1289.44h0M505.04 1289.44h0M519.71 1289.44h0M534.39 1289.44h0M549.07 1289.44h0M563.74 1289.44h0M578.42 1289.44h0M593.09 1289.44h0M607.77 1289.44h0M622.45 1289.44h0M637.12 1289.44h0M651.8 1289.44h0M666.47 1289.44h0M681.15 1289.44h0M695.83 1289.44h0M710.5 1289.44h0M725.18 1289.44h0M754.53 1289.44h0M769.21 1289.44h0M783.88 1289.44h0M798.56 1289.44h0M813.23 1289.44h0M827.91 1289.44h0M842.59 1289.44h0M857.26 1289.44h0M871.94 1289.44h0M886.61 1289.44h0M901.29 1289.44h0M915.97 1289.44h0M930.64 1289.44h0M945.32 1289.44h0M959.99 1289.44h0M974.67 1289.44h0M989.35 1289.44h0M1004.02 1289.44h0M1018.7 1289.44h0M1033.37 1289.44h0M1048.05 1289.44h0M1062.73 1289.44h0M1077.4 1289.44h0M1092.08 1289.44h0M1106.75 1289.44h0M1121.43 1289.44h0M1136.11 1289.44h0M1150.78 1289.44h0M1165.46 1289.44h0M1180.13 1289.44h0M1194.81 1289.44h0M1209.49 1289.44h0M1224.16 1289.44h0M1238.84 1289.44h0M1253.51 1289.44h0M1268.19 1289.44h0M1282.87 1289.44h0M1297.54 1289.44h0M1312.22 1289.44h0M1326.89 1289.44h0M1341.57 1289.44h0M1356.25 1289.44h0M1370.92 1289.44h0M1385.6 1289.44h0M1400.27 1289.44h0M1414.95 1289.44h0M1429.63 1289.44h0M1444.3 1289.44h0M1458.98 1289.44h0M1473.65 1289.44h0M1488.33 1289.44h0M1503.01 1289.44h0M1517.68 1289.44h0M1532.36 1289.44h0M1547.03 1289.44h0M138.14 1307.05h0M226.19 1307.05h0M284.9 1307.05h0M431.66 1307.05h0M446.33 1307.05h0M461.01 1307.05h0M475.69 1307.05h0M490.36 1307.05h0M505.04 1307.05h0M519.71 1307.05h0M534.39 1307.05h0M549.07 1307.05h0M563.74 1307.05h0M578.42 1307.05h0M593.09 1307.05h0M607.77 1307.05h0M622.45 1307.05h0M637.12 1307.05h0M651.8 1307.05h0M666.47 1307.05h0M681.15 1307.05h0M695.83 1307.05h0M710.5 1307.05h0M754.53 1307.05h0M769.21 1307.05h0M783.88 1307.05h0M798.56 1307.05h0M813.23 1307.05h0M827.91 1307.05h0M842.59 1307.05h0M857.26 1307.05h0M871.94 1307.05h0M886.61 1307.05h0M901.29 1307.05h0M915.97 1307.05h0M930.64 1307.05h0M945.32 1307.05h0M959.99 1307.05h0M974.67 1307.05h0M989.35 1307.05h0M1004.02 1307.05h0M1018.7 1307.05h0M1033.37 1307.05h0M1048.05 1307.05h0M1062.73 1307.05h0M1077.4 1307.05h0M1092.08 1307.05h0M1106.75 1307.05h0M1121.43 1307.05h0M1136.11 1307.05h0M1150.78 1307.05h0M1165.46 1307.05h0M1180.13 1307.05h0M1194.81 1307.05h0M1209.49 1307.05h0M1224.16 1307.05h0M1238.84 1307.05h0M1253.51 1307.05h0M1268.19 1307.05h0M1282.87 1307.05h0M1297.54 1307.05h0M1312.22 1307.05h0M1326.89 1307.05h0M1341.57 1307.05h0M1356.25 1307.05h0M1370.92 1307.05h0M1385.6 1307.05h0M1400.27 1307.05h0M1414.95 1307.05h0M1429.63 1307.05h0M1444.3 1307.05h0M1458.98 1307.05h0M1473.65 1307.05h0M1488.33 1307.05h0M1503.01 1307.05h0M1517.68 1307.05h0M1532.36 1307.05h0M1547.03 1307.05h0M226.19 1324.66h0M284.9 1324.66h0M314.25 1324.66h0M416.98 1324.66h0M431.66 1324.66h0M446.33 1324.66h0M461.01 1324.66h0M475.69 1324.66h0M490.36 1324.66h0M505.04 1324.66h0M519.71 1324.66h0M534.39 1324.66h0M549.07 1324.66h0M563.74 1324.66h0M578.42 1324.66h0M593.09 1324.66h0M607.77 1324.66h0M622.45 1324.66h0M637.12 1324.66h0M651.8 1324.66h0M666.47 1324.66h0M681.15 1324.66h0M695.83 1324.66h0M710.5 1324.66h0M769.21 1324.66h0M783.88 1324.66h0M798.56 1324.66h0M813.23 1324.66h0M827.91 1324.66h0M842.59 1324.66h0M857.26 1324.66h0M871.94 1324.66h0M886.61 1324.66h0M901.29 1324.66h0M915.97 1324.66h0M930.64 1324.66h0M945.32 1324.66h0M959.99 1324.66h0M974.67 1324.66h0M1004.02 1324.66h0M1048.05 1324.66h0M1062.73 1324.66h0M1077.4 1324.66h0M1092.08 1324.66h0M1106.75 1324.66h0M1121.43 1324.66h0M1136.11 1324.66h0M1150.78 1324.66h0M1180.13 1324.66h0M1194.81 1324.66h0M1209.49 1324.66h0M1238.84 1324.66h0M1253.51 1324.66h0M1268.19 1324.66h0M1282.87 1324.66h0M1297.54 1324.66h0M1312.22 1324.66h0M1326.89 1324.66h0M1341.57 1324.66h0M1356.25 1324.66h0M1370.92 1324.66h0M1400.27 1324.66h0M1414.95 1324.66h0M1429.63 1324.66h0M1444.3 1324.66h0M1488.33 1324.66h0M226.19 1342.26h0M240.87 1342.26h0M284.9 1342.26h0M314.25 1342.26h0M416.98 1342.26h0M431.66 1342.26h0M446.33 1342.26h0M461.01 1342.26h0M475.69 1342.26h0M490.36 1342.26h0M505.04 1342.26h0M519.71 1342.26h0M534.39 1342.26h0M549.07 1342.26h0M563.74 1342.26h0M578.42 1342.26h0M593.09 1342.26h0M607.77 1342.26h0M622.45 1342.26h0M637.12 1342.26h0M651.8 1342.26h0M666.47 1342.26h0M681.15 1342.26h0M695.83 1342.26h0M710.5 1342.26h0M769.21 1342.26h0M783.88 1342.26h0M798.56 1342.26h0M813.23 1342.26h0M827.91 1342.26h0M842.59 1342.26h0M857.26 1342.26h0M871.94 1342.26h0M886.61 1342.26h0M901.29 1342.26h0M915.97 1342.26h0M930.64 1342.26h0M945.32 1342.26h0M959.99 1342.26h0M974.67 1342.26h0M1004.02 1342.26h0M1048.05 1342.26h0M1062.73 1342.26h0M1077.4 1342.26h0M1092.08 1342.26h0M1106.75 1342.26h0M1121.43 1342.26h0M1136.11 1342.26h0M1150.78 1342.26h0M1180.13 1342.26h0M1194.81 1342.26h0M1209.49 1342.26h0M1238.84 1342.26h0M1253.51 1342.26h0M1268.19 1342.26h0M1282.87 1342.26h0M1297.54 1342.26h0M1312.22 1342.26h0M1326.89 1342.26h0M1341.57 1342.26h0M1356.25 1342.26h0M1370.92 1342.26h0M1400.27 1342.26h0M1414.95 1342.26h0M1429.63 1342.26h0M1444.3 1342.26h0M1488.33 1342.26h0M138.14 1359.87h0M284.9 1359.87h0M431.66 1359.87h0M446.33 1359.87h0M461.01 1359.87h0M475.69 1359.87h0M490.36 1359.87h0M505.04 1359.87h0M519.71 1359.87h0M534.39 1359.87h0M549.07 1359.87h0M563.74 1359.87h0M578.42 1359.87h0M593.09 1359.87h0M607.77 1359.87h0M622.45 1359.87h0M637.12 1359.87h0M651.8 1359.87h0M666.47 1359.87h0M681.15 1359.87h0M695.83 1359.87h0M710.5 1359.87h0M798.56 1359.87h0M813.23 1359.87h0M827.91 1359.87h0M842.59 1359.87h0M857.26 1359.87h0M871.94 1359.87h0M886.61 1359.87h0M901.29 1359.87h0M930.64 1359.87h0M959.99 1359.87h0M974.67 1359.87h0M1048.05 1359.87h0M1062.73 1359.87h0M1077.4 1359.87h0M1092.08 1359.87h0M1106.75 1359.87h0M1121.43 1359.87h0M1136.11 1359.87h0M1150.78 1359.87h0M1165.46 1359.87h0M1180.13 1359.87h0M1194.81 1359.87h0M1209.49 1359.87h0M1224.16 1359.87h0M1238.84 1359.87h0M1253.51 1359.87h0M1268.19 1359.87h0M1282.87 1359.87h0M1312.22 1359.87h0M1326.89 1359.87h0M1341.57 1359.87h0M1356.25 1359.87h0M1370.92 1359.87h0M1400.27 1359.87h0M1414.95 1359.87h0M1429.63 1359.87h0M1444.3 1359.87h0M1488.33 1359.87h0M1517.68 1359.87h0M138.14 1377.48h0M226.19 1377.48h0M284.9 1377.48h0M314.25 1377.48h0M431.66 1377.48h0M446.33 1377.48h0M461.01 1377.48h0M475.69 1377.48h0M490.36 1377.48h0M505.04 1377.48h0M519.71 1377.48h0M534.39 1377.48h0M549.07 1377.48h0M563.74 1377.48h0M578.42 1377.48h0M593.09 1377.48h0M607.77 1377.48h0M622.45 1377.48h0M637.12 1377.48h0M651.8 1377.48h0M666.47 1377.48h0M681.15 1377.48h0M695.83 1377.48h0M710.5 1377.48h0M754.53 1377.48h0M769.21 1377.48h0M783.88 1377.48h0M798.56 1377.48h0M813.23 1377.48h0M827.91 1377.48h0M842.59 1377.48h0M857.26 1377.48h0M871.94 1377.48h0M886.61 1377.48h0M901.29 1377.48h0M915.97 1377.48h0M930.64 1377.48h0M945.32 1377.48h0M959.99 1377.48h0M974.67 1377.48h0M989.35 1377.48h0M1004.02 1377.48h0M1018.7 1377.48h0M1033.37 1377.48h0M1048.05 1377.48h0M1062.73 1377.48h0M1077.4 1377.48h0M1092.08 1377.48h0M1106.75 1377.48h0M1121.43 1377.48h0M1136.11 1377.48h0M1150.78 1377.48h0M1165.46 1377.48h0M1180.13 1377.48h0M1194.81 1377.48h0M1209.49 1377.48h0M1224.16 1377.48h0M1238.84 1377.48h0M1253.51 1377.48h0M1268.19 1377.48h0M1282.87 1377.48h0M1297.54 1377.48h0M1312.22 1377.48h0M1326.89 1377.48h0M1341.57 1377.48h0M1356.25 1377.48h0M1370.92 1377.48h0M1385.6 1377.48h0M1400.27 1377.48h0M1414.95 1377.48h0M1429.63 1377.48h0M1444.3 1377.48h0M1458.98 1377.48h0M1473.65 1377.48h0M1488.33 1377.48h0M1503.01 1377.48h0M1517.68 1377.48h0M1532.36 1377.48h0M1547.03 1377.48h0M138.14 1395.09h0M226.19 1395.09h0M284.9 1395.09h0M314.25 1395.09h0M343.6 1395.09h0M402.31 1395.09h0M416.98 1395.09h0M431.66 1395.09h0M446.33 1395.09h0M461.01 1395.09h0M475.69 1395.09h0M490.36 1395.09h0M505.04 1395.09h0M519.71 1395.09h0M534.39 1395.09h0M549.07 1395.09h0M563.74 1395.09h0M578.42 1395.09h0M593.09 1395.09h0M607.77 1395.09h0M622.45 1395.09h0M637.12 1395.09h0M651.8 1395.09h0M666.47 1395.09h0M681.15 1395.09h0M695.83 1395.09h0M710.5 1395.09h0M769.21 1395.09h0M783.88 1395.09h0M798.56 1395.09h0M813.23 1395.09h0M827.91 1395.09h0M842.59 1395.09h0M857.26 1395.09h0M871.94 1395.09h0M886.61 1395.09h0M901.29 1395.09h0M915.97 1395.09h0M930.64 1395.09h0M945.32 1395.09h0M959.99 1395.09h0M974.67 1395.09h0M1018.7 1395.09h0M1048.05 1395.09h0M1062.73 1395.09h0M1077.4 1395.09h0M1092.08 1395.09h0M1106.75 1395.09h0M1121.43 1395.09h0M1136.11 1395.09h0M1150.78 1395.09h0M1165.46 1395.09h0M1180.13 1395.09h0M1194.81 1395.09h0M1209.49 1395.09h0M1224.16 1395.09h0M1238.84 1395.09h0M1253.51 1395.09h0M1268.19 1395.09h0M1282.87 1395.09h0M1297.54 1395.09h0M1312.22 1395.09h0M1326.89 1395.09h0M1341.57 1395.09h0M1356.25 1395.09h0M1370.92 1395.09h0M1385.6 1395.09h0M1400.27 1395.09h0M1414.95 1395.09h0M1429.63 1395.09h0M1444.3 1395.09h0M1458.98 1395.09h0M1473.65 1395.09h0M1488.33 1395.09h0M1503.01 1395.09h0M1517.68 1395.09h0M1532.36 1395.09h0M1547.03 1395.09h0M138.14 1412.7h0M226.19 1412.7h0M284.9 1412.7h0M314.25 1412.7h0M402.31 1412.7h0M431.66 1412.7h0M446.33 1412.7h0M461.01 1412.7h0M475.69 1412.7h0M490.36 1412.7h0M505.04 1412.7h0M519.71 1412.7h0M534.39 1412.7h0M549.07 1412.7h0M563.74 1412.7h0M578.42 1412.7h0M593.09 1412.7h0M607.77 1412.7h0M622.45 1412.7h0M637.12 1412.7h0M651.8 1412.7h0M666.47 1412.7h0M681.15 1412.7h0M695.83 1412.7h0M710.5 1412.7h0M725.18 1412.7h0M769.21 1412.7h0M783.88 1412.7h0M798.56 1412.7h0M813.23 1412.7h0M827.91 1412.7h0M842.59 1412.7h0M857.26 1412.7h0M871.94 1412.7h0M886.61 1412.7h0M901.29 1412.7h0M930.64 1412.7h0M945.32 1412.7h0M974.67 1412.7h0M1062.73 1412.7h0M1077.4 1412.7h0M1092.08 1412.7h0M1106.75 1412.7h0M1121.43 1412.7h0M1136.11 1412.7h0M1150.78 1412.7h0M1165.46 1412.7h0M1180.13 1412.7h0M1194.81 1412.7h0M1209.49 1412.7h0M1224.16 1412.7h0M1238.84 1412.7h0M1253.51 1412.7h0M1268.19 1412.7h0M1282.87 1412.7h0M1312.22 1412.7h0M1326.89 1412.7h0M1341.57 1412.7h0M1370.92 1412.7h0M1385.6 1412.7h0M1400.27 1412.7h0M1414.95 1412.7h0M1429.63 1412.7h0M1444.3 1412.7h0M1458.98 1412.7h0M1488.33 1412.7h0M1503.01 1412.7h0M1517.68 1412.7h0M1547.03 1412.7h0M138.14 1430.3h0M226.19 1430.3h0M284.9 1430.3h0M314.25 1430.3h0M343.6 1430.3h0M402.31 1430.3h0M416.98 1430.3h0M431.66 1430.3h0M446.33 1430.3h0M461.01 1430.3h0M475.69 1430.3h0M490.36 1430.3h0M505.04 1430.3h0M519.71 1430.3h0M534.39 1430.3h0M549.07 1430.3h0M563.74 1430.3h0M578.42 1430.3h0M593.09 1430.3h0M607.77 1430.3h0M622.45 1430.3h0M637.12 1430.3h0M651.8 1430.3h0M666.47 1430.3h0M681.15 1430.3h0M695.83 1430.3h0M710.5 1430.3h0M769.21 1430.3h0M783.88 1430.3h0M798.56 1430.3h0M813.23 1430.3h0M827.91 1430.3h0M842.59 1430.3h0M857.26 1430.3h0M871.94 1430.3h0M886.61 1430.3h0M901.29 1430.3h0M915.97 1430.3h0M930.64 1430.3h0M945.32 1430.3h0M959.99 1430.3h0M974.67 1430.3h0M1048.05 1430.3h0M1077.4 1430.3h0M1092.08 1430.3h0M1106.75 1430.3h0M1121.43 1430.3h0M1136.11 1430.3h0M1150.78 1430.3h0M1165.46 1430.3h0M1180.13 1430.3h0M1194.81 1430.3h0M1209.49 1430.3h0M1224.16 1430.3h0M1238.84 1430.3h0M1253.51 1430.3h0M1268.19 1430.3h0M1282.87 1430.3h0M1297.54 1430.3h0M1312.22 1430.3h0M1326.89 1430.3h0M1341.57 1430.3h0M1356.25 1430.3h0M1370.92 1430.3h0M1400.27 1430.3h0M1414.95 1430.3h0M1429.63 1430.3h0M1444.3 1430.3h0M1488.33 1430.3h0M1517.68 1430.3h0M1532.36 1430.3h0M1547.03 1430.3h0M138.14 1447.91h0M284.9 1447.91h0M416.98 1447.91h0M431.66 1447.91h0M446.33 1447.91h0M461.01 1447.91h0M475.69 1447.91h0M490.36 1447.91h0M505.04 1447.91h0M519.71 1447.91h0M534.39 1447.91h0M549.07 1447.91h0M563.74 1447.91h0M578.42 1447.91h0M593.09 1447.91h0M607.77 1447.91h0M622.45 1447.91h0M637.12 1447.91h0M651.8 1447.91h0M666.47 1447.91h0M681.15 1447.91h0M695.83 1447.91h0M710.5 1447.91h0M813.23 1447.91h0M842.59 1447.91h0M871.94 1447.91h0M901.29 1447.91h0M974.67 1447.91h0M1077.4 1447.91h0M1092.08 1447.91h0M1121.43 1447.91h0M1136.11 1447.91h0M1150.78 1447.91h0M1165.46 1447.91h0M1180.13 1447.91h0M1194.81 1447.91h0M1209.49 1447.91h0M1238.84 1447.91h0M1282.87 1447.91h0M1414.95 1447.91h0M1532.36 1447.91h0M1547.03 1447.91h0M211.52 1465.52h0M284.9 1465.52h0M299.57 1465.52h0M314.25 1465.52h0M343.6 1465.52h0M358.28 1465.52h0M372.95 1465.52h0M387.63 1465.52h0M402.31 1465.52h0M416.98 1465.52h0M431.66 1465.52h0M446.33 1465.52h0M475.69 1465.52h0M519.71 1465.52h0M534.39 1465.52h0M593.09 1465.52h0M607.77 1465.52h0M622.45 1465.52h0M637.12 1465.52h0M695.83 1465.52h0M798.56 1465.52h0M813.23 1465.52h0M842.59 1465.52h0M857.26 1465.52h0M901.29 1465.52h0M930.64 1465.52h0M211.52 1483.13h0M226.19 1483.13h0M284.9 1483.13h0M299.57 1483.13h0M314.25 1483.13h0M328.93 1483.13h0M343.6 1483.13h0M358.28 1483.13h0M387.63 1483.13h0M402.31 1483.13h0M416.98 1483.13h0M446.33 1483.13h0M461.01 1483.13h0M475.69 1483.13h0M563.74 1483.13h0M578.42 1483.13h0M607.77 1483.13h0M622.45 1483.13h0M637.12 1483.13h0M695.83 1483.13h0M725.18 1483.13h0M783.88 1483.13h0M813.23 1483.13h0M842.59 1483.13h0M167.49 1500.74h0M182.17 1500.74h0M196.84 1500.74h0M211.52 1500.74h0M226.19 1500.74h0M240.87 1500.74h0M255.55 1500.74h0M270.22 1500.74h0M284.9 1500.74h0M299.57 1500.74h0M314.25 1500.74h0M328.93 1500.74h0M343.6 1500.74h0M358.28 1500.74h0M372.95 1500.74h0M387.63 1500.74h0M402.31 1500.74h0M416.98 1500.74h0M593.09 1500.74h0M607.77 1500.74h0M622.45 1500.74h0M637.12 1500.74h0M651.8 1500.74h0M666.47 1500.74h0M681.15 1500.74h0M725.18 1500.74h0M739.85 1500.74h0M769.21 1500.74h0M783.88 1500.74h0M798.56 1500.74h0M813.23 1500.74h0M827.91 1500.74h0M842.59 1500.74h0M857.26 1500.74h0M871.94 1500.74h0M886.61 1500.74h0M901.29 1500.74h0M915.97 1500.74h0M930.64 1500.74h0M974.67 1500.74h0M167.49 1518.34h0M182.17 1518.34h0M196.84 1518.34h0M211.52 1518.34h0M226.19 1518.34h0M240.87 1518.34h0M270.22 1518.34h0M299.57 1518.34h0M314.25 1518.34h0M328.93 1518.34h0M343.6 1518.34h0M358.28 1518.34h0M372.95 1518.34h0M387.63 1518.34h0M416.98 1518.34h0M607.77 1518.34h0M622.45 1518.34h0M637.12 1518.34h0M681.15 1518.34h0M695.83 1518.34h0M725.18 1518.34h0M769.21 1518.34h0M783.88 1518.34h0M798.56 1518.34h0M813.23 1518.34h0M827.91 1518.34h0M842.59 1518.34h0M857.26 1518.34h0M871.94 1518.34h0M886.61 1518.34h0M901.29 1518.34h0M915.97 1518.34h0M930.64 1518.34h0M196.84 1535.95h0M211.52 1535.95h0M226.19 1535.95h0M240.87 1535.95h0M270.22 1535.95h0M284.9 1535.95h0M299.57 1535.95h0M314.25 1535.95h0M328.93 1535.95h0M343.6 1535.95h0M358.28 1535.95h0M372.95 1535.95h0M387.63 1535.95h0M402.31 1535.95h0M416.98 1535.95h0M593.09 1535.95h0M607.77 1535.95h0M622.45 1535.95h0M637.12 1535.95h0M651.8 1535.95h0M666.47 1535.95h0M681.15 1535.95h0M695.83 1535.95h0M725.18 1535.95h0M769.21 1535.95h0M783.88 1535.95h0M798.56 1535.95h0M813.23 1535.95h0M827.91 1535.95h0M842.59 1535.95h0M857.26 1535.95h0M871.94 1535.95h0M886.61 1535.95h0M901.29 1535.95h0M915.97 1535.95h0M930.64 1535.95h0M974.67 1535.95h0M138.14 1553.56h0M211.52 1553.56h0M226.19 1553.56h0M240.87 1553.56h0M284.9 1553.56h0M299.57 1553.56h0M314.25 1553.56h0M328.93 1553.56h0M343.6 1553.56h0M358.28 1553.56h0M372.95 1553.56h0M387.63 1553.56h0M402.31 1553.56h0M416.98 1553.56h0M446.33 1553.56h0M475.69 1553.56h0M563.74 1553.56h0M578.42 1553.56h0M593.09 1553.56h0M607.77 1553.56h0M622.45 1553.56h0M637.12 1553.56h0M651.8 1553.56h0M666.47 1553.56h0M681.15 1553.56h0M695.83 1553.56h0M710.5 1553.56h0M725.18 1553.56h0M769.21 1553.56h0M783.88 1553.56h0M798.56 1553.56h0M813.23 1553.56h0M827.91 1553.56h0M842.59 1553.56h0M857.26 1553.56h0M871.94 1553.56h0M886.61 1553.56h0M901.29 1553.56h0M915.97 1553.56h0M930.64 1553.56h0M974.67 1553.56h0M1282.87 1553.56h0M1532.36 1553.56h0M1547.03 1553.56h0M182.17 1571.17h0M196.84 1571.17h0M211.52 1571.17h0M226.19 1571.17h0M240.87 1571.17h0M255.55 1571.17h0M270.22 1571.17h0M284.9 1571.17h0M299.57 1571.17h0M314.25 1571.17h0M328.93 1571.17h0M343.6 1571.17h0M358.28 1571.17h0M372.95 1571.17h0M387.63 1571.17h0M402.31 1571.17h0M563.74 1571.17h0M578.42 1571.17h0M607.77 1571.17h0M622.45 1571.17h0M637.12 1571.17h0M651.8 1571.17h0M666.47 1571.17h0M681.15 1571.17h0M695.83 1571.17h0M725.18 1571.17h0M739.85 1571.17h0M769.21 1571.17h0M783.88 1571.17h0M798.56 1571.17h0M813.23 1571.17h0M827.91 1571.17h0M842.59 1571.17h0M857.26 1571.17h0M871.94 1571.17h0M886.61 1571.17h0M901.29 1571.17h0M915.97 1571.17h0M930.64 1571.17h0M945.32 1571.17h0M974.67 1571.17h0M138.14 1588.78h0M167.49 1588.78h0M182.17 1588.78h0M196.84 1588.78h0M211.52 1588.78h0M226.19 1588.78h0M240.87 1588.78h0M255.55 1588.78h0M270.22 1588.78h0M284.9 1588.78h0M299.57 1588.78h0M314.25 1588.78h0M328.93 1588.78h0M343.6 1588.78h0M358.28 1588.78h0M372.95 1588.78h0M387.63 1588.78h0M402.31 1588.78h0M416.98 1588.78h0M446.33 1588.78h0M461.01 1588.78h0M475.69 1588.78h0M490.36 1588.78h0M519.71 1588.78h0M534.39 1588.78h0M563.74 1588.78h0M578.42 1588.78h0M593.09 1588.78h0M607.77 1588.78h0M622.45 1588.78h0M637.12 1588.78h0M651.8 1588.78h0M666.47 1588.78h0M681.15 1588.78h0M695.83 1588.78h0M710.5 1588.78h0M725.18 1588.78h0M739.85 1588.78h0M754.53 1588.78h0M769.21 1588.78h0M783.88 1588.78h0M798.56 1588.78h0M813.23 1588.78h0M827.91 1588.78h0M842.59 1588.78h0M857.26 1588.78h0M871.94 1588.78h0M886.61 1588.78h0M901.29 1588.78h0M915.97 1588.78h0M930.64 1588.78h0M945.32 1588.78h0M974.67 1588.78h0M1077.4 1588.78h0M1282.87 1588.78h0M1400.27 1588.78h0M182.17 1606.38h0M196.84 1606.38h0M211.52 1606.38h0M226.19 1606.38h0M240.87 1606.38h0M255.55 1606.38h0M270.22 1606.38h0M284.9 1606.38h0M299.57 1606.38h0M314.25 1606.38h0M328.93 1606.38h0M343.6 1606.38h0M358.28 1606.38h0M372.95 1606.38h0M387.63 1606.38h0M402.31 1606.38h0M416.98 1606.38h0M578.42 1606.38h0M607.77 1606.38h0M622.45 1606.38h0M637.12 1606.38h0M651.8 1606.38h0M666.47 1606.38h0M681.15 1606.38h0M695.83 1606.38h0M725.18 1606.38h0M739.85 1606.38h0M769.21 1606.38h0M783.88 1606.38h0M798.56 1606.38h0M813.23 1606.38h0M827.91 1606.38h0M842.59 1606.38h0M857.26 1606.38h0M871.94 1606.38h0M886.61 1606.38h0M901.29 1606.38h0M915.97 1606.38h0M930.64 1606.38h0M211.52 1623.99h0M226.19 1623.99h0M270.22 1623.99h0M284.9 1623.99h0M299.57 1623.99h0M314.25 1623.99h0M328.93 1623.99h0M343.6 1623.99h0M358.28 1623.99h0M387.63 1623.99h0M402.31 1623.99h0M416.98 1623.99h0M431.66 1623.99h0M446.33 1623.99h0M461.01 1623.99h0M475.69 1623.99h0M490.36 1623.99h0M505.04 1623.99h0M519.71 1623.99h0M534.39 1623.99h0M549.07 1623.99h0M563.74 1623.99h0M578.42 1623.99h0M593.09 1623.99h0M607.77 1623.99h0M622.45 1623.99h0M637.12 1623.99h0M651.8 1623.99h0M666.47 1623.99h0M681.15 1623.99h0M695.83 1623.99h0M710.5 1623.99h0M725.18 1623.99h0M769.21 1623.99h0M783.88 1623.99h0M798.56 1623.99h0M813.23 1623.99h0M827.91 1623.99h0M842.59 1623.99h0M857.26 1623.99h0M871.94 1623.99h0M886.61 1623.99h0M901.29 1623.99h0M915.97 1623.99h0M930.64 1623.99h0M974.67 1623.99h0M1180.13 1623.99h0M1282.87 1623.99h0M167.49 1641.6h0M182.17 1641.6h0M196.84 1641.6h0M211.52 1641.6h0M226.19 1641.6h0M240.87 1641.6h0M255.55 1641.6h0M270.22 1641.6h0M284.9 1641.6h0M299.57 1641.6h0M314.25 1641.6h0M328.93 1641.6h0M358.28 1641.6h0M372.95 1641.6h0M387.63 1641.6h0M725.18 1641.6h0M739.85 1641.6h0M783.88 1641.6h0M798.56 1641.6h0M827.91 1641.6h0M842.59 1641.6h0M857.26 1641.6h0M871.94 1641.6h0M886.61 1641.6h0M901.29 1641.6h0M915.97 1641.6h0M930.64 1641.6h0M167.49 1659.21h0M182.17 1659.21h0M196.84 1659.21h0M211.52 1659.21h0M226.19 1659.21h0M240.87 1659.21h0M255.55 1659.21h0M270.22 1659.21h0M299.57 1659.21h0M314.25 1659.21h0M328.93 1659.21h0M387.63 1659.21h0M739.85 1659.21h0M798.56 1659.21h0M857.26 1659.21h0M915.97 1659.21h0M930.64 1659.21h0M152.81 1676.82h0M167.49 1676.82h0M182.17 1676.82h0M196.84 1676.82h0M211.52 1676.82h0M226.19 1676.82h0M240.87 1676.82h0M255.55 1676.82h0M270.22 1676.82h0M299.57 1676.82h0M314.25 1676.82h0M328.93 1676.82h0M343.6 1676.82h0M358.28 1676.82h0M372.95 1676.82h0M387.63 1676.82h0M519.71 1676.82h0M593.09 1676.82h0M607.77 1676.82h0M622.45 1676.82h0M637.12 1676.82h0M651.8 1676.82h0M666.47 1676.82h0M681.15 1676.82h0M725.18 1676.82h0M739.85 1676.82h0M754.53 1676.82h0M769.21 1676.82h0M783.88 1676.82h0M798.56 1676.82h0M813.23 1676.82h0M827.91 1676.82h0M842.59 1676.82h0M857.26 1676.82h0M871.94 1676.82h0M886.61 1676.82h0M901.29 1676.82h0M915.97 1676.82h0M930.64 1676.82h0M945.32 1676.82h0M959.99 1676.82h0M974.67 1676.82h0M1004.02 1676.82h0M1312.22 1676.82h0M1400.27 1676.82h0M138.14 1694.42h0M167.49 1694.42h0M182.17 1694.42h0M196.84 1694.42h0M211.52 1694.42h0M226.19 1694.42h0M240.87 1694.42h0M255.55 1694.42h0M270.22 1694.42h0M284.9 1694.42h0M299.57 1694.42h0M314.25 1694.42h0M328.93 1694.42h0M343.6 1694.42h0M358.28 1694.42h0M372.95 1694.42h0M387.63 1694.42h0M402.31 1694.42h0M446.33 1694.42h0M461.01 1694.42h0M475.69 1694.42h0M490.36 1694.42h0M519.71 1694.42h0M534.39 1694.42h0M549.07 1694.42h0M563.74 1694.42h0M578.42 1694.42h0M593.09 1694.42h0M607.77 1694.42h0M622.45 1694.42h0M637.12 1694.42h0M651.8 1694.42h0M666.47 1694.42h0M681.15 1694.42h0M695.83 1694.42h0M710.5 1694.42h0M725.18 1694.42h0M739.85 1694.42h0M754.53 1694.42h0M769.21 1694.42h0M783.88 1694.42h0M798.56 1694.42h0M813.23 1694.42h0M827.91 1694.42h0M842.59 1694.42h0M857.26 1694.42h0M871.94 1694.42h0M886.61 1694.42h0M901.29 1694.42h0M915.97 1694.42h0M930.64 1694.42h0M945.32 1694.42h0M959.99 1694.42h0M974.67 1694.42h0M1004.02 1694.42h0M1077.4 1694.42h0M1136.11 1694.42h0M1180.13 1694.42h0M1253.51 1694.42h0M1268.19 1694.42h0M1282.87 1694.42h0M1297.54 1694.42h0M1312.22 1694.42h0M1341.57 1694.42h0M1356.25 1694.42h0M1370.92 1694.42h0M1400.27 1694.42h0M1414.95 1694.42h0M1429.63 1694.42h0M1444.3 1694.42h0M167.49 1712.03h0M182.17 1712.03h0M196.84 1712.03h0M211.52 1712.03h0M226.19 1712.03h0M240.87 1712.03h0M255.55 1712.03h0M270.22 1712.03h0M284.9 1712.03h0M299.57 1712.03h0M314.25 1712.03h0M328.93 1712.03h0M343.6 1712.03h0M358.28 1712.03h0M372.95 1712.03h0M387.63 1712.03h0M402.31 1712.03h0M416.98 1712.03h0M725.18 1712.03h0M739.85 1712.03h0M783.88 1712.03h0M798.56 1712.03h0M813.23 1712.03h0M827.91 1712.03h0M842.59 1712.03h0M857.26 1712.03h0M871.94 1712.03h0M886.61 1712.03h0M901.29 1712.03h0M915.97 1712.03h0M930.64 1712.03h0M167.49 1729.64h0M182.17 1729.64h0M196.84 1729.64h0M211.52 1729.64h0M226.19 1729.64h0M240.87 1729.64h0M255.55 1729.64h0M270.22 1729.64h0M299.57 1729.64h0M314.25 1729.64h0M328.93 1729.64h0M358.28 1729.64h0M372.95 1729.64h0M387.63 1729.64h0M681.15 1729.64h0M725.18 1729.64h0M739.85 1729.64h0M754.53 1729.64h0M769.21 1729.64h0M783.88 1729.64h0M798.56 1729.64h0M827.91 1729.64h0M842.59 1729.64h0M857.26 1729.64h0M871.94 1729.64h0M886.61 1729.64h0M901.29 1729.64h0M915.97 1729.64h0M930.64 1729.64h0M167.49 1747.25h0M182.17 1747.25h0M196.84 1747.25h0M211.52 1747.25h0M226.19 1747.25h0M240.87 1747.25h0M255.55 1747.25h0M270.22 1747.25h0M299.57 1747.25h0M314.25 1747.25h0M328.93 1747.25h0M372.95 1747.25h0M387.63 1747.25h0M725.18 1747.25h0M739.85 1747.25h0M754.53 1747.25h0M769.21 1747.25h0M783.88 1747.25h0M798.56 1747.25h0M827.91 1747.25h0M842.59 1747.25h0M857.26 1747.25h0M871.94 1747.25h0M886.61 1747.25h0M901.29 1747.25h0M915.97 1747.25h0M930.64 1747.25h0M152.81 1764.86h0M167.49 1764.86h0M182.17 1764.86h0M196.84 1764.86h0M211.52 1764.86h0M226.19 1764.86h0M240.87 1764.86h0M255.55 1764.86h0M270.22 1764.86h0M314.25 1764.86h0M372.95 1764.86h0M387.63 1764.86h0M622.45 1764.86h0M637.12 1764.86h0M681.15 1764.86h0M754.53 1764.86h0M769.21 1764.86h0M798.56 1764.86h0M813.23 1764.86h0M827.91 1764.86h0M842.59 1764.86h0M857.26 1764.86h0M871.94 1764.86h0M886.61 1764.86h0M901.29 1764.86h0M915.97 1764.86h0M930.64 1764.86h0M959.99 1764.86h0M974.67 1764.86h0M1004.02 1764.86h0M1312.22 1764.86h0M152.81 1782.46h0M167.49 1782.46h0M240.87 1782.46h0M593.09 1782.46h0M622.45 1782.46h0M637.12 1782.46h0M651.8 1782.46h0M666.47 1782.46h0M681.15 1782.46h0M754.53 1782.46h0M798.56 1782.46h0M813.23 1782.46h0M827.91 1782.46h0M842.59 1782.46h0M857.26 1782.46h0M871.94 1782.46h0M886.61 1782.46h0M901.29 1782.46h0M915.97 1782.46h0M930.64 1782.46h0M959.99 1782.46h0M974.67 1782.46h0M1004.02 1782.46h0M1297.54 1782.46h0M1312.22 1782.46h0M1356.25 1782.46h0M1532.36 1782.46h0M138.14 1800.07h0M226.19 1800.07h0M314.25 1800.07h0M343.6 1800.07h0M431.66 1800.07h0M446.33 1800.07h0M461.01 1800.07h0M475.69 1800.07h0M490.36 1800.07h0M505.04 1800.07h0M549.07 1800.07h0M563.74 1800.07h0M578.42 1800.07h0M593.09 1800.07h0M607.77 1800.07h0M622.45 1800.07h0M637.12 1800.07h0M651.8 1800.07h0M666.47 1800.07h0M681.15 1800.07h0M695.83 1800.07h0M710.5 1800.07h0M725.18 1800.07h0M754.53 1800.07h0M769.21 1800.07h0M783.88 1800.07h0M798.56 1800.07h0M813.23 1800.07h0M827.91 1800.07h0M842.59 1800.07h0M857.26 1800.07h0M871.94 1800.07h0M886.61 1800.07h0M901.29 1800.07h0M915.97 1800.07h0M930.64 1800.07h0M945.32 1800.07h0M959.99 1800.07h0M974.67 1800.07h0M989.35 1800.07h0M1004.02 1800.07h0M1018.7 1800.07h0M1033.37 1800.07h0M1048.05 1800.07h0M1062.73 1800.07h0M1077.4 1800.07h0M1092.08 1800.07h0M1106.75 1800.07h0M1121.43 1800.07h0M1136.11 1800.07h0M1150.78 1800.07h0M1165.46 1800.07h0M1180.13 1800.07h0M1194.81 1800.07h0M1209.49 1800.07h0M1224.16 1800.07h0M1238.84 1800.07h0M1253.51 1800.07h0M1268.19 1800.07h0M1282.87 1800.07h0M1297.54 1800.07h0M1312.22 1800.07h0M1326.89 1800.07h0M1341.57 1800.07h0M1356.25 1800.07h0M1370.92 1800.07h0M1385.6 1800.07h0M1400.27 1800.07h0M1414.95 1800.07h0M1429.63 1800.07h0M1444.3 1800.07h0M1458.98 1800.07h0M1473.65 1800.07h0M1488.33 1800.07h0M1503.01 1800.07h0M1517.68 1800.07h0M1532.36 1800.07h0M1547.03 1800.07h0"/><g font-family="Liberation Sans, sans-serif" font-size="8.15" fill="#4a4040" text-anchor="end"><text transform="translate(128.3 112.3) scale(0.77 1.2)">PE(14:0e/26:2)</text><text transform="translate(128.3 129.91) scale(0.77 1.2)">CE(22:6)</text><text transform="translate(128.3 147.52) scale(0.77 1.2)">TAG(18:0/18:0/19:2)</text><text transform="translate(128.3 165.13) scale(0.77 1.2)">TAG(15:0/16:0/16:1)</text><text transform="translate(128.3 182.74) scale(0.77 1.2)">TAG(16:0/16:0/18:0)</text><text transform="translate(128.3 200.34) scale(0.77 1.2)">TAG(16:0/17:0/18:1)</text><text transform="translate(128.3 217.95) scale(0.77 1.2)">TAG(14:0/16:0/16:1)</text><text transform="translate(128.3 235.56) scale(0.77 1.2)">TAG(15:0/16:0/18:1)</text><text transform="translate(128.3 253.17) scale(0.77 1.2)">TAG(14:0/18:1/18:1)</text><text transform="translate(128.3 270.78) scale(0.77 1.2)">TAG(17:1/18:0/18:0)</text><text transform="translate(128.3 288.38) scale(0.77 1.2)">TAG(18:0/18:1/19:0)</text><text transform="translate(128.3 305.99) scale(0.77 1.2)">TAG(14:0/16:1/18:1)</text><text transform="translate(128.3 323.6) scale(0.77 1.2)">TAG(16:0/16:0/16:0)</text><text transform="translate(128.3 341.21) scale(0.77 1.2)">TAG(17:0/17:0/17:0)</text><text transform="translate(128.3 358.82) scale(0.77 1.2)">TAG(17:0/17:0/17:1)</text><text transform="translate(128.3 376.42) scale(0.77 1.2)">TAG(17:0/17:0/19:0)</text><text transform="translate(128.3 394.03) scale(0.77 1.2)">TAG(16:0/16:0/17:0)</text><text transform="translate(128.3 411.64) scale(0.77 1.2)">TAG(14:0/16:0/16:0)</text><text transform="translate(128.3 429.25) scale(0.77 1.2)">TAG(16:0/16:0/19:1)</text><text transform="translate(128.3 446.86) scale(0.77 1.2)">TAG(15:0/16:1/18:0)</text><text transform="translate(128.3 464.46) scale(0.77 1.2)">TAG(16:0/17:0/18:0)</text><text transform="translate(128.3 482.07) scale(0.77 1.2)">PC(14:0/22:3)</text><text transform="translate(128.3 499.68) scale(0.77 1.2)">TAG(17:0/18:0/18:1)</text><text transform="translate(128.3 517.29) scale(0.77 1.2)">TAG(17:1/18:1/18:1)</text><text transform="translate(128.3 534.9) scale(0.77 1.2)">PC(18:0e/18:5)</text><text transform="translate(128.3 552.5) scale(0.77 1.2)">TAG(15:0/18:1/18:1)</text><text transform="translate(128.3 570.11) scale(0.77 1.2)">TAG(12:0/12:0/20:1)</text><text transform="translate(128.3 587.72) scale(0.77 1.2)">PC(12:0/26:4)</text><text transform="translate(128.3 605.33) scale(0.77 1.2)">PC(14:1/24:2)</text><text transform="translate(128.3 622.94) scale(0.77 1.2)">TAG(16:3/16:3/16:3)</text><text transform="translate(128.3 640.54) scale(0.77 1.2)">TAG(16:0/18:2/18:2)</text><text transform="translate(128.3 658.15) scale(0.77 1.2)">TAG(12:1/22:0/22:0)</text><text transform="translate(128.3 675.76) scale(0.77 1.2)">TAG(15:0/17:1/17:1)</text><text transform="translate(128.3 693.37) scale(0.77 1.2)">TAG(17:0/18:2/18:2)</text><text transform="translate(128.3 710.98) scale(0.77 1.2)">TAG(17:0/18:0/22:0)</text><text transform="translate(128.3 728.58) scale(0.77 1.2)">TAG(17:1/18:0/18:1)</text><text transform="translate(128.3 746.19) scale(0.77 1.2)">TAG(17:0/21:0/21:0)</text><text transform="translate(128.3 763.8) scale(0.77 1.2)">TAG(12:0/20:3/20:3)</text><text transform="translate(128.3 781.41) scale(0.77 1.2)">TAG(16:1/16:1/18:1)</text><text transform="translate(128.3 799.02) scale(0.77 1.2)">TAG(12:0/12:0/12:0)</text><text transform="translate(128.3 816.62) scale(0.77 1.2)">TAG(15:0/15:0/17:0)</text><text transform="translate(128.3 834.23) scale(0.77 1.2)">TAG(16:1/18:1/22:6)</text><text transform="translate(128.3 851.84) scale(0.77 1.2)">CE(22:2)</text><text transform="translate(128.3 869.45) scale(0.77 1.2)">PC(7:0/26:1)</text><text transform="translate(128.3 887.06) scale(0.77 1.2)">CE(20:2)</text><text transform="translate(128.3 904.66) scale(0.77 1.2)">CE(22:4)</text><text transform="translate(128.3 922.27) scale(0.77 1.2)">CE(22:5)</text><text transform="translate(128.3 939.88) scale(0.77 1.2)">CE(20:5)</text><text transform="translate(128.3 957.49) scale(0.77 1.2)">CE(18:2)</text><text transform="translate(128.3 975.1) scale(0.77 1.2)">CE(18:3)</text><text transform="translate(128.3 992.7) scale(0.77 1.2)">CE(20:3)</text><text transform="translate(128.3 1010.31) scale(0.77 1.2)">CE(20:4)</text><text transform="translate(128.3 1027.92) scale(0.77 1.2)">TAG(15:1/22:1/22:1)</text><text transform="translate(128.3 1045.53) scale(0.77 1.2)">TAG(18:0/18:1/20:0)</text><text transform="translate(128.3 1063.14) scale(0.77 1.2)">TAG(16:0/16:2/18:2)</text><text transform="translate(128.3 1080.74) scale(0.77 1.2)">TAG(18:1/18:2/22:0)</text><text transform="translate(128.3 1098.35) scale(0.77 1.2)">TAG(16:0/16:0/20:4)</text><text transform="translate(128.3 1115.96) scale(0.77 1.2)">PC(18:2/18:2)</text><text transform="translate(128.3 1133.57) scale(0.77 1.2)">SM(d14:0/22:2)</text><text transform="translate(128.3 1151.18) scale(0.77 1.2)">CE(24:1)</text><text transform="translate(128.3 1168.78) scale(0.77 1.2)">CE(22:1)</text><text transform="translate(128.3 1186.39) scale(0.77 1.2)">CE(20:1)</text><text transform="translate(128.3 1204) scale(0.77 1.2)">CE(18:0)</text><text transform="translate(128.3 1221.61) scale(0.77 1.2)">CE(18:1)</text><text transform="translate(128.3 1239.22) scale(0.77 1.2)">CE(16:0)</text><text transform="translate(128.3 1256.82) scale(0.77 1.2)">TAG(16:0/16:0/17:1)</text><text transform="translate(128.3 1274.43) scale(0.77 1.2)">TAG(16:0/16:0/16:1)</text><text transform="translate(128.3 1292.04) scale(0.77 1.2)">TAG(16:0/16:0/18:2)</text><text transform="translate(128.3 1309.65) scale(0.77 1.2)">TAG(12:1/12:1/22:7)</text><text transform="translate(128.3 1327.26) scale(0.77 1.2)">TAG(17:1/21:0/21:0)</text><text transform="translate(128.3 1344.86) scale(0.77 1.2)">TAG(16:0/18:0/18:1)</text><text transform="translate(128.3 1362.47) scale(0.77 1.2)">DAG(16:0/22:5)</text><text transform="translate(128.3 1380.08) scale(0.77 1.2)">TAG(16:0/16:0/20:3)</text><text transform="translate(128.3 1397.69) scale(0.77 1.2)">PE(20:5e/21:2)</text><text transform="translate(128.3 1415.3) scale(0.77 1.2)">PC(16:3/22:6)</text><text transform="translate(128.3 1432.9) scale(0.77 1.2)">PE(14:0e/20:1)</text><text transform="translate(128.3 1450.51) scale(0.77 1.2)">PE(14:1e/26:4)</text><text transform="translate(128.3 1468.12) scale(0.77 1.2)">TAG(13:0/20:0/20:0)</text><text transform="translate(128.3 1485.73) scale(0.77 1.2)">PC(4:0/27:0)</text><text transform="translate(128.3 1503.34) scale(0.77 1.2)">CerNS(d19:1/24:1)</text><text transform="translate(128.3 1520.94) scale(0.77 1.2)">TAG(12:0/22:4/22:4)</text><text transform="translate(128.3 1538.55) scale(0.77 1.2)">TAG(18:0/20:4/22:4)</text><text transform="translate(128.3 1556.16) scale(0.77 1.2)">TAG(14:0/20:0/22:0)</text><text transform="translate(128.3 1573.77) scale(0.77 1.2)">HexCerNS(d18:1/24:1)</text><text transform="translate(128.3 1591.38) scale(0.77 1.2)">PEtOH(17:2/24:4)</text><text transform="translate(128.3 1608.98) scale(0.77 1.2)">CerNS(d18:2/24:2)</text><text transform="translate(128.3 1626.59) scale(0.77 1.2)">HexCerNS(d18:1/14:0)</text><text transform="translate(128.3 1644.2) scale(0.77 1.2)">TAG(13:0/19:5/19:5)</text><text transform="translate(128.3 1661.81) scale(0.77 1.2)">PC(24:4/18:5)</text><text transform="translate(128.3 1679.42) scale(0.77 1.2)">SM(d14:1/28:2)</text><text transform="translate(128.3 1697.02) scale(0.77 1.2)">PC(18:5e/19:2)</text><text transform="translate(128.3 1714.63) scale(0.77 1.2)">CerNS(d18:1/26:1)</text><text transform="translate(128.3 1732.24) scale(0.77 1.2)">PE(14:0e/19:0)</text><text transform="translate(128.3 1749.85) scale(0.77 1.2)">HexCerNS(d18:1/24:0)</text><text transform="translate(128.3 1767.46) scale(0.77 1.2)">CerNS(d18:1/25:1)</text><text transform="translate(128.3 1785.06) scale(0.77 1.2)">PE(17:1/22:6)</text><text transform="translate(128.3 1802.67) scale(0.77 1.2)">TAG(12:1/12:1/20:5)</text><text transform="translate(141.14 1813) scale(1 1.2) rotate(-45) scale(0.77 1)">TAG(12:1/12:1/20:5)</text><text transform="translate(155.81 1813) scale(1 1.2) rotate(-45) scale(0.77 1)">PE(17:1/22:6)</text><text transform="translate(170.49 1813) scale(1 1.2) rotate(-45) scale(0.77 1)">CerNS(d18:1/25:1)</text><text transform="translate(185.17 1813) scale(1 1.2) rotate(-45) scale(0.77 1)">HexCerNS(d18:1/24:0)</text><text transform="translate(199.84 1813) scale(1 1.2) rotate(-45) scale(0.77 1)">PE(14:0e/19:0)</text><text transform="translate(214.52 1813) scale(1 1.2) rotate(-45) scale(0.77 1)">CerNS(d18:1/26:1)</text><text transform="translate(229.19 1813) scale(1 1.2) rotate(-45) scale(0.77 1)">PC(18:5e/19:2)</text><text transform="translate(243.87 1813) scale(1 1.2) rotate(-45) scale(0.77 1)">SM(d14:1/28:2)</text><text transform="translate(258.55 1813) scale(1 1.2) rotate(-45) scale(0.77 1)">PC(24:4/18:5)</text><text transform="translate(273.22 1813) scale(1 1.2) rotate(-45) scale(0.77 1)">TAG(13:0/19:5/19:5)</text><text transform="translate(287.9 1813) scale(1 1.2) rotate(-45) scale(0.77 1)">HexCerNS(d18:1/14:0)</text><text transform="translate(302.57 1813) scale(1 1.2) rotate(-45) scale(0.77 1)">CerNS(d18:2/24:2)</text><text transform="translate(317.25 1813) scale(1 1.2) rotate(-45) scale(0.77 1)">PEtOH(17:2/24:4)</text><text transform="translate(331.93 1813) scale(1 1.2) rotate(-45) scale(0.77 1)">HexCerNS(d18:1/24:1)</text><text transform="translate(346.6 1813) scale(1 1.2) rotate(-45) scale(0.77 1)">TAG(14:0/20:0/22:0)</text><text transform="translate(361.28 1813) scale(1 1.2) rotate(-45) scale(0.77 1)">TAG(18:0/20:4/22:4)</text><text transform="translate(375.95 1813) scale(1 1.2) rotate(-45) scale(0.77 1)">TAG(12:0/22:4/22:4)</text><text transform="translate(390.63 1813) scale(1 1.2) rotate(-45) scale(0.77 1)">CerNS(d19:1/24:1)</text><text transform="translate(405.31 1813) scale(1 1.2) rotate(-45) scale(0.77 1)">PC(4:0/27:0)</text><text transform="translate(419.98 1813) scale(1 1.2) rotate(-45) scale(0.77 1)">TAG(13:0/20:0/20:0)</text><text transform="translate(434.66 1813) scale(1 1.2) rotate(-45) scale(0.77 1)">PE(14:1e/26:4)</text><text transform="translate(449.33 1813) scale(1 1.2) rotate(-45) scale(0.77 1)">PE(14:0e/20:1)</text><text transform="translate(464.01 1813) scale(1 1.2) rotate(-45) scale(0.77 1)">PC(16:3/22:6)</text><text transform="translate(478.69 1813) scale(1 1.2) rotate(-45) scale(0.77 1)">PE(20:5e/21:2)</text><text transform="translate(493.36 1813) scale(1 1.2) rotate(-45) scale(0.77 1)">TAG(16:0/16:0/20:3)</text><text transform="translate(508.04 1813) scale(1 1.2) rotate(-45) scale(0.77 1)">DAG(16:0/22:5)</text><text transform="translate(522.71 1813) scale(1 1.2) rotate(-45) scale(0.77 1)">TAG(16:0/18:0/18:1)</text><text transform="translate(537.39 1813) scale(1 1.2) rotate(-45) scale(0.77 1)">TAG(17:1/21:0/21:0)</text><text transform="translate(552.07 1813) scale(1 1.2) rotate(-45) scale(0.77 1)">TAG(12:1/12:1/22:7)</text><text transform="translate(566.74 1813) scale(1 1.2) rotate(-45) scale(0.77 1)">TAG(16:0/16:0/18:2)</text><text transform="translate(581.42 1813) scale(1 1.2) rotate(-45) scale(0.77 1)">TAG(16:0/16:0/16:1)</text><text transform="translate(596.09 1813) scale(1 1.2) rotate(-45) scale(0.77 1)">TAG(16:0/16:0/17:1)</text><text transform="translate(610.77 1813) scale(1 1.2) rotate(-45) scale(0.77 1)">CE(16:0)</text><text transform="translate(625.45 1813) scale(1 1.2) rotate(-45) scale(0.77 1)">CE(18:1)</text><text transform="translate(640.12 1813) scale(1 1.2) rotate(-45) scale(0.77 1)">CE(18:0)</text><text transform="translate(654.8 1813) scale(1 1.2) rotate(-45) scale(0.77 1)">CE(20:1)</text><text transform="translate(669.47 1813) scale(1 1.2) rotate(-45) scale(0.77 1)">CE(22:1)</text><text transform="translate(684.15 1813) scale(1 1.2) rotate(-45) scale(0.77 1)">CE(24:1)</text><text transform="translate(698.83 1813) scale(1 1.2) rotate(-45) scale(0.77 1)">SM(d14:0/22:2)</text><text transform="translate(713.5 1813) scale(1 1.2) rotate(-45) scale(0.77 1)">PC(18:2/18:2)</text><text transform="translate(728.18 1813) scale(1 1.2) rotate(-45) scale(0.77 1)">TAG(16:0/16:0/20:4)</text><text transform="translate(742.85 1813) scale(1 1.2) rotate(-45) scale(0.77 1)">TAG(18:1/18:2/22:0)</text><text transform="translate(757.53 1813) scale(1 1.2) rotate(-45) scale(0.77 1)">TAG(16:0/16:2/18:2)</text><text transform="translate(772.21 1813) scale(1 1.2) rotate(-45) scale(0.77 1)">TAG(18:0/18:1/20:0)</text><text transform="translate(786.88 1813) scale(1 1.2) rotate(-45) scale(0.77 1)">TAG(15:1/22:1/22:1)</text><text transform="translate(801.56 1813) scale(1 1.2) rotate(-45) scale(0.77 1)">CE(20:4)</text><text transform="translate(816.23 1813) scale(1 1.2) rotate(-45) scale(0.77 1)">CE(20:3)</text><text transform="translate(830.91 1813) scale(1 1.2) rotate(-45) scale(0.77 1)">CE(18:3)</text><text transform="translate(845.59 1813) scale(1 1.2) rotate(-45) scale(0.77 1)">CE(18:2)</text><text transform="translate(860.26 1813) scale(1 1.2) rotate(-45) scale(0.77 1)">CE(20:5)</text><text transform="translate(874.94 1813) scale(1 1.2) rotate(-45) scale(0.77 1)">CE(22:5)</text><text transform="translate(889.61 1813) scale(1 1.2) rotate(-45) scale(0.77 1)">CE(22:4)</text><text transform="translate(904.29 1813) scale(1 1.2) rotate(-45) scale(0.77 1)">CE(20:2)</text><text transform="translate(918.97 1813) scale(1 1.2) rotate(-45) scale(0.77 1)">PC(7:0/26:1)</text><text transform="translate(933.64 1813) scale(1 1.2) rotate(-45) scale(0.77 1)">CE(22:2)</text><text transform="translate(948.32 1813) scale(1 1.2) rotate(-45) scale(0.77 1)">TAG(16:1/18:1/22:6)</text><text transform="translate(962.99 1813) scale(1 1.2) rotate(-45) scale(0.77 1)">TAG(15:0/15:0/17:0)</text><text transform="translate(977.67 1813) scale(1 1.2) rotate(-45) scale(0.77 1)">TAG(12:0/12:0/12:0)</text><text transform="translate(992.35 1813) scale(1 1.2) rotate(-45) scale(0.77 1)">TAG(16:1/16:1/18:1)</text><text transform="translate(1007.02 1813) scale(1 1.2) rotate(-45) scale(0.77 1)">TAG(12:0/20:3/20:3)</text><text transform="translate(1021.7 1813) scale(1 1.2) rotate(-45) scale(0.77 1)">TAG(17:0/21:0/21:0)</text><text transform="translate(1036.37 1813) scale(1 1.2) rotate(-45) scale(0.77 1)">TAG(17:1/18:0/18:1)</text><text transform="translate(1051.05 1813) scale(1 1.2) rotate(-45) scale(0.77 1)">TAG(17:0/18:0/22:0)</text><text transform="translate(1065.73 1813) scale(1 1.2) rotate(-45) scale(0.77 1)">TAG(17:0/18:2/18:2)</text><text transform="translate(1080.4 1813) scale(1 1.2) rotate(-45) scale(0.77 1)">TAG(15:0/17:1/17:1)</text><text transform="translate(1095.08 1813) scale(1 1.2) rotate(-45) scale(0.77 1)">TAG(12:1/22:0/22:0)</text><text transform="translate(1109.75 1813) scale(1 1.2) rotate(-45) scale(0.77 1)">TAG(16:0/18:2/18:2)</text><text transform="translate(1124.43 1813) scale(1 1.2) rotate(-45) scale(0.77 1)">TAG(16:3/16:3/16:3)</text><text transform="translate(1139.11 1813) scale(1 1.2) rotate(-45) scale(0.77 1)">PC(14:1/24:2)</text><text transform="translate(1153.78 1813) scale(1 1.2) rotate(-45) scale(0.77 1)">PC(12:0/26:4)</text><text transform="translate(1168.46 1813) scale(1 1.2) rotate(-45) scale(0.77 1)">TAG(12:0/12:0/20:1)</text><text transform="translate(1183.13 1813) scale(1 1.2) rotate(-45) scale(0.77 1)">TAG(15:0/18:1/18:1)</text><text transform="translate(1197.81 1813) scale(1 1.2) rotate(-45) scale(0.77 1)">PC(18:0e/18:5)</text><text transform="translate(1212.49 1813) scale(1 1.2) rotate(-45) scale(0.77 1)">TAG(17:1/18:1/18:1)</text><text transform="translate(1227.16 1813) scale(1 1.2) rotate(-45) scale(0.77 1)">TAG(17:0/18:0/18:1)</text><text transform="translate(1241.84 1813) scale(1 1.2) rotate(-45) scale(0.77 1)">PC(14:0/22:3)</text><text transform="translate(1256.51 1813) scale(1 1.2) rotate(-45) scale(0.77 1)">TAG(16:0/17:0/18:0)</text><text transform="translate(1271.19 1813) scale(1 1.2) rotate(-45) scale(0.77 1)">TAG(15:0/16:1/18:0)</text><text transform="translate(1285.87 1813) scale(1 1.2) rotate(-45) scale(0.77 1)">TAG(16:0/16:0/19:1)</text><text transform="translate(1300.54 1813) scale(1 1.2) rotate(-45) scale(0.77 1)">TAG(14:0/16:0/16:0)</text><text transform="translate(1315.22 1813) scale(1 1.2) rotate(-45) scale(0.77 1)">TAG(16:0/16:0/17:0)</text><text transform="translate(1329.89 1813) scale(1 1.2) rotate(-45) scale(0.77 1)">TAG(17:0/17:0/19:0)</text><text transform="translate(1344.57 1813) scale(1 1.2) rotate(-45) scale(0.77 1)">TAG(17:0/17:0/17:1)</text><text transform="translate(1359.25 1813) scale(1 1.2) rotate(-45) scale(0.77 1)">TAG(17:0/17:0/17:0)</text><text transform="translate(1373.92 1813) scale(1 1.2) rotate(-45) scale(0.77 1)">TAG(16:0/16:0/16:0)</text><text transform="translate(1388.6 1813) scale(1 1.2) rotate(-45) scale(0.77 1)">TAG(14:0/16:1/18:1)</text><text transform="translate(1403.27 1813) scale(1 1.2) rotate(-45) scale(0.77 1)">TAG(18:0/18:1/19:0)</text><text transform="translate(1417.95 1813) scale(1 1.2) rotate(-45) scale(0.77 1)">TAG(17:1/18:0/18:0)</text><text transform="translate(1432.63 1813) scale(1 1.2) rotate(-45) scale(0.77 1)">TAG(14:0/18:1/18:1)</text><text transform="translate(1447.3 1813) scale(1 1.2) rotate(-45) scale(0.77 1)">TAG(15:0/16:0/18:1)</text><text transform="translate(1461.98 1813) scale(1 1.2) rotate(-45) scale(0.77 1)">TAG(14:0/16:0/16:1)</text><text transform="translate(1476.65 1813) scale(1 1.2) rotate(-45) scale(0.77 1)">TAG(16:0/17:0/18:1)</text><text transform="translate(1491.33 1813) scale(1 1.2) rotate(-45) scale(0.77 1)">TAG(16:0/16:0/18:0)</text><text transform="translate(1506.01 1813) scale(1 1.2) rotate(-45) scale(0.77 1)">TAG(15:0/16:0/16:1)</text><text transform="translate(1520.68 1813) scale(1 1.2) rotate(-45) scale(0.77 1)">TAG(18:0/18:0/19:2)</text><text transform="translate(1535.36 1813) scale(1 1.2) rotate(-45) scale(0.77 1)">CE(22:6)</text><text transform="translate(1550.03 1813) scale(1 1.2) rotate(-45) scale(0.77 1)">PE(14:0e/26:2)</text></g><rect x="1567.2" y="935.4" width="14.8" height="3.53" fill="#ff3929"/><rect x="1567.2" y="938.53" width="14.8" height="3.53" fill="#ff4030"/><rect x="1567.2" y="941.66" width="14.8" height="3.53" fill="#ff4837"/><rect x="1567.2" y="944.78" width="14.8" height="3.53" fill="#ff4f3e"/><rect x="1567.2" y="947.91" width="14.8" height="3.53" fill="#ff5744"/><rect x="1567.2" y="951.04" width="14.8" height="3.53" fill="#ff5e4b"/><rect x="1567.2" y="954.17" width="14.8" height="3.53" fill="#ff6652"/><rect x="1567.2" y="957.3" width="14.8" height="3.53" fill="#ff6c58"/><rect x="1567.2" y="960.42" width="14.8" height="3.53" fill="#ff725e"/><rect x="1567.2" y="963.55" width="14.8" height="3.53" fill="#ff7865"/><rect x="1567.2" y="966.68" width="14.8" height="3.53" fill="#ff7e6b"/><rect x="1567.2" y="969.81" width="14.8" height="3.53" fill="#ff8472"/><rect x="1567.2" y="972.94" width="14.8" height="3.53" fill="#ff8a78"/><rect x="1567.2" y="976.06" width="14.8" height="3.53" fill="#ff9381"/><rect x="1567.2" y="979.19" width="14.8" height="3.53" fill="#ff9b8a"/><rect x="1567.2" y="982.32" width="14.8" height="3.53" fill="#ffa493"/><rect x="1567.2" y="985.45" width="14.8" height="3.53" fill="#ffad9c"/><rect x="1567.2" y="988.58" width="14.8" height="3.53" fill="#ffb5a5"/><rect x="1567.2" y="991.7" width="14.8" height="3.53" fill="#ffbeae"/><rect x="1567.2" y="994.83" width="14.8" height="3.53" fill="#ffc8b9"/><rect x="1567.2" y="997.96" width="14.8" height="3.53" fill="#ffd2c6"/><rect x="1567.2" y="1001.09" width="14.8" height="3.53" fill="#ffdcd3"/><rect x="1567.2" y="1004.22" width="14.8" height="3.53" fill="#ffe6df"/><rect x="1567.2" y="1007.34" width="14.8" height="3.53" fill="#fff0ec"/><rect x="1567.2" y="1010.47" width="14.8" height="3.53" fill="#fffaf9"/><rect x="1567.2" y="1013.6" width="14.8" height="3.53" fill="#fcfafc"/><rect x="1567.2" y="1016.73" width="14.8" height="3.53" fill="#f6eff7"/><rect x="1567.2" y="1019.86" width="14.8" height="3.53" fill="#efe4f1"/><rect x="1567.2" y="1022.98" width="14.8" height="3.53" fill="#e9d9ec"/><rect x="1567.2" y="1026.11" width="14.8" height="3.53" fill="#e3cfe7"/><rect x="1567.2" y="1029.24" width="14.8" height="3.53" fill="#ddc4e1"/><rect x="1567.2" y="1032.37" width="14.8" height="3.53" fill="#d6badc"/><rect x="1567.2" y="1035.5" width="14.8" height="3.53" fill="#ceb2d7"/><rect x="1567.2" y="1038.62" width="14.8" height="3.53" fill="#c7a9d2"/><rect x="1567.2" y="1041.75" width="14.8" height="3.53" fill="#bfa1cd"/><rect x="1567.2" y="1044.88" width="14.8" height="3.53" fill="#b799c8"/><rect x="1567.2" y="1048.01" width="14.8" height="3.53" fill="#b090c3"/><rect x="1567.2" y="1051.14" width="14.8" height="3.53" fill="#a888be"/><rect x="1567.2" y="1054.26" width="14.8" height="3.53" fill="#9e80b9"/><rect x="1567.2" y="1057.39" width="14.8" height="3.53" fill="#9478b4"/><rect x="1567.2" y="1060.52" width="14.8" height="3.53" fill="#8b70b0"/><rect x="1567.2" y="1063.65" width="14.8" height="3.53" fill="#8167ab"/><rect x="1567.2" y="1066.78" width="14.8" height="3.53" fill="#775fa6"/><rect x="1567.2" y="1069.9" width="14.8" height="3.53" fill="#6d57a1"/><rect x="1567.2" y="1073.03" width="14.8" height="3.53" fill="#66549f"/><rect x="1567.2" y="1076.16" width="14.8" height="3.53" fill="#5f529e"/><rect x="1567.2" y="1079.29" width="14.8" height="3.53" fill="#58519d"/><rect x="1567.2" y="1082.42" width="14.8" height="3.53" fill="#51509c"/><rect x="1567.2" y="1085.54" width="14.8" height="3.53" fill="#4a4e9b"/><rect x="1567.2" y="1088.67" width="14.8" height="3.53" fill="#434d9a"/><g font-family="Liberation Sans, sans-serif" font-size="11" fill="#3a3535"><text transform="translate(1566.5 922.6) scale(0.82 1.9)">Corr</text><text transform="translate(1586 941.9) scale(0.72 1.6)">1.0</text><text transform="translate(1586 980.9) scale(0.72 1.6)">0.5</text><text transform="translate(1586 1019.5) scale(0.72 1.6)">0.0</text><text transform="translate(1586 1058.5) scale(0.72 1.6)">-0.5</text><text transform="translate(1586 1097.9) scale(0.72 1.6)">-1.0</text></g><path stroke="#fff" stroke-width="1" d="M1578 975h4M1578 1052.6h4M1567 942h3M1567 962h3M1567 983h3M1567 1003h3"/><g fill="none" shape-rendering="crispEdges"><path stroke="#ff7474" stroke-width="18.25" d="M1790.2 107.78h34.04M1790.2 178.8h34.04M1790.2 374.1h34.04M1960.4 640.43h34.04M1926.36 764.71h68.08M1926.36 782.47h68.08M1960.4 800.22h34.04M1892.32 853.49h34.04M1960.4 853.49h34.04M1960.4 871.24h34.04M1926.36 889h34.04M1926.36 906.75h34.04M1960.4 977.77h34.04M1892.32 1173.08h34.04M1926.36 1350.63h34.04M1926.36 1457.16h34.04M1926.36 1474.91h34.04"/><path stroke="#ff5050" stroke-width="18.25" d="M1824.24 107.78h34.04M1824.24 303.08h34.04M1960.4 604.92h34.04M1960.4 622.67h34.04M1892.32 1084.3h34.04M1926.36 1119.81h34.04M1926.36 1173.08h34.04"/><path stroke="#ffc7c9" stroke-width="18.25" d="M1858.28 107.78h34.04M1858.28 143.29h34.04M1926.36 445.12h34.04M1926.36 462.88h34.04M1926.36 480.63h34.04M1926.36 533.9h68.08M1960.4 1137.57h34.04M1960.4 1244.1h34.04M1960.4 1261.85h34.04"/><path stroke="#fdf2f4" stroke-width="18.25" d="M1892.32 107.78h34.04M1892.32 409.61h34.04M1960.4 1155.32h34.04M1790.2 1208.59h34.04M1960.4 1315.12h34.04M1960.4 1332.87h34.04M1960.4 1386.14h34.04M1960.4 1528.18h34.04M1960.4 1563.69h34.04M1858.28 1776.75h34.04M1858.28 1794.5h34.04"/><path stroke="#6863a5" stroke-width="18.25" d="M1926.36 107.78h34.04M1960.4 178.8h34.04M1926.36 249.82h34.04M1926.36 303.08h68.08M1960.4 356.35h34.04M1824.24 604.92h68.08M1824.24 640.43h34.04M1858.28 977.77h34.04M1824.24 1279.61h68.08M1858.28 1350.63h34.04M1824.24 1403.89h34.04M1824.24 1581.44h34.04M1824.24 1687.97h34.04M1858.28 1723.48h34.04M1824.24 1741.24h68.08"/><path stroke="#4e529b" stroke-width="18.25" d="M1960.4 107.78h34.04M1926.36 178.8h34.04M1926.36 196.55h34.04M1926.36 409.61h34.04M1858.28 480.63h34.04M1858.28 498.39h34.04M1824.24 1102.06h34.04M1858.28 1173.08h34.04M1824.24 1244.1h34.04M1824.24 1332.87h34.04M1824.24 1350.63h34.04"/><path stroke="#ff5b5b" stroke-width="18.25" d="M1790.2 125.53h34.04M1824.24 161.04h34.04M1892.32 693.69h34.04M1892.32 711.45h34.04M1892.32 729.2h34.04M1892.32 906.75h34.04"/><path stroke="#ff5f5f" stroke-width="18.25" d="M1824.24 125.53h34.04M1824.24 143.29h34.04M1790.2 161.04h34.04M1824.24 178.8h34.04M1824.24 196.55h34.04M1790.2 285.33h68.08M1824.24 338.59h34.04M1858.28 409.61h34.04M1926.36 675.94h34.04M1892.32 1013.28h34.04M1892.32 1031.04h34.04M1926.36 1102.06h34.04"/><path stroke="#ffe6e9" stroke-width="18.25" d="M1858.28 125.53h34.04M1858.28 320.84h34.04M1960.4 1510.42h34.04M1926.36 1794.5h34.04"/><path stroke="#e8e2f0" stroke-width="18.25" d="M1892.32 125.53h34.04M1892.32 161.04h34.04M1790.2 480.63h34.04M1790.2 498.39h34.04M1790.2 1297.36h34.04M1790.2 1315.12h34.04M1824.24 1492.67h34.04"/><path stroke="#897fb9" stroke-width="18.25" d="M1926.36 125.53h34.04M1892.32 214.31h68.08M1926.36 267.57h34.04M1824.24 445.12h68.08M1790.2 960.02h68.08M1824.24 1599.2h34.04M1858.28 1616.95h34.04M1858.28 1634.71h34.04M1790.2 1776.75h34.04"/><path stroke="#4a5099" stroke-width="18.25" d="M1960.4 125.53h34.04M1926.36 161.04h34.04M1960.4 285.33h34.04M1858.28 711.45h34.04M1858.28 729.2h34.04M1858.28 1368.38h34.04M1858.28 1386.14h34.04"/><path stroke="#ff6e6e" stroke-width="18.25" d="M1790.2 143.29h34.04M1824.24 356.35h34.04M1824.24 374.1h34.04M1960.4 427.37h34.04M1892.32 604.92h34.04M1892.32 622.67h34.04M1892.32 782.47h34.04M1892.32 800.22h68.08M1926.36 817.98h68.08M1926.36 835.73h34.04M1926.36 853.49h34.04M1892.32 871.24h68.08M1926.36 1066.55h34.04M1926.36 1084.3h34.04M1892.32 1137.57h34.04M1926.36 1297.36h34.04M1926.36 1315.12h34.04M1926.36 1439.4h34.04M1892.32 1794.5h34.04"/><path stroke="#f9f4f8" stroke-width="18.25" d="M1892.32 143.29h34.04M1960.4 1350.63h34.04M1960.4 1581.44h34.04"/><path stroke="#434d97" stroke-width="18.25" d="M1926.36 143.29h34.04M1892.32 374.1h34.04"/><path stroke="#a196c5" stroke-width="18.25" d="M1960.4 143.29h34.04M1960.4 161.04h34.04M1790.2 1705.73h34.04"/><path stroke="#ffdfe2" stroke-width="18.25" d="M1858.28 161.04h34.04M1824.24 391.86h34.04M1960.4 1297.36h34.04M1960.4 1368.38h34.04M1858.28 1758.99h34.04M1926.36 1812.26h34.04"/><path stroke="#ff8f8f" stroke-width="18.25" d="M1858.28 178.8h34.04M1858.28 214.31h34.04M1960.4 480.63h34.04M1960.4 569.41h34.04M1926.36 977.77h34.04M1926.36 1226.34h34.04M1926.36 1368.38h34.04M1926.36 1528.18h34.04M1960.4 1599.2h34.04M1960.4 1634.71h34.04M1960.4 1652.46h34.04M1960.4 1670.22h34.04M1960.4 1687.97h34.04M1960.4 1705.73h34.04M1926.36 1723.48h68.08M1926.36 1741.24h34.04M1960.4 1776.75h34.04"/><path stroke="#d9d1e6" stroke-width="18.25" d="M1892.32 178.8h34.04M1892.32 232.06h34.04M1790.2 1226.34h34.04M1824.24 1812.26h34.04"/><path stroke="#ff7f7f" stroke-width="18.25" d="M1790.2 196.55h34.04M1790.2 409.61h34.04M1960.4 995.53h34.04M1960.4 1066.55h34.04M1926.36 1244.1h34.04M1926.36 1332.87h34.04M1926.36 1421.65h34.04"/><path stroke="#ffa1a1" stroke-width="18.25" d="M1858.28 196.55h34.04M1858.28 374.1h34.04M1926.36 1599.2h34.04M1926.36 1616.95h34.04M1892.32 1776.75h34.04"/><path stroke="#ffcdd0" stroke-width="18.25" d="M1892.32 196.55h34.04M1858.28 285.33h34.04M1858.28 338.59h34.04M1926.36 569.41h34.04M1926.36 587.16h34.04M1960.4 1226.34h34.04M1960.4 1403.89h34.04M1960.4 1421.65h34.04M1960.4 1439.4h34.04M1960.4 1457.16h34.04M1960.4 1474.91h34.04M1960.4 1492.67h34.04"/><path stroke="#5f5da2" stroke-width="18.25" d="M1960.4 196.55h34.04M1858.28 587.16h34.04M1858.28 622.67h34.04M1824.24 658.18h34.04M1824.24 1173.08h34.04M1858.28 1190.83h34.04M1858.28 1208.59h34.04M1824.24 1261.85h68.08M1824.24 1297.36h68.08M1824.24 1315.12h68.08M1858.28 1403.89h34.04M1824.24 1421.65h68.08M1858.28 1439.4h34.04"/><path stroke="#ff3333" stroke-width="18.25" d="M1790.2 214.31h34.04M1790.2 249.82h34.04M1790.2 267.57h34.04M1892.32 516.14h34.04M1892.32 533.9h34.04M1892.32 551.65h34.04"/><path stroke="#ffb6b7" stroke-width="18.25" d="M1824.24 214.31h34.04M1858.28 267.57h34.04M1926.36 498.39h34.04M1960.4 1084.3h34.04M1926.36 1652.46h34.04M1926.36 1670.22h34.04M1926.36 1687.97h34.04M1926.36 1705.73h34.04"/><path stroke="#7b73b0" stroke-width="18.25" d="M1960.4 214.31h34.04M1960.4 249.82h34.04M1892.32 285.33h34.04M1926.36 338.59h34.04M1790.2 427.37h34.04M1790.2 445.12h34.04M1858.28 533.9h34.04M1824.24 569.41h34.04M1824.24 622.67h34.04M1790.2 746.96h102.12M1790.2 764.71h102.12M1824.24 782.47h68.08M1790.2 800.22h34.04M1858.28 800.22h34.04M1790.2 817.98h34.04M1858.28 817.98h34.04M1790.2 835.73h34.04M1858.28 835.73h34.04M1790.2 853.49h102.12M1790.2 871.24h34.04M1858.28 871.24h34.04M1790.2 889h34.04M1858.28 889h34.04M1790.2 906.75h34.04M1858.28 906.75h34.04M1790.2 924.51h102.12M1790.2 942.26h102.12M1790.2 977.77h34.04M1824.24 995.53h68.08M1790.2 1013.28h68.08M1790.2 1031.04h68.08M1824.24 1457.16h34.04M1824.24 1545.93h68.08M1824.24 1652.46h68.08M1824.24 1670.22h34.04"/><path stroke="#ff4343" stroke-width="18.25" d="M1790.2 232.06h34.04M1790.2 356.35h34.04M1926.36 1137.57h34.04M1892.32 1297.36h34.04M1892.32 1457.16h34.04M1892.32 1474.91h34.04M1960.4 1812.26h34.04"/><path stroke="#ff9696" stroke-width="18.25" d="M1824.24 232.06h34.04M1960.4 498.39h34.04M1960.4 587.16h34.04M1960.4 924.51h34.04M1960.4 942.26h34.04M1892.32 1048.79h34.04M1926.36 1510.42h34.04M1926.36 1545.93h34.04M1960.4 1758.99h34.04"/><path stroke="#ffa5a5" stroke-width="18.25" d="M1858.28 232.06h34.04M1926.36 1190.83h34.04M1926.36 1208.59h34.04M1926.36 1563.69h34.04M1926.36 1581.44h34.04"/><path stroke="#6f68a9" stroke-width="18.25" d="M1926.36 232.06h34.04M1926.36 320.84h68.08M1960.4 338.59h34.04M1926.36 356.35h34.04M1960.4 409.61h34.04M1858.28 427.37h34.04M1790.2 462.88h34.04M1858.28 462.88h34.04M1790.2 995.53h34.04M1824.24 1048.79h34.04M1790.2 1066.55h34.04M1824.24 1137.57h68.08M1824.24 1439.4h34.04M1824.24 1474.91h34.04M1790.2 1492.67h34.04M1858.28 1510.42h34.04M1790.2 1528.18h34.04M1824.24 1563.69h34.04M1824.24 1616.95h34.04"/><path stroke="#5a5aa0" stroke-width="18.25" d="M1960.4 232.06h34.04M1824.24 1758.99h34.04"/><path stroke="#ffbdbe" stroke-width="18.25" d="M1824.24 249.82h68.08M1824.24 267.57h34.04M1960.4 516.14h34.04M1926.36 604.92h34.04M1926.36 622.67h34.04M1960.4 675.94h34.04"/><path stroke="#c0b6d7" stroke-width="18.25" d="M1892.32 249.82h34.04M1892.32 391.86h34.04M1824.24 427.37h34.04M1790.2 640.43h34.04M1858.28 658.18h34.04M1790.2 1403.89h34.04M1790.2 1421.65h34.04M1790.2 1474.91h34.04"/><path stroke="#b0a5ce" stroke-width="18.25" d="M1892.32 267.57h34.04M1892.32 320.84h34.04M1790.2 551.65h34.04M1790.2 604.92h34.04M1790.2 622.67h34.04M1790.2 1084.3h34.04M1790.2 1741.24h34.04M1858.28 1812.26h34.04"/><path stroke="#6460a3" stroke-width="18.25" d="M1960.4 267.57h34.04M1858.28 569.41h34.04M1858.28 960.02h34.04M1824.24 1119.81h34.04M1858.28 1155.32h34.04M1858.28 1244.1h34.04M1790.2 1599.2h34.04M1824.24 1705.73h34.04"/><path stroke="#e0d9eb" stroke-width="18.25" d="M1926.36 285.33h34.04M1960.4 374.1h34.04M1790.2 1173.08h34.04"/><path stroke="#ff6464" stroke-width="18.25" d="M1790.2 303.08h34.04M1960.4 462.88h34.04M1892.32 746.96h34.04M1892.32 960.02h34.04M1892.32 1102.06h34.04M1892.32 1119.81h34.04M1960.4 1794.5h34.04"/><path stroke="#ff9a9a" stroke-width="18.25" d="M1858.28 303.08h34.04M1960.4 551.65h34.04M1960.4 1102.06h34.04M1960.4 1119.81h34.04M1926.36 1634.71h34.04M1960.4 1741.24h34.04M1892.32 1812.26h34.04"/><path stroke="#8279b4" stroke-width="18.25" d="M1892.32 303.08h34.04M1858.28 516.14h34.04M1824.24 587.16h34.04M1858.28 640.43h34.04M1858.28 1084.3h34.04M1858.28 1226.34h34.04M1858.28 1332.87h34.04M1824.24 1386.14h34.04M1790.2 1634.71h34.04M1858.28 1705.73h34.04M1824.24 1723.48h34.04M1824.24 1794.5h34.04"/><path stroke="#ff5555" stroke-width="18.25" d="M1790.2 320.84h34.04M1790.2 338.59h34.04M1892.32 675.94h34.04M1892.32 924.51h34.04M1892.32 942.26h34.04M1892.32 977.77h34.04M1892.32 995.53h34.04M1926.36 1048.79h34.04M1892.32 1155.32h68.08M1926.36 1776.75h34.04"/><path stroke="#ff4848" stroke-width="18.25" d="M1824.24 320.84h34.04M1892.32 1439.4h34.04M1892.32 1599.2h34.04M1892.32 1616.95h34.04M1892.32 1634.71h34.04M1892.32 1723.48h34.04M1892.32 1741.24h34.04"/><path stroke="#958abf" stroke-width="18.25" d="M1892.32 338.59h34.04M1824.24 480.63h34.04M1824.24 498.39h34.04M1790.2 658.18h34.04M1824.24 711.45h34.04M1858.28 1119.81h34.04M1790.2 1510.42h68.08M1790.2 1652.46h34.04"/><path stroke="#feedef" stroke-width="18.25" d="M1858.28 356.35h34.04M1790.2 1190.83h34.04"/><path stroke="#baafd4" stroke-width="18.25" d="M1892.32 356.35h34.04M1790.2 569.41h34.04M1790.2 675.94h34.04M1790.2 711.45h34.04M1790.2 729.2h34.04M1790.2 1102.06h34.04M1790.2 1439.4h34.04"/><path stroke="#9c91c3" stroke-width="18.25" d="M1926.36 374.1h34.04M1824.24 462.88h34.04M1824.24 675.94h34.04M1824.24 977.77h34.04M1858.28 1048.79h34.04M1790.2 1137.57h34.04M1824.24 1528.18h34.04M1858.28 1581.44h34.04M1858.28 1599.2h34.04M1790.2 1670.22h34.04M1790.2 1723.48h34.04"/><path stroke="#ff8585" stroke-width="18.25" d="M1790.2 391.86h34.04M1960.4 658.18h34.04M1960.4 711.45h34.04M1960.4 729.2h34.04M1926.36 746.96h34.04M1926.36 995.53h34.04M1926.36 1013.28h34.04M1926.36 1031.04h34.04M1926.36 1386.14h34.04M1926.36 1403.89h34.04"/><path stroke="#ff3a3a" stroke-width="18.25" d="M1858.28 391.86h34.04M1892.32 427.37h34.04M1892.32 445.12h34.04M1892.32 462.88h34.04M1892.32 480.63h34.04M1892.32 498.39h34.04M1892.32 569.41h34.04M1892.32 587.16h34.04M1892.32 658.18h34.04M1892.32 1226.34h34.04M1892.32 1244.1h34.04M1892.32 1261.85h34.04M1892.32 1315.12h34.04M1892.32 1332.87h34.04M1892.32 1368.38h34.04M1892.32 1386.14h34.04M1892.32 1403.89h34.04M1892.32 1421.65h34.04M1892.32 1670.22h34.04M1892.32 1687.97h34.04M1892.32 1705.73h34.04"/><path stroke="#52549c" stroke-width="18.25" d="M1926.36 391.86h34.04M1824.24 1066.55h34.04M1824.24 1084.3h34.04M1824.24 1155.32h34.04M1824.24 1190.83h34.04M1824.24 1208.59h34.04M1824.24 1226.34h34.04M1790.2 1794.5h34.04M1790.2 1812.26h34.04"/><path stroke="#a99eca" stroke-width="18.25" d="M1960.4 391.86h34.04M1790.2 516.14h34.04M1790.2 533.9h34.04M1790.2 1545.93h34.04M1790.2 1563.69h34.04M1790.2 1581.44h34.04M1790.2 1687.97h34.04"/><path stroke="#ff8989" stroke-width="18.25" d="M1824.24 409.61h34.04M1960.4 693.69h34.04M1960.4 906.75h34.04M1926.36 1261.85h34.04M1926.36 1492.67h34.04M1960.4 1616.95h34.04"/><path stroke="#efe9f4" stroke-width="18.25" d="M1926.36 427.37h34.04M1790.2 1155.32h34.04M1790.2 1244.1h34.04M1790.2 1332.87h34.04M1790.2 1350.63h34.04M1790.2 1368.38h34.04M1790.2 1386.14h34.04"/><path stroke="#ff7a7a" stroke-width="18.25" d="M1960.4 445.12h34.04M1926.36 693.69h34.04M1892.32 817.98h34.04M1892.32 835.73h34.04M1960.4 889h34.04M1926.36 924.51h34.04M1926.36 942.26h34.04M1926.36 960.02h68.08M1960.4 1013.28h34.04M1960.4 1031.04h34.04M1926.36 1279.61h34.04M1892.32 1758.99h68.08"/><path stroke="#9086bc" stroke-width="18.25" d="M1824.24 516.14h34.04M1824.24 693.69h34.04M1824.24 729.2h34.04M1858.28 1528.18h34.04M1858.28 1563.69h34.04"/><path stroke="#ffd8db" stroke-width="18.25" d="M1926.36 516.14h34.04M1926.36 551.65h34.04M1926.36 658.18h34.04M1960.4 1545.93h34.04"/><path stroke="#746cac" stroke-width="18.25" d="M1824.24 533.9h34.04M1824.24 551.65h68.08M1790.2 782.47h34.04M1824.24 800.22h34.04M1824.24 817.98h34.04M1824.24 835.73h34.04M1824.24 871.24h34.04M1824.24 889h34.04M1824.24 906.75h34.04M1858.28 1013.28h34.04M1858.28 1031.04h34.04M1790.2 1048.79h34.04M1858.28 1102.06h34.04M1790.2 1119.81h34.04M1824.24 1368.38h34.04M1790.2 1616.95h34.04M1824.24 1634.71h34.04M1858.28 1670.22h34.04M1858.28 1687.97h34.04"/><path stroke="#cac1dd" stroke-width="18.25" d="M1790.2 587.16h34.04M1858.28 1066.55h34.04M1790.2 1279.61h34.04"/><path stroke="#ff3f3f" stroke-width="18.25" d="M1892.32 640.43h34.04M1892.32 1190.83h34.04M1892.32 1208.59h34.04M1892.32 1350.63h34.04M1892.32 1492.67h34.04M1892.32 1652.46h34.04"/><path stroke="#f2edf5" stroke-width="18.25" d="M1926.36 640.43h34.04M1960.4 1279.61h34.04"/><path stroke="#454e98" stroke-width="18.25" d="M1858.28 675.94h34.04M1858.28 693.69h34.04M1824.24 1776.75h34.04"/><path stroke="#d1c8e1" stroke-width="18.25" d="M1790.2 693.69h34.04M1790.2 1261.85h34.04M1790.2 1457.16h34.04"/><path stroke="#ff6a6a" stroke-width="18.25" d="M1926.36 711.45h34.04M1926.36 729.2h34.04M1960.4 746.96h34.04M1892.32 764.71h34.04M1960.4 835.73h34.04M1892.32 889h34.04M1960.4 1048.79h34.04M1892.32 1066.55h34.04"/><path stroke="#ffafb0" stroke-width="18.25" d="M1960.4 1173.08h34.04M1960.4 1190.83h34.04M1960.4 1208.59h34.04"/><path stroke="#ff3737" stroke-width="18.25" d="M1892.32 1279.61h34.04M1892.32 1510.42h34.04M1892.32 1528.18h34.04M1892.32 1545.93h34.04M1892.32 1563.69h34.04M1892.32 1581.44h34.04"/><path stroke="#55579e" stroke-width="18.25" d="M1858.28 1457.16h34.04M1858.28 1474.91h34.04M1858.28 1492.67h34.04M1790.2 1758.99h34.04"/></g><g font-family="Liberation Serif, serif" font-size="17" fill="#2a2424"><text x="2002.5" y="113.58">TAG(13:0/19:5/19:5)</text><text x="2002.5" y="131.33">Cer/NS(d18:1/26:1)</text><text x="2002.5" y="149.09">HexCer/NS(d18:1/24:0)</text><text x="2002.5" y="166.84">PE(14:0e/19:0)</text><text x="2002.5" y="184.6">SM(d14:1/28:2)</text><text x="2002.5" y="202.35">PC(24:4/18:5)</text><text x="2002.5" y="220.11">TAG(14:0/20:0/22:0)</text><text x="2002.5" y="237.86">Cer/NS(d19:1/24:1)</text><text x="2002.5" y="255.62">TAG(12:0/22:4/22:4)</text><text x="2002.5" y="273.37">TAG(18:0/20:4/22:4)</text><text x="2002.5" y="291.13">HexCer/NS(d18:1/14:0)</text><text x="2002.5" y="308.88">PC(18:5e/19:2)</text><text x="2002.5" y="326.64">HexCer/NS(d18:1/24:1)</text><text x="2002.5" y="344.39">PEtOH(17:2/24:4)</text><text x="2002.5" y="362.15">Cer/NS(d18:2/24:2)</text><text x="2002.5" y="379.9">TAG(12:1/12:1/20:5)</text><text x="2002.5" y="397.66">PE(17:1/22:6)</text><text x="2002.5" y="415.41">Cer/NS(d18:1/25:1)</text><text x="2002.5" y="433.17">PE(14:1e/26:4)</text><text x="2002.5" y="450.92">PE(20:5e/21:2)</text><text x="2002.5" y="468.68">PE(14:0e/20:1)</text><text x="2002.5" y="486.43">PC(12:0/26:4)</text><text x="2002.5" y="504.19">TAG(12:1/22:0/22:0)</text><text x="2002.5" y="521.94">PC(14:0/22:3)</text><text x="2003" y="539.7" font-family="Liberation Sans, sans-serif" font-size="16.6" fill="#050303">TAG(17:1/18:1/18:1)</text><text x="2002.5" y="557.45">PC(18:0e/18:5)</text><text x="2002.5" y="575.21">PC(14:1/24:2)</text><text x="2002.5" y="592.96">TAG(16:3/16:3/16:3)</text><text x="2002.5" y="610.72">TAG(16:0/18:0/18:1)</text><text x="2002.5" y="628.47">TAG(17:1/21:0/21:0)</text><text x="2002.5" y="646.23">DAG(16:0/22:5)</text><text x="2002.5" y="663.98">PC(16:3/22:6)</text><text x="2002.5" y="681.74">TAG(14:0/16:0/16:0)</text><text x="2002.5" y="699.49">TAG(17:0/17:0/17:0)</text><text x="2002.5" y="717.25">TAG(15:0/15:0/17:0)</text><text x="2002.5" y="735">TAG(16:0/16:0/17:0)</text><text x="2002.5" y="752.76">CE(20:3)</text><text x="2002.5" y="770.51">CE(20:2)</text><text x="2002.5" y="788.27">CE(18:2)</text><text x="2002.5" y="806.02">CE(18:3)</text><text x="2002.5" y="823.78">CE(22:2)</text><text x="2002.5" y="841.53">CE(20:5)</text><text x="2002.5" y="859.29">CE(20:4)</text><text x="2002.5" y="877.04">CE(22:4)</text><text x="2002.5" y="894.8">CE(22:5)</text><text x="2002.5" y="912.55">CE(24:1)</text><text x="2002.5" y="930.31">CE(22:1)</text><text x="2002.5" y="948.06">CE(20:1)</text><text x="2002.5" y="965.82">TAG(12:0/12:0/12:0)</text><text x="2002.5" y="983.57">TAG(16:0/16:0/17:1)</text><text x="2002.5" y="1001.33">CE(16:0)</text><text x="2002.5" y="1019.08">CE(18:0)</text><text x="2002.5" y="1036.84">CE(18:1)</text><text x="2002.5" y="1054.59">PC(7:0/26:1)</text><text x="2002.5" y="1072.35">TAG(15:1/22:1/22:1)</text><text x="2002.5" y="1090.1">TAG(18:0/18:1/19:0)</text><text x="2002.5" y="1107.86">TAG(16:1/18:1/22:6)</text><text x="2002.5" y="1125.61">TAG(18:0/18:1/20:0)</text><text x="2002.5" y="1143.37">TAG(16:0/16:2/18:2)</text><text x="2002.5" y="1161.12">TAG(16:1/16:1/18:1)</text><text x="2003" y="1178.88" font-family="Liberation Sans, sans-serif" font-size="16.6" fill="#050303">TAG(12:0/20:3/20:3)</text><text x="2002.5" y="1196.63">TAG(17:0/18:2/18:2)</text><text x="2002.5" y="1214.39">TAG(16:0/18:2/18:2)</text><text x="2002.5" y="1232.14">TAG(15:0/16:0/18:1)</text><text x="2002.5" y="1249.9">TAG(16:0/16:0/18:0)</text><text x="2002.5" y="1267.65">TAG(14:0/18:1/18:1)</text><text x="2002.5" y="1285.41">TAG(14:0/16:0/16:1)</text><text x="2002.5" y="1303.16">TAG(15:0/16:0/16:1)</text><text x="2002.5" y="1320.92">TAG(16:0/17:0/18:1)</text><text x="2002.5" y="1338.67">TAG(14:0/16:1/18:1)</text><text x="2002.5" y="1356.43">TAG(17:1/18:0/18:1)</text><text x="2002.5" y="1374.18">TAG(17:0/18:0/22:0)</text><text x="2002.5" y="1391.94">TAG(17:0/21:0/21:0)</text><text x="2002.5" y="1409.69">TAG(17:0/17:0/17:1)</text><text x="2002.5" y="1427.45">TAG(15:0/16:1/18:0)</text><text x="2002.5" y="1445.2">TAG(16:0/16:0/16:0)</text><text x="2002.5" y="1462.96">TAG(17:0/17:0/19:0)</text><text x="2002.5" y="1480.71">TAG(16:0/17:0/18:0)</text><text x="2003" y="1498.47" font-family="Liberation Sans, sans-serif" font-size="16.6" fill="#050303">CE(22:6)</text><text x="2002.5" y="1516.22">TAG(12:0/12:0/20:1)</text><text x="2002.5" y="1533.98">PE(14:0e/26:2)</text><text x="2002.5" y="1551.73">TAG(17:1/18:0/18:0)</text><text x="2002.5" y="1569.49">TAG(17:0/18:0/18:1)</text><text x="2002.5" y="1587.24">TAG(18:0/18:0/19:2)</text><text x="2002.5" y="1605">SM(d14:0/22:2)</text><text x="2002.5" y="1622.75">TAG(16:0/16:0/16:1)</text><text x="2002.5" y="1640.51">TAG(16:0/16:0/18:2)</text><text x="2002.5" y="1658.26">PC(18:2/18:2)</text><text x="2002.5" y="1676.02">TAG(12:1/12:1/22:7)</text><text x="2002.5" y="1693.77">TAG(15:0/18:1/18:1)</text><text x="2002.5" y="1711.53">TAG(16:0/16:0/20:3)</text><text x="2002.5" y="1729.28">TAG(16:0/16:0/19:1)</text><text x="2002.5" y="1747.04">TAG(15:0/17:1/17:1)</text><text x="2002.5" y="1764.79">TAG(16:0/16:0/20:4)</text><text x="2002.5" y="1782.55">TAG(18:1/18:2/22:0)</text><text x="2002.5" y="1800.3">PC(4:0/27:0)</text><text x="2002.5" y="1818.06">TAG(13:0/20:0/20:0)</text></g><path fill="none" stroke="#1a1414" stroke-width="2.6" d="M1790.2 107.8H1770.4V125.5H1790.2M1790.2 143.3H1778.2V161.0H1790.2M1790.2 178.8H1766.0V196.6H1790.2M1778.2 152.2H1757.4V187.7H1766.0M1770.4 116.7H1750.8V169.9H1757.4M1790.2 249.8H1776.1V267.6H1790.2M1790.2 232.1H1769.9V258.7H1776.1M1790.2 214.3H1761.9V245.4H1769.9M1790.2 320.8H1775.1V338.6H1790.2M1775.1 329.7H1772.0V356.3H1790.2M1790.2 303.1H1759.8V343.0H1772.0M1790.2 285.3H1752.4V323.1H1759.8M1761.9 229.8H1740.2V304.2H1752.4M1750.8 143.3H1730.8V267.0H1740.2M1790.2 391.9H1754.5V409.6H1790.2M1790.2 374.1H1723.5V400.7H1754.5M1730.8 205.2H1717.7V387.4H1723.5M1790.2 445.1H1776.3V462.9H1790.2M1790.2 427.4H1764.5V454.0H1776.3M1790.2 480.6H1784.8V498.4H1790.2M1790.2 516.1H1780.0V533.9H1790.2M1790.2 569.4H1784.0V587.2H1790.2M1790.2 551.7H1777.7V578.3H1784.0M1780.0 525.0H1770.6V565.0H1777.7M1784.8 489.5H1761.5V545.0H1770.6M1764.5 440.7H1750.4V517.3H1761.5M1790.2 604.9H1782.1V622.7H1790.2M1790.2 640.4H1764.8V658.2H1790.2M1782.1 613.8H1750.7V649.3H1764.8M1750.4 479.0H1747.3V631.5H1750.7M1790.2 711.4H1787.5V729.2H1790.2M1790.2 693.7H1780.2V720.3H1787.5M1790.2 675.9H1770.2V707.0H1780.2M1790.2 764.7H1786.6V782.5H1790.2M1786.6 773.6H1785.9V800.2H1790.2M1790.2 818.0H1787.5V835.7H1790.2M1785.9 786.9H1781.6V826.9H1787.5M1790.2 853.5H1786.6V871.2H1790.2M1786.6 862.4H1784.0V889.0H1790.2M1781.6 806.9H1780.6V875.7H1784.0M1790.2 747.0H1777.9V841.3H1780.6M1790.2 924.5H1790.2V942.3H1790.2M1790.2 906.8H1784.0V933.4H1790.2M1790.2 960.0H1777.0V977.8H1790.2M1790.2 1013.3H1790.2V1031.0H1790.2M1790.2 995.5H1783.0V1022.2H1790.2M1777.0 968.9H1775.6V1008.8H1783.0M1784.0 920.1H1771.7V988.9H1775.6M1777.9 794.1H1767.8V954.5H1771.7M1790.2 1048.8H1764.9V1066.5H1790.2M1767.8 874.3H1753.2V1057.7H1764.9M1790.2 1084.3H1776.0V1102.1H1790.2M1790.2 1119.8H1768.5V1137.6H1790.2M1776.0 1093.2H1765.1V1128.7H1768.5M1753.2 966.0H1750.7V1110.9H1765.1M1770.2 691.5H1739.0V1038.5H1750.7M1790.2 1155.3H1766.3V1173.1H1790.2M1790.2 1190.8H1787.5V1208.6H1790.2M1790.2 1244.1H1777.4V1261.9H1790.2M1790.2 1226.3H1775.9V1253.0H1777.4M1787.5 1199.7H1767.9V1239.7H1775.9M1790.2 1297.4H1782.1V1315.1H1790.2M1790.2 1279.6H1773.0V1306.2H1782.1M1790.2 1332.9H1779.4V1350.6H1790.2M1773.0 1292.9H1771.6V1341.8H1779.4M1790.2 1368.4H1781.1V1386.1H1790.2M1790.2 1403.9H1784.8V1421.6H1790.2M1790.2 1457.2H1783.6V1474.9H1790.2M1790.2 1439.4H1780.6V1466.0H1783.6M1784.8 1412.8H1776.8V1452.7H1780.6M1781.1 1377.3H1767.9V1432.7H1776.8M1771.6 1317.3H1762.3V1405.0H1767.9M1767.9 1219.7H1756.6V1361.2H1762.3M1766.3 1164.2H1752.3V1290.4H1756.6M1790.2 1510.4H1773.6V1528.2H1790.2M1790.2 1563.7H1783.3V1581.4H1790.2M1790.2 1545.9H1772.4V1572.6H1783.3M1773.6 1519.3H1765.4V1559.2H1772.4M1790.2 1617.0H1784.0V1634.7H1790.2M1790.2 1599.2H1776.4V1625.8H1784.0M1790.2 1652.5H1785.9V1670.2H1790.2M1790.2 1688.0H1784.4V1705.7H1790.2M1785.9 1661.3H1780.0V1696.8H1784.4M1790.2 1723.5H1778.7V1741.2H1790.2M1780.0 1679.1H1771.7V1732.4H1778.7M1776.4 1612.5H1761.1V1705.7H1771.7M1765.4 1539.3H1753.5V1659.1H1761.1M1790.2 1492.7H1746.4V1599.2H1753.5M1752.3 1227.3H1734.2V1545.9H1746.4M1739.0 865.0H1728.7V1386.6H1734.2M1747.3 555.3H1719.9V1125.8H1728.7M1790.2 1759.0H1762.8V1776.7H1790.2M1790.2 1794.5H1754.1V1812.3H1790.2M1762.8 1767.9H1725.7V1803.4H1754.1M1719.9 840.5H1707.3V1785.6H1725.7M1717.7 296.3H1641.4V1313.1H1707.3"/><g font-family="Liberation Serif, serif" font-size="17" fill="#2a2424"><text transform="translate(1801.22 1830) rotate(90)">LTA10</text><text transform="translate(1835.26 1830) rotate(90)">LTA10</text><text transform="translate(1869.3 1830) rotate(90)">LTA10</text><text transform="translate(1903.34 1830) rotate(90)">CON</text><text transform="translate(1937.38 1830) rotate(90)">CON</text><text transform="translate(1971.42 1830) rotate(90)">CON</text></g><rect x="2200.2" y="99" width="28.6" height="10.47" fill="#ff3333"/><rect x="2200.2" y="109.07" width="28.6" height="10.47" fill="#ff3939"/><rect x="2200.2" y="119.14" width="28.6" height="10.47" fill="#ff3f3f"/><rect x="2200.2" y="129.2" width="28.6" height="10.47" fill="#ff4545"/><rect x="2200.2" y="139.27" width="28.6" height="10.47" fill="#ff4b4b"/><rect x="2200.2" y="149.34" width="28.6" height="10.47" fill="#ff5252"/><rect x="2200.2" y="159.41" width="28.6" height="10.47" fill="#ff5959"/><rect x="2200.2" y="169.48" width="28.6" height="10.47" fill="#ff6161"/><rect x="2200.2" y="179.55" width="28.6" height="10.47" fill="#ff6868"/><rect x="2200.2" y="189.61" width="28.6" height="10.47" fill="#ff7070"/><rect x="2200.2" y="199.68" width="28.6" height="10.47" fill="#ff7878"/><rect x="2200.2" y="209.75" width="28.6" height="10.47" fill="#ff8181"/><rect x="2200.2" y="219.82" width="28.6" height="10.47" fill="#ff8989"/><rect x="2200.2" y="229.89" width="28.6" height="10.47" fill="#ff9292"/><rect x="2200.2" y="239.95" width="28.6" height="10.47" fill="#ff9a9a"/><rect x="2200.2" y="250.02" width="28.6" height="10.47" fill="#ffa3a3"/><rect x="2200.2" y="260.09" width="28.6" height="10.47" fill="#ffafb0"/><rect x="2200.2" y="270.16" width="28.6" height="10.47" fill="#ffbdbe"/><rect x="2200.2" y="280.23" width="28.6" height="10.47" fill="#ffcacd"/><rect x="2200.2" y="290.3" width="28.6" height="10.47" fill="#ffd8db"/><rect x="2200.2" y="300.36" width="28.6" height="10.47" fill="#ffe6e9"/><rect x="2200.2" y="310.43" width="28.6" height="10.47" fill="#fdf2f4"/><rect x="2200.2" y="320.5" width="28.6" height="10.47" fill="#f6f0f7"/><rect x="2200.2" y="330.57" width="28.6" height="10.47" fill="#e8e2f0"/><rect x="2200.2" y="340.64" width="28.6" height="10.47" fill="#d9d1e6"/><rect x="2200.2" y="350.7" width="28.6" height="10.47" fill="#cac1dd"/><rect x="2200.2" y="360.77" width="28.6" height="10.47" fill="#bdb3d5"/><rect x="2200.2" y="370.84" width="28.6" height="10.47" fill="#b0a5ce"/><rect x="2200.2" y="380.91" width="28.6" height="10.47" fill="#a498c7"/><rect x="2200.2" y="390.98" width="28.6" height="10.47" fill="#9a8fc2"/><rect x="2200.2" y="401.05" width="28.6" height="10.47" fill="#9086bc"/><rect x="2200.2" y="411.11" width="28.6" height="10.47" fill="#877db7"/><rect x="2200.2" y="421.18" width="28.6" height="10.47" fill="#7d75b2"/><rect x="2200.2" y="431.25" width="28.6" height="10.47" fill="#746cac"/><rect x="2200.2" y="441.32" width="28.6" height="10.47" fill="#6a64a6"/><rect x="2200.2" y="451.39" width="28.6" height="10.47" fill="#6460a3"/><rect x="2200.2" y="461.45" width="28.6" height="10.47" fill="#5d5ca1"/><rect x="2200.2" y="471.52" width="28.6" height="10.47" fill="#57589e"/><rect x="2200.2" y="481.59" width="28.6" height="10.47" fill="#52549c"/><rect x="2200.2" y="491.66" width="28.6" height="10.47" fill="#4c529a"/><rect x="2200.2" y="501.73" width="28.6" height="10.47" fill="#474f98"/><rect x="2200.2" y="511.8" width="28.6" height="10.47" fill="#444d97"/><rect x="2200.2" y="521.86" width="28.6" height="10.47" fill="#404c96"/><rect x="2200.2" y="531.93" width="28.6" height="10.47" fill="#3d4b95"/><g font-family="Liberation Serif, serif" font-size="17" fill="#2a2424"><text x="2240.5" y="138">1.5</text><text x="2240.5" y="201">1</text><text x="2240.5" y="264">0.5</text><text x="2240.5" y="327">0</text><text x="2240.5" y="390">−0.5</text><text x="2240.5" y="453.7">−1</text><text x="2240.5" y="516.7">−1.5</text></g><g fill="none" shape-rendering="crispEdges"><path stroke="#7a60a0" stroke-width="30.69" d="M237.9 1962.79h75.74M351.51 1962.79h75.74M465.12 1962.79h75.74M578.73 1962.79h151.48M843.82 1962.79h37.87M919.56 1962.79h37.87M995.3 1962.79h75.74M1108.91 1962.79h37.87M351.51 1993.18h37.87M805.95 1993.18h37.87M957.43 1993.18h37.87M351.51 2023.57h75.74M692.34 2023.57h37.87M843.82 2023.57h37.87M919.56 2023.57h75.74M1033.17 2023.57h37.87M1108.91 2023.57h37.87M730.21 2053.97h75.74M881.69 2053.97h37.87M1146.78 2053.97h37.87M237.9 2084.36h75.74M427.25 2084.36h151.48M1033.17 2084.36h37.87M1108.91 2084.36h37.87M502.99 2114.74h75.74M805.95 2114.74h37.87M919.56 2114.74h75.74M1033.17 2114.74h75.74M1146.78 2114.74h75.74M237.9 2145.13h75.74M389.38 2145.13h151.48M578.73 2145.13h37.87M805.95 2145.13h37.87M919.56 2145.13h113.61M1108.91 2145.13h37.87M313.64 2175.53h113.61M465.12 2175.53h37.87M578.73 2175.53h75.74M1033.17 2175.53h37.87M1108.91 2175.53h37.87M1184.65 2175.53h37.87M1222.52 2205.91h37.87M1298.26 2205.91h37.87M1298.26 2236.3h37.87M1374 2236.3h37.87M1222.52 2266.69h75.74M1336.13 2266.69h37.87M1411.87 2266.69h37.87M1487.61 2266.69h37.87M1298.26 2297.09h37.87M1222.52 2327.47h37.87M1298.26 2327.47h75.74M1411.87 2327.47h37.87M1487.61 2327.47h37.87M1260.39 2357.86h37.87M1487.61 2357.86h37.87M1260.39 2388.26h75.74M1411.87 2388.26h75.74M1260.39 2418.64h75.74M1411.87 2418.64h37.87M1487.61 2418.64h37.87M1374 2449.03h37.87M1411.87 2479.43h37.87M1487.61 2479.43h37.87M1260.39 2509.82h75.74M1449.74 2509.82h37.87M1374 2540.2h37.87M1374 2570.59h37.87M1411.87 2600.98h37.87M1487.61 2600.98h37.87M1487.61 2631.38h37.87M1222.52 2661.76h37.87M1487.61 2661.76h37.87M1222.52 2692.15h75.74M1487.61 2692.15h37.87M1298.26 2722.55h75.74M1260.39 2752.93h113.61M1487.61 2752.93h37.87M1222.52 2783.32h75.74M1336.13 2783.32h37.87M1487.61 2783.32h37.87M1260.39 2813.72h37.87M1336.13 2813.72h37.87M1222.52 2844.11h75.74M1411.87 2844.11h37.87M1487.61 2844.11h37.87M1222.52 2874.49h37.87M1411.87 2874.49h113.61M1222.52 2904.88h37.87M1260.39 2935.28h37.87M1336.13 2935.28h37.87M1487.61 2935.28h37.87M1260.39 2965.66h37.87M1336.13 2965.66h37.87M1487.61 2965.66h37.87"/><path stroke="#5a4c98" stroke-width="30.69" d="M313.64 1962.79h37.87M237.9 2053.97h37.87M313.64 2053.97h113.61M578.73 2053.97h37.87M805.95 2053.97h37.87M313.64 2084.36h37.87M313.64 2114.74h37.87M313.64 2145.13h37.87M654.47 2175.53h37.87M768.08 2175.53h227.22M1222.52 2388.26h37.87M1222.52 2418.64h37.87M1222.52 2449.03h37.87M1222.52 2479.43h37.87M1222.52 2509.82h37.87M1374 2509.82h37.87M1222.52 2540.2h37.87M1222.52 2631.38h37.87M1374 2692.15h37.87M1374 2844.11h37.87M1374 2874.49h37.87M1260.39 2904.88h151.48M1487.61 2904.88h37.87M1374 2965.66h37.87"/><path stroke="#8e72ac" stroke-width="30.69" d="M427.25 1962.79h37.87M540.86 1962.79h37.87M730.21 1962.79h75.74M881.69 1962.79h37.87M1071.04 1962.79h37.87M1146.78 1962.79h75.74M237.9 1993.18h37.87M389.38 1993.18h37.87M465.12 1993.18h75.74M578.73 1993.18h151.48M843.82 1993.18h37.87M919.56 1993.18h37.87M995.3 1993.18h37.87M1108.91 1993.18h37.87M237.9 2023.57h75.74M427.25 2023.57h37.87M502.99 2023.57h37.87M578.73 2023.57h37.87M730.21 2023.57h75.74M881.69 2023.57h37.87M995.3 2023.57h37.87M1071.04 2023.57h37.87M1146.78 2023.57h75.74M654.47 2084.36h75.74M843.82 2084.36h75.74M1071.04 2084.36h37.87M1146.78 2084.36h75.74M843.82 2114.74h75.74M540.86 2145.13h37.87M616.6 2145.13h37.87M692.34 2145.13h37.87M843.82 2145.13h37.87M1033.17 2145.13h75.74M1184.65 2145.13h37.87M237.9 2175.53h37.87M427.25 2175.53h37.87M1071.04 2175.53h37.87M1260.39 2205.91h37.87M1336.13 2205.91h37.87M1411.87 2205.91h37.87M1487.61 2205.91h37.87M1336.13 2236.3h37.87M1411.87 2236.3h37.87M1487.61 2236.3h37.87M1449.74 2266.69h37.87M1222.52 2297.09h75.74M1336.13 2297.09h37.87M1411.87 2297.09h37.87M1487.61 2297.09h37.87M1260.39 2327.47h37.87M1411.87 2357.86h75.74M1449.74 2418.64h37.87M1298.26 2449.03h75.74M1411.87 2449.03h37.87M1487.61 2449.03h37.87M1260.39 2479.43h113.61M1449.74 2479.43h37.87M1411.87 2540.2h37.87M1487.61 2540.2h37.87M1411.87 2570.59h37.87M1487.61 2570.59h37.87M1260.39 2600.98h37.87M1336.13 2600.98h37.87M1449.74 2600.98h37.87M1336.13 2631.38h37.87M1449.74 2631.38h37.87M1260.39 2661.76h37.87M1449.74 2661.76h37.87M1411.87 2692.15h75.74M1260.39 2722.55h37.87M1487.61 2722.55h37.87M1411.87 2752.93h75.74M1449.74 2783.32h37.87M1222.52 2813.72h37.87M1411.87 2813.72h37.87M1487.61 2813.72h37.87M1449.74 2844.11h37.87M1411.87 2935.28h37.87M1222.52 2965.66h37.87M1411.87 2965.66h75.74"/><path stroke="#6a539a" stroke-width="30.69" d="M805.95 1962.79h37.87M957.43 1962.79h37.87M313.64 1993.18h37.87M313.64 2023.57h37.87M616.6 2023.57h37.87M805.95 2023.57h37.87M275.77 2053.97h37.87M427.25 2053.97h151.48M616.6 2053.97h113.61M843.82 2053.97h37.87M919.56 2053.97h227.22M1184.65 2053.97h37.87M389.38 2084.36h37.87M578.73 2084.36h37.87M805.95 2084.36h37.87M919.56 2084.36h113.61M237.9 2114.74h75.74M351.51 2114.74h151.48M578.73 2114.74h37.87M995.3 2114.74h37.87M1108.91 2114.74h37.87M502.99 2175.53h75.74M692.34 2175.53h75.74M995.3 2175.53h37.87M1146.78 2175.53h37.87M1374 2205.91h37.87M1222.52 2236.3h37.87M1298.26 2266.69h37.87M1374 2266.69h37.87M1374 2297.09h37.87M1374 2327.47h37.87M1222.52 2357.86h37.87M1298.26 2357.86h113.61M1336.13 2388.26h75.74M1487.61 2388.26h37.87M1336.13 2418.64h75.74M1374 2479.43h37.87M1336.13 2509.82h37.87M1411.87 2509.82h37.87M1487.61 2509.82h37.87M1222.52 2570.59h37.87M1222.52 2600.98h37.87M1374 2600.98h37.87M1374 2631.38h37.87M1374 2661.76h75.74M1298.26 2692.15h75.74M1222.52 2722.55h37.87M1374 2722.55h37.87M1222.52 2752.93h37.87M1374 2752.93h37.87M1298.26 2783.32h37.87M1374 2783.32h37.87M1298.26 2813.72h37.87M1374 2813.72h37.87M1298.26 2844.11h75.74M1298.26 2874.49h37.87M1411.87 2904.88h75.74M1298.26 2935.28h37.87M1374 2935.28h37.87M1298.26 2965.66h37.87"/><path stroke="#ff7a64" stroke-width="30.69" d="M1222.52 1962.79h37.87M1222.52 1993.18h37.87M1222.52 2053.97h37.87M1222.52 2114.74h37.87M1298.26 2175.53h37.87M1374 2175.53h37.87M1449.74 2175.53h75.74M616.6 2297.09h37.87M237.9 2540.2h75.74M237.9 2570.59h37.87M237.9 2600.98h37.87M237.9 2661.76h75.74M465.12 2661.76h37.87M1071.04 2661.76h37.87M616.6 2783.32h37.87M616.6 2935.28h37.87M768.08 2935.28h37.87M616.6 2965.66h37.87M692.34 2965.66h113.61"/><path stroke="#ff3a2c" stroke-width="30.69" d="M1260.39 1962.79h37.87M1374 1962.79h37.87M1449.74 1962.79h75.74M1449.74 1993.18h75.74M1411.87 2023.57h37.87M1374 2053.97h37.87M1487.61 2053.97h37.87M1298.26 2084.36h75.74M1298.26 2114.74h75.74M1260.39 2145.13h37.87M1487.61 2145.13h37.87M1222.52 2175.53h37.87M881.69 2205.91h37.87M1033.17 2205.91h37.87M1108.91 2205.91h113.61M881.69 2236.3h75.74M995.3 2236.3h75.74M1108.91 2236.3h113.61M351.51 2266.69h75.74M578.73 2266.69h37.87M995.3 2266.69h37.87M1108.91 2266.69h113.61M275.77 2297.09h37.87M389.38 2297.09h75.74M540.86 2297.09h75.74M1071.04 2297.09h37.87M1033.17 2327.47h37.87M1146.78 2327.47h75.74M389.38 2357.86h37.87M502.99 2357.86h113.61M919.56 2357.86h113.61M1108.91 2357.86h75.74M654.47 2388.26h37.87M805.95 2388.26h37.87M919.56 2388.26h113.61M805.95 2418.64h227.22M1146.78 2418.64h37.87M692.34 2449.03h265.09M1146.78 2449.03h75.74M692.34 2479.43h265.09M692.34 2509.82h75.74M805.95 2509.82h189.35M692.34 2540.2h113.61M843.82 2540.2h75.74M616.6 2570.59h37.87M692.34 2570.59h227.22M616.6 2600.98h37.87M692.34 2600.98h227.22M654.47 2631.38h37.87M957.43 2631.38h37.87M616.6 2661.76h37.87M692.34 2661.76h75.74M237.9 2692.15h75.74M351.51 2692.15h265.09M995.3 2692.15h37.87M1071.04 2692.15h75.74M351.51 2722.55h265.09M995.3 2722.55h37.87M1071.04 2722.55h37.87M351.51 2752.93h265.09M995.3 2752.93h37.87M237.9 2783.32h75.74M351.51 2783.32h265.09M237.9 2813.72h75.74M351.51 2813.72h265.09M1071.04 2813.72h37.87M275.77 2844.11h37.87M351.51 2844.11h265.09M995.3 2844.11h37.87M1071.04 2844.11h75.74M237.9 2874.49h37.87M313.64 2874.49h302.96M1108.91 2874.49h37.87M313.64 2904.88h75.74M237.9 2935.28h75.74M389.38 2935.28h113.61M578.73 2935.28h37.87M1071.04 2935.28h37.87M237.9 2965.66h75.74M351.51 2965.66h37.87M427.25 2965.66h75.74M578.73 2965.66h37.87"/><path stroke="#ff523f" stroke-width="30.69" d="M1298.26 1962.79h37.87M1487.61 2114.74h37.87M351.51 2205.91h113.61M502.99 2205.91h113.61M351.51 2236.3h113.61M502.99 2236.3h113.61M237.9 2266.69h113.61M692.34 2266.69h113.61M237.9 2297.09h37.87M351.51 2297.09h37.87M578.73 2327.47h37.87M237.9 2357.86h113.61M427.25 2357.86h37.87M654.47 2357.86h37.87M616.6 2418.64h37.87M578.73 2449.03h37.87M389.38 2540.2h37.87M1108.91 2540.2h37.87M1108.91 2570.59h37.87M1108.91 2600.98h37.87M616.6 2631.38h37.87M995.3 2631.38h37.87M654.47 2661.76h37.87M919.56 2661.76h37.87M881.69 2692.15h37.87M1033.17 2692.15h37.87M1146.78 2692.15h75.74M1146.78 2722.55h75.74M1146.78 2752.93h75.74M995.3 2813.72h37.87M1146.78 2813.72h75.74M768.08 2844.11h37.87M1146.78 2844.11h75.74M1071.04 2874.49h37.87M1146.78 2874.49h75.74M995.3 2904.88h37.87M1108.91 2904.88h37.87M995.3 2935.28h37.87M1108.91 2935.28h37.87M995.3 2965.66h37.87M1071.04 2965.66h75.74"/><path stroke="#ff4a38" stroke-width="30.69" d="M1336.13 1962.79h37.87M1411.87 1962.79h37.87M1260.39 1993.18h37.87M1336.13 1993.18h113.61M1260.39 2023.57h37.87M1374 2023.57h37.87M1449.74 2023.57h75.74M1260.39 2053.97h37.87M1411.87 2053.97h75.74M1260.39 2084.36h37.87M1449.74 2084.36h75.74M1260.39 2114.74h37.87M1298.26 2145.13h189.35M616.6 2205.91h37.87M692.34 2205.91h189.35M919.56 2205.91h113.61M1071.04 2205.91h37.87M692.34 2236.3h189.35M957.43 2236.3h37.87M1071.04 2236.3h37.87M427.25 2266.69h151.48M805.95 2266.69h189.35M1033.17 2266.69h75.74M465.12 2297.09h75.74M995.3 2297.09h75.74M1108.91 2297.09h113.61M389.38 2327.47h37.87M502.99 2327.47h37.87M616.6 2327.47h37.87M692.34 2327.47h265.09M995.3 2327.47h37.87M1071.04 2327.47h75.74M692.34 2357.86h227.22M1033.17 2357.86h75.74M1184.65 2357.86h37.87M313.64 2388.26h113.61M465.12 2388.26h151.48M692.34 2388.26h113.61M843.82 2388.26h75.74M1108.91 2388.26h113.61M313.64 2418.64h113.61M502.99 2418.64h113.61M654.47 2418.64h151.48M1033.17 2418.64h37.87M1108.91 2418.64h37.87M1184.65 2418.64h37.87M389.38 2449.03h37.87M502.99 2449.03h75.74M616.6 2449.03h75.74M957.43 2449.03h113.61M1108.91 2449.03h37.87M389.38 2479.43h37.87M502.99 2479.43h75.74M616.6 2479.43h75.74M957.43 2479.43h113.61M1108.91 2479.43h113.61M313.64 2509.82h113.61M502.99 2509.82h189.35M768.08 2509.82h37.87M995.3 2509.82h75.74M1108.91 2509.82h113.61M502.99 2540.2h37.87M616.6 2540.2h75.74M805.95 2540.2h37.87M919.56 2540.2h151.48M1146.78 2540.2h75.74M654.47 2570.59h37.87M919.56 2570.59h151.48M1146.78 2570.59h75.74M654.47 2600.98h37.87M919.56 2600.98h151.48M1146.78 2600.98h75.74M502.99 2631.38h75.74M692.34 2631.38h265.09M768.08 2661.76h151.48M1033.17 2661.76h37.87M1184.65 2661.76h37.87M805.95 2692.15h37.87M919.56 2692.15h75.74M237.9 2722.55h113.61M654.47 2722.55h37.87M805.95 2722.55h189.35M1108.91 2722.55h37.87M237.9 2752.93h113.61M654.47 2752.93h37.87M768.08 2752.93h227.22M1033.17 2752.93h113.61M313.64 2783.32h37.87M957.43 2783.32h37.87M1071.04 2783.32h75.74M313.64 2813.72h37.87M1108.91 2813.72h37.87M237.9 2844.11h37.87M313.64 2844.11h37.87M805.95 2844.11h189.35M1033.17 2844.11h37.87M805.95 2874.49h37.87M919.56 2874.49h75.74M237.9 2904.88h75.74M389.38 2904.88h189.35M805.95 2904.88h37.87M919.56 2904.88h75.74M313.64 2935.28h37.87M502.99 2935.28h75.74M313.64 2965.66h37.87M389.38 2965.66h37.87M502.99 2965.66h75.74"/><path stroke="#a682b4" stroke-width="30.69" d="M275.77 1993.18h37.87M427.25 1993.18h37.87M540.86 1993.18h37.87M730.21 1993.18h75.74M881.69 1993.18h37.87M1033.17 1993.18h37.87M1184.65 1993.18h37.87M465.12 2023.57h37.87M540.86 2023.57h37.87M654.47 2023.57h37.87M616.6 2084.36h37.87M730.21 2084.36h75.74M616.6 2114.74h189.35M654.47 2145.13h37.87M730.21 2145.13h37.87M881.69 2145.13h37.87M1146.78 2145.13h37.87M275.77 2175.53h37.87M1449.74 2205.91h37.87M1260.39 2236.3h37.87M1449.74 2327.47h37.87M1260.39 2449.03h37.87M1449.74 2449.03h37.87M1298.26 2540.2h75.74M1449.74 2540.2h37.87M1260.39 2570.59h113.61M1449.74 2570.59h37.87M1298.26 2600.98h37.87M1260.39 2631.38h75.74M1411.87 2631.38h37.87M1298.26 2661.76h75.74M1411.87 2722.55h75.74M1411.87 2783.32h37.87M1449.74 2813.72h37.87M1222.52 2935.28h37.87M1449.74 2935.28h37.87"/><path stroke="#bc96c4" stroke-width="30.69" d="M1071.04 1993.18h37.87M1146.78 1993.18h37.87M768.08 2145.13h37.87M1449.74 2236.3h37.87M1449.74 2297.09h37.87M1260.39 2540.2h37.87"/><path stroke="#ff5a46" stroke-width="30.69" d="M1298.26 1993.18h37.87M1298.26 2023.57h37.87M1298.26 2053.97h37.87M1374 2114.74h113.61M616.6 2236.3h75.74M313.64 2297.09h37.87M805.95 2297.09h37.87M881.69 2297.09h75.74M313.64 2327.47h75.74M427.25 2327.47h37.87M540.86 2327.47h37.87M957.43 2327.47h37.87M427.25 2388.26h37.87M616.6 2388.26h37.87M1033.17 2388.26h37.87M427.25 2418.64h75.74M1071.04 2418.64h37.87M351.51 2449.03h37.87M1071.04 2449.03h37.87M351.51 2479.43h37.87M578.73 2479.43h37.87M237.9 2509.82h37.87M465.12 2509.82h37.87M1071.04 2509.82h37.87M351.51 2540.2h37.87M540.86 2540.2h37.87M351.51 2570.59h75.74M502.99 2570.59h75.74M351.51 2600.98h75.74M502.99 2600.98h37.87M389.38 2631.38h37.87M465.12 2631.38h37.87M578.73 2631.38h37.87M1146.78 2631.38h37.87M957.43 2661.76h37.87M1146.78 2661.76h37.87M654.47 2692.15h37.87M843.82 2692.15h37.87M730.21 2722.55h75.74M1033.17 2722.55h37.87M692.34 2752.93h75.74M654.47 2783.32h37.87M805.95 2783.32h37.87M919.56 2783.32h37.87M919.56 2813.72h75.74M1033.17 2813.72h37.87M654.47 2844.11h113.61M692.34 2874.49h113.61M843.82 2874.49h75.74M1033.17 2874.49h37.87M1033.17 2904.88h75.74M805.95 2965.66h37.87"/><path stroke="#ff8e7a" stroke-width="30.69" d="M1222.52 2023.57h37.87M1222.52 2145.13h37.87M1260.39 2175.53h37.87M1411.87 2175.53h37.87"/><path stroke="#ff6a56" stroke-width="30.69" d="M1336.13 2023.57h37.87M1222.52 2084.36h37.87M1411.87 2084.36h37.87M1336.13 2175.53h37.87M237.9 2205.91h37.87M313.64 2205.91h37.87M465.12 2205.91h37.87M237.9 2236.3h37.87M313.64 2236.3h37.87M616.6 2266.69h75.74M692.34 2297.09h113.61M843.82 2297.09h37.87M957.43 2297.09h37.87M465.12 2327.47h37.87M616.6 2357.86h37.87M1071.04 2388.26h37.87M237.9 2449.03h37.87M313.64 2449.03h37.87M427.25 2449.03h75.74M237.9 2479.43h37.87M313.64 2479.43h37.87M427.25 2479.43h75.74M1071.04 2479.43h37.87M427.25 2509.82h37.87M313.64 2540.2h37.87M578.73 2540.2h37.87M1071.04 2540.2h37.87M578.73 2570.59h37.87M1071.04 2570.59h37.87M540.86 2600.98h75.74M1071.04 2600.98h37.87M427.25 2631.38h37.87M1108.91 2631.38h37.87M313.64 2661.76h75.74M427.25 2661.76h37.87M502.99 2661.76h113.61M995.3 2661.76h37.87M1108.91 2661.76h37.87M616.6 2692.15h37.87M692.34 2692.15h113.61M616.6 2722.55h37.87M692.34 2722.55h37.87M616.6 2752.93h37.87M843.82 2783.32h75.74M1033.17 2783.32h37.87M1184.65 2783.32h37.87M616.6 2813.72h75.74M805.95 2813.72h113.61M616.6 2874.49h37.87M616.6 2904.88h37.87M768.08 2904.88h37.87M843.82 2904.88h75.74M1146.78 2904.88h75.74M843.82 2965.66h75.74M1146.78 2965.66h75.74"/><path stroke="#ff624e" stroke-width="30.69" d="M1336.13 2053.97h37.87M1374 2084.36h37.87M275.77 2205.91h37.87M654.47 2205.91h37.87M275.77 2236.3h37.87M465.12 2236.3h37.87M275.77 2327.47h37.87M654.47 2327.47h37.87M237.9 2388.26h75.74M237.9 2418.64h75.74M275.77 2509.82h37.87M351.51 2631.38h37.87M1033.17 2631.38h37.87M1184.65 2631.38h37.87M389.38 2661.76h37.87M1146.78 2783.32h37.87M616.6 2844.11h37.87M654.47 2874.49h37.87M805.95 2935.28h37.87M919.56 2935.28h75.74M1033.17 2935.28h37.87M1146.78 2935.28h75.74M919.56 2965.66h75.74"/><path stroke="#725a9d" stroke-width="30.69" d="M351.51 2084.36h37.87M351.51 2145.13h37.87M1260.39 2874.49h37.87M1336.13 2874.49h37.87"/><path stroke="#ff725d" stroke-width="30.69" d="M654.47 2297.09h37.87M237.9 2327.47h37.87M275.77 2449.03h37.87M275.77 2479.43h37.87M427.25 2540.2h75.74M275.77 2570.59h75.74M427.25 2570.59h75.74M275.77 2600.98h75.74M427.25 2600.98h75.74M237.9 2631.38h113.61M1071.04 2631.38h37.87M692.34 2783.32h113.61M692.34 2813.72h113.61M654.47 2904.88h113.61M654.47 2935.28h113.61M843.82 2935.28h75.74M654.47 2965.66h37.87M1033.17 2965.66h37.87"/><path stroke="#ff4131" stroke-width="30.69" d="M351.51 2357.86h37.87M465.12 2357.86h37.87M313.64 2692.15h37.87M995.3 2783.32h37.87M275.77 2874.49h37.87M995.3 2874.49h37.87M578.73 2904.88h37.87M351.51 2935.28h37.87"/></g><path stroke="#ffffff" stroke-opacity="0.75" stroke-width="1.5" fill="none" d="M275.77 1947.6V2980.86M313.64 1947.6V2980.86M351.51 1947.6V2980.86M389.38 1947.6V2980.86M427.25 1947.6V2980.86M465.12 1947.6V2980.86M502.99 1947.6V2980.86M540.86 1947.6V2980.86M578.73 1947.6V2980.86M616.6 1947.6V2980.86M654.47 1947.6V2980.86M692.34 1947.6V2980.86M730.21 1947.6V2980.86M768.08 1947.6V2980.86M805.95 1947.6V2980.86M843.82 1947.6V2980.86M881.69 1947.6V2980.86M919.56 1947.6V2980.86M957.43 1947.6V2980.86M995.3 1947.6V2980.86M1033.17 1947.6V2980.86M1071.04 1947.6V2980.86M1108.91 1947.6V2980.86M1146.78 1947.6V2980.86M1184.65 1947.6V2980.86M1222.52 1947.6V2980.86M1260.39 1947.6V2980.86M1298.26 1947.6V2980.86M1336.13 1947.6V2980.86M1374 1947.6V2980.86M1411.87 1947.6V2980.86M1449.74 1947.6V2980.86M1487.61 1947.6V2980.86M237.9 1977.99H1525.48M237.9 2008.38H1525.48M237.9 2038.77H1525.48M237.9 2069.16H1525.48M237.9 2099.55H1525.48M237.9 2129.94H1525.48M237.9 2160.33H1525.48M237.9 2190.72H1525.48M237.9 2221.11H1525.48M237.9 2251.5H1525.48M237.9 2281.89H1525.48M237.9 2312.28H1525.48M237.9 2342.67H1525.48M237.9 2373.06H1525.48M237.9 2403.45H1525.48M237.9 2433.84H1525.48M237.9 2464.23H1525.48M237.9 2494.62H1525.48M237.9 2525.01H1525.48M237.9 2555.4H1525.48M237.9 2585.79H1525.48M237.9 2616.18H1525.48M237.9 2646.57H1525.48M237.9 2676.96H1525.48M237.9 2707.35H1525.48M237.9 2737.74H1525.48M237.9 2768.13H1525.48M237.9 2798.52H1525.48M237.9 2828.91H1525.48M237.9 2859.3H1525.48M237.9 2889.69H1525.48M237.9 2920.08H1525.48M237.9 2950.47H1525.48"/><path transform="scale(1,0.9)" stroke="#140e0e" stroke-width="9" stroke-linecap="round" fill="none" d="M332.57 2180.88h0M824.88 2180.88h0M1279.33 2180.88h0M1317.19 2180.88h0M1355.07 2180.88h0M1392.93 2180.88h0M1430.81 2180.88h0M1468.67 2180.88h0M1506.55 2180.88h0M332.57 2214.65h0M1279.33 2214.65h0M1355.07 2214.65h0M1392.93 2214.65h0M1430.81 2214.65h0M1468.67 2214.65h0M1506.55 2214.65h0M332.57 2248.42h0M1279.33 2248.42h0M1392.93 2248.42h0M1430.81 2248.42h0M1468.67 2248.42h0M1506.55 2248.42h0M256.83 2282.18h0M294.7 2282.18h0M332.57 2282.18h0M370.44 2282.18h0M408.31 2282.18h0M446.19 2282.18h0M484.05 2282.18h0M521.92 2282.18h0M597.66 2282.18h0M824.88 2282.18h0M976.36 2282.18h0M1014.23 2282.18h0M1127.85 2282.18h0M1279.33 2282.18h0M1317.19 2282.18h0M1392.93 2282.18h0M1430.81 2282.18h0M1468.67 2282.18h0M1506.55 2282.18h0M332.57 2315.95h0M1279.33 2315.95h0M1317.19 2315.95h0M1355.07 2315.95h0M1468.67 2315.95h0M1506.55 2315.95h0M256.83 2349.72h0M294.7 2349.72h0M332.57 2349.72h0M370.44 2349.72h0M597.66 2349.72h0M1127.85 2349.72h0M1279.33 2349.72h0M1317.19 2349.72h0M1355.07 2349.72h0M1392.93 2349.72h0M1506.55 2349.72h0M332.57 2383.48h0M1279.33 2383.48h0M1317.19 2383.48h0M1355.07 2383.48h0M1392.93 2383.48h0M1430.81 2383.48h0M1468.67 2383.48h0M1506.55 2383.48h0M673.4 2417.25h0M711.27 2417.25h0M749.14 2417.25h0M787.01 2417.25h0M824.88 2417.25h0M862.75 2417.25h0M900.62 2417.25h0M938.49 2417.25h0M976.36 2417.25h0M1241.45 2417.25h0M294.7 2451.02h0M370.44 2451.02h0M408.31 2451.02h0M446.19 2451.02h0M521.92 2451.02h0M559.79 2451.02h0M597.66 2451.02h0M635.53 2451.02h0M711.27 2451.02h0M749.14 2451.02h0M787.01 2451.02h0M824.88 2451.02h0M862.75 2451.02h0M900.62 2451.02h0M938.49 2451.02h0M976.36 2451.02h0M1014.23 2451.02h0M1052.11 2451.02h0M1089.97 2451.02h0M1127.85 2451.02h0M1165.71 2451.02h0M1203.59 2451.02h0M294.7 2484.78h0M370.44 2484.78h0M408.31 2484.78h0M446.19 2484.78h0M484.05 2484.78h0M521.92 2484.78h0M559.79 2484.78h0M597.66 2484.78h0M635.53 2484.78h0M673.4 2484.78h0M711.27 2484.78h0M749.14 2484.78h0M787.01 2484.78h0M824.88 2484.78h0M862.75 2484.78h0M900.62 2484.78h0M938.49 2484.78h0M976.36 2484.78h0M1014.23 2484.78h0M1052.11 2484.78h0M1089.97 2484.78h0M1127.85 2484.78h0M1165.71 2484.78h0M1203.59 2484.78h0M256.83 2518.55h0M294.7 2518.55h0M332.57 2518.55h0M370.44 2518.55h0M408.31 2518.55h0M446.19 2518.55h0M484.05 2518.55h0M521.92 2518.55h0M559.79 2518.55h0M597.66 2518.55h0M711.27 2518.55h0M749.14 2518.55h0M787.01 2518.55h0M824.88 2518.55h0M862.75 2518.55h0M900.62 2518.55h0M938.49 2518.55h0M976.36 2518.55h0M1014.23 2518.55h0M1052.11 2518.55h0M1089.97 2518.55h0M1127.85 2518.55h0M1165.71 2518.55h0M1203.59 2518.55h0M1317.19 2518.55h0M1392.93 2518.55h0M256.83 2552.32h0M294.7 2552.32h0M332.57 2552.32h0M370.44 2552.32h0M408.31 2552.32h0M446.19 2552.32h0M484.05 2552.32h0M521.92 2552.32h0M559.79 2552.32h0M597.66 2552.32h0M824.88 2552.32h0M900.62 2552.32h0M938.49 2552.32h0M1014.23 2552.32h0M1052.11 2552.32h0M1089.97 2552.32h0M1127.85 2552.32h0M1165.71 2552.32h0M1203.59 2552.32h0M332.57 2586.08h0M370.44 2586.08h0M408.31 2586.08h0M446.19 2586.08h0M521.92 2586.08h0M559.79 2586.08h0M597.66 2586.08h0M635.53 2586.08h0M711.27 2586.08h0M749.14 2586.08h0M787.01 2586.08h0M824.88 2586.08h0M862.75 2586.08h0M900.62 2586.08h0M938.49 2586.08h0M976.36 2586.08h0M1014.23 2586.08h0M1052.11 2586.08h0M1089.97 2586.08h0M1127.85 2586.08h0M1165.71 2586.08h0M1203.59 2586.08h0M256.83 2619.85h0M294.7 2619.85h0M332.57 2619.85h0M370.44 2619.85h0M408.31 2619.85h0M446.19 2619.85h0M484.05 2619.85h0M521.92 2619.85h0M559.79 2619.85h0M597.66 2619.85h0M673.4 2619.85h0M711.27 2619.85h0M749.14 2619.85h0M787.01 2619.85h0M824.88 2619.85h0M862.75 2619.85h0M900.62 2619.85h0M938.49 2619.85h0M976.36 2619.85h0M1014.23 2619.85h0M1052.11 2619.85h0M1089.97 2619.85h0M1127.85 2619.85h0M1165.71 2619.85h0M1203.59 2619.85h0M1392.93 2619.85h0M332.57 2653.62h0M370.44 2653.62h0M408.31 2653.62h0M446.19 2653.62h0M484.05 2653.62h0M521.92 2653.62h0M559.79 2653.62h0M597.66 2653.62h0M635.53 2653.62h0M673.4 2653.62h0M711.27 2653.62h0M749.14 2653.62h0M787.01 2653.62h0M824.88 2653.62h0M862.75 2653.62h0M900.62 2653.62h0M938.49 2653.62h0M976.36 2653.62h0M1014.23 2653.62h0M1052.11 2653.62h0M1127.85 2653.62h0M1165.71 2653.62h0M1203.59 2653.62h0M1241.45 2653.62h0M1392.93 2653.62h0M332.57 2687.38h0M370.44 2687.38h0M408.31 2687.38h0M446.19 2687.38h0M484.05 2687.38h0M521.92 2687.38h0M559.79 2687.38h0M597.66 2687.38h0M635.53 2687.38h0M673.4 2687.38h0M711.27 2687.38h0M749.14 2687.38h0M787.01 2687.38h0M824.88 2687.38h0M862.75 2687.38h0M900.62 2687.38h0M938.49 2687.38h0M976.36 2687.38h0M1014.23 2687.38h0M1052.11 2687.38h0M1089.97 2687.38h0M1127.85 2687.38h0M1165.71 2687.38h0M1203.59 2687.38h0M1241.45 2687.38h0M370.44 2721.15h0M408.31 2721.15h0M521.92 2721.15h0M559.79 2721.15h0M597.66 2721.15h0M635.53 2721.15h0M673.4 2721.15h0M711.27 2721.15h0M749.14 2721.15h0M787.01 2721.15h0M824.88 2721.15h0M862.75 2721.15h0M900.62 2721.15h0M938.49 2721.15h0M976.36 2721.15h0M1014.23 2721.15h0M1052.11 2721.15h0M1089.97 2721.15h0M1127.85 2721.15h0M1165.71 2721.15h0M1203.59 2721.15h0M1241.45 2721.15h0M370.44 2754.92h0M408.31 2754.92h0M521.92 2754.92h0M559.79 2754.92h0M597.66 2754.92h0M635.53 2754.92h0M673.4 2754.92h0M711.27 2754.92h0M749.14 2754.92h0M787.01 2754.92h0M824.88 2754.92h0M862.75 2754.92h0M900.62 2754.92h0M938.49 2754.92h0M976.36 2754.92h0M1014.23 2754.92h0M1052.11 2754.92h0M1127.85 2754.92h0M1165.71 2754.92h0M1203.59 2754.92h0M1241.45 2754.92h0M332.57 2788.68h0M370.44 2788.68h0M408.31 2788.68h0M484.05 2788.68h0M521.92 2788.68h0M559.79 2788.68h0M597.66 2788.68h0M635.53 2788.68h0M673.4 2788.68h0M711.27 2788.68h0M749.14 2788.68h0M787.01 2788.68h0M824.88 2788.68h0M862.75 2788.68h0M900.62 2788.68h0M938.49 2788.68h0M976.36 2788.68h0M1014.23 2788.68h0M1052.11 2788.68h0M1089.97 2788.68h0M1127.85 2788.68h0M1165.71 2788.68h0M1203.59 2788.68h0M1241.45 2788.68h0M1392.93 2788.68h0M1506.55 2788.68h0M408.31 2822.45h0M521.92 2822.45h0M559.79 2822.45h0M635.53 2822.45h0M673.4 2822.45h0M711.27 2822.45h0M749.14 2822.45h0M787.01 2822.45h0M824.88 2822.45h0M862.75 2822.45h0M900.62 2822.45h0M938.49 2822.45h0M976.36 2822.45h0M1014.23 2822.45h0M1052.11 2822.45h0M1127.85 2822.45h0M1165.71 2822.45h0M1203.59 2822.45h0M1241.45 2822.45h0M408.31 2856.22h0M521.92 2856.22h0M559.79 2856.22h0M635.53 2856.22h0M673.4 2856.22h0M711.27 2856.22h0M749.14 2856.22h0M787.01 2856.22h0M824.88 2856.22h0M862.75 2856.22h0M900.62 2856.22h0M938.49 2856.22h0M976.36 2856.22h0M1014.23 2856.22h0M1052.11 2856.22h0M1127.85 2856.22h0M1165.71 2856.22h0M1203.59 2856.22h0M1241.45 2856.22h0M408.31 2889.98h0M521.92 2889.98h0M635.53 2889.98h0M673.4 2889.98h0M711.27 2889.98h0M749.14 2889.98h0M787.01 2889.98h0M824.88 2889.98h0M862.75 2889.98h0M900.62 2889.98h0M938.49 2889.98h0M976.36 2889.98h0M1014.23 2889.98h0M1052.11 2889.98h0M1127.85 2889.98h0M1165.71 2889.98h0M1203.59 2889.98h0M1241.45 2889.98h0M408.31 2923.75h0M484.05 2923.75h0M521.92 2923.75h0M559.79 2923.75h0M597.66 2923.75h0M635.53 2923.75h0M673.4 2923.75h0M711.27 2923.75h0M749.14 2923.75h0M787.01 2923.75h0M824.88 2923.75h0M862.75 2923.75h0M900.62 2923.75h0M938.49 2923.75h0M976.36 2923.75h0M1014.23 2923.75h0M1165.71 2923.75h0M1241.45 2923.75h0M635.53 2957.52h0M673.4 2957.52h0M711.27 2957.52h0M749.14 2957.52h0M787.01 2957.52h0M824.88 2957.52h0M862.75 2957.52h0M900.62 2957.52h0M938.49 2957.52h0M976.36 2957.52h0M1052.11 2957.52h0M1165.71 2957.52h0M1203.59 2957.52h0M256.83 2991.28h0M294.7 2991.28h0M332.57 2991.28h0M370.44 2991.28h0M408.31 2991.28h0M446.19 2991.28h0M484.05 2991.28h0M521.92 2991.28h0M559.79 2991.28h0M597.66 2991.28h0M673.4 2991.28h0M824.88 2991.28h0M862.75 2991.28h0M900.62 2991.28h0M938.49 2991.28h0M976.36 2991.28h0M1014.23 2991.28h0M1052.11 2991.28h0M1089.97 2991.28h0M1127.85 2991.28h0M1165.71 2991.28h0M1203.59 2991.28h0M1317.19 2991.28h0M1392.93 2991.28h0M256.83 3025.05h0M294.7 3025.05h0M332.57 3025.05h0M370.44 3025.05h0M408.31 3025.05h0M446.19 3025.05h0M484.05 3025.05h0M521.92 3025.05h0M559.79 3025.05h0M597.66 3025.05h0M673.4 3025.05h0M749.14 3025.05h0M787.01 3025.05h0M824.88 3025.05h0M862.75 3025.05h0M900.62 3025.05h0M938.49 3025.05h0M976.36 3025.05h0M1014.23 3025.05h0M1052.11 3025.05h0M1089.97 3025.05h0M1127.85 3025.05h0M1165.71 3025.05h0M1203.59 3025.05h0M256.83 3058.82h0M294.7 3058.82h0M332.57 3058.82h0M370.44 3058.82h0M408.31 3058.82h0M446.19 3058.82h0M484.05 3058.82h0M521.92 3058.82h0M559.79 3058.82h0M597.66 3058.82h0M673.4 3058.82h0M711.27 3058.82h0M749.14 3058.82h0M787.01 3058.82h0M824.88 3058.82h0M862.75 3058.82h0M900.62 3058.82h0M938.49 3058.82h0M976.36 3058.82h0M1014.23 3058.82h0M1052.11 3058.82h0M1089.97 3058.82h0M1127.85 3058.82h0M1165.71 3058.82h0M1203.59 3058.82h0M1392.93 3058.82h0M256.83 3092.58h0M294.7 3092.58h0M332.57 3092.58h0M370.44 3092.58h0M408.31 3092.58h0M446.19 3092.58h0M484.05 3092.58h0M521.92 3092.58h0M559.79 3092.58h0M597.66 3092.58h0M673.4 3092.58h0M824.88 3092.58h0M938.49 3092.58h0M976.36 3092.58h0M1014.23 3092.58h0M1089.97 3092.58h0M1127.85 3092.58h0M1165.71 3092.58h0M1392.93 3092.58h0M256.83 3126.35h0M294.7 3126.35h0M332.57 3126.35h0M370.44 3126.35h0M408.31 3126.35h0M446.19 3126.35h0M484.05 3126.35h0M521.92 3126.35h0M559.79 3126.35h0M597.66 3126.35h0M938.49 3126.35h0M976.36 3126.35h0M1014.23 3126.35h0M1052.11 3126.35h0M1089.97 3126.35h0M1127.85 3126.35h0M1165.71 3126.35h0M1203.59 3126.35h0M1392.93 3126.35h0M256.83 3160.12h0M294.7 3160.12h0M332.57 3160.12h0M370.44 3160.12h0M408.31 3160.12h0M446.19 3160.12h0M484.05 3160.12h0M521.92 3160.12h0M559.79 3160.12h0M597.66 3160.12h0M673.4 3160.12h0M711.27 3160.12h0M749.14 3160.12h0M787.01 3160.12h0M824.88 3160.12h0M862.75 3160.12h0M900.62 3160.12h0M938.49 3160.12h0M976.36 3160.12h0M1014.23 3160.12h0M1052.11 3160.12h0M1089.97 3160.12h0M1127.85 3160.12h0M1165.71 3160.12h0M1203.59 3160.12h0M1392.93 3160.12h0M256.83 3193.88h0M294.7 3193.88h0M332.57 3193.88h0M370.44 3193.88h0M408.31 3193.88h0M446.19 3193.88h0M484.05 3193.88h0M521.92 3193.88h0M559.79 3193.88h0M597.66 3193.88h0M824.88 3193.88h0M862.75 3193.88h0M900.62 3193.88h0M938.49 3193.88h0M976.36 3193.88h0M1014.23 3193.88h0M1052.11 3193.88h0M1089.97 3193.88h0M1127.85 3193.88h0M1165.71 3193.88h0M1203.59 3193.88h0M1317.19 3193.88h0M1392.93 3193.88h0M256.83 3227.65h0M294.7 3227.65h0M332.57 3227.65h0M370.44 3227.65h0M408.31 3227.65h0M446.19 3227.65h0M484.05 3227.65h0M521.92 3227.65h0M559.79 3227.65h0M597.66 3227.65h0M824.88 3227.65h0M938.49 3227.65h0M976.36 3227.65h0M1014.23 3227.65h0M1052.11 3227.65h0M1089.97 3227.65h0M1127.85 3227.65h0M1279.33 3227.65h0M1317.19 3227.65h0M1355.07 3227.65h0M1392.93 3227.65h0M1430.81 3227.65h0M1468.67 3227.65h0M1506.55 3227.65h0M256.83 3261.42h0M294.7 3261.42h0M332.57 3261.42h0M370.44 3261.42h0M408.31 3261.42h0M446.19 3261.42h0M484.05 3261.42h0M521.92 3261.42h0M559.79 3261.42h0M597.66 3261.42h0M1014.23 3261.42h0M1089.97 3261.42h0M1127.85 3261.42h0M1165.71 3261.42h0M1203.59 3261.42h0M1317.19 3261.42h0M1392.93 3261.42h0M256.83 3295.18h0M294.7 3295.18h0M332.57 3295.18h0M370.44 3295.18h0M408.31 3295.18h0M446.19 3295.18h0M484.05 3295.18h0M521.92 3295.18h0M559.79 3295.18h0M597.66 3295.18h0M1014.23 3295.18h0M1089.97 3295.18h0M1127.85 3295.18h0M1317.19 3295.18h0M1392.93 3295.18h0"/><g font-family="Liberation Sans, sans-serif" font-size="14.2" fill="#4a4040" text-anchor="end"><text transform="translate(233 1964.79) scale(1.1 1)">PE(18:0/19:2)</text><text transform="translate(233 1995.18) scale(1.1 1)">PC(18:1/20:2)</text><text transform="translate(233 2025.57) scale(1.1 1)">SM(d14:0/22:2)</text><text transform="translate(233 2055.97) scale(1.1 1)">PE(16:0/22:0)</text><text transform="translate(233 2086.36) scale(1.1 1)">PEtOH(16:1/18:1)</text><text transform="translate(233 2116.74) scale(1.1 1)">PEtOH(18:1/18:1)</text><text transform="translate(233 2147.13) scale(1.1 1)">PC(18:0/18:1)</text><text transform="translate(233 2177.53) scale(1.1 1)">GlcADG(16:0/22:2)</text><text transform="translate(233 2207.91) scale(1.1 1)">HexCer/NS(d15:3/32:2)</text><text transform="translate(233 2238.3) scale(1.1 1)">HBMP(12:0/14:0/18:2)</text><text transform="translate(233 2268.69) scale(1.1 1)">Cer/NS(d19:1/24:1)</text><text transform="translate(233 2299.09) scale(1.1 1)">Cer/NS(d18:2/25:1)</text><text transform="translate(233 2329.47) scale(1.1 1)">PEtOH(19:0/20:5)</text><text transform="translate(233 2359.86) scale(1.1 1)">HexCer/NS(d18:1/24:1)</text><text transform="translate(233 2390.26) scale(1.1 1)">FAHFA(24:2/20:4)</text><text transform="translate(233 2420.64) scale(1.1 1)">PE(22:5e/15:0)</text><text transform="translate(233 2451.03) scale(1.1 1)">SHexCer(d37:1)</text><text transform="translate(233 2481.43) scale(1.1 1)">SQDG(20:3/20:3)</text><text transform="translate(233 2511.82) scale(1.1 1)">PI(20:1/22:4)</text><text transform="translate(233 2542.2) scale(1.1 1)">SQDG(17:0/17:0)</text><text transform="translate(233 2572.59) scale(1.1 1)">PE(16:1/20:5)</text><text transform="translate(233 2602.98) scale(1.1 1)">OxPI(16:0/18:1+3O)</text><text transform="translate(233 2633.38) scale(1.1 1)">SM(d14:2/28:2)</text><text transform="translate(233 2663.76) scale(1.1 1)">Cer/NDS(d19:0/22:1)</text><text transform="translate(233 2694.15) scale(1.1 1)">HexCer/NS(d18:1/26:1)</text><text transform="translate(233 2724.55) scale(1.1 1)">SQDG(18:0/20:5)</text><text transform="translate(233 2754.93) scale(1.1 1)">GlcADG(20:0/20:0)</text><text transform="translate(233 2785.32) scale(1.1 1)">Cer/NDS(d18:0/14:0)</text><text transform="translate(233 2815.72) scale(1.1 1)">Cer/NS(d18:1/26:1)</text><text transform="translate(233 2846.11) scale(1.1 1)">MGDG(14:0/24:1)</text><text transform="translate(233 2876.49) scale(1.1 1)">HexCer/NS(d25:2/16:0)</text><text transform="translate(233 2906.88) scale(1.1 1)">PE(14:1e/20:4)</text><text transform="translate(233 2937.28) scale(1.1 1)">PC(20:0/20:1)</text><text transform="translate(233 2967.66) scale(1.1 1)">HexCer/NS(d27:2/16:0)</text><text transform="translate(260.83 2987) scale(1 0.8) rotate(-45) scale(1.1 1)">HexCer/NS(d27:2/16:0)</text><text transform="translate(298.7 2987) scale(1 0.8) rotate(-45) scale(1.1 1)">PC(20:0/20:1)</text><text transform="translate(336.57 2987) scale(1 0.8) rotate(-45) scale(1.1 1)">PE(14:1e/20:4)</text><text transform="translate(374.44 2987) scale(1 0.8) rotate(-45) scale(1.1 1)">HexCer/NS(d25:2/16:0)</text><text transform="translate(412.31 2987) scale(1 0.8) rotate(-45) scale(1.1 1)">MGDG(14:0/24:1)</text><text transform="translate(450.19 2987) scale(1 0.8) rotate(-45) scale(1.1 1)">Cer/NS(d18:1/26:1)</text><text transform="translate(488.05 2987) scale(1 0.8) rotate(-45) scale(1.1 1)">Cer/NDS(d18:0/14:0)</text><text transform="translate(525.92 2987) scale(1 0.8) rotate(-45) scale(1.1 1)">GlcADG(20:0/20:0)</text><text transform="translate(563.79 2987) scale(1 0.8) rotate(-45) scale(1.1 1)">SQDG(18:0/20:5)</text><text transform="translate(601.66 2987) scale(1 0.8) rotate(-45) scale(1.1 1)">HexCer/NS(d18:1/26:1)</text><text transform="translate(639.53 2987) scale(1 0.8) rotate(-45) scale(1.1 1)">Cer/NDS(d19:0/22:1)</text><text transform="translate(677.4 2987) scale(1 0.8) rotate(-45) scale(1.1 1)">SM(d14:2/28:2)</text><text transform="translate(715.27 2987) scale(1 0.8) rotate(-45) scale(1.1 1)">OxPI(16:0/18:1+3O)</text><text transform="translate(753.14 2987) scale(1 0.8) rotate(-45) scale(1.1 1)">PE(16:1/20:5)</text><text transform="translate(791.01 2987) scale(1 0.8) rotate(-45) scale(1.1 1)">SQDG(17:0/17:0)</text><text transform="translate(828.88 2987) scale(1 0.8) rotate(-45) scale(1.1 1)">PI(20:1/22:4)</text><text transform="translate(866.75 2987) scale(1 0.8) rotate(-45) scale(1.1 1)">SQDG(20:3/20:3)</text><text transform="translate(904.62 2987) scale(1 0.8) rotate(-45) scale(1.1 1)">SHexCer(d37:1)</text><text transform="translate(942.49 2987) scale(1 0.8) rotate(-45) scale(1.1 1)">PE(22:5e/15:0)</text><text transform="translate(980.36 2987) scale(1 0.8) rotate(-45) scale(1.1 1)">FAHFA(24:2/20:4)</text><text transform="translate(1018.23 2987) scale(1 0.8) rotate(-45) scale(1.1 1)">HexCer/NS(d18:1/24:1)</text><text transform="translate(1056.11 2987) scale(1 0.8) rotate(-45) scale(1.1 1)">PEtOH(19:0/20:5)</text><text transform="translate(1093.97 2987) scale(1 0.8) rotate(-45) scale(1.1 1)">Cer/NS(d18:2/25:1)</text><text transform="translate(1131.85 2987) scale(1 0.8) rotate(-45) scale(1.1 1)">Cer/NS(d19:1/24:1)</text><text transform="translate(1169.71 2987) scale(1 0.8) rotate(-45) scale(1.1 1)">HBMP(12:0/14:0/18:2)</text><text transform="translate(1207.59 2987) scale(1 0.8) rotate(-45) scale(1.1 1)">HexCer/NS(d15:3/32:2)</text><text transform="translate(1245.45 2987) scale(1 0.8) rotate(-45) scale(1.1 1)">GlcADG(16:0/22:2)</text><text transform="translate(1283.33 2987) scale(1 0.8) rotate(-45) scale(1.1 1)">PC(18:0/18:1)</text><text transform="translate(1321.19 2987) scale(1 0.8) rotate(-45) scale(1.1 1)">PEtOH(18:1/18:1)</text><text transform="translate(1359.07 2987) scale(1 0.8) rotate(-45) scale(1.1 1)">PEtOH(16:1/18:1)</text><text transform="translate(1396.93 2987) scale(1 0.8) rotate(-45) scale(1.1 1)">PE(16:0/22:0)</text><text transform="translate(1434.81 2987) scale(1 0.8) rotate(-45) scale(1.1 1)">SM(d14:0/22:2)</text><text transform="translate(1472.67 2987) scale(1 0.8) rotate(-45) scale(1.1 1)">PC(18:1/20:2)</text><text transform="translate(1510.55 2987) scale(1 0.8) rotate(-45) scale(1.1 1)">PE(18:0/19:2)</text></g><rect x="1544.1" y="2397.6" width="18.3" height="2.61" fill="#ff3a2a"/><rect x="1544.1" y="2399.82" width="18.3" height="2.61" fill="#ff4333"/><rect x="1544.1" y="2402.03" width="18.3" height="2.61" fill="#ff4c3b"/><rect x="1544.1" y="2404.24" width="18.3" height="2.61" fill="#ff5643"/><rect x="1544.1" y="2406.46" width="18.3" height="2.61" fill="#ff5f4c"/><rect x="1544.1" y="2408.67" width="18.3" height="2.61" fill="#ff6854"/><rect x="1544.1" y="2410.89" width="18.3" height="2.61" fill="#ff6f5c"/><rect x="1544.1" y="2413.11" width="18.3" height="2.61" fill="#ff7764"/><rect x="1544.1" y="2415.32" width="18.3" height="2.61" fill="#ff7f6c"/><rect x="1544.1" y="2417.53" width="18.3" height="2.61" fill="#ff8674"/><rect x="1544.1" y="2419.75" width="18.3" height="2.61" fill="#ff8f7e"/><rect x="1544.1" y="2421.96" width="18.3" height="2.61" fill="#ff9a89"/><rect x="1544.1" y="2424.18" width="18.3" height="2.61" fill="#ffa594"/><rect x="1544.1" y="2426.39" width="18.3" height="2.61" fill="#ffb09f"/><rect x="1544.1" y="2428.61" width="18.3" height="2.61" fill="#ffbbaa"/><rect x="1544.1" y="2430.82" width="18.3" height="2.61" fill="#ffc6b8"/><rect x="1544.1" y="2433.04" width="18.3" height="2.61" fill="#ffd3c8"/><rect x="1544.1" y="2435.26" width="18.3" height="2.61" fill="#ffe0d8"/><rect x="1544.1" y="2437.47" width="18.3" height="2.61" fill="#ffece7"/><rect x="1544.1" y="2439.68" width="18.3" height="2.61" fill="#fff9f7"/><rect x="1544.1" y="2441.9" width="18.3" height="2.61" fill="#fbf8fc"/><rect x="1544.1" y="2444.11" width="18.3" height="2.61" fill="#f3ebf5"/><rect x="1544.1" y="2446.33" width="18.3" height="2.61" fill="#ecdeee"/><rect x="1544.1" y="2448.55" width="18.3" height="2.61" fill="#e4d0e7"/><rect x="1544.1" y="2450.76" width="18.3" height="2.61" fill="#dcc3e0"/><rect x="1544.1" y="2452.97" width="18.3" height="2.61" fill="#d3b7da"/><rect x="1544.1" y="2455.19" width="18.3" height="2.61" fill="#caacd4"/><rect x="1544.1" y="2457.4" width="18.3" height="2.61" fill="#c0a2ce"/><rect x="1544.1" y="2459.62" width="18.3" height="2.61" fill="#b698c7"/><rect x="1544.1" y="2461.84" width="18.3" height="2.61" fill="#ad8dc1"/><rect x="1544.1" y="2464.05" width="18.3" height="2.61" fill="#a283bb"/><rect x="1544.1" y="2466.26" width="18.3" height="2.61" fill="#9679b5"/><rect x="1544.1" y="2468.48" width="18.3" height="2.61" fill="#8a6eaf"/><rect x="1544.1" y="2470.69" width="18.3" height="2.61" fill="#7d64a9"/><rect x="1544.1" y="2472.91" width="18.3" height="2.61" fill="#715aa3"/><rect x="1544.1" y="2475.12" width="18.3" height="2.61" fill="#67549f"/><rect x="1544.1" y="2477.34" width="18.3" height="2.61" fill="#5e529e"/><rect x="1544.1" y="2479.55" width="18.3" height="2.61" fill="#55509d"/><rect x="1544.1" y="2481.77" width="18.3" height="2.61" fill="#4c4f9c"/><rect x="1544.1" y="2483.98" width="18.3" height="2.61" fill="#434d9b"/><g font-family="Liberation Sans, sans-serif" font-size="8" font-weight="bold" fill="#3a3535"><text x="1543.5" y="2390.6" font-size="11.5">Corr</text><text x="1568.2" y="2400.7">1.0</text><text x="1568.2" y="2422.8">0.5</text><text x="1568.2" y="2444.9">0.0</text><text x="1568.2" y="2467.1">−0.5</text><text x="1568.2" y="2489.2">−1.0</text></g><g fill="none" shape-rendering="crispEdges"><path stroke="#ffa1a1" stroke-width="30.93" d="M1765 1970.01h35.9M1836.8 2456.89h35.9M1908.6 2852.48h35.9M1908.6 2882.91h35.9"/><path stroke="#ff6e6e" stroke-width="30.93" d="M1800.9 1970.01h35.9M1765 2487.32h71.8M1800.9 2517.76h35.9M1800.9 2548.18h35.9"/><path stroke="#ff5555" stroke-width="30.93" d="M1836.8 1970.01h35.9M1836.8 2000.44h35.9M1800.9 2122.16h71.8M1800.9 2152.59h71.8M1836.8 2183.03h35.9M1800.9 2274.32h35.9M1836.8 2304.74h35.9M1836.8 2365.61h35.9M1836.8 2426.47h35.9M1765 2578.61h35.9"/><path stroke="#52549c" stroke-width="30.93" d="M1872.7 1970.01h35.9M1944.5 2456.89h35.9M1944.5 2548.18h35.9M1765 2943.78h35.9"/><path stroke="#897fb9" stroke-width="30.93" d="M1908.6 1970.01h35.9M1944.5 2061.3h35.9M1944.5 2609.05h35.9M1800.9 2822.05h35.9M1836.8 2943.78h35.9M1836.8 2974.2h35.9"/><path stroke="#a196c5" stroke-width="30.93" d="M1944.5 1970.01h35.9M1944.5 2000.44h35.9M1872.7 2669.9h35.9M1872.7 2700.34h35.9M1908.6 2730.76h35.9M1765 2822.05h35.9M1800.9 2852.48h35.9M1836.8 2913.34h35.9"/><path stroke="#d1c8e1" stroke-width="30.93" d="M1765 2000.44h35.9M1765 2061.3h35.9M1872.7 2213.45h35.9M1872.7 2639.47h35.9M1765 2791.62h35.9"/><path stroke="#ff5050" stroke-width="30.93" d="M1800.9 2000.44h35.9M1765 2609.05h35.9M1800.9 2700.34h35.9M1908.6 2974.2h35.9"/><path stroke="#9086bc" stroke-width="30.93" d="M1872.7 2000.44h35.9M1872.7 2152.59h35.9M1800.9 2913.34h35.9M1765 2974.2h35.9"/><path stroke="#6863a5" stroke-width="30.93" d="M1908.6 2000.44h35.9M1908.6 2061.3h35.9M1944.5 2304.74h35.9M1908.6 2335.18h35.9M1908.6 2396.03h35.9M1908.6 2487.32h35.9M1908.6 2517.76h35.9M1908.6 2669.9h35.9M1765 2882.91h35.9"/><path stroke="#e0d9eb" stroke-width="30.93" d="M1765 2030.88h35.9M1765 2091.74h35.9M1872.7 2578.61h35.9M1872.7 2609.05h35.9M1800.9 2943.78h35.9"/><path stroke="#ff5f5f" stroke-width="30.93" d="M1800.9 2030.88h35.9M1800.9 2183.03h35.9M1836.8 2274.32h35.9M1908.6 2943.78h35.9"/><path stroke="#ff4b4b" stroke-width="30.93" d="M1836.8 2030.88h35.9M1800.9 2243.88h35.9"/><path stroke="#baafd4" stroke-width="30.93" d="M1872.7 2030.88h35.9M1872.7 2243.88h35.9M1872.7 2274.32h35.9"/><path stroke="#6460a3" stroke-width="30.93" d="M1908.6 2030.88h35.9M1944.5 2213.45h35.9M1908.6 2304.74h35.9M1908.6 2365.61h35.9M1908.6 2548.18h35.9M1836.8 2822.05h35.9M1836.8 2852.48h35.9M1765 2913.34h35.9"/><path stroke="#8279b4" stroke-width="30.93" d="M1944.5 2030.88h35.9M1908.6 2639.47h35.9M1800.9 2882.91h35.9"/><path stroke="#ff6464" stroke-width="30.93" d="M1800.9 2061.3h35.9M1765 2548.18h35.9M1765 2669.9h35.9M1800.9 2730.76h35.9"/><path stroke="#ff3f3f" stroke-width="30.93" d="M1836.8 2061.3h35.9M1800.9 2091.74h35.9"/><path stroke="#a99eca" stroke-width="30.93" d="M1872.7 2061.3h35.9M1872.7 2091.74h35.9M1872.7 2122.16h35.9"/><path stroke="#ff6a6a" stroke-width="30.93" d="M1836.8 2091.74h35.9M1836.8 2213.45h35.9M1836.8 2243.88h35.9M1765 2456.89h35.9M1800.9 2669.9h35.9"/><path stroke="#7b73b0" stroke-width="30.93" d="M1908.6 2091.74h71.8M1944.5 2152.59h35.9M1944.5 2183.03h35.9M1765 2761.19h35.9"/><path stroke="#ffe6e9" stroke-width="30.93" d="M1765 2122.16h35.9M1765 2152.59h35.9M1836.8 2639.47h35.9M1908.6 2761.19h35.9"/><path stroke="#746cac" stroke-width="30.93" d="M1908.6 2122.16h71.8M1908.6 2152.59h35.9M1908.6 2243.88h35.9M1908.6 2274.32h35.9"/><path stroke="#fcf7fa" stroke-width="30.93" d="M1765 2183.03h35.9"/><path stroke="#efe9f4" stroke-width="30.93" d="M1872.7 2183.03h35.9"/><path stroke="#4a5099" stroke-width="30.93" d="M1908.6 2183.03h35.9M1944.5 2396.03h35.9M1944.5 2487.32h35.9M1944.5 2517.76h35.9M1908.6 2609.05h35.9M1944.5 2730.76h35.9M1836.8 2791.62h35.9"/><path stroke="#fdf2f4" stroke-width="30.93" d="M1765 2213.45h35.9M1872.7 2426.47h35.9M1872.7 2456.89h35.9M1872.7 2487.32h35.9M1908.6 2822.05h35.9M1944.5 2882.91h35.9M1944.5 2943.78h35.9"/><path stroke="#ff4848" stroke-width="30.93" d="M1800.9 2213.45h35.9M1872.7 2791.62h35.9"/><path stroke="#6f68a9" stroke-width="30.93" d="M1908.6 2213.45h35.9M1800.9 2974.2h35.9"/><path stroke="#ffd8db" stroke-width="30.93" d="M1765 2243.88h35.9M1944.5 2852.48h35.9"/><path stroke="#5a5aa0" stroke-width="30.93" d="M1944.5 2243.88h35.9M1944.5 2335.18h35.9M1908.6 2456.89h35.9M1944.5 2578.61h35.9M1944.5 2639.47h35.9M1800.9 2761.19h35.9"/><path stroke="#ffb6b7" stroke-width="30.93" d="M1765 2274.32h35.9"/><path stroke="#55579e" stroke-width="30.93" d="M1944.5 2274.32h35.9M1908.6 2426.47h71.8M1908.6 2578.61h35.9M1944.5 2700.34h35.9"/><path stroke="#ffcdd0" stroke-width="30.93" d="M1765 2304.74h35.9M1944.5 2974.2h35.9"/><path stroke="#ff5b5b" stroke-width="30.93" d="M1800.9 2304.74h35.9M1836.8 2396.03h35.9M1872.7 2943.78h35.9M1872.7 2974.2h35.9"/><path stroke="#b0a5ce" stroke-width="30.93" d="M1872.7 2304.74h35.9"/><path stroke="#ffc7c9" stroke-width="30.93" d="M1765 2335.18h35.9M1908.6 2791.62h35.9"/><path stroke="#ff7a7a" stroke-width="30.93" d="M1800.9 2335.18h35.9M1800.9 2456.89h35.9M1800.9 2609.05h35.9M1765 2730.76h35.9M1836.8 2730.76h35.9M1908.6 2913.34h35.9"/><path stroke="#ff4343" stroke-width="30.93" d="M1836.8 2335.18h35.9M1872.7 2913.34h35.9"/><path stroke="#cac1dd" stroke-width="30.93" d="M1872.7 2335.18h35.9"/><path stroke="#ff7474" stroke-width="30.93" d="M1765 2365.61h35.9M1765 2517.76h35.9M1800.9 2578.61h35.9M1944.5 2822.05h35.9"/><path stroke="#ff9a9a" stroke-width="30.93" d="M1800.9 2365.61h35.9"/><path stroke="#e8e2f0" stroke-width="30.93" d="M1872.7 2365.61h35.9M1836.8 2761.19h35.9"/><path stroke="#4e529b" stroke-width="30.93" d="M1944.5 2365.61h35.9"/><path stroke="#ff9696" stroke-width="30.93" d="M1765 2396.03h35.9M1872.7 2761.19h35.9"/><path stroke="#ff7f7f" stroke-width="30.93" d="M1800.9 2396.03h35.9M1765 2639.47h35.9M1836.8 2669.9h35.9M1765 2700.34h35.9"/><path stroke="#f9f4f8" stroke-width="30.93" d="M1872.7 2396.03h35.9M1872.7 2517.76h35.9"/><path stroke="#ff8585" stroke-width="30.93" d="M1765 2426.47h71.8M1944.5 2791.62h35.9"/><path stroke="#ffbdbe" stroke-width="30.93" d="M1836.8 2487.32h35.9"/><path stroke="#ff8f8f" stroke-width="30.93" d="M1836.8 2517.76h35.9M1836.8 2548.18h35.9"/><path stroke="#d9d1e6" stroke-width="30.93" d="M1872.7 2548.18h35.9"/><path stroke="#ffa5a5" stroke-width="30.93" d="M1836.8 2578.61h35.9"/><path stroke="#ffafb0" stroke-width="30.93" d="M1836.8 2609.05h35.9"/><path stroke="#ff3a3a" stroke-width="30.93" d="M1800.9 2639.47h35.9M1944.5 2761.19h35.9M1872.7 2822.05h35.9"/><path stroke="#5f5da2" stroke-width="30.93" d="M1944.5 2669.9h35.9"/><path stroke="#ff8989" stroke-width="30.93" d="M1836.8 2700.34h35.9"/><path stroke="#958abf" stroke-width="30.93" d="M1908.6 2700.34h35.9M1765 2852.48h35.9"/><path stroke="#c0b6d7" stroke-width="30.93" d="M1872.7 2730.76h35.9M1836.8 2882.91h35.9"/><path stroke="#9c91c3" stroke-width="30.93" d="M1800.9 2791.62h35.9"/><path stroke="#ff3737" stroke-width="30.93" d="M1872.7 2852.48h35.9M1872.7 2882.91h35.9"/><path stroke="#ffdfe2" stroke-width="30.93" d="M1944.5 2913.34h35.9"/></g><g font-family="Liberation Serif, serif" font-size="28" fill="#1e1818" stroke="#1e1818" stroke-width="0.35"><text transform="translate(1989 1979.51) scale(0.64 1.12)">PE(14:1e/20:4)</text><text transform="translate(1989 2009.94) scale(0.64 1.12)">HexCer/NS(d27:2/16:0)</text><text transform="translate(1989 2040.38) scale(0.64 1.12)">Cer/NS(d18:1/26:1)</text><text transform="translate(1989 2070.8) scale(0.64 1.12)">PC(20:0/20:1)</text><text transform="translate(1989 2101.24) scale(0.64 1.12)">Cer/NDS(d18:0/14:0)</text><text transform="translate(1989 2131.66) scale(0.64 1.12)">HexCer/NS(d18:1/26:1)</text><text transform="translate(1989 2162.09) scale(0.64 1.12)">HexCer/NS(d25:2/16:0)</text><text transform="translate(1989 2192.53) scale(0.64 1.12)">Cer/NS(d18:2/25:1)</text><text transform="translate(1989 2222.95) scale(0.64 1.12)">SQDG(18:0/20:5)</text><text transform="translate(1989 2253.38) scale(0.64 1.12)">GlcADG(20:0/20:0)</text><text transform="translate(1989 2283.82) scale(0.64 1.12)">HexCer/NS(d18:1/24:1)</text><text transform="translate(1989 2314.24) scale(0.64 1.12)">MGDG(14:0/24:1)</text><text transform="translate(1989 2344.68) scale(0.64 1.12)">Cer/NS(d19:1/24:1)</text><text transform="translate(1989 2375.11) scale(0.64 1.12)">PEtOH(19:0/20:5)</text><text transform="translate(1989 2405.53) scale(0.64 1.12)">HBMP(12:0/14:0/18:2)</text><text transform="translate(1989 2435.97) scale(0.64 1.12)">HexCer/NS(d15:3/32:2)</text><text transform="translate(1989 2466.39) scale(0.64 1.12)">PE(16:1/20:5)</text><text transform="translate(1989 2496.82) scale(0.64 1.12)">SQDG(17:0/17:0)</text><text transform="translate(1989 2527.26) scale(0.64 1.12)">SHexCer(d37:1)</text><text transform="translate(1989 2557.68) scale(0.64 1.12)">SQDG(20:3/20:3)</text><text transform="translate(1989 2588.11) scale(0.64 1.12)">OxPI(16:0/18:1+3O)</text><text transform="translate(1989 2618.55) scale(0.64 1.12)">Cer/NDS(d19:0/22:1)</text><text transform="translate(1989 2648.97) scale(0.64 1.12)">SM(d14:2/28:2)</text><text transform="translate(1989 2679.4) scale(0.64 1.12)">PI(20:1/22:4)</text><text transform="translate(1989 2709.84) scale(0.64 1.12)">FAHFA(24:2/20:4)</text><text transform="translate(1989 2740.26) scale(0.64 1.12)">PE(22:5e/15:0)</text><text transform="translate(1989 2770.69) scale(0.64 1.12)">GlcADG(16:0/22:2)</text><text transform="translate(1989 2801.12) scale(0.64 1.12)">PEtOH(18:1/18:1)</text><text transform="translate(1989 2831.55) scale(0.64 1.12)">PEtOH(16:1/18:1)</text><text transform="translate(1989 2861.98) scale(0.64 1.12)">PC(18:0/18:1)</text><text transform="translate(1989 2892.41) scale(0.64 1.12)">PC(18:1/20:2)</text><text transform="translate(1989 2922.84) scale(0.64 1.12)">PE(18:0/19:2)</text><text transform="translate(1989 2953.28) scale(0.64 1.12)">SM(d14:0/22:2)</text><text transform="translate(1989 2983.7) scale(0.64 1.12)">PE(16:0/22:0)</text></g><path fill="none" stroke="#1a1414" stroke-width="3" d="M1765.0 2030.9H1755.8V2061.3H1765.0M1765.0 2000.4H1747.7V2046.1H1755.8M1765.0 2122.2H1756.5V2152.6H1765.0M1765.0 2091.7H1743.9V2137.4H1756.5M1747.7 2023.3H1740.4V2114.6H1743.9M1765.0 2243.9H1754.8V2274.3H1765.0M1754.8 2259.1H1751.6V2304.7H1765.0M1765.0 2213.5H1746.1V2281.9H1751.6M1746.1 2247.7H1738.1V2335.2H1765.0M1765.0 2183.0H1734.6V2291.4H1738.1M1740.4 2068.9H1725.1V2237.2H1734.6M1765.0 1970.0H1711.7V2153.1H1725.1M1765.0 2396.0H1752.3V2426.5H1765.0M1765.0 2365.6H1748.3V2411.2H1752.3M1765.0 2456.9H1753.3V2487.3H1765.0M1753.3 2472.1H1750.6V2517.8H1765.0M1765.0 2548.2H1752.3V2578.6H1765.0M1750.6 2494.9H1745.1V2563.4H1752.3M1745.1 2529.2H1733.5V2609.0H1765.0M1765.0 2700.3H1750.3V2730.8H1765.0M1765.0 2669.9H1742.5V2715.6H1750.3M1765.0 2639.5H1728.4V2692.7H1742.5M1733.5 2569.1H1721.8V2666.1H1728.4M1748.3 2388.4H1711.0V2617.6H1721.8M1711.7 2061.5H1693.7V2503.0H1711.0M1765.0 2791.6H1742.8V2822.1H1765.0M1765.0 2882.9H1746.8V2913.3H1765.0M1765.0 2852.5H1733.7V2898.1H1746.8M1765.0 2943.8H1728.0V2974.2H1765.0M1733.7 2875.3H1725.7V2959.0H1728.0M1742.8 2806.8H1701.9V2917.1H1725.7M1765.0 2761.2H1685.7V2862.0H1701.9M1693.7 2282.3H1609.0V2811.6H1685.7"/><g font-family="Liberation Serif, serif" font-size="30" fill="#1a1414" stroke="#1a1414" stroke-width="0.35"><text transform="translate(1775.45 3007) rotate(90) scale(1 0.77)">LTA10</text><text transform="translate(1811.35 3007) rotate(90) scale(1 0.77)">LTA10</text><text transform="translate(1847.25 3007) rotate(90) scale(1 0.77)">LTA10</text><text transform="translate(1883.15 3007) rotate(90) scale(1 0.77)">CON</text><text transform="translate(1919.05 3007) rotate(90) scale(1 0.77)">CON</text><text transform="translate(1954.95 3007) rotate(90) scale(1 0.77)">CON</text></g><rect x="2196.4" y="1969.9" width="30.4" height="14.96" fill="#ff3636"/><rect x="2196.4" y="1984.46" width="30.4" height="14.96" fill="#ff3c3c"/><rect x="2196.4" y="1999.02" width="30.4" height="14.96" fill="#ff4343"/><rect x="2196.4" y="2013.57" width="30.4" height="14.96" fill="#ff4a4a"/><rect x="2196.4" y="2028.13" width="30.4" height="14.96" fill="#ff5151"/><rect x="2196.4" y="2042.69" width="30.4" height="14.96" fill="#ff5858"/><rect x="2196.4" y="2057.24" width="30.4" height="14.96" fill="#ff6161"/><rect x="2196.4" y="2071.8" width="30.4" height="14.96" fill="#ff6969"/><rect x="2196.4" y="2086.36" width="30.4" height="14.96" fill="#ff7171"/><rect x="2196.4" y="2100.92" width="30.4" height="14.96" fill="#ff7a7a"/><rect x="2196.4" y="2115.47" width="30.4" height="14.96" fill="#ff8383"/><rect x="2196.4" y="2130.03" width="30.4" height="14.96" fill="#ff8c8c"/><rect x="2196.4" y="2144.59" width="30.4" height="14.96" fill="#ff9595"/><rect x="2196.4" y="2159.15" width="30.4" height="14.96" fill="#ff9f9f"/><rect x="2196.4" y="2173.7" width="30.4" height="14.96" fill="#ffaaaa"/><rect x="2196.4" y="2188.26" width="30.4" height="14.96" fill="#ffb8b9"/><rect x="2196.4" y="2202.82" width="30.4" height="14.96" fill="#ffc6c9"/><rect x="2196.4" y="2217.38" width="30.4" height="14.96" fill="#ffd5d8"/><rect x="2196.4" y="2231.93" width="30.4" height="14.96" fill="#ffe5e7"/><rect x="2196.4" y="2246.49" width="30.4" height="14.96" fill="#fdf1f4"/><rect x="2196.4" y="2261.05" width="30.4" height="14.96" fill="#f5f0f7"/><rect x="2196.4" y="2275.61" width="30.4" height="14.96" fill="#e6e0ef"/><rect x="2196.4" y="2290.16" width="30.4" height="14.96" fill="#d6cde4"/><rect x="2196.4" y="2304.72" width="30.4" height="14.96" fill="#c7bddb"/><rect x="2196.4" y="2319.28" width="30.4" height="14.96" fill="#b9aed3"/><rect x="2196.4" y="2333.84" width="30.4" height="14.96" fill="#aa9fcb"/><rect x="2196.4" y="2348.39" width="30.4" height="14.96" fill="#9f93c4"/><rect x="2196.4" y="2362.95" width="30.4" height="14.96" fill="#958abf"/><rect x="2196.4" y="2377.51" width="30.4" height="14.96" fill="#8a80b9"/><rect x="2196.4" y="2392.07" width="30.4" height="14.96" fill="#8077b3"/><rect x="2196.4" y="2406.62" width="30.4" height="14.96" fill="#766ead"/><rect x="2196.4" y="2421.18" width="30.4" height="14.96" fill="#6b65a7"/><rect x="2196.4" y="2435.74" width="30.4" height="14.96" fill="#6460a4"/><rect x="2196.4" y="2450.3" width="30.4" height="14.96" fill="#5d5ca1"/><rect x="2196.4" y="2464.86" width="30.4" height="14.96" fill="#56579e"/><rect x="2196.4" y="2479.41" width="30.4" height="14.96" fill="#51549c"/><rect x="2196.4" y="2493.97" width="30.4" height="14.96" fill="#4b519a"/><rect x="2196.4" y="2508.53" width="30.4" height="14.96" fill="#464e98"/><rect x="2196.4" y="2523.09" width="30.4" height="14.96" fill="#424d97"/><rect x="2196.4" y="2537.64" width="30.4" height="14.96" fill="#3f4c96"/><g font-family="Liberation Serif, serif" font-size="24" fill="#2a2424"><text transform="translate(2238 2014.3) scale(0.7 1)">1.5</text><text transform="translate(2238 2099.5) scale(0.7 1)">1</text><text transform="translate(2238 2184.3) scale(0.7 1)">0.5</text><text transform="translate(2238 2268.6) scale(0.7 1)">0</text><text transform="translate(2238 2353.7) scale(0.7 1)">−0.5</text><text transform="translate(2238 2437.2) scale(0.7 1)">−1</text><text transform="translate(2238 2522.9) scale(0.7 1)">−1.5</text></g></svg></body></html>
